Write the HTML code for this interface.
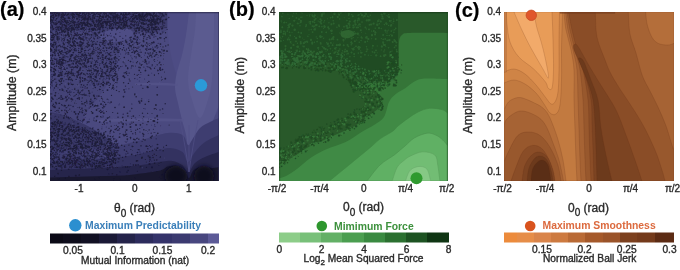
<!DOCTYPE html>
<html><head><meta charset="utf-8">
<style>
html,body{margin:0;padding:0;background:#fff;width:680px;height:270px;overflow:hidden}
body>svg{display:block;filter:blur(0.4px)}
text{font-family:"Liberation Sans",sans-serif;fill:#2a2a2a;stroke:#2a2a2a;stroke-width:0.35px}
.t{font-size:10px}
.pl{font-size:20px;font-weight:bold;fill:#000;stroke:#000;stroke-width:0.2px}
.yl{font-size:12.3px}
.xl{font-size:12px}
.lg{font-size:10.4px;font-weight:bold}
.cb{font-size:10.2px}
</style></head><body>
<svg width="680" height="270" viewBox="0 0 680 270">
<!-- panel labels -->
<text class="pl" x="0" y="15.5">(a)</text>
<text class="pl" x="229" y="15.5">(b)</text>
<text class="pl" x="455" y="17">(c)</text>

<!-- PLOT A -->
<g id="pa"><svg x="0" y="0" width="680" height="270" overflow="visible"><clipPath id="ca"><rect x="50" y="12" width="169" height="169"/></clipPath><g clip-path="url(#ca)"><filter id="bl" x="-20%" y="-20%" width="140%" height="140%"><feGaussianBlur stdDeviation="0.45"/></filter><filter id="bl2" x="-50%" y="-50%" width="200%" height="200%"><feGaussianBlur stdDeviation="2.5"/></filter><rect x="50" y="12" width="169" height="169" fill="#4a497f"/><path d="M50.0,12.0L168.0,12.0C167.7,15.2 170.7,27.5 166.0,31.0C161.3,34.5 147.3,31.5 140.0,33.0C132.7,34.5 125.7,35.5 122.0,40.0C118.3,44.5 120.0,53.3 118.0,60.0C116.0,66.7 113.0,74.2 110.0,80.0C107.0,85.8 104.2,89.2 100.0,95.0C95.8,100.8 89.2,108.3 85.0,115.0C80.8,121.7 78.3,129.2 75.0,135.0C71.7,140.8 69.2,145.8 65.0,150.0C60.8,154.2 52.5,158.3 50.0,160.0L50.0,12.0Z" fill="#444377" /><path d="M50.0,12.0L168.0,12.0L167.0,28.0C164.2,28.5 157.8,30.5 150.0,31.0C142.2,31.5 130.0,31.2 120.0,31.0C110.0,30.8 101.7,30.0 90.0,30.0C78.3,30.0 56.7,30.8 50.0,31.0L50.0,12.0Z" fill="#3d3c6d" /><path d="M98.0,36.0C98.3,34.0 105.0,31.2 110.0,30.0C115.0,28.8 124.2,28.3 128.0,29.0C131.8,29.7 133.5,32.2 133.0,34.0C132.5,35.8 129.2,38.7 125.0,40.0C120.8,41.3 112.5,42.7 108.0,42.0C103.5,41.3 97.7,38.0 98.0,36.0Z" fill="#4e4d85" /><path d="M167.5,12.0L219.0,12.0L219.0,110.0C216.7,112.5 209.8,125.0 205.0,125.0C200.2,125.0 194.2,116.7 190.0,110.0C185.8,103.3 183.0,93.3 180.0,85.0C177.0,76.7 174.0,68.3 172.0,60.0C170.0,51.7 168.8,43.0 168.0,35.0C167.2,27.0 167.6,15.8 167.5,12.0Z" fill="#4d4c84" /><path d="M189.0,12.0L219.0,12.0L219.0,105.0C218.2,107.2 216.2,112.5 214.0,118.0C211.8,123.5 209.0,131.7 206.0,138.0C203.0,144.3 198.7,151.0 196.0,156.0C193.3,161.0 191.3,169.0 190.0,168.0C188.7,167.0 188.7,155.5 188.0,150.0C187.3,144.5 187.0,140.0 186.0,135.0C185.0,130.0 183.3,125.3 182.0,120.0C180.7,114.7 179.2,108.3 178.0,103.0C176.8,97.7 175.2,93.2 175.0,88.0C174.8,82.8 175.8,77.5 177.0,72.0C178.2,66.5 180.5,61.2 182.0,55.0C183.5,48.8 184.8,42.2 186.0,35.0C187.2,27.8 188.5,15.8 189.0,12.0Z" fill="#56568b" /><path d="M196.0,12.0L214.0,12.0C214.0,15.0 214.2,22.8 214.0,30.0C213.8,37.2 213.3,46.7 213.0,55.0C212.7,63.3 212.8,72.5 212.0,80.0C211.2,87.5 210.0,93.7 208.0,100.0C206.0,106.3 202.7,118.0 200.0,118.0C197.3,118.0 194.0,106.3 192.0,100.0C190.0,93.7 188.2,87.5 188.0,80.0C187.8,72.5 189.8,63.3 191.0,55.0C192.2,46.7 194.2,37.2 195.0,30.0C195.8,22.8 195.8,15.0 196.0,12.0Z" fill="#5b5b90" /><path d="M50.0,112.0L60.0,114.0C62.5,115.0 69.2,117.3 75.0,120.0C80.8,122.7 88.8,126.3 95.0,130.0C101.2,133.7 107.5,137.8 112.0,142.0C116.5,146.2 121.0,151.2 122.0,155.0C123.0,158.8 130.0,162.5 118.0,165.0C106.0,167.5 61.3,169.2 50.0,170.0L50.0,112.0Z" fill="#383766" /><path d="M50.0,150.0L80.0,151.0C85.4,150.3 101.7,149.0 112.5,147.0C123.3,145.0 135.8,141.3 145.0,139.0C154.2,136.7 161.2,133.7 167.5,133.0C173.8,132.3 179.1,133.0 182.5,135.0C185.9,137.0 186.4,144.2 188.0,145.0C189.6,145.8 190.0,142.8 192.0,140.0C194.0,137.2 197.0,131.0 200.0,128.0C203.0,125.0 206.8,123.7 210.0,122.0C213.2,120.3 217.5,118.7 219.0,118.0L219.0,181.0L50.0,181.0L50.0,150.0Z" fill="#3e3d70" /><path d="M50.0,161.0L87.5,160.0C93.8,159.4 113.8,158.1 125.0,156.5C136.2,154.9 147.5,151.9 155.0,150.5C162.5,149.1 165.4,147.8 170.0,148.0C174.6,148.2 179.5,149.7 182.5,152.0C185.5,154.3 185.9,162.0 188.0,162.0C190.1,162.0 192.2,155.3 195.0,152.0C197.8,148.7 201.0,144.8 205.0,142.0C209.0,139.2 216.7,136.2 219.0,135.0L219.0,181.0L50.0,181.0L50.0,161.0Z" fill="#333260" /><path d="M50.0,170.0L100.0,168.0C106.2,167.6 127.1,166.6 137.5,165.5C147.9,164.4 156.7,162.2 162.5,161.5C168.3,160.8 169.2,160.4 172.5,161.0C175.8,161.6 179.3,163.2 182.0,165.0C184.7,166.8 186.3,172.3 188.5,172.0C190.7,171.7 192.2,165.5 195.0,163.0C197.8,160.5 201.0,158.8 205.0,157.0C209.0,155.2 216.7,152.8 219.0,152.0L219.0,181.0L50.0,181.0L50.0,170.0Z" fill="#26254b" /><path d="M50.0,177.5L125.0,175.5C130.5,174.8 150.8,172.5 158.0,171.0C165.2,169.5 164.8,167.3 168.0,166.5C171.2,165.7 174.2,165.2 177.0,166.0C179.8,166.8 183.0,169.0 185.0,171.0C187.0,173.0 187.5,178.2 189.0,178.0C190.5,177.8 191.5,171.9 193.8,170.0C196.0,168.1 199.4,166.8 202.5,166.5C205.6,166.2 209.8,167.9 212.5,168.0C215.2,168.1 217.9,167.2 219.0,167.0L219.0,181.0L50.0,181.0L50.0,177.5Z" fill="#19182f" /><g fill="#55548a" opacity="0.8"><path d="M135,83.5 Q160,82 178,84 L178,86 Q160,85 135,85Z"/><path d="M95,120 Q140,117 184,119 L184,121.5 Q140,121 95,122Z"/></g><g fill="#0e0d1b" filter="url(#bl2)"><ellipse cx="176" cy="176" rx="11" ry="10"/><ellipse cx="204" cy="176" rx="10" ry="10"/></g><g stroke="#504f85" stroke-width="1" fill="none" opacity="0.7"><path d="M180,120 Q186,150 189,172"/><path d="M198,120 Q192,150 189,172"/><path d="M189,125 L189,172"/></g><g fill="#17162e" opacity="0.8" filter="url(#bl)"><circle cx="59.8" cy="97.8" r="0.6"/><circle cx="61.8" cy="27.3" r="0.8"/><circle cx="98.9" cy="36.4" r="0.5"/><circle cx="60.6" cy="22.1" r="0.7"/><circle cx="132.6" cy="18.6" r="0.8"/><circle cx="130.1" cy="124.2" r="0.7"/><circle cx="53.8" cy="90.0" r="0.4"/><circle cx="60.0" cy="141.8" r="0.5"/><circle cx="116.1" cy="159.3" r="0.6"/><circle cx="75.5" cy="41.8" r="0.5"/><circle cx="60.5" cy="23.4" r="0.4"/><circle cx="107.5" cy="20.9" r="0.4"/><circle cx="67.1" cy="73.5" r="0.8"/><circle cx="153.8" cy="37.1" r="0.5"/><circle cx="64.5" cy="29.3" r="0.5"/><circle cx="141.8" cy="16.6" r="0.9"/><circle cx="110.1" cy="16.9" r="0.5"/><circle cx="88.3" cy="45.2" r="0.7"/><circle cx="142.7" cy="34.1" r="0.9"/><circle cx="85.7" cy="54.6" r="0.5"/><circle cx="72.2" cy="165.8" r="0.6"/><circle cx="138.5" cy="15.2" r="0.5"/><circle cx="50.7" cy="147.1" r="0.6"/><circle cx="96.8" cy="142.5" r="0.7"/><circle cx="73.2" cy="32.6" r="0.4"/><circle cx="90.7" cy="24.4" r="0.8"/><circle cx="103.8" cy="134.0" r="0.7"/><circle cx="124.4" cy="15.1" r="0.7"/><circle cx="136.6" cy="22.9" r="0.8"/><circle cx="56.7" cy="143.7" r="0.4"/><circle cx="146.4" cy="130.4" r="0.4"/><circle cx="64.2" cy="156.7" r="0.8"/><circle cx="139.0" cy="52.3" r="0.4"/><circle cx="58.5" cy="46.1" r="0.5"/><circle cx="80.1" cy="70.6" r="0.5"/><circle cx="52.6" cy="135.9" r="0.5"/><circle cx="118.4" cy="70.7" r="0.4"/><circle cx="62.0" cy="137.2" r="0.4"/><circle cx="99.5" cy="89.6" r="0.6"/><circle cx="102.3" cy="72.3" r="0.6"/><circle cx="135.3" cy="12.8" r="0.4"/><circle cx="117.5" cy="19.0" r="0.5"/><circle cx="55.3" cy="34.5" r="0.4"/><circle cx="61.2" cy="136.5" r="0.4"/><circle cx="94.9" cy="135.3" r="0.8"/><circle cx="154.3" cy="120.6" r="0.4"/><circle cx="92.9" cy="137.6" r="0.7"/><circle cx="52.1" cy="22.3" r="0.7"/><circle cx="70.0" cy="163.0" r="0.9"/><circle cx="85.6" cy="110.3" r="0.6"/><circle cx="89.1" cy="163.7" r="0.4"/><circle cx="103.4" cy="154.0" r="0.8"/><circle cx="96.5" cy="20.2" r="0.8"/><circle cx="94.9" cy="98.4" r="0.6"/><circle cx="142.8" cy="133.6" r="0.8"/><circle cx="98.4" cy="20.3" r="0.4"/><circle cx="116.6" cy="40.3" r="0.5"/><circle cx="73.6" cy="44.5" r="0.5"/><circle cx="65.4" cy="52.4" r="0.7"/><circle cx="107.2" cy="22.5" r="0.9"/><circle cx="53.7" cy="17.4" r="0.8"/><circle cx="130.0" cy="111.2" r="0.6"/><circle cx="56.7" cy="144.2" r="0.9"/><circle cx="159.1" cy="63.3" r="0.5"/><circle cx="51.8" cy="63.0" r="0.9"/><circle cx="88.3" cy="17.8" r="0.6"/><circle cx="81.7" cy="49.7" r="0.7"/><circle cx="58.8" cy="22.2" r="0.8"/><circle cx="106.1" cy="40.6" r="0.5"/><circle cx="55.9" cy="22.6" r="0.5"/><circle cx="94.3" cy="133.1" r="0.5"/><circle cx="157.1" cy="171.4" r="0.5"/><circle cx="115.3" cy="54.4" r="0.6"/><circle cx="111.2" cy="144.2" r="0.5"/><circle cx="94.8" cy="26.2" r="0.6"/><circle cx="70.5" cy="154.1" r="0.7"/><circle cx="91.8" cy="53.5" r="0.8"/><circle cx="99.6" cy="32.1" r="0.9"/><circle cx="84.4" cy="13.9" r="0.7"/><circle cx="81.3" cy="64.8" r="0.8"/><circle cx="142.6" cy="22.7" r="0.6"/><circle cx="143.0" cy="120.0" r="0.4"/><circle cx="83.3" cy="135.0" r="0.4"/><circle cx="77.5" cy="14.5" r="0.7"/><circle cx="77.1" cy="144.8" r="0.6"/><circle cx="145.0" cy="140.0" r="0.8"/><circle cx="125.5" cy="86.1" r="0.7"/><circle cx="122.8" cy="27.5" r="0.6"/><circle cx="56.9" cy="119.6" r="0.8"/><circle cx="96.5" cy="149.8" r="0.6"/><circle cx="135.5" cy="65.9" r="0.5"/><circle cx="110.8" cy="159.5" r="0.7"/><circle cx="110.9" cy="141.2" r="0.4"/><circle cx="50.3" cy="17.7" r="0.7"/><circle cx="53.8" cy="12.4" r="0.4"/><circle cx="91.2" cy="37.2" r="0.7"/><circle cx="94.7" cy="13.9" r="0.7"/><circle cx="118.6" cy="52.2" r="0.8"/><circle cx="79.5" cy="64.3" r="0.4"/><circle cx="88.2" cy="29.8" r="0.4"/><circle cx="52.6" cy="56.0" r="0.8"/><circle cx="63.1" cy="165.9" r="0.4"/><circle cx="74.0" cy="16.9" r="0.7"/><circle cx="68.9" cy="17.8" r="0.8"/><circle cx="98.6" cy="28.9" r="0.8"/><circle cx="84.6" cy="65.9" r="0.4"/><circle cx="65.4" cy="150.5" r="0.4"/><circle cx="108.7" cy="152.6" r="0.9"/><circle cx="64.6" cy="162.1" r="0.5"/><circle cx="94.5" cy="164.3" r="0.6"/><circle cx="77.2" cy="67.4" r="0.9"/><circle cx="83.2" cy="119.8" r="0.5"/><circle cx="115.6" cy="17.7" r="0.8"/><circle cx="56.4" cy="103.8" r="0.8"/><circle cx="110.1" cy="21.6" r="0.6"/><circle cx="116.2" cy="47.8" r="0.8"/><circle cx="110.0" cy="155.8" r="0.6"/><circle cx="92.8" cy="84.0" r="0.4"/><circle cx="73.7" cy="152.5" r="0.4"/><circle cx="92.3" cy="29.2" r="0.5"/><circle cx="89.6" cy="35.5" r="0.4"/><circle cx="51.1" cy="154.1" r="0.7"/><circle cx="157.7" cy="119.5" r="0.7"/><circle cx="99.5" cy="151.9" r="0.6"/><circle cx="157.3" cy="144.5" r="0.7"/><circle cx="100.8" cy="13.0" r="0.9"/><circle cx="127.4" cy="140.9" r="0.4"/><circle cx="59.2" cy="107.9" r="0.4"/><circle cx="125.5" cy="14.4" r="0.7"/><circle cx="85.9" cy="37.6" r="0.4"/><circle cx="64.9" cy="159.0" r="0.4"/><circle cx="81.7" cy="20.5" r="0.7"/><circle cx="160.0" cy="150.1" r="0.5"/><circle cx="132.2" cy="22.1" r="0.7"/><circle cx="145.8" cy="61.4" r="0.9"/><circle cx="97.9" cy="12.3" r="0.6"/><circle cx="82.0" cy="44.5" r="0.7"/><circle cx="137.4" cy="37.2" r="0.9"/><circle cx="108.3" cy="99.8" r="0.4"/><circle cx="56.4" cy="46.0" r="0.4"/><circle cx="87.5" cy="18.5" r="0.5"/><circle cx="93.4" cy="33.0" r="0.4"/><circle cx="52.1" cy="133.2" r="0.4"/><circle cx="107.4" cy="151.1" r="0.7"/><circle cx="74.1" cy="49.5" r="0.7"/><circle cx="95.0" cy="81.6" r="0.5"/><circle cx="98.9" cy="163.5" r="0.7"/><circle cx="99.6" cy="177.4" r="0.8"/><circle cx="107.6" cy="35.7" r="0.8"/><circle cx="84.2" cy="23.1" r="0.6"/><circle cx="133.3" cy="14.6" r="0.6"/><circle cx="112.7" cy="112.5" r="0.6"/><circle cx="139.7" cy="102.8" r="0.9"/><circle cx="87.8" cy="42.8" r="0.5"/><circle cx="168.1" cy="45.0" r="0.7"/><circle cx="57.6" cy="32.8" r="0.6"/><circle cx="97.3" cy="32.6" r="0.4"/><circle cx="107.2" cy="52.6" r="0.6"/><circle cx="123.2" cy="97.3" r="0.4"/><circle cx="70.9" cy="34.2" r="0.6"/><circle cx="98.7" cy="53.1" r="0.7"/><circle cx="149.0" cy="14.0" r="0.8"/><circle cx="50.7" cy="141.4" r="0.6"/><circle cx="64.9" cy="167.5" r="0.8"/><circle cx="122.1" cy="165.9" r="0.4"/><circle cx="138.8" cy="28.7" r="0.6"/><circle cx="157.6" cy="19.2" r="0.8"/><circle cx="101.8" cy="128.7" r="0.5"/><circle cx="68.0" cy="28.9" r="0.6"/><circle cx="60.5" cy="14.1" r="0.5"/><circle cx="115.2" cy="21.2" r="0.7"/><circle cx="92.1" cy="19.4" r="0.8"/><circle cx="102.2" cy="159.9" r="0.8"/><circle cx="91.1" cy="41.3" r="0.5"/><circle cx="118.1" cy="23.1" r="0.8"/><circle cx="109.4" cy="53.4" r="0.5"/><circle cx="90.1" cy="17.9" r="0.5"/><circle cx="76.3" cy="131.3" r="0.5"/><circle cx="72.1" cy="131.4" r="0.8"/><circle cx="95.7" cy="142.4" r="0.7"/><circle cx="104.3" cy="124.0" r="0.7"/><circle cx="61.1" cy="64.6" r="0.4"/><circle cx="77.4" cy="45.5" r="0.6"/><circle cx="80.4" cy="153.9" r="0.7"/><circle cx="109.0" cy="12.2" r="0.8"/><circle cx="98.4" cy="19.3" r="0.7"/><circle cx="58.0" cy="53.3" r="0.8"/><circle cx="64.6" cy="129.4" r="0.8"/><circle cx="60.0" cy="72.5" r="0.5"/><circle cx="69.3" cy="60.9" r="0.5"/><circle cx="60.2" cy="59.5" r="0.7"/><circle cx="62.1" cy="13.8" r="0.8"/><circle cx="145.3" cy="30.4" r="0.6"/><circle cx="82.1" cy="103.8" r="0.9"/><circle cx="73.4" cy="16.7" r="0.8"/><circle cx="112.4" cy="152.5" r="0.4"/><circle cx="100.6" cy="110.2" r="0.7"/><circle cx="65.2" cy="18.8" r="0.5"/><circle cx="77.8" cy="62.0" r="0.7"/><circle cx="108.8" cy="45.0" r="0.5"/><circle cx="154.8" cy="149.1" r="0.7"/><circle cx="125.6" cy="26.4" r="0.6"/><circle cx="80.5" cy="162.4" r="0.4"/><circle cx="63.6" cy="81.0" r="0.6"/><circle cx="112.9" cy="14.6" r="0.5"/><circle cx="78.4" cy="138.0" r="0.8"/><circle cx="93.0" cy="44.6" r="0.8"/><circle cx="148.3" cy="31.2" r="0.4"/><circle cx="74.4" cy="159.9" r="0.7"/><circle cx="153.2" cy="24.8" r="0.5"/><circle cx="78.7" cy="73.0" r="0.7"/><circle cx="115.6" cy="71.8" r="0.7"/><circle cx="106.4" cy="15.5" r="0.9"/><circle cx="89.7" cy="71.0" r="0.4"/><circle cx="146.1" cy="63.1" r="0.4"/><circle cx="110.3" cy="142.9" r="0.8"/><circle cx="96.6" cy="55.5" r="0.4"/><circle cx="120.0" cy="19.7" r="0.5"/><circle cx="128.3" cy="14.3" r="0.7"/><circle cx="65.2" cy="149.6" r="0.6"/><circle cx="88.6" cy="139.9" r="0.4"/><circle cx="72.7" cy="22.2" r="0.7"/><circle cx="94.3" cy="85.3" r="0.5"/><circle cx="97.8" cy="68.0" r="0.8"/><circle cx="77.3" cy="127.4" r="0.6"/><circle cx="68.9" cy="176.7" r="0.9"/><circle cx="75.5" cy="136.4" r="0.4"/><circle cx="67.7" cy="15.4" r="0.5"/><circle cx="73.0" cy="84.4" r="0.7"/><circle cx="75.0" cy="136.8" r="0.4"/><circle cx="80.0" cy="56.7" r="0.4"/><circle cx="111.3" cy="13.8" r="0.7"/><circle cx="117.5" cy="65.8" r="0.9"/><circle cx="115.4" cy="77.1" r="0.4"/><circle cx="113.7" cy="52.7" r="0.4"/><circle cx="58.4" cy="129.3" r="0.7"/><circle cx="70.8" cy="38.0" r="0.4"/><circle cx="110.3" cy="147.7" r="0.6"/><circle cx="90.2" cy="74.7" r="0.6"/><circle cx="96.4" cy="66.8" r="0.8"/><circle cx="154.4" cy="74.8" r="0.6"/><circle cx="105.7" cy="24.0" r="0.6"/><circle cx="117.9" cy="18.9" r="0.7"/><circle cx="87.3" cy="25.0" r="0.4"/><circle cx="64.9" cy="139.3" r="0.4"/><circle cx="59.3" cy="128.8" r="0.7"/><circle cx="94.3" cy="64.9" r="0.8"/><circle cx="84.1" cy="20.8" r="0.6"/><circle cx="111.8" cy="147.4" r="0.9"/><circle cx="144.0" cy="20.6" r="0.6"/><circle cx="96.2" cy="146.5" r="0.7"/><circle cx="58.3" cy="157.8" r="0.7"/><circle cx="80.4" cy="167.9" r="0.8"/><circle cx="74.6" cy="167.1" r="0.4"/><circle cx="59.6" cy="129.6" r="0.8"/><circle cx="103.9" cy="106.7" r="0.9"/><circle cx="104.8" cy="154.2" r="0.8"/><circle cx="142.2" cy="27.8" r="0.8"/><circle cx="122.6" cy="126.7" r="0.8"/><circle cx="108.8" cy="138.8" r="0.9"/><circle cx="58.5" cy="68.3" r="0.5"/><circle cx="100.4" cy="23.7" r="0.4"/><circle cx="128.0" cy="17.7" r="0.4"/><circle cx="131.2" cy="37.2" r="0.8"/><circle cx="69.9" cy="91.1" r="0.6"/><circle cx="118.2" cy="46.4" r="0.5"/><circle cx="88.7" cy="138.8" r="0.5"/><circle cx="99.3" cy="162.5" r="0.7"/><circle cx="107.8" cy="149.0" r="0.9"/><circle cx="118.8" cy="26.9" r="0.8"/><circle cx="73.7" cy="45.5" r="0.5"/><circle cx="92.6" cy="153.7" r="0.5"/><circle cx="118.7" cy="26.7" r="0.8"/><circle cx="106.7" cy="48.1" r="0.8"/><circle cx="154.7" cy="61.4" r="0.5"/><circle cx="57.0" cy="151.1" r="0.5"/><circle cx="147.5" cy="19.9" r="0.8"/><circle cx="59.0" cy="62.3" r="0.9"/><circle cx="111.3" cy="167.1" r="0.5"/><circle cx="57.0" cy="151.7" r="0.5"/><circle cx="107.2" cy="23.1" r="0.6"/><circle cx="96.1" cy="48.0" r="0.4"/><circle cx="110.8" cy="130.2" r="0.8"/><circle cx="104.9" cy="12.6" r="0.4"/><circle cx="96.5" cy="22.0" r="0.7"/><circle cx="86.8" cy="146.1" r="0.8"/><circle cx="121.6" cy="22.7" r="0.7"/><circle cx="107.7" cy="44.1" r="0.5"/><circle cx="82.8" cy="136.4" r="0.6"/><circle cx="83.4" cy="130.9" r="0.5"/><circle cx="84.8" cy="14.2" r="0.7"/><circle cx="101.7" cy="19.5" r="0.5"/><circle cx="67.3" cy="30.0" r="0.8"/><circle cx="71.7" cy="30.4" r="0.6"/><circle cx="85.4" cy="54.6" r="0.8"/><circle cx="114.0" cy="13.5" r="0.8"/><circle cx="128.4" cy="19.3" r="0.6"/><circle cx="71.3" cy="45.8" r="0.7"/><circle cx="61.4" cy="134.4" r="0.6"/><circle cx="151.2" cy="22.6" r="0.9"/><circle cx="53.1" cy="140.0" r="0.9"/><circle cx="77.5" cy="98.5" r="0.8"/><circle cx="51.3" cy="137.9" r="0.8"/><circle cx="109.6" cy="27.9" r="0.8"/><circle cx="101.2" cy="140.8" r="0.7"/><circle cx="62.7" cy="31.2" r="0.7"/><circle cx="100.8" cy="70.9" r="0.4"/><circle cx="92.2" cy="81.7" r="0.5"/><circle cx="65.1" cy="47.9" r="0.8"/><circle cx="54.7" cy="128.8" r="0.5"/><circle cx="101.4" cy="22.8" r="0.4"/><circle cx="111.1" cy="36.0" r="0.6"/><circle cx="125.2" cy="135.1" r="0.9"/><circle cx="107.9" cy="152.7" r="0.8"/><circle cx="163.4" cy="58.9" r="0.5"/><circle cx="87.7" cy="23.0" r="0.8"/><circle cx="87.9" cy="44.8" r="0.6"/><circle cx="131.0" cy="41.4" r="0.6"/><circle cx="70.0" cy="23.5" r="0.6"/><circle cx="87.6" cy="137.8" r="0.8"/><circle cx="78.8" cy="158.1" r="0.4"/><circle cx="131.4" cy="42.4" r="0.7"/><circle cx="137.0" cy="16.1" r="0.8"/><circle cx="56.1" cy="86.2" r="0.5"/><circle cx="117.9" cy="126.8" r="0.9"/><circle cx="53.9" cy="75.2" r="0.8"/><circle cx="73.3" cy="52.6" r="0.9"/><circle cx="75.2" cy="35.2" r="0.7"/><circle cx="136.7" cy="31.7" r="0.7"/><circle cx="62.4" cy="137.3" r="0.6"/><circle cx="163.6" cy="147.1" r="0.6"/><circle cx="71.6" cy="49.6" r="0.5"/><circle cx="56.0" cy="35.0" r="0.6"/><circle cx="53.0" cy="126.2" r="0.6"/><circle cx="149.5" cy="45.5" r="0.6"/><circle cx="50.7" cy="50.9" r="0.7"/><circle cx="59.3" cy="26.2" r="0.4"/><circle cx="144.7" cy="20.7" r="0.7"/><circle cx="65.8" cy="124.1" r="0.4"/><circle cx="82.6" cy="110.4" r="0.7"/><circle cx="90.7" cy="55.7" r="0.6"/><circle cx="94.1" cy="38.6" r="0.8"/><circle cx="65.1" cy="20.3" r="0.4"/><circle cx="83.4" cy="32.2" r="0.6"/><circle cx="100.7" cy="23.6" r="0.8"/><circle cx="123.9" cy="26.5" r="0.4"/><circle cx="68.1" cy="149.5" r="0.5"/><circle cx="75.1" cy="156.4" r="0.4"/><circle cx="147.2" cy="13.8" r="0.7"/><circle cx="111.8" cy="75.3" r="0.6"/><circle cx="86.2" cy="69.5" r="0.4"/><circle cx="105.3" cy="16.4" r="0.5"/><circle cx="61.9" cy="23.4" r="0.5"/><circle cx="146.9" cy="29.9" r="0.8"/><circle cx="81.0" cy="165.8" r="0.8"/><circle cx="85.0" cy="16.0" r="0.8"/><circle cx="65.6" cy="13.0" r="0.7"/><circle cx="124.8" cy="26.6" r="0.8"/><circle cx="64.4" cy="44.6" r="0.6"/><circle cx="74.4" cy="40.6" r="0.7"/><circle cx="146.8" cy="13.1" r="0.8"/><circle cx="54.5" cy="66.6" r="0.6"/><circle cx="111.4" cy="163.3" r="0.6"/><circle cx="53.7" cy="44.6" r="0.8"/><circle cx="74.8" cy="50.5" r="0.5"/><circle cx="56.4" cy="21.5" r="0.4"/><circle cx="80.4" cy="37.7" r="0.8"/><circle cx="144.8" cy="36.1" r="0.6"/><circle cx="69.2" cy="159.2" r="0.7"/><circle cx="93.4" cy="135.4" r="0.4"/><circle cx="70.0" cy="138.6" r="0.7"/><circle cx="55.6" cy="92.8" r="0.8"/><circle cx="73.1" cy="149.7" r="0.5"/><circle cx="92.3" cy="166.2" r="0.8"/><circle cx="78.3" cy="35.2" r="0.6"/><circle cx="103.0" cy="16.8" r="0.4"/><circle cx="50.3" cy="20.3" r="0.9"/><circle cx="102.9" cy="108.1" r="0.6"/><circle cx="52.2" cy="46.3" r="0.8"/><circle cx="68.7" cy="138.1" r="0.4"/><circle cx="93.1" cy="35.9" r="0.4"/><circle cx="119.7" cy="103.9" r="0.4"/><circle cx="90.9" cy="151.3" r="0.4"/><circle cx="61.7" cy="25.9" r="0.4"/><circle cx="76.1" cy="63.6" r="0.9"/><circle cx="123.2" cy="123.7" r="0.8"/><circle cx="50.6" cy="49.6" r="0.5"/><circle cx="122.8" cy="38.3" r="0.6"/><circle cx="104.4" cy="21.1" r="0.7"/><circle cx="124.0" cy="12.6" r="0.7"/><circle cx="114.3" cy="125.5" r="0.4"/><circle cx="60.3" cy="72.9" r="0.9"/><circle cx="81.0" cy="38.7" r="0.9"/><circle cx="150.6" cy="55.1" r="0.6"/><circle cx="114.1" cy="13.9" r="0.8"/><circle cx="81.8" cy="15.4" r="0.7"/><circle cx="147.1" cy="66.4" r="0.5"/><circle cx="70.7" cy="48.0" r="0.6"/><circle cx="111.4" cy="164.5" r="0.9"/><circle cx="90.6" cy="156.8" r="0.7"/><circle cx="113.7" cy="18.4" r="0.8"/><circle cx="95.5" cy="143.2" r="0.9"/><circle cx="59.2" cy="76.3" r="0.7"/><circle cx="115.4" cy="147.1" r="0.5"/><circle cx="50.4" cy="27.8" r="0.6"/><circle cx="112.8" cy="157.5" r="0.8"/><circle cx="145.2" cy="60.0" r="0.9"/><circle cx="113.4" cy="136.0" r="0.5"/><circle cx="103.1" cy="105.1" r="0.6"/><circle cx="154.2" cy="34.8" r="0.7"/><circle cx="153.4" cy="17.6" r="0.9"/><circle cx="79.9" cy="151.9" r="0.4"/><circle cx="84.3" cy="163.9" r="0.4"/><circle cx="106.9" cy="23.2" r="0.7"/><circle cx="70.4" cy="39.0" r="0.5"/><circle cx="136.2" cy="96.7" r="0.8"/><circle cx="76.0" cy="167.2" r="0.6"/><circle cx="109.7" cy="149.3" r="0.5"/><circle cx="50.3" cy="147.0" r="0.8"/><circle cx="71.2" cy="143.4" r="0.8"/><circle cx="82.0" cy="29.0" r="0.6"/><circle cx="83.7" cy="18.5" r="0.7"/><circle cx="101.8" cy="134.9" r="0.7"/><circle cx="58.5" cy="54.0" r="0.5"/><circle cx="87.8" cy="13.4" r="0.4"/><circle cx="85.3" cy="18.2" r="0.6"/><circle cx="150.9" cy="68.9" r="0.7"/><circle cx="98.5" cy="145.6" r="0.7"/><circle cx="61.5" cy="170.2" r="0.7"/><circle cx="112.3" cy="42.4" r="0.6"/><circle cx="116.4" cy="139.6" r="0.4"/><circle cx="101.0" cy="133.0" r="0.6"/><circle cx="71.4" cy="92.0" r="0.4"/><circle cx="87.6" cy="25.8" r="0.5"/><circle cx="151.0" cy="157.9" r="0.4"/><circle cx="97.0" cy="96.0" r="0.6"/><circle cx="96.4" cy="120.6" r="0.8"/><circle cx="133.8" cy="50.7" r="0.6"/><circle cx="63.4" cy="157.9" r="0.5"/><circle cx="166.2" cy="19.3" r="0.9"/><circle cx="87.8" cy="155.3" r="0.8"/><circle cx="101.1" cy="57.2" r="0.4"/><circle cx="123.6" cy="76.2" r="0.8"/><circle cx="113.4" cy="12.1" r="0.5"/><circle cx="92.8" cy="16.1" r="0.7"/><circle cx="94.9" cy="79.5" r="0.7"/><circle cx="79.5" cy="24.8" r="0.4"/><circle cx="52.0" cy="27.8" r="0.6"/><circle cx="52.1" cy="76.8" r="0.7"/><circle cx="100.0" cy="140.6" r="0.5"/><circle cx="104.1" cy="160.1" r="0.8"/><circle cx="90.2" cy="76.4" r="0.7"/><circle cx="76.3" cy="34.6" r="0.7"/><circle cx="97.6" cy="142.4" r="0.8"/><circle cx="77.0" cy="30.0" r="0.8"/><circle cx="77.4" cy="24.4" r="0.4"/><circle cx="162.9" cy="26.1" r="0.7"/><circle cx="55.3" cy="69.6" r="0.8"/><circle cx="86.2" cy="67.0" r="0.8"/><circle cx="93.7" cy="29.4" r="0.8"/><circle cx="119.9" cy="179.5" r="0.8"/><circle cx="86.1" cy="139.2" r="0.6"/><circle cx="111.8" cy="30.2" r="0.6"/><circle cx="59.1" cy="38.9" r="0.8"/><circle cx="57.2" cy="23.2" r="0.7"/><circle cx="101.0" cy="23.3" r="0.7"/><circle cx="87.9" cy="19.4" r="0.4"/><circle cx="125.3" cy="51.4" r="0.4"/><circle cx="108.7" cy="148.4" r="0.7"/><circle cx="157.9" cy="28.9" r="0.5"/><circle cx="100.5" cy="134.2" r="0.8"/><circle cx="114.0" cy="178.7" r="0.8"/><circle cx="132.7" cy="18.2" r="0.5"/><circle cx="129.7" cy="12.1" r="0.7"/><circle cx="83.4" cy="64.5" r="0.4"/><circle cx="79.2" cy="135.6" r="0.8"/><circle cx="75.0" cy="28.3" r="0.6"/><circle cx="104.3" cy="45.5" r="0.8"/><circle cx="54.0" cy="153.2" r="0.4"/><circle cx="69.7" cy="74.1" r="0.4"/><circle cx="57.0" cy="58.3" r="0.4"/><circle cx="115.0" cy="147.7" r="0.8"/><circle cx="100.9" cy="104.1" r="0.6"/><circle cx="119.9" cy="172.0" r="0.6"/><circle cx="57.1" cy="129.5" r="0.6"/><circle cx="72.2" cy="160.1" r="0.5"/><circle cx="52.8" cy="67.5" r="0.4"/><circle cx="120.7" cy="17.9" r="0.6"/><circle cx="70.0" cy="47.5" r="0.7"/><circle cx="74.5" cy="22.2" r="0.4"/><circle cx="70.6" cy="50.7" r="0.7"/><circle cx="80.7" cy="133.7" r="0.9"/><circle cx="157.8" cy="69.9" r="0.4"/><circle cx="82.5" cy="34.3" r="0.5"/><circle cx="116.8" cy="140.4" r="0.6"/><circle cx="114.4" cy="57.9" r="0.8"/><circle cx="139.0" cy="47.0" r="0.5"/><circle cx="165.2" cy="103.8" r="0.7"/><circle cx="123.2" cy="23.7" r="0.5"/><circle cx="92.0" cy="61.2" r="0.5"/><circle cx="57.5" cy="39.8" r="0.6"/><circle cx="107.7" cy="19.8" r="0.5"/><circle cx="110.2" cy="162.2" r="0.4"/><circle cx="129.1" cy="19.1" r="0.4"/><circle cx="72.6" cy="39.8" r="0.4"/><circle cx="118.2" cy="147.2" r="0.5"/><circle cx="146.8" cy="31.9" r="0.4"/><circle cx="76.0" cy="152.6" r="0.8"/><circle cx="101.6" cy="26.3" r="0.9"/><circle cx="56.6" cy="148.9" r="0.7"/><circle cx="65.2" cy="167.5" r="0.4"/><circle cx="159.6" cy="19.7" r="0.4"/><circle cx="125.6" cy="25.2" r="0.8"/><circle cx="62.7" cy="32.9" r="0.4"/><circle cx="54.0" cy="58.2" r="0.6"/><circle cx="128.4" cy="60.3" r="0.6"/><circle cx="132.5" cy="41.7" r="0.8"/><circle cx="69.0" cy="154.6" r="0.8"/><circle cx="105.6" cy="63.6" r="0.9"/><circle cx="149.6" cy="151.5" r="0.6"/><circle cx="93.4" cy="150.7" r="0.6"/><circle cx="62.1" cy="129.7" r="0.4"/><circle cx="149.9" cy="84.5" r="0.4"/><circle cx="79.5" cy="12.9" r="0.7"/><circle cx="111.6" cy="15.1" r="0.5"/><circle cx="62.7" cy="129.4" r="0.5"/><circle cx="103.4" cy="92.3" r="0.6"/><circle cx="81.2" cy="29.2" r="0.6"/><circle cx="62.1" cy="18.2" r="0.4"/><circle cx="94.4" cy="143.8" r="0.5"/><circle cx="104.2" cy="161.1" r="0.4"/><circle cx="68.4" cy="143.7" r="0.6"/><circle cx="139.9" cy="15.3" r="0.5"/><circle cx="52.3" cy="27.7" r="0.8"/><circle cx="70.3" cy="66.9" r="0.9"/><circle cx="63.0" cy="28.4" r="0.4"/><circle cx="75.1" cy="158.2" r="0.9"/><circle cx="111.9" cy="12.1" r="0.8"/><circle cx="71.4" cy="30.9" r="0.7"/><circle cx="72.1" cy="15.4" r="0.4"/><circle cx="93.8" cy="76.6" r="0.4"/><circle cx="93.9" cy="53.2" r="0.6"/><circle cx="110.8" cy="66.8" r="0.8"/><circle cx="89.4" cy="164.2" r="0.5"/><circle cx="61.6" cy="14.7" r="0.8"/><circle cx="79.0" cy="70.5" r="0.8"/><circle cx="66.9" cy="146.6" r="0.4"/><circle cx="85.4" cy="102.4" r="0.5"/><circle cx="74.8" cy="25.0" r="0.8"/><circle cx="160.9" cy="26.8" r="0.7"/><circle cx="139.5" cy="16.5" r="0.7"/><circle cx="151.6" cy="25.6" r="0.5"/><circle cx="87.4" cy="131.9" r="0.6"/><circle cx="125.6" cy="72.4" r="0.6"/><circle cx="140.0" cy="64.1" r="0.6"/><circle cx="61.9" cy="41.0" r="0.5"/><circle cx="72.6" cy="15.1" r="0.9"/><circle cx="97.5" cy="71.4" r="0.8"/><circle cx="133.4" cy="146.5" r="0.4"/><circle cx="84.8" cy="74.3" r="0.6"/><circle cx="61.3" cy="137.9" r="0.7"/><circle cx="97.9" cy="167.2" r="0.5"/><circle cx="85.6" cy="146.5" r="0.6"/><circle cx="69.8" cy="162.4" r="0.8"/><circle cx="93.6" cy="37.5" r="0.4"/><circle cx="77.7" cy="159.8" r="0.8"/><circle cx="58.5" cy="159.3" r="0.5"/><circle cx="66.1" cy="138.8" r="0.9"/><circle cx="87.7" cy="160.3" r="0.4"/><circle cx="64.6" cy="24.9" r="0.9"/><circle cx="110.0" cy="133.1" r="0.6"/><circle cx="141.2" cy="28.6" r="0.6"/><circle cx="70.3" cy="29.9" r="0.5"/><circle cx="151.2" cy="32.0" r="0.4"/><circle cx="51.7" cy="13.7" r="0.5"/><circle cx="94.7" cy="158.5" r="0.8"/><circle cx="87.6" cy="122.4" r="0.4"/><circle cx="92.4" cy="146.6" r="0.5"/><circle cx="156.7" cy="16.2" r="0.7"/><circle cx="86.7" cy="55.4" r="0.7"/><circle cx="132.4" cy="12.4" r="0.5"/><circle cx="55.2" cy="130.4" r="0.7"/><circle cx="134.6" cy="18.0" r="0.8"/><circle cx="151.7" cy="19.5" r="0.8"/><circle cx="154.4" cy="160.1" r="0.7"/><circle cx="80.7" cy="68.1" r="0.6"/><circle cx="57.8" cy="123.0" r="0.8"/><circle cx="63.7" cy="131.0" r="0.9"/><circle cx="131.8" cy="123.2" r="0.5"/><circle cx="101.7" cy="26.5" r="0.8"/><circle cx="53.8" cy="71.4" r="0.9"/><circle cx="95.2" cy="153.0" r="0.8"/><circle cx="111.1" cy="25.0" r="0.7"/><circle cx="96.7" cy="98.9" r="0.5"/><circle cx="62.6" cy="24.8" r="0.6"/><circle cx="157.3" cy="22.4" r="0.8"/><circle cx="80.1" cy="69.2" r="0.8"/><circle cx="60.0" cy="22.4" r="0.4"/><circle cx="57.6" cy="121.8" r="0.5"/><circle cx="122.5" cy="26.5" r="0.4"/><circle cx="107.6" cy="165.5" r="0.5"/><circle cx="136.7" cy="54.6" r="0.4"/><circle cx="70.6" cy="159.1" r="0.8"/><circle cx="143.8" cy="67.0" r="0.6"/><circle cx="89.2" cy="119.1" r="0.4"/><circle cx="57.3" cy="161.2" r="0.5"/><circle cx="143.4" cy="45.8" r="0.8"/><circle cx="77.5" cy="107.5" r="0.4"/><circle cx="64.9" cy="161.1" r="0.4"/><circle cx="119.6" cy="128.6" r="0.7"/><circle cx="109.7" cy="28.5" r="0.6"/><circle cx="101.1" cy="158.5" r="0.6"/><circle cx="60.8" cy="46.7" r="0.8"/><circle cx="137.4" cy="19.1" r="0.6"/><circle cx="152.6" cy="42.9" r="0.7"/><circle cx="78.5" cy="153.7" r="0.5"/><circle cx="84.0" cy="17.9" r="0.4"/><circle cx="110.4" cy="26.3" r="0.5"/><circle cx="78.7" cy="66.2" r="0.5"/><circle cx="146.9" cy="151.8" r="0.8"/><circle cx="148.7" cy="35.7" r="0.8"/><circle cx="130.6" cy="138.6" r="0.6"/><circle cx="95.4" cy="105.6" r="0.9"/><circle cx="156.6" cy="31.0" r="0.6"/><circle cx="155.2" cy="24.3" r="0.8"/><circle cx="146.9" cy="124.6" r="0.6"/><circle cx="142.0" cy="127.1" r="0.4"/><circle cx="82.4" cy="132.1" r="0.6"/><circle cx="145.2" cy="34.8" r="0.6"/><circle cx="52.4" cy="19.6" r="0.4"/><circle cx="135.6" cy="155.6" r="0.7"/><circle cx="97.7" cy="58.4" r="0.4"/><circle cx="52.6" cy="54.9" r="0.7"/><circle cx="76.1" cy="32.8" r="0.4"/><circle cx="85.8" cy="159.2" r="0.7"/><circle cx="155.0" cy="22.3" r="0.8"/><circle cx="137.3" cy="48.1" r="0.6"/><circle cx="103.0" cy="71.9" r="0.5"/><circle cx="74.4" cy="148.3" r="0.5"/><circle cx="112.4" cy="13.2" r="0.5"/><circle cx="80.0" cy="92.5" r="0.7"/><circle cx="105.4" cy="16.0" r="0.8"/><circle cx="74.5" cy="112.0" r="0.9"/><circle cx="80.4" cy="52.8" r="0.7"/><circle cx="63.7" cy="43.8" r="0.9"/><circle cx="76.9" cy="35.7" r="0.8"/><circle cx="66.7" cy="145.3" r="0.8"/><circle cx="106.9" cy="19.1" r="0.7"/><circle cx="83.3" cy="19.2" r="0.7"/><circle cx="116.6" cy="49.4" r="0.8"/><circle cx="151.0" cy="44.1" r="0.7"/><circle cx="74.6" cy="49.1" r="0.7"/><circle cx="122.1" cy="123.1" r="0.6"/><circle cx="138.8" cy="17.1" r="0.7"/><circle cx="118.4" cy="27.6" r="0.6"/><circle cx="52.7" cy="44.5" r="0.5"/><circle cx="125.7" cy="156.6" r="0.8"/><circle cx="62.6" cy="59.3" r="0.8"/><circle cx="111.2" cy="160.0" r="0.8"/><circle cx="72.1" cy="89.6" r="0.4"/><circle cx="123.5" cy="22.1" r="0.5"/><circle cx="52.3" cy="132.8" r="0.6"/><circle cx="121.2" cy="13.9" r="0.6"/><circle cx="69.9" cy="50.0" r="0.6"/><circle cx="95.0" cy="145.7" r="0.9"/><circle cx="53.2" cy="52.2" r="0.8"/><circle cx="131.6" cy="48.9" r="0.5"/><circle cx="98.3" cy="23.2" r="0.8"/><circle cx="84.9" cy="55.0" r="0.7"/><circle cx="73.6" cy="138.3" r="0.8"/><circle cx="63.3" cy="137.6" r="0.4"/><circle cx="86.4" cy="13.3" r="0.8"/><circle cx="73.7" cy="166.1" r="0.5"/><circle cx="99.7" cy="22.2" r="0.7"/><circle cx="52.9" cy="33.8" r="0.7"/><circle cx="50.6" cy="18.1" r="0.8"/><circle cx="61.7" cy="122.8" r="0.6"/><circle cx="54.9" cy="53.7" r="0.7"/><circle cx="88.9" cy="121.9" r="0.8"/><circle cx="156.0" cy="21.2" r="0.9"/><circle cx="71.8" cy="50.0" r="0.6"/><circle cx="62.1" cy="16.4" r="0.5"/><circle cx="154.5" cy="15.9" r="0.8"/><circle cx="104.4" cy="12.5" r="0.9"/><circle cx="139.8" cy="77.5" r="0.6"/><circle cx="110.0" cy="12.1" r="0.5"/><circle cx="106.6" cy="143.2" r="0.7"/><circle cx="123.2" cy="114.2" r="0.6"/><circle cx="97.4" cy="12.8" r="0.6"/><circle cx="119.6" cy="155.3" r="0.9"/><circle cx="92.4" cy="156.0" r="0.6"/><circle cx="158.2" cy="43.3" r="0.5"/><circle cx="113.5" cy="17.4" r="0.7"/><circle cx="102.5" cy="54.5" r="0.4"/><circle cx="79.1" cy="60.8" r="0.7"/><circle cx="72.6" cy="20.1" r="0.4"/><circle cx="119.2" cy="21.4" r="0.5"/><circle cx="110.0" cy="145.4" r="0.6"/><circle cx="69.5" cy="94.2" r="0.7"/><circle cx="83.0" cy="154.8" r="0.6"/><circle cx="58.8" cy="128.7" r="0.8"/><circle cx="92.4" cy="113.0" r="0.9"/><circle cx="69.9" cy="28.7" r="0.6"/><circle cx="52.7" cy="149.3" r="0.4"/><circle cx="59.4" cy="68.3" r="0.7"/><circle cx="87.1" cy="16.8" r="0.4"/><circle cx="65.5" cy="21.6" r="0.6"/><circle cx="78.2" cy="90.3" r="0.8"/><circle cx="93.1" cy="17.3" r="0.4"/><circle cx="67.8" cy="73.7" r="0.9"/><circle cx="58.0" cy="164.0" r="0.8"/><circle cx="82.7" cy="28.1" r="0.6"/><circle cx="67.9" cy="155.3" r="0.9"/><circle cx="162.6" cy="28.0" r="0.7"/><circle cx="87.3" cy="122.0" r="0.7"/><circle cx="152.7" cy="25.3" r="0.4"/><circle cx="111.8" cy="40.1" r="0.4"/><circle cx="136.7" cy="84.7" r="0.4"/><circle cx="126.3" cy="20.9" r="0.8"/><circle cx="72.7" cy="125.7" r="0.8"/><circle cx="59.2" cy="21.4" r="0.6"/><circle cx="54.3" cy="128.8" r="0.6"/><circle cx="86.6" cy="100.0" r="0.4"/><circle cx="99.1" cy="20.0" r="0.7"/><circle cx="116.9" cy="146.8" r="0.7"/><circle cx="64.4" cy="67.7" r="0.4"/><circle cx="64.7" cy="15.2" r="0.5"/><circle cx="59.2" cy="13.9" r="0.8"/><circle cx="61.1" cy="165.2" r="0.7"/><circle cx="83.8" cy="160.4" r="0.8"/><circle cx="128.9" cy="145.1" r="0.7"/><circle cx="61.1" cy="148.7" r="0.7"/><circle cx="132.6" cy="87.1" r="0.5"/><circle cx="59.1" cy="159.2" r="0.7"/><circle cx="95.8" cy="76.5" r="0.5"/><circle cx="87.7" cy="59.6" r="0.6"/><circle cx="131.1" cy="23.7" r="0.8"/><circle cx="101.4" cy="140.9" r="0.5"/><circle cx="123.5" cy="96.6" r="0.8"/><circle cx="69.4" cy="14.2" r="0.6"/><circle cx="124.6" cy="17.1" r="0.4"/><circle cx="65.8" cy="62.0" r="0.5"/><circle cx="86.0" cy="17.1" r="0.5"/><circle cx="140.3" cy="67.8" r="0.7"/><circle cx="75.6" cy="163.4" r="0.8"/><circle cx="74.5" cy="32.9" r="0.5"/><circle cx="58.0" cy="110.5" r="0.7"/><circle cx="99.1" cy="22.4" r="0.7"/><circle cx="89.5" cy="134.5" r="0.6"/><circle cx="75.0" cy="73.4" r="0.4"/><circle cx="55.5" cy="154.0" r="0.5"/><circle cx="80.1" cy="23.9" r="0.7"/><circle cx="86.3" cy="135.8" r="0.6"/><circle cx="108.2" cy="44.3" r="0.6"/><circle cx="86.0" cy="14.7" r="0.6"/><circle cx="76.0" cy="50.7" r="0.7"/><circle cx="123.8" cy="27.9" r="0.8"/><circle cx="99.9" cy="29.7" r="0.7"/><circle cx="57.3" cy="32.1" r="0.4"/><circle cx="84.0" cy="19.8" r="0.5"/><circle cx="98.0" cy="166.1" r="0.5"/><circle cx="50.2" cy="19.7" r="0.8"/><circle cx="64.8" cy="49.7" r="0.8"/><circle cx="125.7" cy="40.3" r="0.8"/><circle cx="146.4" cy="63.0" r="0.4"/><circle cx="80.9" cy="56.5" r="0.7"/><circle cx="112.3" cy="12.5" r="0.7"/><circle cx="55.0" cy="106.2" r="0.6"/><circle cx="78.4" cy="50.3" r="0.6"/><circle cx="115.6" cy="160.2" r="0.6"/><circle cx="89.3" cy="28.9" r="0.4"/><circle cx="97.7" cy="62.3" r="0.6"/><circle cx="81.3" cy="48.0" r="0.5"/><circle cx="69.4" cy="139.7" r="0.7"/><circle cx="64.3" cy="48.4" r="0.5"/><circle cx="154.8" cy="163.1" r="0.5"/><circle cx="62.2" cy="21.5" r="0.7"/><circle cx="50.4" cy="60.6" r="0.7"/><circle cx="147.0" cy="29.2" r="0.7"/><circle cx="83.0" cy="54.0" r="0.6"/><circle cx="152.3" cy="19.5" r="0.6"/><circle cx="117.7" cy="161.9" r="0.4"/><circle cx="64.6" cy="60.4" r="0.6"/><circle cx="54.3" cy="167.8" r="0.5"/><circle cx="162.4" cy="21.7" r="0.7"/><circle cx="120.3" cy="48.7" r="0.8"/><circle cx="77.7" cy="55.3" r="0.4"/><circle cx="90.9" cy="70.1" r="0.7"/><circle cx="149.6" cy="13.9" r="0.8"/><circle cx="139.2" cy="70.4" r="0.8"/><circle cx="66.6" cy="111.1" r="0.8"/><circle cx="107.3" cy="75.6" r="0.8"/><circle cx="81.3" cy="147.5" r="0.8"/><circle cx="114.9" cy="59.1" r="0.8"/><circle cx="109.9" cy="165.1" r="0.5"/><circle cx="159.8" cy="37.8" r="0.8"/><circle cx="67.9" cy="92.5" r="0.7"/><circle cx="114.6" cy="79.4" r="0.5"/><circle cx="68.5" cy="148.9" r="0.7"/><circle cx="79.7" cy="131.2" r="0.4"/><circle cx="102.9" cy="50.4" r="0.5"/><circle cx="81.9" cy="159.7" r="0.7"/><circle cx="105.7" cy="152.3" r="0.4"/><circle cx="50.4" cy="147.0" r="0.6"/><circle cx="124.5" cy="24.1" r="0.8"/><circle cx="139.3" cy="15.1" r="0.9"/><circle cx="96.6" cy="60.9" r="0.8"/><circle cx="54.7" cy="23.0" r="0.7"/><circle cx="73.8" cy="19.2" r="0.5"/><circle cx="59.2" cy="26.5" r="0.5"/><circle cx="68.4" cy="117.5" r="0.9"/><circle cx="85.4" cy="105.7" r="0.6"/><circle cx="94.9" cy="133.5" r="0.5"/><circle cx="125.7" cy="12.8" r="0.8"/><circle cx="152.0" cy="27.0" r="0.8"/><circle cx="56.9" cy="141.4" r="0.7"/><circle cx="145.4" cy="159.5" r="0.6"/><circle cx="73.4" cy="47.0" r="0.6"/><circle cx="72.3" cy="164.1" r="0.6"/><circle cx="112.8" cy="155.1" r="0.6"/><circle cx="52.6" cy="141.1" r="0.5"/><circle cx="50.2" cy="69.8" r="0.4"/><circle cx="96.5" cy="116.6" r="0.8"/><circle cx="122.7" cy="41.3" r="0.6"/><circle cx="71.8" cy="118.7" r="0.4"/><circle cx="51.6" cy="101.6" r="0.5"/><circle cx="70.4" cy="163.3" r="0.7"/><circle cx="63.2" cy="130.9" r="0.6"/><circle cx="157.1" cy="116.4" r="0.8"/><circle cx="157.2" cy="18.8" r="0.7"/><circle cx="72.1" cy="46.1" r="0.8"/><circle cx="92.4" cy="162.2" r="0.5"/><circle cx="57.1" cy="63.3" r="0.8"/><circle cx="80.8" cy="141.4" r="0.5"/><circle cx="96.4" cy="139.7" r="0.7"/><circle cx="60.2" cy="137.7" r="0.5"/><circle cx="62.2" cy="121.7" r="0.5"/><circle cx="102.0" cy="17.0" r="0.8"/><circle cx="150.9" cy="119.6" r="0.5"/><circle cx="61.8" cy="110.5" r="0.8"/><circle cx="89.5" cy="95.9" r="0.5"/><circle cx="58.2" cy="29.8" r="0.8"/><circle cx="139.8" cy="39.3" r="0.4"/><circle cx="68.8" cy="78.2" r="0.7"/><circle cx="83.4" cy="22.9" r="0.5"/><circle cx="51.3" cy="16.3" r="0.8"/><circle cx="134.8" cy="56.6" r="0.6"/><circle cx="72.2" cy="41.8" r="0.4"/><circle cx="59.3" cy="155.0" r="0.5"/><circle cx="92.1" cy="32.7" r="0.4"/><circle cx="59.7" cy="166.1" r="0.8"/><circle cx="84.6" cy="57.7" r="0.6"/><circle cx="88.2" cy="34.2" r="0.6"/><circle cx="70.7" cy="134.9" r="0.7"/><circle cx="84.2" cy="40.1" r="0.5"/><circle cx="133.5" cy="15.6" r="0.7"/><circle cx="108.1" cy="148.5" r="0.4"/><circle cx="130.1" cy="37.1" r="0.4"/><circle cx="114.3" cy="88.2" r="0.4"/><circle cx="115.5" cy="20.5" r="0.8"/><circle cx="84.4" cy="52.2" r="0.5"/><circle cx="88.1" cy="82.6" r="0.7"/><circle cx="90.5" cy="57.0" r="0.4"/><circle cx="58.6" cy="27.3" r="0.7"/><circle cx="122.2" cy="66.2" r="0.4"/><circle cx="74.2" cy="47.1" r="0.4"/><circle cx="57.2" cy="129.1" r="0.5"/><circle cx="87.9" cy="20.1" r="0.9"/><circle cx="95.8" cy="70.6" r="0.8"/><circle cx="93.8" cy="28.8" r="0.6"/><circle cx="74.6" cy="75.6" r="0.5"/><circle cx="96.7" cy="163.4" r="0.7"/><circle cx="157.4" cy="20.1" r="0.8"/><circle cx="60.7" cy="68.6" r="0.8"/><circle cx="112.9" cy="69.4" r="0.6"/><circle cx="76.0" cy="23.0" r="0.4"/><circle cx="75.3" cy="27.5" r="0.6"/><circle cx="62.2" cy="105.4" r="0.5"/><circle cx="70.5" cy="73.2" r="0.7"/><circle cx="119.5" cy="44.0" r="0.9"/><circle cx="52.4" cy="37.6" r="0.6"/><circle cx="101.3" cy="21.1" r="0.5"/><circle cx="139.9" cy="132.0" r="0.6"/><circle cx="78.3" cy="95.8" r="0.4"/><circle cx="159.6" cy="14.9" r="0.4"/><circle cx="76.0" cy="67.1" r="0.5"/><circle cx="71.1" cy="73.4" r="0.8"/><circle cx="85.0" cy="18.5" r="0.9"/><circle cx="103.4" cy="59.9" r="0.5"/><circle cx="136.8" cy="24.7" r="0.8"/><circle cx="147.5" cy="56.9" r="0.7"/><circle cx="109.4" cy="136.2" r="0.4"/><circle cx="120.8" cy="66.6" r="0.7"/><circle cx="87.4" cy="163.4" r="0.5"/><circle cx="154.4" cy="29.1" r="0.4"/><circle cx="55.0" cy="51.8" r="0.9"/><circle cx="65.5" cy="164.1" r="0.7"/><circle cx="76.9" cy="24.9" r="0.6"/><circle cx="81.7" cy="101.6" r="0.5"/><circle cx="72.6" cy="161.1" r="0.9"/><circle cx="167.0" cy="18.2" r="0.4"/><circle cx="105.1" cy="148.8" r="0.6"/><circle cx="115.8" cy="24.8" r="0.7"/><circle cx="110.5" cy="14.0" r="0.5"/><circle cx="65.4" cy="21.2" r="0.9"/><circle cx="54.9" cy="66.8" r="0.4"/><circle cx="146.3" cy="23.2" r="0.7"/><circle cx="162.1" cy="79.6" r="0.5"/><circle cx="99.5" cy="73.6" r="0.5"/><circle cx="123.6" cy="13.4" r="0.5"/><circle cx="94.4" cy="51.7" r="0.5"/><circle cx="103.6" cy="151.1" r="0.6"/><circle cx="85.0" cy="137.6" r="0.8"/><circle cx="102.7" cy="28.0" r="0.5"/><circle cx="62.5" cy="26.8" r="0.5"/><circle cx="136.7" cy="138.6" r="0.7"/><circle cx="70.9" cy="75.9" r="0.4"/><circle cx="100.5" cy="21.3" r="0.5"/><circle cx="60.9" cy="123.0" r="0.9"/><circle cx="84.1" cy="129.3" r="0.5"/><circle cx="117.0" cy="22.7" r="0.9"/><circle cx="67.6" cy="75.9" r="0.7"/><circle cx="52.5" cy="159.1" r="0.8"/><circle cx="128.1" cy="170.5" r="0.7"/><circle cx="92.1" cy="155.8" r="0.7"/><circle cx="99.6" cy="21.1" r="0.8"/><circle cx="76.5" cy="167.2" r="0.9"/><circle cx="58.9" cy="123.4" r="0.7"/><circle cx="86.7" cy="160.5" r="0.9"/><circle cx="66.5" cy="23.7" r="0.5"/><circle cx="83.4" cy="139.8" r="0.7"/><circle cx="160.8" cy="14.9" r="0.5"/><circle cx="86.1" cy="132.2" r="0.4"/><circle cx="132.5" cy="20.8" r="0.6"/><circle cx="117.2" cy="75.9" r="0.4"/><circle cx="142.8" cy="15.0" r="0.5"/><circle cx="62.5" cy="123.2" r="0.4"/><circle cx="52.8" cy="15.4" r="0.8"/><circle cx="52.2" cy="37.4" r="0.6"/><circle cx="160.5" cy="33.9" r="0.9"/><circle cx="115.1" cy="150.6" r="0.7"/><circle cx="114.2" cy="22.6" r="0.6"/><circle cx="73.7" cy="37.8" r="0.9"/><circle cx="59.1" cy="45.5" r="0.6"/><circle cx="101.4" cy="24.0" r="0.8"/><circle cx="118.3" cy="17.7" r="0.8"/><circle cx="115.3" cy="63.7" r="0.9"/><circle cx="69.2" cy="124.4" r="0.4"/><circle cx="160.3" cy="12.2" r="0.8"/><circle cx="100.8" cy="20.8" r="0.4"/><circle cx="83.5" cy="40.0" r="0.6"/><circle cx="74.0" cy="148.3" r="0.6"/><circle cx="96.0" cy="121.3" r="0.6"/><circle cx="90.9" cy="164.1" r="0.6"/><circle cx="154.3" cy="13.4" r="0.5"/><circle cx="103.2" cy="40.5" r="0.7"/><circle cx="68.6" cy="169.2" r="0.8"/><circle cx="54.3" cy="128.7" r="0.8"/><circle cx="77.4" cy="84.8" r="0.6"/><circle cx="89.3" cy="49.3" r="0.5"/><circle cx="51.2" cy="157.3" r="0.5"/><circle cx="129.8" cy="21.5" r="0.4"/><circle cx="69.6" cy="34.8" r="0.4"/><circle cx="99.9" cy="156.6" r="0.6"/><circle cx="141.8" cy="17.1" r="0.8"/><circle cx="157.3" cy="47.9" r="0.7"/><circle cx="59.4" cy="62.9" r="0.6"/><circle cx="84.3" cy="151.0" r="0.8"/><circle cx="100.3" cy="58.2" r="0.8"/><circle cx="137.2" cy="79.1" r="0.4"/><circle cx="88.6" cy="159.4" r="0.5"/><circle cx="102.2" cy="69.7" r="0.8"/><circle cx="113.7" cy="61.3" r="0.6"/><circle cx="75.3" cy="67.0" r="0.5"/><circle cx="139.1" cy="67.4" r="0.8"/><circle cx="60.1" cy="81.8" r="0.4"/><circle cx="54.3" cy="53.0" r="0.5"/><circle cx="82.9" cy="165.7" r="0.7"/><circle cx="103.7" cy="122.2" r="0.7"/><circle cx="70.3" cy="44.7" r="0.7"/><circle cx="64.5" cy="156.9" r="0.9"/><circle cx="76.4" cy="146.4" r="0.7"/><circle cx="64.7" cy="124.8" r="0.5"/><circle cx="151.4" cy="33.9" r="0.7"/><circle cx="112.2" cy="17.7" r="0.5"/><circle cx="145.4" cy="53.0" r="0.7"/><circle cx="79.3" cy="37.7" r="0.9"/><circle cx="119.5" cy="17.2" r="0.7"/><circle cx="120.1" cy="19.4" r="0.8"/><circle cx="123.1" cy="22.3" r="0.5"/><circle cx="80.0" cy="129.1" r="0.7"/><circle cx="127.4" cy="26.4" r="0.7"/><circle cx="76.3" cy="26.1" r="0.7"/><circle cx="62.2" cy="161.7" r="0.8"/><circle cx="89.4" cy="131.3" r="0.5"/><circle cx="70.3" cy="129.8" r="0.9"/><circle cx="56.2" cy="12.7" r="0.7"/><circle cx="126.0" cy="15.0" r="0.5"/><circle cx="77.5" cy="76.8" r="0.4"/><circle cx="109.9" cy="68.7" r="0.4"/><circle cx="136.7" cy="15.9" r="0.4"/><circle cx="94.3" cy="164.8" r="0.5"/><circle cx="88.2" cy="138.1" r="0.8"/><circle cx="147.1" cy="48.1" r="0.6"/><circle cx="73.8" cy="14.0" r="0.8"/><circle cx="102.0" cy="168.0" r="0.7"/><circle cx="64.5" cy="19.0" r="0.7"/><circle cx="65.6" cy="25.4" r="0.7"/><circle cx="79.0" cy="159.0" r="0.5"/><circle cx="95.7" cy="77.0" r="0.8"/><circle cx="68.6" cy="79.8" r="0.4"/><circle cx="152.6" cy="15.8" r="0.9"/><circle cx="55.3" cy="13.0" r="0.4"/><circle cx="88.3" cy="59.9" r="0.7"/><circle cx="63.6" cy="59.4" r="0.8"/><circle cx="81.4" cy="143.8" r="0.5"/><circle cx="101.3" cy="42.5" r="0.5"/><circle cx="94.3" cy="96.6" r="0.5"/><circle cx="120.7" cy="26.9" r="0.5"/><circle cx="78.9" cy="27.4" r="0.8"/><circle cx="64.4" cy="86.0" r="0.5"/><circle cx="104.1" cy="51.3" r="0.5"/><circle cx="55.9" cy="12.2" r="0.6"/><circle cx="97.7" cy="38.1" r="0.8"/><circle cx="149.3" cy="19.9" r="0.8"/><circle cx="68.1" cy="33.8" r="0.8"/><circle cx="121.1" cy="42.3" r="0.8"/><circle cx="58.5" cy="37.0" r="0.4"/><circle cx="80.1" cy="120.6" r="0.6"/><circle cx="59.4" cy="103.3" r="0.8"/><circle cx="53.1" cy="148.3" r="0.9"/><circle cx="91.2" cy="149.4" r="0.5"/><circle cx="149.9" cy="49.7" r="0.4"/><circle cx="90.2" cy="49.0" r="0.6"/><circle cx="129.1" cy="73.2" r="0.6"/><circle cx="68.1" cy="37.7" r="0.4"/><circle cx="69.5" cy="152.3" r="0.9"/><circle cx="81.3" cy="73.4" r="0.7"/><circle cx="151.1" cy="55.6" r="0.8"/><circle cx="54.7" cy="156.6" r="0.5"/><circle cx="101.2" cy="96.5" r="0.6"/><circle cx="73.6" cy="68.7" r="0.4"/><circle cx="78.1" cy="135.0" r="0.5"/><circle cx="109.5" cy="143.6" r="0.6"/><circle cx="97.7" cy="26.1" r="0.4"/><circle cx="71.9" cy="155.3" r="0.4"/><circle cx="81.4" cy="111.4" r="0.4"/><circle cx="158.2" cy="24.3" r="0.6"/><circle cx="73.1" cy="154.5" r="0.8"/><circle cx="88.9" cy="69.0" r="0.5"/><circle cx="73.5" cy="14.0" r="0.6"/><circle cx="143.5" cy="152.9" r="0.4"/><circle cx="80.6" cy="50.0" r="0.5"/><circle cx="100.0" cy="49.9" r="0.7"/><circle cx="151.2" cy="133.2" r="0.6"/><circle cx="58.6" cy="178.9" r="0.8"/><circle cx="69.9" cy="83.8" r="0.5"/><circle cx="58.9" cy="103.2" r="0.5"/><circle cx="87.7" cy="142.1" r="0.6"/><circle cx="52.5" cy="16.0" r="0.4"/><circle cx="53.4" cy="128.6" r="0.9"/><circle cx="56.2" cy="59.3" r="0.7"/><circle cx="95.3" cy="26.3" r="0.6"/><circle cx="83.8" cy="66.1" r="0.4"/><circle cx="150.2" cy="38.2" r="0.5"/><circle cx="51.3" cy="134.2" r="0.8"/><circle cx="146.9" cy="15.6" r="0.4"/><circle cx="100.3" cy="86.6" r="0.7"/><circle cx="91.7" cy="72.6" r="0.7"/><circle cx="69.3" cy="87.3" r="0.4"/><circle cx="141.3" cy="57.6" r="0.5"/><circle cx="79.5" cy="41.9" r="0.6"/><circle cx="124.4" cy="23.1" r="0.7"/><circle cx="151.9" cy="57.0" r="0.7"/><circle cx="76.2" cy="12.7" r="0.8"/><circle cx="96.4" cy="75.3" r="0.7"/><circle cx="81.4" cy="49.5" r="0.6"/><circle cx="69.9" cy="51.5" r="0.8"/><circle cx="74.7" cy="41.4" r="0.7"/><circle cx="60.0" cy="64.5" r="0.6"/><circle cx="84.0" cy="151.0" r="0.5"/><circle cx="60.1" cy="121.7" r="0.5"/><circle cx="75.1" cy="145.5" r="0.8"/><circle cx="154.4" cy="12.5" r="0.7"/><circle cx="68.7" cy="41.8" r="0.5"/><circle cx="71.8" cy="35.8" r="0.6"/><circle cx="72.7" cy="16.8" r="0.7"/><circle cx="59.0" cy="37.2" r="0.5"/><circle cx="80.8" cy="161.8" r="0.6"/><circle cx="81.0" cy="94.5" r="0.6"/><circle cx="71.7" cy="45.6" r="0.8"/><circle cx="136.2" cy="12.3" r="0.7"/><circle cx="139.1" cy="29.1" r="0.5"/><circle cx="89.1" cy="137.8" r="0.6"/><circle cx="154.1" cy="51.2" r="0.8"/><circle cx="128.0" cy="54.2" r="0.5"/><circle cx="62.7" cy="148.3" r="0.5"/><circle cx="54.5" cy="121.9" r="0.6"/><circle cx="97.2" cy="137.3" r="0.4"/><circle cx="144.1" cy="19.8" r="0.5"/><circle cx="108.9" cy="48.3" r="0.8"/><circle cx="99.4" cy="111.2" r="0.7"/><circle cx="163.6" cy="55.8" r="0.4"/><circle cx="65.0" cy="166.6" r="0.8"/><circle cx="89.3" cy="75.1" r="0.4"/><circle cx="70.4" cy="58.2" r="0.8"/><circle cx="125.0" cy="15.0" r="0.7"/><circle cx="96.2" cy="166.2" r="0.5"/><circle cx="120.5" cy="19.7" r="0.4"/><circle cx="96.0" cy="70.3" r="0.7"/><circle cx="160.1" cy="12.7" r="0.8"/><circle cx="84.3" cy="78.8" r="0.8"/><circle cx="91.5" cy="139.5" r="0.7"/><circle cx="66.1" cy="100.9" r="0.7"/><circle cx="59.3" cy="126.4" r="0.7"/><circle cx="160.3" cy="157.4" r="0.6"/><circle cx="107.5" cy="69.8" r="0.8"/><circle cx="97.5" cy="64.8" r="0.4"/><circle cx="106.2" cy="67.1" r="0.5"/><circle cx="88.8" cy="161.7" r="0.7"/><circle cx="78.7" cy="127.0" r="0.9"/><circle cx="147.8" cy="37.5" r="0.6"/><circle cx="122.9" cy="160.8" r="0.5"/><circle cx="80.6" cy="22.6" r="0.8"/><circle cx="155.4" cy="108.6" r="0.5"/><circle cx="122.5" cy="19.7" r="0.8"/><circle cx="59.2" cy="80.4" r="0.8"/><circle cx="94.1" cy="85.0" r="0.6"/><circle cx="103.3" cy="47.8" r="0.5"/><circle cx="77.5" cy="65.2" r="0.8"/><circle cx="72.1" cy="142.3" r="0.4"/><circle cx="70.3" cy="126.5" r="0.5"/><circle cx="58.8" cy="98.4" r="0.7"/><circle cx="54.5" cy="42.5" r="0.6"/><circle cx="115.5" cy="141.7" r="0.4"/><circle cx="110.9" cy="16.1" r="0.5"/><circle cx="64.1" cy="27.1" r="0.6"/><circle cx="95.4" cy="34.2" r="0.8"/><circle cx="88.0" cy="141.3" r="0.9"/><circle cx="133.6" cy="16.2" r="0.4"/><circle cx="69.7" cy="50.8" r="0.9"/><circle cx="103.3" cy="25.3" r="0.6"/><circle cx="69.8" cy="154.9" r="0.7"/><circle cx="108.0" cy="21.7" r="0.9"/><circle cx="82.7" cy="66.0" r="0.5"/><circle cx="51.1" cy="160.4" r="0.4"/><circle cx="94.7" cy="132.7" r="0.6"/><circle cx="52.0" cy="85.2" r="0.6"/><circle cx="96.7" cy="136.7" r="0.5"/><circle cx="143.1" cy="16.3" r="0.6"/><circle cx="71.1" cy="75.0" r="0.6"/><circle cx="99.5" cy="138.0" r="0.7"/><circle cx="101.5" cy="156.3" r="0.9"/><circle cx="163.0" cy="113.4" r="0.5"/><circle cx="98.2" cy="83.2" r="0.5"/><circle cx="110.9" cy="40.3" r="0.7"/><circle cx="68.3" cy="13.7" r="0.8"/><circle cx="136.6" cy="18.9" r="0.6"/><circle cx="112.4" cy="28.3" r="0.8"/><circle cx="134.8" cy="27.9" r="0.4"/><circle cx="95.1" cy="80.3" r="0.7"/><circle cx="155.4" cy="16.3" r="0.7"/><circle cx="139.4" cy="21.1" r="0.8"/><circle cx="83.1" cy="38.7" r="0.5"/><circle cx="106.4" cy="66.7" r="0.7"/><circle cx="114.8" cy="156.1" r="0.6"/><circle cx="145.9" cy="21.6" r="0.4"/><circle cx="119.2" cy="20.6" r="0.5"/><circle cx="54.5" cy="52.3" r="0.5"/><circle cx="156.7" cy="13.4" r="0.4"/><circle cx="73.6" cy="74.8" r="0.5"/><circle cx="62.8" cy="145.8" r="0.5"/><circle cx="140.6" cy="13.3" r="0.9"/><circle cx="60.4" cy="143.7" r="0.4"/><circle cx="133.3" cy="18.5" r="0.9"/><circle cx="134.1" cy="12.9" r="0.8"/><circle cx="54.5" cy="63.3" r="0.6"/><circle cx="106.2" cy="15.3" r="0.6"/><circle cx="147.2" cy="15.1" r="0.6"/><circle cx="85.8" cy="24.6" r="0.4"/><circle cx="105.3" cy="162.9" r="0.6"/><circle cx="75.4" cy="22.1" r="0.7"/><circle cx="138.2" cy="180.5" r="0.6"/><circle cx="95.2" cy="76.9" r="0.6"/><circle cx="83.0" cy="167.3" r="0.5"/><circle cx="79.8" cy="58.7" r="0.4"/><circle cx="163.2" cy="150.7" r="0.8"/><circle cx="84.0" cy="159.2" r="0.5"/><circle cx="115.4" cy="73.8" r="0.8"/><circle cx="68.3" cy="64.8" r="0.7"/><circle cx="91.9" cy="101.0" r="0.5"/><circle cx="61.1" cy="99.3" r="0.8"/><circle cx="97.0" cy="156.2" r="0.7"/><circle cx="103.2" cy="116.8" r="0.5"/><circle cx="106.5" cy="75.3" r="0.6"/><circle cx="148.3" cy="21.3" r="0.5"/><circle cx="119.2" cy="56.6" r="0.5"/><circle cx="59.7" cy="59.5" r="0.8"/><circle cx="84.4" cy="166.2" r="0.6"/><circle cx="71.4" cy="64.2" r="0.4"/><circle cx="134.4" cy="53.6" r="0.5"/><circle cx="114.7" cy="143.2" r="0.8"/><circle cx="70.0" cy="65.0" r="0.8"/><circle cx="152.6" cy="21.2" r="0.8"/><circle cx="71.4" cy="25.2" r="0.7"/><circle cx="99.2" cy="14.0" r="0.5"/><circle cx="107.9" cy="136.7" r="0.6"/><circle cx="88.3" cy="18.0" r="0.9"/><circle cx="109.5" cy="139.2" r="0.7"/><circle cx="65.8" cy="42.8" r="0.4"/><circle cx="69.2" cy="134.1" r="0.7"/><circle cx="149.5" cy="161.5" r="0.5"/><circle cx="54.0" cy="16.9" r="0.6"/><circle cx="80.9" cy="38.2" r="0.8"/><circle cx="87.8" cy="40.8" r="0.6"/><circle cx="65.1" cy="57.9" r="0.4"/><circle cx="89.1" cy="45.5" r="0.9"/><circle cx="55.7" cy="130.0" r="0.5"/><circle cx="51.8" cy="71.6" r="0.5"/><circle cx="140.6" cy="26.3" r="0.8"/><circle cx="64.8" cy="74.2" r="0.5"/><circle cx="138.3" cy="25.3" r="0.8"/><circle cx="58.8" cy="68.1" r="0.6"/><circle cx="109.7" cy="79.7" r="0.4"/><circle cx="116.4" cy="141.5" r="0.7"/><circle cx="52.8" cy="80.7" r="0.8"/><circle cx="78.5" cy="70.9" r="0.7"/><circle cx="139.3" cy="115.5" r="0.4"/><circle cx="89.3" cy="70.8" r="0.7"/><circle cx="77.8" cy="133.8" r="0.8"/><circle cx="112.3" cy="161.0" r="0.6"/><circle cx="55.1" cy="51.4" r="0.6"/><circle cx="77.4" cy="179.7" r="0.5"/><circle cx="103.0" cy="84.5" r="0.7"/><circle cx="125.5" cy="19.8" r="0.4"/><circle cx="86.6" cy="151.2" r="0.5"/><circle cx="133.8" cy="17.9" r="0.8"/><circle cx="89.1" cy="147.2" r="0.7"/><circle cx="86.0" cy="148.1" r="0.9"/><circle cx="131.8" cy="103.9" r="0.5"/><circle cx="92.7" cy="58.9" r="0.5"/><circle cx="98.0" cy="132.8" r="0.8"/><circle cx="138.5" cy="54.8" r="0.7"/><circle cx="69.0" cy="50.9" r="0.7"/><circle cx="71.5" cy="36.9" r="0.4"/><circle cx="59.8" cy="45.4" r="0.8"/><circle cx="101.6" cy="142.8" r="0.6"/><circle cx="146.9" cy="63.9" r="0.7"/><circle cx="61.9" cy="19.6" r="0.4"/><circle cx="93.2" cy="151.8" r="0.6"/><circle cx="111.7" cy="89.0" r="0.4"/><circle cx="82.7" cy="43.1" r="0.8"/><circle cx="137.2" cy="75.3" r="0.7"/><circle cx="57.2" cy="140.3" r="0.8"/><circle cx="114.9" cy="154.5" r="0.7"/><circle cx="80.2" cy="75.2" r="0.4"/><circle cx="123.6" cy="47.8" r="0.7"/><circle cx="89.6" cy="58.5" r="0.8"/><circle cx="93.1" cy="15.9" r="0.8"/><circle cx="101.4" cy="144.5" r="0.9"/><circle cx="157.4" cy="122.6" r="0.8"/><circle cx="158.8" cy="164.4" r="0.9"/><circle cx="79.2" cy="19.7" r="0.6"/><circle cx="85.9" cy="132.3" r="0.8"/><circle cx="109.0" cy="128.3" r="0.6"/><circle cx="126.0" cy="42.0" r="0.9"/><circle cx="118.9" cy="104.9" r="0.4"/><circle cx="100.4" cy="147.1" r="0.7"/><circle cx="56.7" cy="161.2" r="0.6"/><circle cx="56.6" cy="133.2" r="0.5"/><circle cx="98.5" cy="49.5" r="0.5"/><circle cx="85.9" cy="156.8" r="0.8"/><circle cx="62.4" cy="162.5" r="0.7"/><circle cx="155.7" cy="27.6" r="0.6"/><circle cx="73.6" cy="22.8" r="0.6"/><circle cx="148.1" cy="30.4" r="0.7"/><circle cx="74.6" cy="150.7" r="0.7"/><circle cx="109.3" cy="63.6" r="0.7"/><circle cx="110.9" cy="68.7" r="0.8"/><circle cx="72.9" cy="143.2" r="0.4"/><circle cx="151.8" cy="161.1" r="0.4"/><circle cx="82.5" cy="145.9" r="0.6"/><circle cx="94.2" cy="96.4" r="0.5"/><circle cx="119.1" cy="91.6" r="0.7"/><circle cx="111.4" cy="28.0" r="0.6"/><circle cx="98.1" cy="21.1" r="0.6"/><circle cx="93.9" cy="14.7" r="0.6"/><circle cx="106.1" cy="41.9" r="0.4"/><circle cx="149.2" cy="21.0" r="0.5"/><circle cx="111.8" cy="68.3" r="0.9"/><circle cx="61.5" cy="152.0" r="0.8"/><circle cx="126.8" cy="151.6" r="0.5"/><circle cx="109.6" cy="161.4" r="0.8"/><circle cx="153.3" cy="29.3" r="0.9"/><circle cx="98.1" cy="108.7" r="0.6"/><circle cx="81.9" cy="90.7" r="0.7"/><circle cx="116.5" cy="155.8" r="0.6"/><circle cx="97.1" cy="35.3" r="0.7"/><circle cx="75.3" cy="62.0" r="0.5"/><circle cx="150.9" cy="14.0" r="0.8"/><circle cx="74.3" cy="163.6" r="0.6"/><circle cx="51.9" cy="149.5" r="0.8"/><circle cx="76.9" cy="27.2" r="0.6"/><circle cx="96.8" cy="155.0" r="0.5"/><circle cx="147.6" cy="113.3" r="0.6"/><circle cx="80.0" cy="16.6" r="0.4"/><circle cx="72.4" cy="84.6" r="0.7"/><circle cx="69.5" cy="30.7" r="0.4"/><circle cx="82.5" cy="25.9" r="0.5"/><circle cx="143.4" cy="23.9" r="0.6"/><circle cx="101.5" cy="25.3" r="0.8"/><circle cx="78.9" cy="142.2" r="0.6"/><circle cx="110.8" cy="44.4" r="0.5"/><circle cx="101.3" cy="71.4" r="0.5"/><circle cx="69.3" cy="21.0" r="0.4"/><circle cx="51.0" cy="43.5" r="0.6"/><circle cx="58.0" cy="87.8" r="0.5"/><circle cx="75.8" cy="137.3" r="0.7"/><circle cx="116.4" cy="74.2" r="0.6"/><circle cx="149.9" cy="38.0" r="0.7"/><circle cx="101.6" cy="83.5" r="0.5"/><circle cx="58.6" cy="66.5" r="0.6"/><circle cx="72.8" cy="134.3" r="0.7"/><circle cx="102.5" cy="81.9" r="0.4"/><circle cx="74.3" cy="14.7" r="0.7"/><circle cx="108.5" cy="141.2" r="0.6"/><circle cx="76.3" cy="147.7" r="0.9"/><circle cx="142.9" cy="30.1" r="0.6"/><circle cx="108.7" cy="155.5" r="0.8"/><circle cx="70.3" cy="26.2" r="0.6"/><circle cx="71.4" cy="131.7" r="0.4"/><circle cx="55.4" cy="132.1" r="0.6"/><circle cx="80.0" cy="24.6" r="0.6"/><circle cx="101.8" cy="73.7" r="0.6"/><circle cx="52.2" cy="78.4" r="0.4"/><circle cx="50.4" cy="66.4" r="0.4"/><circle cx="55.3" cy="69.9" r="0.8"/><circle cx="53.9" cy="74.3" r="0.7"/><circle cx="105.9" cy="155.2" r="0.8"/><circle cx="94.8" cy="33.7" r="0.8"/><circle cx="89.8" cy="28.1" r="0.6"/><circle cx="86.3" cy="65.3" r="0.5"/><circle cx="153.3" cy="120.9" r="0.9"/><circle cx="96.1" cy="44.2" r="0.8"/><circle cx="55.1" cy="13.8" r="0.8"/><circle cx="68.4" cy="34.4" r="0.8"/><circle cx="94.8" cy="148.1" r="0.4"/><circle cx="102.7" cy="62.5" r="0.9"/><circle cx="115.2" cy="159.3" r="0.9"/><circle cx="72.0" cy="27.8" r="0.8"/><circle cx="118.8" cy="130.0" r="0.7"/><circle cx="56.5" cy="46.9" r="0.8"/><circle cx="82.5" cy="122.5" r="0.4"/><circle cx="101.8" cy="24.9" r="0.7"/><circle cx="116.1" cy="39.1" r="0.7"/><circle cx="55.1" cy="70.4" r="0.4"/><circle cx="127.2" cy="136.3" r="0.5"/><circle cx="83.4" cy="18.1" r="0.6"/><circle cx="53.9" cy="38.9" r="0.6"/><circle cx="114.4" cy="17.2" r="0.8"/><circle cx="87.6" cy="162.7" r="0.5"/><circle cx="75.0" cy="41.6" r="0.5"/><circle cx="79.4" cy="164.4" r="0.8"/><circle cx="68.7" cy="105.4" r="0.8"/><circle cx="93.6" cy="66.0" r="0.6"/><circle cx="113.0" cy="86.8" r="0.4"/><circle cx="70.5" cy="139.2" r="0.5"/><circle cx="78.6" cy="46.0" r="0.5"/><circle cx="149.4" cy="29.9" r="0.4"/><circle cx="125.9" cy="65.8" r="0.7"/><circle cx="107.2" cy="58.5" r="0.4"/><circle cx="99.8" cy="28.8" r="0.8"/><circle cx="68.9" cy="137.4" r="0.4"/><circle cx="99.9" cy="18.4" r="0.7"/><circle cx="101.5" cy="142.0" r="0.5"/><circle cx="147.9" cy="53.2" r="0.6"/><circle cx="87.6" cy="165.4" r="0.8"/><circle cx="70.6" cy="56.4" r="0.8"/><circle cx="50.1" cy="51.4" r="0.5"/><circle cx="142.7" cy="34.8" r="0.6"/><circle cx="158.6" cy="23.2" r="0.8"/><circle cx="120.7" cy="54.0" r="0.4"/><circle cx="104.8" cy="135.4" r="0.4"/><circle cx="116.0" cy="16.7" r="0.9"/><circle cx="143.9" cy="108.4" r="0.5"/><circle cx="153.0" cy="24.3" r="0.5"/><circle cx="90.2" cy="101.4" r="0.9"/><circle cx="158.5" cy="55.3" r="0.4"/><circle cx="56.5" cy="158.1" r="0.4"/><circle cx="97.4" cy="16.5" r="0.8"/><circle cx="113.1" cy="160.0" r="0.7"/><circle cx="70.6" cy="117.6" r="0.5"/><circle cx="165.5" cy="32.7" r="0.7"/><circle cx="64.8" cy="112.2" r="0.4"/><circle cx="58.5" cy="135.5" r="0.7"/><circle cx="66.4" cy="76.7" r="0.4"/><circle cx="80.3" cy="80.4" r="0.6"/><circle cx="144.4" cy="18.3" r="0.6"/><circle cx="169.2" cy="125.0" r="0.6"/><circle cx="142.6" cy="15.3" r="0.8"/><circle cx="150.3" cy="18.7" r="0.4"/><circle cx="71.8" cy="79.3" r="0.6"/><circle cx="126.8" cy="42.8" r="0.7"/><circle cx="126.1" cy="142.1" r="0.6"/><circle cx="123.8" cy="26.5" r="0.9"/><circle cx="130.6" cy="24.5" r="0.4"/><circle cx="130.5" cy="126.9" r="0.9"/><circle cx="155.9" cy="105.0" r="0.9"/><circle cx="131.2" cy="46.7" r="0.8"/><circle cx="123.1" cy="166.9" r="0.6"/><circle cx="55.3" cy="141.4" r="0.4"/><circle cx="106.3" cy="23.0" r="0.9"/><circle cx="110.7" cy="42.0" r="0.6"/><circle cx="89.1" cy="70.5" r="0.8"/><circle cx="132.0" cy="24.6" r="0.5"/><circle cx="55.0" cy="127.7" r="0.5"/><circle cx="74.8" cy="67.4" r="0.5"/><circle cx="55.2" cy="94.0" r="0.4"/><circle cx="131.8" cy="108.5" r="0.7"/><circle cx="111.7" cy="144.3" r="0.5"/><circle cx="84.3" cy="30.6" r="0.7"/><circle cx="141.0" cy="46.0" r="0.4"/><circle cx="84.8" cy="64.1" r="0.6"/><circle cx="75.9" cy="164.9" r="0.5"/><circle cx="70.1" cy="92.5" r="0.6"/><circle cx="73.9" cy="92.4" r="0.5"/><circle cx="50.4" cy="44.7" r="0.5"/><circle cx="91.8" cy="29.0" r="0.8"/><circle cx="64.4" cy="105.7" r="0.9"/><circle cx="80.7" cy="29.0" r="0.6"/><circle cx="138.8" cy="23.6" r="0.5"/><circle cx="145.7" cy="130.7" r="0.4"/><circle cx="55.6" cy="13.6" r="0.9"/><circle cx="115.8" cy="34.1" r="0.8"/><circle cx="51.7" cy="136.6" r="0.9"/><circle cx="61.2" cy="75.1" r="0.7"/><circle cx="58.0" cy="26.2" r="0.4"/><circle cx="137.6" cy="18.0" r="0.7"/><circle cx="78.6" cy="130.5" r="0.9"/><circle cx="99.4" cy="166.8" r="0.9"/><circle cx="68.7" cy="110.5" r="0.4"/><circle cx="103.5" cy="18.1" r="0.8"/><circle cx="70.3" cy="51.1" r="0.4"/><circle cx="92.6" cy="143.0" r="0.6"/><circle cx="139.0" cy="32.7" r="0.4"/><circle cx="67.0" cy="18.1" r="0.4"/><circle cx="152.4" cy="21.5" r="0.7"/><circle cx="59.7" cy="145.0" r="0.8"/><circle cx="66.1" cy="97.9" r="0.6"/><circle cx="115.2" cy="129.5" r="0.8"/><circle cx="162.1" cy="50.2" r="0.4"/><circle cx="76.1" cy="90.3" r="0.4"/><circle cx="113.1" cy="19.1" r="0.8"/><circle cx="148.9" cy="20.8" r="0.7"/><circle cx="151.8" cy="73.1" r="0.4"/><circle cx="93.1" cy="155.4" r="0.6"/><circle cx="161.0" cy="162.5" r="0.6"/><circle cx="87.8" cy="18.9" r="0.7"/><circle cx="57.2" cy="33.8" r="0.7"/><circle cx="57.9" cy="161.2" r="0.7"/><circle cx="58.9" cy="75.6" r="0.8"/><circle cx="120.5" cy="16.0" r="0.6"/><circle cx="92.5" cy="151.8" r="0.9"/><circle cx="73.8" cy="127.1" r="0.8"/><circle cx="92.9" cy="53.9" r="0.8"/><circle cx="77.3" cy="12.2" r="0.6"/><circle cx="132.6" cy="52.3" r="0.8"/><circle cx="64.4" cy="115.7" r="0.8"/><circle cx="155.5" cy="55.0" r="0.7"/><circle cx="155.1" cy="21.8" r="0.9"/><circle cx="56.0" cy="34.9" r="0.5"/><circle cx="53.9" cy="133.9" r="0.7"/><circle cx="111.1" cy="140.4" r="0.7"/><circle cx="95.3" cy="138.3" r="0.7"/><circle cx="144.9" cy="15.2" r="0.8"/><circle cx="126.4" cy="25.0" r="0.8"/><circle cx="87.0" cy="43.4" r="0.6"/><circle cx="68.0" cy="32.2" r="0.4"/><circle cx="70.0" cy="14.9" r="0.6"/><circle cx="139.4" cy="30.3" r="0.6"/><circle cx="62.6" cy="30.9" r="0.5"/><circle cx="156.3" cy="13.2" r="0.4"/><circle cx="59.9" cy="150.3" r="0.4"/><circle cx="99.1" cy="81.8" r="0.5"/><circle cx="66.9" cy="22.7" r="0.9"/><circle cx="67.8" cy="46.2" r="0.7"/><circle cx="108.4" cy="75.3" r="0.5"/><circle cx="53.6" cy="34.8" r="0.6"/><circle cx="50.5" cy="48.2" r="0.8"/><circle cx="53.8" cy="152.9" r="0.4"/><circle cx="99.9" cy="37.5" r="0.7"/><circle cx="57.8" cy="159.8" r="0.4"/><circle cx="63.8" cy="44.8" r="0.6"/><circle cx="102.6" cy="76.1" r="0.4"/><circle cx="140.4" cy="15.3" r="0.7"/><circle cx="138.7" cy="15.0" r="0.8"/><circle cx="86.7" cy="31.7" r="0.4"/><circle cx="126.2" cy="18.8" r="0.5"/><circle cx="54.8" cy="126.3" r="0.4"/><circle cx="97.7" cy="160.8" r="0.4"/><circle cx="91.7" cy="155.9" r="0.4"/><circle cx="116.5" cy="15.2" r="0.4"/><circle cx="101.1" cy="76.5" r="0.9"/><circle cx="163.0" cy="15.8" r="0.7"/><circle cx="93.9" cy="49.7" r="0.7"/><circle cx="61.9" cy="168.0" r="0.8"/><circle cx="101.8" cy="59.4" r="0.4"/><circle cx="78.9" cy="21.0" r="0.5"/><circle cx="67.4" cy="106.9" r="0.4"/><circle cx="67.5" cy="42.5" r="0.8"/><circle cx="75.4" cy="46.3" r="0.8"/><circle cx="160.6" cy="21.2" r="0.6"/><circle cx="61.1" cy="17.4" r="0.6"/><circle cx="144.3" cy="19.0" r="0.8"/><circle cx="67.6" cy="51.1" r="0.6"/><circle cx="54.3" cy="28.7" r="0.4"/><circle cx="99.1" cy="145.8" r="0.5"/><circle cx="59.9" cy="32.6" r="0.9"/><circle cx="51.8" cy="83.1" r="0.6"/><circle cx="56.4" cy="110.5" r="0.5"/><circle cx="96.1" cy="145.2" r="0.6"/><circle cx="82.7" cy="132.1" r="0.7"/><circle cx="157.4" cy="17.9" r="0.4"/><circle cx="81.6" cy="38.7" r="0.4"/><circle cx="106.5" cy="71.3" r="0.8"/><circle cx="85.8" cy="131.8" r="0.6"/><circle cx="85.4" cy="66.2" r="0.7"/><circle cx="75.6" cy="152.0" r="0.6"/><circle cx="92.8" cy="12.3" r="0.5"/><circle cx="117.4" cy="27.7" r="0.5"/><circle cx="50.4" cy="49.2" r="0.9"/><circle cx="87.2" cy="151.9" r="0.5"/><circle cx="62.7" cy="13.2" r="0.6"/><circle cx="91.6" cy="103.2" r="0.7"/><circle cx="56.6" cy="143.4" r="0.4"/><circle cx="83.9" cy="147.8" r="0.9"/><circle cx="112.3" cy="77.7" r="0.9"/><circle cx="108.1" cy="71.7" r="0.4"/><circle cx="104.5" cy="41.3" r="0.6"/><circle cx="107.3" cy="24.7" r="0.8"/><circle cx="98.7" cy="134.9" r="0.6"/><circle cx="155.0" cy="126.6" r="0.5"/><circle cx="57.5" cy="145.7" r="0.8"/><circle cx="113.2" cy="85.4" r="0.8"/><circle cx="61.2" cy="72.2" r="0.5"/><circle cx="108.7" cy="16.9" r="0.8"/><circle cx="65.4" cy="134.2" r="0.4"/><circle cx="56.8" cy="127.9" r="0.4"/><circle cx="154.9" cy="19.4" r="0.4"/><circle cx="92.2" cy="144.5" r="0.8"/><circle cx="54.5" cy="36.5" r="0.6"/><circle cx="87.2" cy="23.5" r="0.5"/><circle cx="107.9" cy="135.4" r="0.6"/><circle cx="129.3" cy="13.8" r="0.7"/><circle cx="57.2" cy="150.3" r="0.8"/><circle cx="61.1" cy="37.5" r="0.4"/><circle cx="51.5" cy="82.1" r="0.9"/><circle cx="86.6" cy="140.9" r="0.4"/><circle cx="67.9" cy="32.3" r="0.6"/><circle cx="95.7" cy="138.9" r="0.5"/><circle cx="124.9" cy="25.3" r="0.5"/><circle cx="121.5" cy="24.2" r="0.4"/><circle cx="83.5" cy="133.2" r="0.5"/><circle cx="89.2" cy="148.3" r="0.4"/><circle cx="118.9" cy="158.7" r="0.9"/><circle cx="92.6" cy="159.5" r="0.4"/><circle cx="94.4" cy="24.0" r="0.5"/><circle cx="133.3" cy="116.1" r="0.9"/><circle cx="65.8" cy="35.5" r="0.9"/><circle cx="50.5" cy="130.8" r="0.4"/><circle cx="135.4" cy="165.1" r="0.6"/><circle cx="155.9" cy="26.7" r="0.8"/><circle cx="74.6" cy="21.9" r="0.8"/><circle cx="139.7" cy="128.5" r="0.6"/><circle cx="86.2" cy="111.4" r="0.7"/><circle cx="150.3" cy="52.9" r="0.7"/><circle cx="147.7" cy="13.9" r="0.7"/><circle cx="97.5" cy="150.8" r="0.6"/><circle cx="116.7" cy="27.8" r="0.4"/><circle cx="129.9" cy="80.9" r="0.7"/><circle cx="110.3" cy="122.8" r="0.4"/><circle cx="96.5" cy="34.1" r="0.7"/><circle cx="116.4" cy="44.6" r="0.5"/><circle cx="141.8" cy="64.5" r="0.6"/><circle cx="72.4" cy="166.5" r="0.5"/><circle cx="156.0" cy="29.5" r="0.7"/><circle cx="75.0" cy="33.6" r="0.8"/><circle cx="52.6" cy="123.0" r="0.8"/><circle cx="92.5" cy="166.3" r="0.6"/><circle cx="156.8" cy="45.9" r="0.8"/><circle cx="113.9" cy="68.6" r="0.8"/><circle cx="152.6" cy="35.0" r="0.7"/><circle cx="150.6" cy="137.6" r="0.8"/><circle cx="59.9" cy="61.1" r="0.4"/><circle cx="102.6" cy="16.5" r="0.8"/><circle cx="78.0" cy="123.7" r="0.8"/><circle cx="149.7" cy="21.0" r="0.7"/><circle cx="103.0" cy="151.9" r="0.5"/><circle cx="77.2" cy="118.2" r="0.5"/><circle cx="94.6" cy="179.4" r="0.6"/><circle cx="127.0" cy="14.0" r="0.5"/><circle cx="82.1" cy="163.3" r="0.5"/><circle cx="77.4" cy="73.0" r="0.4"/><circle cx="53.5" cy="160.4" r="0.6"/><circle cx="83.7" cy="17.7" r="0.4"/><circle cx="88.0" cy="95.8" r="0.4"/><circle cx="62.3" cy="14.4" r="0.5"/><circle cx="77.5" cy="148.1" r="0.5"/><circle cx="119.1" cy="24.8" r="0.6"/><circle cx="76.3" cy="134.7" r="0.5"/><circle cx="120.6" cy="13.1" r="0.5"/><circle cx="60.6" cy="24.1" r="0.4"/><circle cx="100.0" cy="143.1" r="0.4"/><circle cx="79.2" cy="161.6" r="0.5"/><circle cx="51.6" cy="164.8" r="0.8"/><circle cx="52.2" cy="26.2" r="0.9"/><circle cx="102.4" cy="124.5" r="0.5"/><circle cx="145.0" cy="24.0" r="0.4"/><circle cx="72.0" cy="26.5" r="0.6"/><circle cx="113.4" cy="150.1" r="0.5"/><circle cx="125.7" cy="13.0" r="0.9"/><circle cx="59.2" cy="15.7" r="0.6"/><circle cx="67.3" cy="49.1" r="0.8"/><circle cx="147.3" cy="131.6" r="0.4"/><circle cx="162.7" cy="24.1" r="0.6"/><circle cx="114.2" cy="150.7" r="0.4"/><circle cx="142.5" cy="64.3" r="0.4"/><circle cx="154.5" cy="56.3" r="0.8"/><circle cx="110.4" cy="47.4" r="0.5"/><circle cx="128.5" cy="12.5" r="0.5"/><circle cx="76.0" cy="38.7" r="0.6"/><circle cx="66.3" cy="158.8" r="0.8"/><circle cx="142.3" cy="15.5" r="0.5"/><circle cx="102.4" cy="22.8" r="0.9"/><circle cx="122.5" cy="157.4" r="0.7"/><circle cx="116.1" cy="147.9" r="0.9"/><circle cx="59.9" cy="125.3" r="0.8"/><circle cx="92.6" cy="104.3" r="0.5"/><circle cx="85.9" cy="167.0" r="0.8"/><circle cx="72.7" cy="163.7" r="0.7"/><circle cx="84.7" cy="130.5" r="0.7"/><circle cx="150.0" cy="13.9" r="0.7"/><circle cx="78.9" cy="30.2" r="0.4"/><circle cx="74.4" cy="145.8" r="0.5"/><circle cx="66.8" cy="127.3" r="0.7"/><circle cx="68.2" cy="164.3" r="0.6"/><circle cx="100.3" cy="16.2" r="0.9"/><circle cx="87.7" cy="161.2" r="0.4"/><circle cx="105.8" cy="27.5" r="0.4"/><circle cx="106.2" cy="16.7" r="0.6"/><circle cx="95.3" cy="87.5" r="0.8"/><circle cx="124.1" cy="107.2" r="0.9"/><circle cx="73.0" cy="75.2" r="0.9"/><circle cx="142.9" cy="123.3" r="0.6"/><circle cx="64.3" cy="69.2" r="0.9"/><circle cx="81.2" cy="20.3" r="0.4"/><circle cx="68.6" cy="149.2" r="0.8"/><circle cx="86.4" cy="46.0" r="0.5"/><circle cx="114.7" cy="153.9" r="0.4"/><circle cx="87.2" cy="33.5" r="0.8"/><circle cx="135.7" cy="13.6" r="0.4"/><circle cx="109.3" cy="59.0" r="0.6"/><circle cx="65.2" cy="130.7" r="0.7"/><circle cx="89.7" cy="16.3" r="0.9"/><circle cx="55.5" cy="31.8" r="0.5"/><circle cx="117.2" cy="25.5" r="0.5"/><circle cx="84.2" cy="22.9" r="0.8"/><circle cx="81.7" cy="42.3" r="0.5"/><circle cx="105.5" cy="154.6" r="0.4"/><circle cx="63.0" cy="151.8" r="0.6"/><circle cx="118.2" cy="16.1" r="0.6"/><circle cx="126.4" cy="48.4" r="0.4"/><circle cx="54.0" cy="133.0" r="0.7"/><circle cx="59.2" cy="62.9" r="0.5"/><circle cx="56.4" cy="19.8" r="0.5"/><circle cx="50.2" cy="86.2" r="0.4"/><circle cx="91.8" cy="154.4" r="0.6"/><circle cx="82.1" cy="57.4" r="0.6"/><circle cx="78.6" cy="152.5" r="0.5"/><circle cx="81.0" cy="44.5" r="0.7"/><circle cx="121.0" cy="12.2" r="0.4"/><circle cx="54.0" cy="40.7" r="0.5"/><circle cx="117.6" cy="75.9" r="0.5"/><circle cx="72.5" cy="17.0" r="0.5"/><circle cx="109.7" cy="25.9" r="0.6"/><circle cx="113.7" cy="80.4" r="0.8"/><circle cx="94.6" cy="39.5" r="0.4"/><circle cx="90.4" cy="18.9" r="0.9"/><circle cx="112.4" cy="173.8" r="0.7"/><circle cx="80.5" cy="41.1" r="0.6"/><circle cx="58.3" cy="70.8" r="0.4"/><circle cx="96.9" cy="143.1" r="0.7"/><circle cx="136.9" cy="25.3" r="0.5"/><circle cx="135.1" cy="17.1" r="0.4"/><circle cx="85.3" cy="146.8" r="0.4"/><circle cx="61.0" cy="29.1" r="0.9"/><circle cx="145.4" cy="15.0" r="0.6"/><circle cx="95.2" cy="132.1" r="0.8"/><circle cx="130.1" cy="166.6" r="0.4"/><circle cx="60.9" cy="97.0" r="0.6"/><circle cx="73.2" cy="29.5" r="0.9"/><circle cx="96.3" cy="74.1" r="0.6"/><circle cx="56.4" cy="23.7" r="0.8"/><circle cx="161.9" cy="16.7" r="0.6"/><circle cx="119.7" cy="20.8" r="0.6"/><circle cx="84.6" cy="158.8" r="0.4"/><circle cx="63.4" cy="16.5" r="0.4"/><circle cx="61.8" cy="59.1" r="0.8"/><circle cx="96.4" cy="25.4" r="0.4"/><circle cx="108.5" cy="76.0" r="0.7"/><circle cx="65.2" cy="144.6" r="0.6"/><circle cx="142.9" cy="88.3" r="0.6"/><circle cx="127.7" cy="67.5" r="0.6"/><circle cx="130.1" cy="27.0" r="0.4"/><circle cx="156.4" cy="109.2" r="0.5"/><circle cx="97.3" cy="35.7" r="0.8"/><circle cx="51.5" cy="64.3" r="0.8"/><circle cx="94.0" cy="145.7" r="0.8"/><circle cx="69.1" cy="142.5" r="0.9"/><circle cx="155.9" cy="27.2" r="0.6"/><circle cx="147.4" cy="27.4" r="0.7"/><circle cx="101.4" cy="134.6" r="0.4"/><circle cx="92.4" cy="112.7" r="0.4"/><circle cx="143.7" cy="134.6" r="0.8"/><circle cx="149.7" cy="36.6" r="0.6"/><circle cx="148.9" cy="81.5" r="0.7"/><circle cx="58.4" cy="135.0" r="0.8"/><circle cx="76.2" cy="50.0" r="0.5"/><circle cx="144.5" cy="16.5" r="0.8"/><circle cx="77.6" cy="157.5" r="0.5"/><circle cx="116.9" cy="77.1" r="0.8"/><circle cx="83.6" cy="27.8" r="0.7"/><circle cx="55.9" cy="166.6" r="0.5"/><circle cx="116.4" cy="159.4" r="0.6"/><circle cx="92.8" cy="104.8" r="0.6"/><circle cx="63.1" cy="31.6" r="0.8"/><circle cx="143.4" cy="16.9" r="0.8"/><circle cx="53.7" cy="133.0" r="0.4"/><circle cx="50.4" cy="12.1" r="0.8"/><circle cx="130.3" cy="37.8" r="0.7"/><circle cx="135.4" cy="16.0" r="0.9"/><circle cx="57.5" cy="38.6" r="0.8"/><circle cx="153.4" cy="129.2" r="0.5"/><circle cx="148.2" cy="133.4" r="0.4"/><circle cx="82.2" cy="55.5" r="0.7"/><circle cx="160.1" cy="109.9" r="0.6"/><circle cx="145.4" cy="30.1" r="0.7"/><circle cx="105.4" cy="64.9" r="0.5"/><circle cx="55.8" cy="15.2" r="0.9"/><circle cx="104.2" cy="152.8" r="0.4"/><circle cx="63.9" cy="19.4" r="0.6"/><circle cx="113.9" cy="138.9" r="0.6"/><circle cx="57.0" cy="22.6" r="0.4"/><circle cx="140.9" cy="74.7" r="0.4"/><circle cx="91.3" cy="157.0" r="0.4"/><circle cx="92.0" cy="169.4" r="0.6"/><circle cx="54.5" cy="116.9" r="0.4"/><circle cx="75.3" cy="164.9" r="0.7"/><circle cx="109.9" cy="71.9" r="0.4"/><circle cx="50.1" cy="32.3" r="0.8"/><circle cx="74.0" cy="130.1" r="0.7"/><circle cx="149.1" cy="62.0" r="0.6"/><circle cx="73.0" cy="63.3" r="0.7"/><circle cx="82.6" cy="34.4" r="0.5"/><circle cx="51.5" cy="19.9" r="0.9"/><circle cx="73.8" cy="57.9" r="0.6"/><circle cx="105.6" cy="147.3" r="0.5"/><circle cx="76.3" cy="149.4" r="0.4"/><circle cx="73.3" cy="63.9" r="0.8"/><circle cx="119.1" cy="23.0" r="0.8"/><circle cx="62.6" cy="19.5" r="0.6"/><circle cx="71.3" cy="138.9" r="0.4"/><circle cx="126.1" cy="21.8" r="0.8"/><circle cx="78.8" cy="25.2" r="0.7"/><circle cx="111.8" cy="70.3" r="0.5"/><circle cx="72.4" cy="162.1" r="0.6"/><circle cx="66.5" cy="22.6" r="0.9"/><circle cx="149.4" cy="13.4" r="0.7"/><circle cx="142.2" cy="14.0" r="0.6"/><circle cx="110.4" cy="12.4" r="0.4"/><circle cx="148.4" cy="118.9" r="0.4"/><circle cx="145.9" cy="17.6" r="0.4"/><circle cx="110.4" cy="83.9" r="0.5"/><circle cx="92.9" cy="163.3" r="0.4"/><circle cx="132.8" cy="14.3" r="0.5"/><circle cx="122.7" cy="18.6" r="0.9"/><circle cx="62.5" cy="150.7" r="0.5"/><circle cx="133.3" cy="25.8" r="0.8"/><circle cx="117.4" cy="58.5" r="0.4"/><circle cx="139.2" cy="81.0" r="0.4"/><circle cx="100.6" cy="134.8" r="0.6"/><circle cx="85.1" cy="117.3" r="0.4"/><circle cx="147.6" cy="29.3" r="0.4"/><circle cx="70.0" cy="16.5" r="0.4"/><circle cx="85.5" cy="33.4" r="0.8"/><circle cx="152.0" cy="167.4" r="0.8"/><circle cx="77.4" cy="17.8" r="0.6"/><circle cx="84.9" cy="132.1" r="0.4"/><circle cx="97.3" cy="145.3" r="0.7"/><circle cx="62.4" cy="71.7" r="0.7"/><circle cx="144.0" cy="14.1" r="0.4"/><circle cx="75.2" cy="145.2" r="0.6"/><circle cx="120.7" cy="27.9" r="0.4"/><circle cx="72.6" cy="13.6" r="0.8"/><circle cx="111.8" cy="163.8" r="0.6"/><circle cx="105.0" cy="14.7" r="0.6"/><circle cx="137.2" cy="160.7" r="0.7"/><circle cx="93.3" cy="21.5" r="0.5"/><circle cx="112.5" cy="136.4" r="0.5"/><circle cx="76.5" cy="56.9" r="0.5"/><circle cx="165.6" cy="12.9" r="0.7"/><circle cx="103.1" cy="101.6" r="0.7"/><circle cx="77.5" cy="27.9" r="0.8"/><circle cx="105.4" cy="47.0" r="0.5"/><circle cx="80.0" cy="17.6" r="0.5"/><circle cx="119.0" cy="122.9" r="0.6"/><circle cx="154.0" cy="21.4" r="0.8"/><circle cx="134.2" cy="21.7" r="0.5"/><circle cx="107.7" cy="150.4" r="0.6"/><circle cx="105.4" cy="73.5" r="0.8"/><circle cx="74.7" cy="29.6" r="0.7"/><circle cx="153.8" cy="120.8" r="0.8"/><circle cx="69.3" cy="36.4" r="0.7"/><circle cx="123.2" cy="134.5" r="0.7"/><circle cx="151.3" cy="33.8" r="0.4"/><circle cx="107.1" cy="157.2" r="0.5"/><circle cx="71.3" cy="56.8" r="0.6"/><circle cx="127.6" cy="68.5" r="0.6"/><circle cx="77.2" cy="72.0" r="0.9"/><circle cx="76.1" cy="153.4" r="0.9"/><circle cx="84.0" cy="22.7" r="0.7"/><circle cx="147.9" cy="44.1" r="0.7"/><circle cx="134.2" cy="33.9" r="0.8"/><circle cx="137.5" cy="61.6" r="0.6"/><circle cx="74.8" cy="14.9" r="0.5"/><circle cx="59.0" cy="30.4" r="0.7"/><circle cx="54.0" cy="139.2" r="0.8"/><circle cx="149.9" cy="67.5" r="0.7"/><circle cx="96.6" cy="133.0" r="0.8"/><circle cx="84.4" cy="95.1" r="0.7"/><circle cx="56.4" cy="50.1" r="0.8"/><circle cx="109.4" cy="87.4" r="0.5"/><circle cx="81.7" cy="17.8" r="0.6"/><circle cx="135.8" cy="28.2" r="0.5"/><circle cx="80.9" cy="34.9" r="0.9"/><circle cx="90.4" cy="161.1" r="0.8"/><circle cx="61.5" cy="129.5" r="0.4"/><circle cx="106.3" cy="16.1" r="0.7"/><circle cx="61.0" cy="83.2" r="0.4"/><circle cx="55.7" cy="143.0" r="0.5"/><circle cx="160.4" cy="44.1" r="0.9"/><circle cx="79.5" cy="158.2" r="0.6"/><circle cx="98.4" cy="25.0" r="0.8"/><circle cx="124.7" cy="92.1" r="0.8"/><circle cx="55.7" cy="116.2" r="0.5"/><circle cx="107.4" cy="142.3" r="0.6"/><circle cx="112.1" cy="27.8" r="0.6"/><circle cx="77.5" cy="167.2" r="0.8"/><circle cx="85.4" cy="25.4" r="0.9"/><circle cx="79.7" cy="157.0" r="0.7"/><circle cx="117.6" cy="113.3" r="0.7"/><circle cx="95.3" cy="33.4" r="0.6"/><circle cx="102.6" cy="17.6" r="0.6"/><circle cx="64.2" cy="21.0" r="0.7"/><circle cx="99.4" cy="16.4" r="0.6"/><circle cx="88.1" cy="139.7" r="0.6"/><circle cx="62.2" cy="164.9" r="0.4"/><circle cx="98.7" cy="16.5" r="0.4"/><circle cx="116.4" cy="58.1" r="0.6"/><circle cx="125.3" cy="21.7" r="0.8"/><circle cx="86.5" cy="157.3" r="0.4"/><circle cx="74.2" cy="160.0" r="0.7"/><circle cx="139.9" cy="21.3" r="0.6"/><circle cx="110.7" cy="52.6" r="0.6"/><circle cx="122.5" cy="22.5" r="0.7"/><circle cx="119.1" cy="16.0" r="0.8"/><circle cx="91.3" cy="66.9" r="0.4"/><circle cx="116.2" cy="43.4" r="0.4"/><circle cx="95.0" cy="52.8" r="0.4"/><circle cx="67.9" cy="28.2" r="0.8"/><circle cx="90.1" cy="103.9" r="0.8"/><circle cx="92.6" cy="51.6" r="0.6"/><circle cx="68.9" cy="158.3" r="0.5"/><circle cx="126.5" cy="73.5" r="0.9"/><circle cx="64.0" cy="98.6" r="0.5"/><circle cx="119.4" cy="43.4" r="0.8"/><circle cx="74.6" cy="157.0" r="0.6"/><circle cx="159.4" cy="29.7" r="0.6"/><circle cx="67.4" cy="112.5" r="0.7"/><circle cx="96.9" cy="73.6" r="0.7"/><circle cx="149.5" cy="13.2" r="0.4"/><circle cx="114.7" cy="156.4" r="0.8"/><circle cx="94.9" cy="32.7" r="0.9"/><circle cx="75.6" cy="16.1" r="0.4"/><circle cx="82.2" cy="77.8" r="0.6"/><circle cx="63.3" cy="141.7" r="0.7"/><circle cx="154.8" cy="50.8" r="0.9"/><circle cx="50.8" cy="19.1" r="0.7"/><circle cx="143.6" cy="38.5" r="0.6"/><circle cx="116.7" cy="151.0" r="0.7"/><circle cx="119.0" cy="50.8" r="0.7"/><circle cx="73.9" cy="153.1" r="0.6"/><circle cx="79.1" cy="134.9" r="0.9"/><circle cx="136.6" cy="62.8" r="0.7"/><circle cx="85.6" cy="75.0" r="0.4"/><circle cx="116.0" cy="40.7" r="0.5"/><circle cx="69.5" cy="163.9" r="0.7"/><circle cx="83.4" cy="152.2" r="0.7"/><circle cx="159.0" cy="18.4" r="0.7"/><circle cx="83.7" cy="143.9" r="0.6"/><circle cx="130.3" cy="163.8" r="0.4"/><circle cx="107.6" cy="19.5" r="0.8"/><circle cx="155.1" cy="26.9" r="0.7"/><circle cx="61.6" cy="31.8" r="0.6"/><circle cx="63.4" cy="66.4" r="0.5"/><circle cx="90.2" cy="80.3" r="0.8"/><circle cx="129.3" cy="79.1" r="0.7"/><circle cx="126.0" cy="89.0" r="0.4"/><circle cx="87.7" cy="147.2" r="0.6"/><circle cx="68.9" cy="35.3" r="0.7"/><circle cx="52.1" cy="136.8" r="0.5"/><circle cx="78.7" cy="153.7" r="0.6"/><circle cx="152.3" cy="20.6" r="0.9"/><circle cx="126.5" cy="134.2" r="0.8"/><circle cx="101.0" cy="133.5" r="0.6"/><circle cx="82.7" cy="16.7" r="0.7"/><circle cx="138.4" cy="38.1" r="0.4"/><circle cx="114.2" cy="22.6" r="0.8"/><circle cx="98.9" cy="26.4" r="0.5"/><circle cx="53.9" cy="147.6" r="0.8"/><circle cx="50.6" cy="17.1" r="0.6"/><circle cx="133.9" cy="20.1" r="0.5"/><circle cx="135.0" cy="36.6" r="0.7"/><circle cx="156.8" cy="160.0" r="0.8"/><circle cx="141.6" cy="27.1" r="0.7"/><circle cx="89.5" cy="160.6" r="0.9"/><circle cx="145.1" cy="20.5" r="0.4"/><circle cx="54.4" cy="88.0" r="0.7"/><circle cx="66.1" cy="56.6" r="0.7"/><circle cx="110.3" cy="61.5" r="0.7"/><circle cx="139.1" cy="54.5" r="0.6"/><circle cx="138.0" cy="54.0" r="0.8"/><circle cx="115.4" cy="159.0" r="0.5"/><circle cx="68.1" cy="75.2" r="0.5"/><circle cx="127.9" cy="75.4" r="0.5"/><circle cx="69.7" cy="59.3" r="0.9"/><circle cx="130.5" cy="27.1" r="0.8"/><circle cx="114.4" cy="151.9" r="0.6"/><circle cx="109.8" cy="74.6" r="0.5"/><circle cx="93.7" cy="12.0" r="0.8"/><circle cx="149.5" cy="163.9" r="0.9"/><circle cx="68.2" cy="61.4" r="0.6"/><circle cx="153.5" cy="22.8" r="0.4"/><circle cx="55.4" cy="42.4" r="0.6"/><circle cx="76.8" cy="131.1" r="0.8"/><circle cx="137.7" cy="19.1" r="0.4"/><circle cx="92.6" cy="138.2" r="0.6"/><circle cx="59.2" cy="50.8" r="0.4"/><circle cx="57.3" cy="37.0" r="0.9"/><circle cx="97.2" cy="24.5" r="0.8"/><circle cx="50.0" cy="133.7" r="0.6"/><circle cx="129.6" cy="50.3" r="0.7"/><circle cx="91.0" cy="151.4" r="0.5"/><circle cx="98.6" cy="74.9" r="0.4"/><circle cx="153.6" cy="13.0" r="0.9"/><circle cx="62.8" cy="134.7" r="0.5"/><circle cx="162.9" cy="22.9" r="0.7"/><circle cx="135.1" cy="39.2" r="0.7"/><circle cx="84.9" cy="113.5" r="0.4"/><circle cx="143.4" cy="16.9" r="0.5"/><circle cx="65.4" cy="105.7" r="0.7"/><circle cx="155.1" cy="24.4" r="0.6"/><circle cx="89.3" cy="150.5" r="0.8"/><circle cx="70.7" cy="31.4" r="0.7"/><circle cx="88.7" cy="13.2" r="0.7"/><circle cx="124.7" cy="24.8" r="0.7"/><circle cx="78.7" cy="63.6" r="0.5"/><circle cx="51.7" cy="97.2" r="0.7"/><circle cx="133.2" cy="47.4" r="0.4"/><circle cx="84.1" cy="12.0" r="0.7"/><circle cx="110.3" cy="62.0" r="0.7"/><circle cx="111.6" cy="63.2" r="0.5"/><circle cx="51.8" cy="155.9" r="0.4"/><circle cx="105.3" cy="40.1" r="0.7"/><circle cx="136.6" cy="50.4" r="0.7"/><circle cx="131.5" cy="27.7" r="0.8"/><circle cx="105.2" cy="40.6" r="0.4"/><circle cx="82.7" cy="147.6" r="0.8"/><circle cx="146.7" cy="42.9" r="0.8"/><circle cx="106.0" cy="79.6" r="0.4"/><circle cx="103.0" cy="30.0" r="0.6"/><circle cx="150.4" cy="49.2" r="0.7"/><circle cx="61.6" cy="97.1" r="0.7"/><circle cx="58.9" cy="13.6" r="0.8"/><circle cx="85.6" cy="23.1" r="0.7"/><circle cx="50.1" cy="84.2" r="0.7"/><circle cx="103.8" cy="113.1" r="0.9"/><circle cx="123.6" cy="20.5" r="0.7"/><circle cx="83.7" cy="42.8" r="0.5"/><circle cx="151.7" cy="27.5" r="0.9"/><circle cx="140.3" cy="16.1" r="0.5"/><circle cx="73.5" cy="134.5" r="0.5"/><circle cx="76.2" cy="14.0" r="0.5"/><circle cx="55.2" cy="95.7" r="0.9"/><circle cx="156.4" cy="155.5" r="0.6"/><circle cx="92.0" cy="142.9" r="0.7"/><circle cx="68.6" cy="27.4" r="0.5"/><circle cx="113.3" cy="25.7" r="0.5"/><circle cx="125.5" cy="131.9" r="0.6"/><circle cx="106.6" cy="161.6" r="0.7"/><circle cx="86.7" cy="18.6" r="0.6"/><circle cx="81.4" cy="155.1" r="0.6"/><circle cx="116.2" cy="144.7" r="0.6"/><circle cx="110.8" cy="55.6" r="0.8"/><circle cx="64.8" cy="55.6" r="0.5"/><circle cx="105.4" cy="145.2" r="0.5"/><circle cx="105.5" cy="42.2" r="0.4"/><circle cx="104.6" cy="102.1" r="0.4"/><circle cx="101.8" cy="16.7" r="0.5"/><circle cx="88.7" cy="90.7" r="0.8"/><circle cx="99.6" cy="161.9" r="0.9"/><circle cx="122.7" cy="117.4" r="0.8"/><circle cx="85.4" cy="114.5" r="0.6"/><circle cx="102.7" cy="164.5" r="0.9"/><circle cx="88.1" cy="153.6" r="0.7"/><circle cx="146.3" cy="20.5" r="0.7"/><circle cx="130.9" cy="129.6" r="0.4"/><circle cx="127.3" cy="130.0" r="0.4"/><circle cx="95.0" cy="69.8" r="0.8"/><circle cx="119.9" cy="32.5" r="0.4"/><circle cx="127.0" cy="172.2" r="0.7"/><circle cx="68.8" cy="98.0" r="0.7"/><circle cx="92.3" cy="44.2" r="0.8"/><circle cx="135.2" cy="30.5" r="0.6"/><circle cx="52.9" cy="45.8" r="0.9"/><circle cx="106.7" cy="154.0" r="0.9"/><circle cx="147.8" cy="148.7" r="0.7"/><circle cx="133.6" cy="139.3" r="0.7"/><circle cx="65.7" cy="97.0" r="0.8"/><circle cx="82.2" cy="109.2" r="0.4"/><circle cx="105.4" cy="22.5" r="0.9"/><circle cx="87.2" cy="160.9" r="0.5"/><circle cx="69.7" cy="109.1" r="0.6"/><circle cx="95.0" cy="120.2" r="0.4"/><circle cx="93.5" cy="29.9" r="0.4"/><circle cx="87.1" cy="22.4" r="0.8"/><circle cx="82.2" cy="167.4" r="0.5"/><circle cx="104.7" cy="148.4" r="0.5"/><circle cx="159.6" cy="51.7" r="0.9"/><circle cx="87.9" cy="70.5" r="0.4"/><circle cx="153.6" cy="60.2" r="0.4"/><circle cx="106.2" cy="13.8" r="0.7"/><circle cx="59.8" cy="64.0" r="0.6"/><circle cx="150.7" cy="146.8" r="0.7"/><circle cx="62.8" cy="60.6" r="0.9"/><circle cx="97.7" cy="90.3" r="0.4"/><circle cx="97.6" cy="57.0" r="0.5"/><circle cx="100.0" cy="14.9" r="0.9"/><circle cx="71.8" cy="127.4" r="0.6"/><circle cx="140.7" cy="26.3" r="0.8"/><circle cx="63.8" cy="148.5" r="0.4"/><circle cx="137.0" cy="18.6" r="0.6"/><circle cx="64.7" cy="76.4" r="0.4"/><circle cx="83.7" cy="59.8" r="0.6"/><circle cx="127.9" cy="116.1" r="0.8"/><circle cx="87.1" cy="87.9" r="0.7"/><circle cx="81.8" cy="24.0" r="0.7"/><circle cx="53.5" cy="28.3" r="0.5"/><circle cx="87.3" cy="47.6" r="0.5"/><circle cx="66.4" cy="128.6" r="0.6"/><circle cx="68.5" cy="152.6" r="0.4"/><circle cx="113.8" cy="58.8" r="0.4"/><circle cx="105.2" cy="163.3" r="0.7"/><circle cx="87.4" cy="73.9" r="0.7"/><circle cx="84.1" cy="162.8" r="0.6"/><circle cx="88.6" cy="45.1" r="0.9"/><circle cx="60.8" cy="59.8" r="0.6"/><circle cx="74.5" cy="45.4" r="0.8"/><circle cx="65.8" cy="167.1" r="0.5"/><circle cx="61.0" cy="165.9" r="0.9"/><circle cx="82.3" cy="94.7" r="0.7"/><circle cx="140.4" cy="124.9" r="0.8"/><circle cx="82.7" cy="38.3" r="0.6"/><circle cx="106.8" cy="15.4" r="0.9"/><circle cx="51.9" cy="35.4" r="0.7"/><circle cx="151.5" cy="19.5" r="0.4"/><circle cx="66.6" cy="71.5" r="0.6"/><circle cx="54.5" cy="49.9" r="0.7"/><circle cx="112.9" cy="87.5" r="0.9"/><circle cx="134.3" cy="139.6" r="0.8"/><circle cx="112.8" cy="167.8" r="0.7"/><circle cx="152.1" cy="17.0" r="0.4"/><circle cx="95.2" cy="134.0" r="0.8"/><circle cx="61.5" cy="134.4" r="0.8"/><circle cx="109.7" cy="147.5" r="0.8"/><circle cx="70.0" cy="60.8" r="0.7"/><circle cx="58.7" cy="55.3" r="0.9"/><circle cx="58.1" cy="173.6" r="0.8"/><circle cx="104.6" cy="14.6" r="0.4"/><circle cx="135.5" cy="31.8" r="0.7"/><circle cx="90.3" cy="26.1" r="0.6"/><circle cx="65.5" cy="135.2" r="0.6"/><circle cx="68.9" cy="36.3" r="0.8"/><circle cx="108.2" cy="19.1" r="0.4"/><circle cx="53.9" cy="160.6" r="0.4"/><circle cx="118.0" cy="154.3" r="0.6"/><circle cx="141.4" cy="100.9" r="0.9"/><circle cx="75.1" cy="12.5" r="0.5"/><circle cx="130.7" cy="16.7" r="0.5"/><circle cx="110.7" cy="13.9" r="0.6"/><circle cx="89.6" cy="73.6" r="0.5"/><circle cx="160.7" cy="18.9" r="0.8"/><circle cx="159.7" cy="62.2" r="0.8"/><circle cx="89.4" cy="146.9" r="0.8"/><circle cx="52.1" cy="126.7" r="0.7"/><circle cx="86.2" cy="25.4" r="0.8"/><circle cx="102.3" cy="142.9" r="0.5"/><circle cx="151.2" cy="171.7" r="0.4"/><circle cx="109.5" cy="167.6" r="0.7"/><circle cx="114.9" cy="16.0" r="0.8"/><circle cx="64.0" cy="158.2" r="0.5"/><circle cx="122.8" cy="17.8" r="0.4"/><circle cx="81.5" cy="147.6" r="0.5"/><circle cx="160.6" cy="46.5" r="0.4"/><circle cx="65.5" cy="21.1" r="0.4"/><circle cx="75.5" cy="62.9" r="0.4"/><circle cx="99.7" cy="141.7" r="0.6"/><circle cx="105.1" cy="106.1" r="0.4"/><circle cx="147.1" cy="39.2" r="0.5"/><circle cx="82.3" cy="19.1" r="0.4"/><circle cx="107.0" cy="151.7" r="0.6"/><circle cx="99.9" cy="24.1" r="0.5"/><circle cx="58.4" cy="128.8" r="0.8"/><circle cx="71.4" cy="129.2" r="0.6"/><circle cx="154.9" cy="25.2" r="0.6"/><circle cx="78.8" cy="150.3" r="0.5"/><circle cx="90.4" cy="19.7" r="0.8"/><circle cx="110.5" cy="164.5" r="0.5"/><circle cx="152.4" cy="31.2" r="0.7"/><circle cx="141.3" cy="18.1" r="0.8"/><circle cx="95.6" cy="33.7" r="0.8"/><circle cx="94.5" cy="18.5" r="0.8"/><circle cx="117.5" cy="62.0" r="0.4"/><circle cx="100.8" cy="75.6" r="0.6"/><circle cx="61.2" cy="140.2" r="0.5"/><circle cx="134.1" cy="18.4" r="0.7"/><circle cx="108.1" cy="141.5" r="0.5"/><circle cx="100.3" cy="89.6" r="0.5"/><circle cx="70.7" cy="158.0" r="0.8"/><circle cx="66.2" cy="140.4" r="0.8"/><circle cx="167.0" cy="51.1" r="0.9"/><circle cx="148.1" cy="25.1" r="0.6"/><circle cx="87.9" cy="12.8" r="0.6"/><circle cx="148.4" cy="24.8" r="0.9"/><circle cx="73.7" cy="43.4" r="0.8"/><circle cx="69.7" cy="51.8" r="0.4"/><circle cx="98.3" cy="165.9" r="0.4"/><circle cx="70.1" cy="79.8" r="0.7"/><circle cx="55.8" cy="102.6" r="0.9"/><circle cx="111.7" cy="138.2" r="0.4"/><circle cx="64.6" cy="15.3" r="0.5"/><circle cx="54.8" cy="157.1" r="0.7"/><circle cx="129.8" cy="19.9" r="0.8"/><circle cx="107.5" cy="22.3" r="0.7"/><circle cx="83.9" cy="133.5" r="0.7"/><circle cx="140.6" cy="19.4" r="0.7"/><circle cx="83.0" cy="63.7" r="0.7"/><circle cx="138.9" cy="120.6" r="0.5"/><circle cx="99.5" cy="130.2" r="0.4"/><circle cx="157.5" cy="22.6" r="0.9"/><circle cx="71.3" cy="72.0" r="0.4"/><circle cx="124.3" cy="57.5" r="0.8"/><circle cx="58.9" cy="74.9" r="0.8"/><circle cx="57.6" cy="162.7" r="0.8"/><circle cx="102.0" cy="162.2" r="0.8"/><circle cx="109.1" cy="73.9" r="0.4"/><circle cx="73.3" cy="158.4" r="0.8"/><circle cx="55.6" cy="43.4" r="0.5"/><circle cx="114.7" cy="52.4" r="0.7"/><circle cx="71.6" cy="63.3" r="0.4"/><circle cx="101.5" cy="26.8" r="0.4"/><circle cx="104.8" cy="137.2" r="0.9"/><circle cx="103.2" cy="84.8" r="0.9"/><circle cx="53.2" cy="130.8" r="0.4"/><circle cx="108.1" cy="102.2" r="0.5"/><circle cx="50.5" cy="21.3" r="0.7"/><circle cx="133.0" cy="13.7" r="0.5"/><circle cx="67.7" cy="162.4" r="0.4"/><circle cx="67.5" cy="14.4" r="0.7"/><circle cx="111.5" cy="62.7" r="0.6"/><circle cx="131.6" cy="118.4" r="0.5"/><circle cx="81.3" cy="141.5" r="0.7"/><circle cx="99.5" cy="139.3" r="0.4"/><circle cx="84.8" cy="24.5" r="0.7"/><circle cx="153.7" cy="14.2" r="0.8"/><circle cx="98.0" cy="155.8" r="0.5"/><circle cx="97.4" cy="48.9" r="0.5"/><circle cx="82.4" cy="137.7" r="0.6"/><circle cx="56.2" cy="29.8" r="0.8"/><circle cx="91.0" cy="31.0" r="0.6"/><circle cx="133.5" cy="65.9" r="0.5"/><circle cx="137.7" cy="28.2" r="0.8"/><circle cx="59.9" cy="13.9" r="0.7"/><circle cx="69.3" cy="123.2" r="0.5"/><circle cx="68.6" cy="14.7" r="0.7"/><circle cx="103.8" cy="35.0" r="0.8"/><circle cx="73.4" cy="155.5" r="0.7"/><circle cx="147.5" cy="82.6" r="0.5"/><circle cx="75.5" cy="136.5" r="0.8"/><circle cx="123.8" cy="20.8" r="0.7"/><circle cx="148.3" cy="14.9" r="0.6"/><circle cx="113.7" cy="89.3" r="0.5"/><circle cx="71.8" cy="27.7" r="0.6"/><circle cx="149.5" cy="145.5" r="0.5"/><circle cx="52.0" cy="40.3" r="0.8"/><circle cx="109.2" cy="147.6" r="0.5"/><circle cx="62.9" cy="13.6" r="0.4"/><circle cx="62.0" cy="77.9" r="0.4"/><circle cx="115.7" cy="16.2" r="0.6"/><circle cx="53.8" cy="163.5" r="0.4"/><circle cx="110.5" cy="70.4" r="0.5"/><circle cx="57.8" cy="33.5" r="0.7"/><circle cx="88.5" cy="74.1" r="0.4"/><circle cx="54.9" cy="40.9" r="0.5"/><circle cx="112.9" cy="157.1" r="0.6"/><circle cx="95.1" cy="144.0" r="0.9"/><circle cx="158.3" cy="29.1" r="0.8"/><circle cx="70.0" cy="126.5" r="0.7"/><circle cx="142.4" cy="12.5" r="0.7"/><circle cx="62.6" cy="63.9" r="0.8"/><circle cx="93.6" cy="22.2" r="0.8"/><circle cx="83.2" cy="13.7" r="0.8"/><circle cx="70.6" cy="136.4" r="0.4"/><circle cx="87.7" cy="22.8" r="0.9"/><circle cx="70.3" cy="45.3" r="0.6"/><circle cx="107.8" cy="55.6" r="0.4"/><circle cx="98.3" cy="150.4" r="0.8"/><circle cx="74.2" cy="17.5" r="0.8"/><circle cx="165.3" cy="78.7" r="0.9"/><circle cx="70.5" cy="38.6" r="0.9"/><circle cx="142.7" cy="16.2" r="0.8"/><circle cx="115.0" cy="107.5" r="0.8"/><circle cx="144.9" cy="28.6" r="0.6"/><circle cx="97.6" cy="116.4" r="0.8"/><circle cx="71.1" cy="160.3" r="0.4"/><circle cx="87.4" cy="149.7" r="0.4"/><circle cx="60.8" cy="19.4" r="0.6"/><circle cx="123.2" cy="28.4" r="0.8"/><circle cx="77.6" cy="126.8" r="0.5"/><circle cx="71.2" cy="127.4" r="0.7"/><circle cx="69.1" cy="118.7" r="0.6"/><circle cx="65.5" cy="28.7" r="0.8"/><circle cx="53.8" cy="121.6" r="0.4"/><circle cx="60.0" cy="122.7" r="0.4"/><circle cx="84.0" cy="55.4" r="0.7"/><circle cx="77.8" cy="116.1" r="0.5"/><circle cx="162.5" cy="69.6" r="0.8"/><circle cx="78.4" cy="113.9" r="0.8"/><circle cx="109.3" cy="78.8" r="0.8"/><circle cx="68.1" cy="135.3" r="0.6"/><circle cx="80.8" cy="109.4" r="0.5"/><circle cx="139.2" cy="32.9" r="0.6"/><circle cx="60.3" cy="150.4" r="0.6"/><circle cx="152.0" cy="113.4" r="0.5"/><circle cx="93.5" cy="20.3" r="0.8"/><circle cx="50.7" cy="164.2" r="0.7"/><circle cx="126.5" cy="49.3" r="0.5"/><circle cx="121.1" cy="20.6" r="0.8"/><circle cx="150.0" cy="159.6" r="0.7"/><circle cx="71.8" cy="98.4" r="0.6"/><circle cx="137.5" cy="44.2" r="0.9"/><circle cx="96.4" cy="166.0" r="0.9"/><circle cx="80.8" cy="145.0" r="0.5"/><circle cx="85.4" cy="34.1" r="0.8"/><circle cx="56.1" cy="24.7" r="0.8"/><circle cx="164.0" cy="16.0" r="0.7"/><circle cx="93.2" cy="106.9" r="0.4"/><circle cx="118.0" cy="42.8" r="0.5"/><circle cx="129.4" cy="43.8" r="0.8"/><circle cx="145.5" cy="23.6" r="0.4"/><circle cx="139.9" cy="152.0" r="0.5"/><circle cx="156.6" cy="16.7" r="0.4"/><circle cx="97.6" cy="26.1" r="0.8"/><circle cx="51.9" cy="135.8" r="0.5"/><circle cx="56.7" cy="63.7" r="0.6"/><circle cx="58.2" cy="27.7" r="0.7"/><circle cx="92.2" cy="74.7" r="0.5"/><circle cx="154.5" cy="31.4" r="0.4"/><circle cx="59.8" cy="89.8" r="0.8"/><circle cx="108.8" cy="25.4" r="0.4"/><circle cx="133.5" cy="28.3" r="0.4"/><circle cx="100.5" cy="21.6" r="0.5"/><circle cx="106.8" cy="144.1" r="0.5"/><circle cx="106.4" cy="56.3" r="0.7"/><circle cx="82.6" cy="78.1" r="0.7"/><circle cx="85.7" cy="59.0" r="0.8"/><circle cx="156.7" cy="45.5" r="0.8"/><circle cx="96.5" cy="27.6" r="0.5"/><circle cx="52.3" cy="40.1" r="0.8"/><circle cx="126.4" cy="130.1" r="0.9"/><circle cx="111.4" cy="26.1" r="0.8"/><circle cx="56.8" cy="41.3" r="0.4"/><circle cx="82.2" cy="63.4" r="0.4"/><circle cx="124.0" cy="62.8" r="0.5"/><circle cx="58.2" cy="165.7" r="0.8"/><circle cx="110.3" cy="83.9" r="0.7"/><circle cx="73.6" cy="130.6" r="0.8"/><circle cx="123.5" cy="21.1" r="0.7"/><circle cx="88.8" cy="66.5" r="0.7"/><circle cx="57.0" cy="123.1" r="0.7"/><circle cx="66.2" cy="154.1" r="0.7"/><circle cx="97.0" cy="150.6" r="0.5"/><circle cx="76.7" cy="137.1" r="0.5"/><circle cx="65.6" cy="73.6" r="0.9"/><circle cx="138.9" cy="149.8" r="0.8"/><circle cx="145.5" cy="60.0" r="0.4"/><circle cx="94.1" cy="118.0" r="0.6"/><circle cx="59.8" cy="61.4" r="0.7"/><circle cx="54.7" cy="79.1" r="0.6"/><circle cx="118.6" cy="147.7" r="0.8"/><circle cx="84.6" cy="165.4" r="0.8"/><circle cx="72.6" cy="130.6" r="0.6"/><circle cx="55.1" cy="24.5" r="0.6"/><circle cx="96.8" cy="160.7" r="0.6"/><circle cx="55.4" cy="44.2" r="0.4"/><circle cx="61.7" cy="57.9" r="0.4"/><circle cx="79.2" cy="34.5" r="0.7"/><circle cx="75.6" cy="100.8" r="0.4"/><circle cx="68.9" cy="43.5" r="0.8"/><circle cx="125.3" cy="54.0" r="0.4"/><circle cx="151.2" cy="34.2" r="0.6"/><circle cx="53.0" cy="99.2" r="0.8"/><circle cx="77.1" cy="67.1" r="0.7"/><circle cx="121.7" cy="24.4" r="0.7"/><circle cx="85.5" cy="159.9" r="0.5"/><circle cx="76.5" cy="139.4" r="0.4"/><circle cx="110.2" cy="61.8" r="0.6"/><circle cx="78.8" cy="56.8" r="0.8"/><circle cx="101.0" cy="84.0" r="0.7"/><circle cx="124.9" cy="26.8" r="0.6"/><circle cx="56.7" cy="13.5" r="0.4"/><circle cx="127.5" cy="52.8" r="0.4"/><circle cx="82.1" cy="121.4" r="0.5"/><circle cx="164.7" cy="22.1" r="0.4"/><circle cx="78.4" cy="74.9" r="0.8"/><circle cx="112.7" cy="44.1" r="0.7"/><circle cx="62.1" cy="143.7" r="0.7"/><circle cx="89.9" cy="158.9" r="0.7"/><circle cx="140.5" cy="175.9" r="0.5"/><circle cx="104.4" cy="148.9" r="0.9"/><circle cx="54.5" cy="12.3" r="0.6"/><circle cx="108.1" cy="20.3" r="0.4"/><circle cx="82.2" cy="30.9" r="0.4"/><circle cx="74.7" cy="59.9" r="0.5"/><circle cx="101.1" cy="60.8" r="0.4"/><circle cx="112.5" cy="166.2" r="0.6"/><circle cx="81.1" cy="42.8" r="0.8"/><circle cx="64.1" cy="24.5" r="0.7"/><circle cx="61.7" cy="35.2" r="0.6"/><circle cx="150.3" cy="21.9" r="0.5"/><circle cx="92.6" cy="165.0" r="0.7"/><circle cx="73.5" cy="166.1" r="0.5"/><circle cx="70.4" cy="124.8" r="0.4"/><circle cx="55.4" cy="121.8" r="0.6"/><circle cx="60.9" cy="15.2" r="0.8"/><circle cx="80.4" cy="92.0" r="0.4"/><circle cx="147.6" cy="50.3" r="0.4"/><circle cx="103.2" cy="162.8" r="0.8"/><circle cx="52.3" cy="55.2" r="0.9"/><circle cx="95.7" cy="62.1" r="0.8"/><circle cx="58.2" cy="132.6" r="0.8"/><circle cx="101.2" cy="23.3" r="0.4"/><circle cx="91.9" cy="82.8" r="0.4"/><circle cx="90.5" cy="76.3" r="0.5"/><circle cx="116.0" cy="23.4" r="0.8"/><circle cx="63.9" cy="150.5" r="0.6"/><circle cx="150.5" cy="68.5" r="0.6"/><circle cx="60.9" cy="53.5" r="0.9"/><circle cx="65.3" cy="149.7" r="0.8"/><circle cx="104.9" cy="162.9" r="0.5"/><circle cx="61.0" cy="74.3" r="0.5"/><circle cx="104.6" cy="83.5" r="0.6"/><circle cx="61.4" cy="18.1" r="0.7"/><circle cx="103.1" cy="42.3" r="0.9"/><circle cx="115.3" cy="162.3" r="0.4"/><circle cx="76.7" cy="137.6" r="0.5"/><circle cx="138.9" cy="52.3" r="0.4"/><circle cx="97.9" cy="155.4" r="0.4"/><circle cx="109.8" cy="167.3" r="0.8"/><circle cx="91.5" cy="146.1" r="0.7"/><circle cx="109.8" cy="58.1" r="0.4"/><circle cx="136.2" cy="33.6" r="0.6"/><circle cx="164.5" cy="72.1" r="0.5"/><circle cx="130.5" cy="137.5" r="0.8"/><circle cx="82.2" cy="48.9" r="0.5"/><circle cx="96.3" cy="19.1" r="0.4"/><circle cx="115.1" cy="17.8" r="0.6"/><circle cx="97.1" cy="14.3" r="0.5"/><circle cx="65.5" cy="72.9" r="0.4"/><circle cx="99.7" cy="122.1" r="0.8"/><circle cx="67.4" cy="22.5" r="0.5"/><circle cx="119.7" cy="42.5" r="0.6"/><circle cx="136.1" cy="161.0" r="0.4"/><circle cx="61.5" cy="62.0" r="0.9"/><circle cx="115.5" cy="162.3" r="0.7"/><circle cx="152.6" cy="16.2" r="0.8"/><circle cx="54.6" cy="74.8" r="0.7"/><circle cx="142.0" cy="24.5" r="0.4"/><circle cx="74.5" cy="40.8" r="0.4"/><circle cx="110.4" cy="62.6" r="0.5"/><circle cx="90.6" cy="132.2" r="0.5"/><circle cx="53.2" cy="162.6" r="0.6"/><circle cx="157.7" cy="17.2" r="0.4"/><circle cx="122.6" cy="43.3" r="0.4"/><circle cx="92.5" cy="29.7" r="0.9"/><circle cx="58.5" cy="63.8" r="0.8"/><circle cx="134.2" cy="22.4" r="0.5"/><circle cx="84.7" cy="33.3" r="0.6"/><circle cx="52.2" cy="17.5" r="0.5"/><circle cx="68.4" cy="17.9" r="0.8"/><circle cx="128.9" cy="28.7" r="0.6"/><circle cx="70.6" cy="39.9" r="0.5"/><circle cx="57.2" cy="124.8" r="0.6"/><circle cx="103.2" cy="40.1" r="0.6"/><circle cx="76.2" cy="35.0" r="0.5"/><circle cx="50.1" cy="17.6" r="0.5"/><circle cx="58.0" cy="60.0" r="0.5"/><circle cx="124.7" cy="50.2" r="0.7"/><circle cx="88.6" cy="133.0" r="0.7"/><circle cx="64.9" cy="110.3" r="0.7"/><circle cx="94.3" cy="130.9" r="0.5"/><circle cx="145.2" cy="17.1" r="0.5"/><circle cx="102.3" cy="107.4" r="0.5"/><circle cx="132.2" cy="24.8" r="0.5"/><circle cx="100.3" cy="24.5" r="0.4"/><circle cx="153.1" cy="27.5" r="0.6"/><circle cx="119.6" cy="133.7" r="0.5"/><circle cx="131.6" cy="180.3" r="0.6"/><circle cx="59.4" cy="112.7" r="0.4"/><circle cx="125.9" cy="154.0" r="0.6"/><circle cx="76.9" cy="12.7" r="0.7"/><circle cx="79.1" cy="166.8" r="0.5"/><circle cx="85.9" cy="95.1" r="0.9"/><circle cx="72.9" cy="69.8" r="0.5"/><circle cx="97.7" cy="138.0" r="0.5"/><circle cx="113.1" cy="68.9" r="0.7"/><circle cx="64.6" cy="29.8" r="0.4"/><circle cx="113.2" cy="20.2" r="0.6"/><circle cx="137.7" cy="12.7" r="0.7"/><circle cx="150.9" cy="17.6" r="0.9"/><circle cx="85.3" cy="145.4" r="0.8"/><circle cx="83.0" cy="39.8" r="0.4"/><circle cx="82.0" cy="147.7" r="0.8"/><circle cx="116.8" cy="143.3" r="0.5"/><circle cx="130.8" cy="149.4" r="0.5"/><circle cx="141.4" cy="20.5" r="0.4"/><circle cx="150.0" cy="32.4" r="0.8"/><circle cx="52.5" cy="60.6" r="0.9"/><circle cx="103.9" cy="64.8" r="0.8"/><circle cx="109.1" cy="40.3" r="0.6"/><circle cx="89.8" cy="17.7" r="0.6"/><circle cx="97.4" cy="25.2" r="0.4"/><circle cx="89.4" cy="14.2" r="0.8"/><circle cx="70.0" cy="38.5" r="0.4"/><circle cx="114.1" cy="81.5" r="0.4"/><circle cx="80.7" cy="138.8" r="0.7"/><circle cx="103.8" cy="160.0" r="0.7"/><circle cx="58.3" cy="27.8" r="0.8"/><circle cx="84.0" cy="53.9" r="0.5"/><circle cx="101.1" cy="17.9" r="0.4"/><circle cx="97.2" cy="41.7" r="0.6"/><circle cx="98.0" cy="138.1" r="0.6"/><circle cx="124.7" cy="21.4" r="0.6"/><circle cx="56.0" cy="166.2" r="0.5"/><circle cx="63.9" cy="80.7" r="0.4"/><circle cx="134.9" cy="21.4" r="0.9"/><circle cx="106.2" cy="127.0" r="0.4"/><circle cx="113.1" cy="71.4" r="0.4"/><circle cx="58.0" cy="46.1" r="0.7"/><circle cx="56.9" cy="13.5" r="0.8"/><circle cx="79.7" cy="167.3" r="0.8"/><circle cx="104.5" cy="163.3" r="0.8"/><circle cx="147.8" cy="15.8" r="0.5"/><circle cx="70.4" cy="18.4" r="0.4"/><circle cx="98.4" cy="27.8" r="0.4"/><circle cx="103.2" cy="55.2" r="0.6"/><circle cx="77.4" cy="43.1" r="0.9"/><circle cx="136.4" cy="30.4" r="0.6"/><circle cx="81.3" cy="28.4" r="0.9"/><circle cx="91.4" cy="76.2" r="0.5"/><circle cx="113.6" cy="146.6" r="0.8"/><circle cx="69.2" cy="72.3" r="0.8"/><circle cx="145.8" cy="19.5" r="0.4"/><circle cx="109.6" cy="116.9" r="0.6"/><circle cx="132.1" cy="65.6" r="0.6"/><circle cx="131.3" cy="122.1" r="0.5"/><circle cx="163.2" cy="19.8" r="0.5"/><circle cx="91.1" cy="25.4" r="0.8"/><circle cx="147.5" cy="87.0" r="0.9"/><circle cx="60.2" cy="151.1" r="0.8"/><circle cx="74.5" cy="18.5" r="0.5"/><circle cx="100.1" cy="42.4" r="0.7"/><circle cx="154.4" cy="75.6" r="0.5"/><circle cx="68.6" cy="143.3" r="0.5"/><circle cx="76.4" cy="159.8" r="0.9"/><circle cx="138.3" cy="48.0" r="0.6"/><circle cx="116.7" cy="152.5" r="0.6"/><circle cx="56.4" cy="127.1" r="0.6"/><circle cx="99.2" cy="21.4" r="0.6"/><circle cx="134.4" cy="13.4" r="0.4"/><circle cx="76.2" cy="149.8" r="0.8"/><circle cx="55.0" cy="59.3" r="0.6"/><circle cx="65.8" cy="14.2" r="0.7"/><circle cx="50.7" cy="67.3" r="0.4"/><circle cx="148.9" cy="63.7" r="0.4"/><circle cx="72.8" cy="54.9" r="0.6"/><circle cx="151.6" cy="18.2" r="0.8"/><circle cx="146.1" cy="13.9" r="0.7"/><circle cx="160.7" cy="14.1" r="0.4"/><circle cx="146.3" cy="16.9" r="0.7"/><circle cx="71.1" cy="32.4" r="0.6"/><circle cx="154.2" cy="50.7" r="0.8"/><circle cx="151.6" cy="29.9" r="0.6"/><circle cx="72.0" cy="24.0" r="0.7"/><circle cx="140.6" cy="166.7" r="0.7"/><circle cx="54.3" cy="12.6" r="0.8"/><circle cx="50.8" cy="113.8" r="0.4"/><circle cx="53.6" cy="22.7" r="0.8"/><circle cx="113.9" cy="68.3" r="0.7"/><circle cx="84.6" cy="93.2" r="0.4"/><circle cx="93.3" cy="140.2" r="0.4"/><circle cx="117.4" cy="79.1" r="0.9"/><circle cx="51.1" cy="44.1" r="0.8"/><circle cx="74.0" cy="31.0" r="0.6"/><circle cx="51.4" cy="45.8" r="0.6"/><circle cx="81.2" cy="74.3" r="0.4"/><circle cx="68.8" cy="130.6" r="0.4"/><circle cx="84.3" cy="25.5" r="0.4"/><circle cx="114.9" cy="73.3" r="0.7"/><circle cx="86.1" cy="30.0" r="0.4"/><circle cx="71.3" cy="140.8" r="0.7"/><circle cx="126.4" cy="22.5" r="0.7"/><circle cx="121.1" cy="122.0" r="0.7"/><circle cx="71.0" cy="21.6" r="0.4"/><circle cx="153.7" cy="42.1" r="0.9"/><circle cx="57.3" cy="136.4" r="0.7"/><circle cx="116.9" cy="28.9" r="0.9"/><circle cx="114.6" cy="83.6" r="0.4"/><circle cx="140.5" cy="19.8" r="0.4"/><circle cx="134.5" cy="74.3" r="0.6"/><circle cx="154.6" cy="124.7" r="0.5"/><circle cx="134.7" cy="94.7" r="0.7"/><circle cx="97.3" cy="72.3" r="0.7"/><circle cx="52.8" cy="15.4" r="0.5"/><circle cx="84.6" cy="102.6" r="0.6"/><circle cx="104.0" cy="132.8" r="0.7"/><circle cx="87.2" cy="84.7" r="0.7"/><circle cx="113.8" cy="180.3" r="0.7"/><circle cx="119.2" cy="42.6" r="0.9"/><circle cx="117.1" cy="145.4" r="0.7"/><circle cx="126.2" cy="120.4" r="0.8"/><circle cx="153.7" cy="16.9" r="0.8"/><circle cx="65.4" cy="113.9" r="0.9"/><circle cx="125.7" cy="134.2" r="0.6"/><circle cx="120.0" cy="21.0" r="0.6"/><circle cx="56.2" cy="148.3" r="0.8"/><circle cx="57.4" cy="39.4" r="0.8"/><circle cx="65.6" cy="139.2" r="0.7"/><circle cx="78.3" cy="15.7" r="0.6"/><circle cx="57.2" cy="154.0" r="0.8"/><circle cx="95.3" cy="66.9" r="0.5"/><circle cx="83.4" cy="22.2" r="0.6"/><circle cx="66.2" cy="107.7" r="0.7"/><circle cx="74.4" cy="31.1" r="0.5"/><circle cx="114.5" cy="47.2" r="0.7"/><circle cx="113.9" cy="51.1" r="0.6"/><circle cx="65.8" cy="21.3" r="0.7"/><circle cx="104.8" cy="21.9" r="0.5"/><circle cx="92.5" cy="128.7" r="0.7"/><circle cx="152.2" cy="150.6" r="0.5"/><circle cx="61.9" cy="32.3" r="0.6"/><circle cx="110.5" cy="156.3" r="0.9"/><circle cx="111.5" cy="163.6" r="0.8"/><circle cx="64.2" cy="150.4" r="0.4"/><circle cx="147.8" cy="87.3" r="0.9"/><circle cx="101.7" cy="144.5" r="0.5"/><circle cx="72.1" cy="28.1" r="0.7"/><circle cx="107.6" cy="155.6" r="0.7"/><circle cx="56.2" cy="12.8" r="0.7"/><circle cx="103.9" cy="164.1" r="0.6"/><circle cx="78.1" cy="146.7" r="0.4"/><circle cx="66.8" cy="162.4" r="0.9"/><circle cx="71.1" cy="14.6" r="0.8"/><circle cx="128.4" cy="83.4" r="0.7"/><circle cx="77.0" cy="127.7" r="0.4"/><circle cx="65.7" cy="60.8" r="0.8"/><circle cx="91.3" cy="20.8" r="0.4"/><circle cx="100.9" cy="163.4" r="0.6"/><circle cx="85.9" cy="36.2" r="0.5"/><circle cx="138.1" cy="46.4" r="0.4"/><circle cx="80.9" cy="144.4" r="0.8"/><circle cx="68.8" cy="33.5" r="0.5"/><circle cx="154.2" cy="154.2" r="0.7"/><circle cx="105.2" cy="21.2" r="0.8"/><circle cx="95.3" cy="28.8" r="0.6"/><circle cx="64.6" cy="21.8" r="0.4"/><circle cx="111.8" cy="65.2" r="0.4"/><circle cx="135.7" cy="130.2" r="0.6"/><circle cx="78.8" cy="29.5" r="0.6"/><circle cx="64.0" cy="154.9" r="0.6"/><circle cx="51.6" cy="32.8" r="0.4"/><circle cx="62.8" cy="60.1" r="0.6"/><circle cx="148.7" cy="12.8" r="0.6"/><circle cx="50.1" cy="93.9" r="0.7"/><circle cx="80.0" cy="60.0" r="0.7"/><circle cx="144.8" cy="15.4" r="0.6"/><circle cx="70.9" cy="147.5" r="0.4"/><circle cx="103.0" cy="23.0" r="0.6"/><circle cx="51.3" cy="79.8" r="0.5"/><circle cx="62.0" cy="134.6" r="0.7"/><circle cx="86.8" cy="40.4" r="0.4"/><circle cx="101.5" cy="112.2" r="0.6"/><circle cx="157.0" cy="23.3" r="0.6"/><circle cx="64.7" cy="32.0" r="0.9"/><circle cx="75.5" cy="165.1" r="0.5"/><circle cx="108.9" cy="68.4" r="0.4"/><circle cx="109.3" cy="153.6" r="0.4"/><circle cx="96.6" cy="13.4" r="0.7"/><circle cx="61.7" cy="20.4" r="0.7"/><circle cx="155.8" cy="23.6" r="0.8"/><circle cx="110.6" cy="71.4" r="0.5"/><circle cx="85.3" cy="29.6" r="0.5"/><circle cx="94.8" cy="75.8" r="0.4"/><circle cx="110.1" cy="150.1" r="0.6"/><circle cx="157.5" cy="60.4" r="0.4"/><circle cx="149.6" cy="15.3" r="0.5"/><circle cx="82.3" cy="149.2" r="0.5"/><circle cx="59.5" cy="160.1" r="0.7"/><circle cx="67.0" cy="142.4" r="0.5"/><circle cx="95.5" cy="167.8" r="0.9"/><circle cx="93.0" cy="17.9" r="0.9"/><circle cx="81.1" cy="151.6" r="0.6"/><circle cx="116.7" cy="174.7" r="0.6"/><circle cx="83.0" cy="140.7" r="0.7"/><circle cx="99.4" cy="100.9" r="0.4"/><circle cx="71.2" cy="98.9" r="0.9"/><circle cx="51.3" cy="16.6" r="0.9"/><circle cx="152.5" cy="24.2" r="0.9"/><circle cx="157.9" cy="144.5" r="0.5"/><circle cx="72.8" cy="156.8" r="0.4"/><circle cx="85.1" cy="24.4" r="0.7"/><circle cx="140.1" cy="154.3" r="0.5"/><circle cx="59.6" cy="52.0" r="0.9"/><circle cx="62.2" cy="127.7" r="0.5"/><circle cx="86.2" cy="110.2" r="0.8"/><circle cx="147.5" cy="18.9" r="0.5"/><circle cx="81.7" cy="22.4" r="0.7"/><circle cx="93.6" cy="73.2" r="0.5"/><circle cx="106.6" cy="157.9" r="0.4"/><circle cx="54.2" cy="163.2" r="0.8"/><circle cx="71.3" cy="167.7" r="0.5"/><circle cx="154.1" cy="36.8" r="0.4"/><circle cx="154.8" cy="132.4" r="0.5"/><circle cx="102.8" cy="80.0" r="0.6"/><circle cx="110.6" cy="142.7" r="0.9"/><circle cx="162.1" cy="28.8" r="0.5"/><circle cx="115.6" cy="24.8" r="0.5"/><circle cx="94.2" cy="160.1" r="0.8"/><circle cx="80.1" cy="31.3" r="0.4"/><circle cx="78.0" cy="119.6" r="0.8"/><circle cx="164.0" cy="25.6" r="0.6"/><circle cx="68.6" cy="142.8" r="0.8"/><circle cx="126.3" cy="25.4" r="0.4"/><circle cx="143.7" cy="39.7" r="0.4"/><circle cx="73.2" cy="144.2" r="0.4"/><circle cx="114.1" cy="151.9" r="0.6"/><circle cx="69.5" cy="26.8" r="0.6"/><circle cx="85.0" cy="17.9" r="0.8"/><circle cx="66.8" cy="133.0" r="0.6"/><circle cx="85.0" cy="18.5" r="0.8"/><circle cx="85.2" cy="75.7" r="0.4"/><circle cx="134.6" cy="52.6" r="0.6"/><circle cx="106.3" cy="76.1" r="0.4"/><circle cx="116.4" cy="128.2" r="0.4"/><circle cx="117.3" cy="50.9" r="0.7"/><circle cx="103.8" cy="16.4" r="0.5"/><circle cx="101.5" cy="140.7" r="0.6"/><circle cx="115.6" cy="24.7" r="0.6"/><circle cx="142.3" cy="118.3" r="0.4"/><circle cx="76.4" cy="55.3" r="0.6"/><circle cx="104.8" cy="15.0" r="0.5"/><circle cx="98.3" cy="140.2" r="0.4"/><circle cx="108.7" cy="117.6" r="0.5"/><circle cx="105.5" cy="147.0" r="0.6"/><circle cx="53.7" cy="15.5" r="0.7"/><circle cx="145.9" cy="24.4" r="0.5"/><circle cx="63.8" cy="124.1" r="0.4"/><circle cx="77.3" cy="117.1" r="0.9"/><circle cx="113.7" cy="138.9" r="0.7"/><circle cx="112.4" cy="39.9" r="0.7"/><circle cx="158.6" cy="12.6" r="0.8"/><circle cx="67.4" cy="145.4" r="0.8"/><circle cx="55.3" cy="20.3" r="0.7"/><circle cx="131.7" cy="52.6" r="0.5"/><circle cx="152.2" cy="21.3" r="0.8"/><circle cx="110.7" cy="153.1" r="0.7"/><circle cx="115.7" cy="141.1" r="0.8"/><circle cx="114.8" cy="65.9" r="0.8"/><circle cx="143.4" cy="17.9" r="0.9"/><circle cx="92.5" cy="140.9" r="0.9"/><circle cx="74.2" cy="141.8" r="0.4"/><circle cx="54.0" cy="166.2" r="0.5"/><circle cx="82.7" cy="62.2" r="0.4"/><circle cx="87.8" cy="80.3" r="0.5"/><circle cx="51.0" cy="113.8" r="0.7"/><circle cx="52.8" cy="36.0" r="0.7"/><circle cx="62.2" cy="46.8" r="0.6"/><circle cx="152.8" cy="31.2" r="0.7"/><circle cx="123.9" cy="17.1" r="0.4"/><circle cx="84.6" cy="16.2" r="0.8"/><circle cx="75.3" cy="59.5" r="0.9"/><circle cx="73.1" cy="27.9" r="0.8"/><circle cx="61.6" cy="50.3" r="0.4"/><circle cx="111.9" cy="69.3" r="0.5"/><circle cx="50.7" cy="158.5" r="0.8"/><circle cx="96.4" cy="16.4" r="0.4"/><circle cx="55.7" cy="79.0" r="0.6"/><circle cx="93.6" cy="12.2" r="0.5"/><circle cx="64.7" cy="138.4" r="0.8"/><circle cx="107.5" cy="159.4" r="0.5"/><circle cx="72.0" cy="162.7" r="0.4"/><circle cx="71.0" cy="13.2" r="0.4"/><circle cx="106.9" cy="122.9" r="0.6"/><circle cx="50.2" cy="110.5" r="0.7"/><circle cx="98.3" cy="148.1" r="0.7"/><circle cx="101.5" cy="24.7" r="0.8"/><circle cx="71.1" cy="141.7" r="0.8"/><circle cx="80.3" cy="39.4" r="0.6"/><circle cx="100.9" cy="12.5" r="0.7"/><circle cx="105.7" cy="56.9" r="0.8"/><circle cx="127.0" cy="15.5" r="0.5"/><circle cx="115.8" cy="14.2" r="0.5"/><circle cx="121.3" cy="19.7" r="0.4"/><circle cx="76.8" cy="42.7" r="0.7"/><circle cx="152.9" cy="15.4" r="0.4"/><circle cx="122.3" cy="127.4" r="0.5"/><circle cx="124.1" cy="24.7" r="0.7"/><circle cx="101.5" cy="143.9" r="0.8"/><circle cx="87.4" cy="158.3" r="0.9"/><circle cx="127.3" cy="139.1" r="0.9"/><circle cx="68.9" cy="24.8" r="0.8"/><circle cx="109.5" cy="48.1" r="0.4"/><circle cx="100.6" cy="116.4" r="0.5"/><circle cx="95.7" cy="76.9" r="0.8"/><circle cx="64.3" cy="47.2" r="0.7"/><circle cx="74.2" cy="138.1" r="0.8"/><circle cx="164.4" cy="38.7" r="0.7"/><circle cx="68.1" cy="126.2" r="0.7"/><circle cx="99.7" cy="21.6" r="0.8"/><circle cx="74.7" cy="89.2" r="0.8"/><circle cx="82.3" cy="112.4" r="0.9"/><circle cx="72.4" cy="13.7" r="0.9"/><circle cx="110.6" cy="145.6" r="0.8"/><circle cx="108.9" cy="14.6" r="0.4"/><circle cx="94.6" cy="24.6" r="0.9"/><circle cx="50.0" cy="139.4" r="0.6"/><circle cx="72.5" cy="18.3" r="0.6"/><circle cx="125.1" cy="141.4" r="0.4"/><circle cx="58.5" cy="166.4" r="0.5"/><circle cx="66.8" cy="15.5" r="0.7"/><circle cx="104.7" cy="144.8" r="0.5"/><circle cx="67.8" cy="33.4" r="0.8"/><circle cx="95.2" cy="141.2" r="0.4"/><circle cx="59.5" cy="163.2" r="0.8"/><circle cx="93.5" cy="47.2" r="0.5"/><circle cx="67.7" cy="31.9" r="0.6"/><circle cx="102.7" cy="19.6" r="0.8"/><circle cx="91.0" cy="18.1" r="0.5"/><circle cx="91.1" cy="74.0" r="0.6"/><circle cx="113.2" cy="160.9" r="0.9"/><circle cx="97.4" cy="56.3" r="0.5"/><circle cx="103.6" cy="17.5" r="0.7"/><circle cx="93.0" cy="159.4" r="0.7"/><circle cx="103.2" cy="24.7" r="0.5"/><circle cx="62.9" cy="16.2" r="0.6"/><circle cx="145.4" cy="34.1" r="0.5"/><circle cx="110.7" cy="17.8" r="0.9"/><circle cx="101.7" cy="152.3" r="0.5"/><circle cx="80.3" cy="81.5" r="0.7"/><circle cx="108.7" cy="22.3" r="0.7"/><circle cx="60.5" cy="64.6" r="0.8"/><circle cx="71.8" cy="162.5" r="0.6"/><circle cx="79.3" cy="99.2" r="0.7"/><circle cx="102.7" cy="43.7" r="0.7"/><circle cx="56.5" cy="169.0" r="0.9"/><circle cx="107.6" cy="145.1" r="0.5"/><circle cx="102.6" cy="62.0" r="0.9"/><circle cx="51.4" cy="154.4" r="0.6"/><circle cx="92.9" cy="30.5" r="0.7"/><circle cx="160.0" cy="22.1" r="0.7"/><circle cx="73.4" cy="61.0" r="0.8"/><circle cx="149.2" cy="129.9" r="0.7"/><circle cx="71.6" cy="70.9" r="0.6"/><circle cx="97.8" cy="52.2" r="0.6"/><circle cx="139.3" cy="18.7" r="0.7"/><circle cx="104.7" cy="31.1" r="0.4"/><circle cx="61.5" cy="16.7" r="0.6"/><circle cx="127.9" cy="44.3" r="0.6"/><circle cx="105.9" cy="17.3" r="0.8"/><circle cx="82.3" cy="97.9" r="0.6"/><circle cx="69.5" cy="64.5" r="0.6"/><circle cx="74.0" cy="125.4" r="0.7"/><circle cx="88.3" cy="19.6" r="0.7"/><circle cx="61.6" cy="80.9" r="0.8"/><circle cx="70.8" cy="125.2" r="0.7"/><circle cx="62.1" cy="88.9" r="0.6"/><circle cx="103.9" cy="41.5" r="0.7"/><circle cx="66.7" cy="142.4" r="0.5"/><circle cx="152.0" cy="66.1" r="0.4"/><circle cx="133.4" cy="165.1" r="0.8"/><circle cx="114.8" cy="49.8" r="0.5"/><circle cx="107.3" cy="99.2" r="0.6"/><circle cx="77.6" cy="146.9" r="0.4"/><circle cx="138.6" cy="22.8" r="0.5"/><circle cx="108.2" cy="141.8" r="0.8"/><circle cx="69.2" cy="92.0" r="0.6"/><circle cx="57.0" cy="39.5" r="0.4"/><circle cx="108.8" cy="173.9" r="0.5"/><circle cx="152.7" cy="20.3" r="0.7"/><circle cx="110.7" cy="55.9" r="0.4"/><circle cx="106.8" cy="65.6" r="0.9"/><circle cx="88.2" cy="26.4" r="0.8"/><circle cx="150.9" cy="48.8" r="0.6"/><circle cx="63.9" cy="19.6" r="0.5"/><circle cx="95.9" cy="44.4" r="0.5"/><circle cx="101.0" cy="117.1" r="0.7"/><circle cx="110.2" cy="139.2" r="0.9"/><circle cx="115.9" cy="22.5" r="0.5"/><circle cx="155.0" cy="118.1" r="0.7"/><circle cx="104.6" cy="102.4" r="0.6"/><circle cx="99.4" cy="44.3" r="0.6"/><circle cx="153.1" cy="157.5" r="0.8"/><circle cx="157.7" cy="20.1" r="0.4"/><circle cx="63.6" cy="142.5" r="0.4"/><circle cx="62.5" cy="90.1" r="0.9"/><circle cx="79.0" cy="23.0" r="0.5"/><circle cx="54.3" cy="150.5" r="0.8"/><circle cx="52.1" cy="29.2" r="0.4"/><circle cx="50.6" cy="31.1" r="0.7"/><circle cx="104.3" cy="67.0" r="0.9"/><circle cx="83.0" cy="120.6" r="0.8"/><circle cx="64.7" cy="32.2" r="0.6"/><circle cx="107.8" cy="67.7" r="0.8"/><circle cx="148.9" cy="99.6" r="0.4"/><circle cx="54.2" cy="157.9" r="0.7"/><circle cx="100.3" cy="18.3" r="0.5"/><circle cx="98.2" cy="140.1" r="0.4"/><circle cx="72.9" cy="12.9" r="0.7"/><circle cx="56.7" cy="47.3" r="0.5"/><circle cx="109.5" cy="57.7" r="0.4"/><circle cx="58.5" cy="54.2" r="0.4"/><circle cx="99.8" cy="78.7" r="0.8"/><circle cx="84.4" cy="161.4" r="0.8"/><circle cx="157.3" cy="64.8" r="0.8"/><circle cx="143.6" cy="20.6" r="0.8"/><circle cx="54.1" cy="61.4" r="0.4"/><circle cx="119.7" cy="27.3" r="0.4"/><circle cx="76.9" cy="62.2" r="0.4"/><circle cx="112.3" cy="26.9" r="0.4"/><circle cx="96.5" cy="165.3" r="0.6"/><circle cx="79.3" cy="24.5" r="0.8"/><circle cx="71.7" cy="30.3" r="0.8"/><circle cx="126.6" cy="23.5" r="0.7"/><circle cx="102.9" cy="23.0" r="0.9"/><circle cx="145.4" cy="45.0" r="0.6"/><circle cx="143.8" cy="36.8" r="0.8"/><circle cx="53.3" cy="155.8" r="0.9"/><circle cx="84.9" cy="15.4" r="0.8"/><circle cx="136.7" cy="142.3" r="0.9"/><circle cx="148.7" cy="29.3" r="0.7"/><circle cx="137.9" cy="19.0" r="0.5"/><circle cx="78.5" cy="113.7" r="0.6"/><circle cx="58.6" cy="42.1" r="0.5"/><circle cx="64.7" cy="163.1" r="0.5"/><circle cx="88.1" cy="147.4" r="0.7"/><circle cx="81.8" cy="153.8" r="0.8"/><circle cx="82.2" cy="39.5" r="0.8"/><circle cx="158.3" cy="18.6" r="0.8"/><circle cx="97.9" cy="28.3" r="0.5"/><circle cx="89.4" cy="29.4" r="0.9"/><circle cx="128.9" cy="26.0" r="0.7"/><circle cx="81.4" cy="26.0" r="0.7"/><circle cx="113.2" cy="21.1" r="0.8"/><circle cx="68.2" cy="15.7" r="0.8"/><circle cx="98.8" cy="166.1" r="0.9"/><circle cx="117.7" cy="28.8" r="0.8"/><circle cx="100.5" cy="137.1" r="0.5"/><circle cx="61.1" cy="127.3" r="0.6"/><circle cx="71.6" cy="55.1" r="0.8"/><circle cx="78.9" cy="14.4" r="0.7"/><circle cx="89.6" cy="93.2" r="0.8"/><circle cx="150.9" cy="23.6" r="0.8"/><circle cx="108.1" cy="15.8" r="0.8"/><circle cx="103.5" cy="21.5" r="0.5"/><circle cx="149.1" cy="49.2" r="0.6"/><circle cx="98.3" cy="71.0" r="0.8"/><circle cx="156.6" cy="24.4" r="0.4"/><circle cx="82.4" cy="156.3" r="0.5"/><circle cx="86.6" cy="57.6" r="0.9"/><circle cx="102.9" cy="59.3" r="0.9"/><circle cx="68.1" cy="83.6" r="0.4"/><circle cx="73.6" cy="21.7" r="0.5"/><circle cx="96.5" cy="135.3" r="0.9"/><circle cx="82.3" cy="129.8" r="0.9"/><circle cx="133.1" cy="19.7" r="0.7"/><circle cx="58.6" cy="140.1" r="0.4"/><circle cx="67.0" cy="127.2" r="0.7"/><circle cx="86.5" cy="113.8" r="0.4"/><circle cx="86.0" cy="134.3" r="0.9"/><circle cx="62.0" cy="51.2" r="0.7"/><circle cx="137.1" cy="37.9" r="0.5"/><circle cx="75.0" cy="95.6" r="0.7"/><circle cx="58.2" cy="16.9" r="0.7"/><circle cx="128.9" cy="88.7" r="0.5"/><circle cx="144.3" cy="23.9" r="0.8"/><circle cx="103.6" cy="18.8" r="0.4"/><circle cx="68.4" cy="16.9" r="0.5"/><circle cx="95.1" cy="156.3" r="0.8"/><circle cx="129.3" cy="45.7" r="0.6"/><circle cx="75.5" cy="13.1" r="0.4"/><circle cx="69.5" cy="41.0" r="0.7"/><circle cx="106.8" cy="34.2" r="0.4"/><circle cx="98.2" cy="73.0" r="0.4"/><circle cx="64.9" cy="14.9" r="0.5"/><circle cx="106.9" cy="22.6" r="0.5"/><circle cx="54.4" cy="72.1" r="0.7"/><circle cx="82.7" cy="25.4" r="0.7"/><circle cx="142.8" cy="13.5" r="0.4"/><circle cx="66.4" cy="23.0" r="0.7"/><circle cx="114.7" cy="37.8" r="0.6"/><circle cx="84.0" cy="119.5" r="0.9"/><circle cx="70.2" cy="28.8" r="0.4"/><circle cx="120.0" cy="36.4" r="0.6"/><circle cx="134.9" cy="24.6" r="0.7"/><circle cx="143.4" cy="136.1" r="0.7"/><circle cx="58.0" cy="61.1" r="0.8"/><circle cx="73.6" cy="129.6" r="0.6"/><circle cx="115.5" cy="155.3" r="0.6"/><circle cx="84.7" cy="47.9" r="0.5"/><circle cx="94.6" cy="166.3" r="0.4"/><circle cx="126.3" cy="14.1" r="0.9"/><circle cx="60.3" cy="66.8" r="0.5"/><circle cx="87.6" cy="161.3" r="0.4"/><circle cx="59.4" cy="151.3" r="0.4"/><circle cx="51.8" cy="32.3" r="0.7"/><circle cx="127.7" cy="68.6" r="0.8"/><circle cx="57.4" cy="38.1" r="0.9"/><circle cx="96.4" cy="163.3" r="0.8"/><circle cx="98.0" cy="20.4" r="0.6"/><circle cx="101.3" cy="161.5" r="0.6"/><circle cx="74.8" cy="163.3" r="0.7"/><circle cx="90.1" cy="157.9" r="0.7"/><circle cx="119.8" cy="137.1" r="0.7"/><circle cx="66.5" cy="24.3" r="0.4"/><circle cx="71.0" cy="22.1" r="0.7"/><circle cx="56.0" cy="59.4" r="0.4"/><circle cx="97.5" cy="148.8" r="0.5"/><circle cx="63.7" cy="38.5" r="0.4"/><circle cx="103.9" cy="76.6" r="0.5"/><circle cx="55.5" cy="135.5" r="0.6"/><circle cx="77.6" cy="43.7" r="0.6"/><circle cx="147.1" cy="14.2" r="0.8"/><circle cx="93.9" cy="41.5" r="0.7"/><circle cx="75.1" cy="135.5" r="0.4"/><circle cx="160.2" cy="17.4" r="0.5"/><circle cx="94.8" cy="98.4" r="0.8"/><circle cx="61.2" cy="18.3" r="0.7"/><circle cx="108.2" cy="167.6" r="0.6"/><circle cx="155.8" cy="36.2" r="0.5"/><circle cx="80.6" cy="79.0" r="0.8"/><circle cx="78.3" cy="27.3" r="0.8"/><circle cx="68.6" cy="151.9" r="0.9"/><circle cx="91.9" cy="133.9" r="0.5"/><circle cx="72.7" cy="39.8" r="0.7"/><circle cx="66.8" cy="143.0" r="0.5"/><circle cx="87.6" cy="44.0" r="0.7"/><circle cx="56.7" cy="24.5" r="0.4"/><circle cx="68.3" cy="139.0" r="0.9"/><circle cx="80.9" cy="164.0" r="0.6"/><circle cx="103.0" cy="14.3" r="0.5"/><circle cx="65.2" cy="35.8" r="0.7"/><circle cx="51.1" cy="151.1" r="0.8"/><circle cx="112.7" cy="136.9" r="0.6"/><circle cx="55.7" cy="34.8" r="0.7"/><circle cx="78.1" cy="149.0" r="0.6"/><circle cx="81.9" cy="164.9" r="0.8"/><circle cx="110.4" cy="136.5" r="0.8"/><circle cx="59.5" cy="159.3" r="0.5"/><circle cx="86.3" cy="24.5" r="0.5"/><circle cx="67.0" cy="68.3" r="0.8"/><circle cx="92.5" cy="21.5" r="0.8"/><circle cx="80.1" cy="68.2" r="0.6"/><circle cx="72.0" cy="67.4" r="0.7"/><circle cx="112.6" cy="55.7" r="0.4"/><circle cx="155.6" cy="27.6" r="0.4"/><circle cx="157.4" cy="33.2" r="0.8"/><circle cx="115.3" cy="75.2" r="0.7"/><circle cx="115.2" cy="152.4" r="0.7"/><circle cx="100.9" cy="20.2" r="0.8"/><circle cx="120.2" cy="22.7" r="0.4"/><circle cx="99.6" cy="83.9" r="0.4"/><circle cx="157.8" cy="133.4" r="0.8"/><circle cx="105.6" cy="153.4" r="0.8"/><circle cx="159.2" cy="176.6" r="0.7"/><circle cx="89.4" cy="134.6" r="0.4"/><circle cx="83.3" cy="135.0" r="0.7"/><circle cx="109.3" cy="159.3" r="0.5"/><circle cx="109.4" cy="54.5" r="0.9"/><circle cx="53.0" cy="152.8" r="0.7"/><circle cx="167.1" cy="29.5" r="0.5"/><circle cx="109.6" cy="25.6" r="0.7"/><circle cx="67.5" cy="142.0" r="0.6"/><circle cx="89.2" cy="55.1" r="0.7"/><circle cx="55.0" cy="123.9" r="0.5"/><circle cx="125.1" cy="64.1" r="0.4"/><circle cx="93.5" cy="120.0" r="0.5"/><circle cx="79.4" cy="51.6" r="0.4"/><circle cx="53.3" cy="19.9" r="0.5"/><circle cx="111.4" cy="152.2" r="0.7"/><circle cx="64.0" cy="47.8" r="0.8"/><circle cx="117.3" cy="80.6" r="0.7"/><circle cx="143.2" cy="13.0" r="0.7"/><circle cx="58.5" cy="14.4" r="0.8"/><circle cx="111.8" cy="44.4" r="0.5"/><circle cx="100.7" cy="18.5" r="0.6"/><circle cx="66.2" cy="100.4" r="0.4"/><circle cx="107.6" cy="30.1" r="0.5"/><circle cx="86.4" cy="55.8" r="0.8"/><circle cx="104.1" cy="82.3" r="0.4"/><circle cx="105.1" cy="14.1" r="0.6"/><circle cx="103.4" cy="48.3" r="0.8"/><circle cx="124.6" cy="30.7" r="0.4"/><circle cx="111.1" cy="102.1" r="0.9"/><circle cx="112.9" cy="15.4" r="0.7"/><circle cx="125.8" cy="65.9" r="0.6"/><circle cx="84.4" cy="62.8" r="0.6"/><circle cx="67.5" cy="29.4" r="0.7"/><circle cx="62.8" cy="99.2" r="0.7"/><circle cx="117.8" cy="16.3" r="0.7"/><circle cx="141.1" cy="52.3" r="0.8"/><circle cx="142.5" cy="19.9" r="0.9"/><circle cx="71.8" cy="72.6" r="0.4"/><circle cx="152.3" cy="14.9" r="0.4"/><circle cx="100.1" cy="163.0" r="0.4"/><circle cx="116.6" cy="16.4" r="0.7"/><circle cx="115.9" cy="66.8" r="0.4"/><circle cx="70.7" cy="153.8" r="0.7"/><circle cx="99.5" cy="65.1" r="0.6"/><circle cx="139.2" cy="43.2" r="0.6"/><circle cx="124.9" cy="27.3" r="0.7"/><circle cx="58.8" cy="130.7" r="0.6"/><circle cx="54.3" cy="79.3" r="0.5"/><circle cx="89.9" cy="34.4" r="0.5"/><circle cx="99.5" cy="45.2" r="0.5"/><circle cx="123.6" cy="82.7" r="0.7"/><circle cx="99.3" cy="54.2" r="0.4"/><circle cx="58.1" cy="156.6" r="0.6"/><circle cx="93.3" cy="49.1" r="0.4"/><circle cx="61.7" cy="104.6" r="0.6"/><circle cx="123.5" cy="16.8" r="0.7"/><circle cx="85.5" cy="141.8" r="0.8"/><circle cx="56.7" cy="31.1" r="0.5"/><circle cx="100.2" cy="12.9" r="0.7"/><circle cx="166.0" cy="27.5" r="0.6"/><circle cx="62.4" cy="157.7" r="0.7"/><circle cx="76.9" cy="59.8" r="0.7"/><circle cx="137.6" cy="154.7" r="0.4"/><circle cx="76.3" cy="127.4" r="0.7"/><circle cx="109.8" cy="23.7" r="0.8"/><circle cx="83.5" cy="55.8" r="0.4"/><circle cx="76.7" cy="62.5" r="0.6"/><circle cx="58.3" cy="149.3" r="0.6"/><circle cx="110.2" cy="148.7" r="0.7"/><circle cx="53.3" cy="35.1" r="0.9"/><circle cx="76.0" cy="129.0" r="0.8"/><circle cx="104.3" cy="143.8" r="0.6"/><circle cx="89.5" cy="24.4" r="0.5"/><circle cx="130.5" cy="61.6" r="0.8"/><circle cx="85.8" cy="146.3" r="0.7"/><circle cx="60.0" cy="50.8" r="0.4"/><circle cx="154.7" cy="28.3" r="0.8"/><circle cx="92.6" cy="104.8" r="0.6"/><circle cx="100.1" cy="161.9" r="0.5"/><circle cx="53.7" cy="64.4" r="0.8"/><circle cx="146.3" cy="39.1" r="0.6"/><circle cx="115.9" cy="167.1" r="0.7"/><circle cx="95.4" cy="144.4" r="0.5"/><circle cx="137.0" cy="40.2" r="0.7"/><circle cx="151.0" cy="151.0" r="0.4"/><circle cx="63.4" cy="30.3" r="0.6"/><circle cx="132.2" cy="16.4" r="0.9"/><circle cx="55.1" cy="124.5" r="0.9"/><circle cx="154.5" cy="68.2" r="0.7"/><circle cx="82.2" cy="33.6" r="0.5"/><circle cx="121.3" cy="14.2" r="0.8"/><circle cx="85.2" cy="86.6" r="0.5"/><circle cx="168.8" cy="17.5" r="0.7"/><circle cx="72.6" cy="42.3" r="0.6"/><circle cx="87.2" cy="155.8" r="0.7"/><circle cx="103.5" cy="134.6" r="0.7"/><circle cx="110.9" cy="13.1" r="0.8"/><circle cx="66.8" cy="159.0" r="0.5"/><circle cx="64.8" cy="52.2" r="0.5"/><circle cx="111.7" cy="59.1" r="0.8"/><circle cx="68.8" cy="52.3" r="0.8"/><circle cx="161.8" cy="49.4" r="0.6"/><circle cx="93.6" cy="102.0" r="0.4"/><circle cx="84.8" cy="35.0" r="0.5"/><circle cx="89.1" cy="19.6" r="0.5"/><circle cx="53.7" cy="80.7" r="0.4"/><circle cx="82.7" cy="43.7" r="0.6"/><circle cx="111.5" cy="13.7" r="0.8"/><circle cx="95.4" cy="36.0" r="0.8"/><circle cx="103.2" cy="16.2" r="0.7"/><circle cx="147.4" cy="16.2" r="0.6"/><circle cx="73.6" cy="28.2" r="0.7"/><circle cx="78.4" cy="152.3" r="0.6"/><circle cx="72.3" cy="46.1" r="0.6"/><circle cx="117.4" cy="144.0" r="0.8"/><circle cx="153.9" cy="18.6" r="0.9"/><circle cx="52.0" cy="12.9" r="0.4"/><circle cx="138.0" cy="160.7" r="0.5"/><circle cx="152.3" cy="145.9" r="0.4"/><circle cx="98.3" cy="138.9" r="0.5"/><circle cx="82.5" cy="148.0" r="0.9"/><circle cx="67.0" cy="99.5" r="0.7"/><circle cx="158.3" cy="47.1" r="0.4"/><circle cx="58.7" cy="50.3" r="0.4"/><circle cx="53.7" cy="37.5" r="0.9"/><circle cx="66.7" cy="65.4" r="0.4"/><circle cx="69.0" cy="36.2" r="0.6"/><circle cx="89.9" cy="141.8" r="0.5"/><circle cx="100.4" cy="46.6" r="0.5"/><circle cx="132.2" cy="58.8" r="0.5"/><circle cx="113.0" cy="17.3" r="0.5"/><circle cx="112.5" cy="23.6" r="0.7"/><circle cx="141.8" cy="158.0" r="0.9"/><circle cx="91.2" cy="26.0" r="0.5"/><circle cx="111.2" cy="130.2" r="0.5"/><circle cx="100.8" cy="167.1" r="0.8"/><circle cx="68.5" cy="79.4" r="0.8"/><circle cx="103.0" cy="27.1" r="0.4"/><circle cx="94.6" cy="25.6" r="0.9"/><circle cx="89.2" cy="24.3" r="0.5"/><circle cx="62.1" cy="139.6" r="0.6"/><circle cx="78.1" cy="21.5" r="0.8"/><circle cx="133.8" cy="21.5" r="0.6"/><circle cx="87.9" cy="166.1" r="0.7"/><circle cx="160.8" cy="37.9" r="0.8"/><circle cx="118.2" cy="65.8" r="0.4"/><circle cx="136.0" cy="125.0" r="0.9"/><circle cx="133.1" cy="19.0" r="0.6"/><circle cx="107.7" cy="157.2" r="0.6"/><circle cx="61.0" cy="69.6" r="0.4"/><circle cx="79.4" cy="13.3" r="0.7"/><circle cx="64.9" cy="165.5" r="0.4"/><circle cx="110.8" cy="43.2" r="0.7"/><circle cx="102.5" cy="111.8" r="0.6"/><circle cx="113.7" cy="79.2" r="0.4"/><circle cx="108.6" cy="82.4" r="0.9"/><circle cx="87.5" cy="22.3" r="0.6"/><circle cx="145.2" cy="104.2" r="0.7"/><circle cx="147.0" cy="12.1" r="0.4"/><circle cx="123.8" cy="19.3" r="0.4"/><circle cx="77.7" cy="127.6" r="0.4"/><circle cx="146.3" cy="146.2" r="0.9"/><circle cx="102.9" cy="151.0" r="0.5"/><circle cx="90.0" cy="55.9" r="0.6"/><circle cx="109.3" cy="17.0" r="0.7"/><circle cx="125.3" cy="19.2" r="0.7"/><circle cx="86.1" cy="152.4" r="0.5"/><circle cx="54.9" cy="13.8" r="0.6"/><circle cx="56.9" cy="134.2" r="0.8"/><circle cx="77.3" cy="22.6" r="0.7"/><circle cx="152.1" cy="16.9" r="0.7"/><circle cx="64.5" cy="67.8" r="0.4"/><circle cx="55.0" cy="107.5" r="0.8"/><circle cx="71.6" cy="84.2" r="0.8"/><circle cx="82.8" cy="89.9" r="0.6"/><circle cx="136.0" cy="12.1" r="0.8"/><circle cx="137.2" cy="138.1" r="0.7"/><circle cx="88.8" cy="162.3" r="0.8"/><circle cx="136.8" cy="15.7" r="0.7"/><circle cx="140.3" cy="17.1" r="0.8"/><circle cx="69.2" cy="160.1" r="0.8"/><circle cx="105.0" cy="136.1" r="0.4"/><circle cx="84.9" cy="156.2" r="0.9"/><circle cx="72.0" cy="15.1" r="0.6"/><circle cx="145.4" cy="15.5" r="0.7"/><circle cx="145.5" cy="19.0" r="0.5"/><circle cx="91.4" cy="159.1" r="0.4"/><circle cx="120.6" cy="22.4" r="0.5"/><circle cx="88.8" cy="21.3" r="0.4"/><circle cx="80.5" cy="45.4" r="0.9"/><circle cx="126.7" cy="17.4" r="0.6"/><circle cx="87.5" cy="161.5" r="0.5"/><circle cx="80.7" cy="146.6" r="0.5"/><circle cx="96.1" cy="134.8" r="0.7"/><circle cx="77.1" cy="160.0" r="0.8"/><circle cx="81.8" cy="18.1" r="0.4"/><circle cx="121.8" cy="25.2" r="0.6"/><circle cx="71.5" cy="111.2" r="0.4"/><circle cx="69.8" cy="148.3" r="0.8"/><circle cx="162.9" cy="32.2" r="0.6"/><circle cx="146.4" cy="14.5" r="0.8"/><circle cx="87.9" cy="34.8" r="0.6"/><circle cx="116.3" cy="125.2" r="0.5"/><circle cx="81.5" cy="51.6" r="0.8"/><circle cx="61.9" cy="74.0" r="0.8"/><circle cx="148.4" cy="58.3" r="0.6"/><circle cx="79.4" cy="70.2" r="0.5"/><circle cx="98.3" cy="75.0" r="0.6"/><circle cx="98.7" cy="27.4" r="0.4"/><circle cx="63.7" cy="13.5" r="0.6"/><circle cx="81.3" cy="164.6" r="0.5"/><circle cx="65.2" cy="165.8" r="0.7"/><circle cx="75.7" cy="56.8" r="0.8"/><circle cx="137.5" cy="152.5" r="0.8"/><circle cx="61.0" cy="167.1" r="0.4"/><circle cx="130.5" cy="45.6" r="0.7"/><circle cx="91.5" cy="80.1" r="0.7"/><circle cx="89.7" cy="18.9" r="0.6"/><circle cx="75.9" cy="145.6" r="0.8"/><circle cx="91.2" cy="23.9" r="0.4"/><circle cx="122.9" cy="15.5" r="0.7"/><circle cx="67.2" cy="96.2" r="0.6"/><circle cx="56.1" cy="16.2" r="0.9"/><circle cx="80.8" cy="146.9" r="0.7"/><circle cx="80.7" cy="147.8" r="0.9"/><circle cx="54.6" cy="163.0" r="0.9"/><circle cx="86.6" cy="159.3" r="0.6"/><circle cx="90.9" cy="70.7" r="0.5"/><circle cx="166.0" cy="37.5" r="0.8"/><circle cx="130.6" cy="28.0" r="0.8"/><circle cx="53.9" cy="68.7" r="0.8"/><circle cx="77.4" cy="60.9" r="0.6"/><circle cx="117.4" cy="52.3" r="0.5"/><circle cx="58.4" cy="64.3" r="0.5"/><circle cx="91.7" cy="137.1" r="0.7"/><circle cx="146.0" cy="49.1" r="0.9"/><circle cx="129.1" cy="167.2" r="0.5"/><circle cx="51.4" cy="49.5" r="0.7"/><circle cx="52.1" cy="148.1" r="0.8"/><circle cx="149.4" cy="56.2" r="0.6"/><circle cx="99.4" cy="88.9" r="0.4"/><circle cx="68.9" cy="138.7" r="0.7"/><circle cx="101.9" cy="111.2" r="0.5"/><circle cx="50.9" cy="156.0" r="0.7"/><circle cx="98.3" cy="84.3" r="0.7"/><circle cx="84.6" cy="131.5" r="0.4"/><circle cx="85.8" cy="24.7" r="0.4"/><circle cx="141.8" cy="23.7" r="0.6"/><circle cx="124.0" cy="25.8" r="0.5"/><circle cx="79.1" cy="137.2" r="0.4"/><circle cx="107.6" cy="12.3" r="0.5"/><circle cx="74.0" cy="130.0" r="0.4"/><circle cx="72.6" cy="41.8" r="0.5"/><circle cx="96.3" cy="153.8" r="0.8"/><circle cx="83.7" cy="73.9" r="0.8"/><circle cx="56.9" cy="136.2" r="0.5"/><circle cx="92.9" cy="15.8" r="0.4"/><circle cx="78.3" cy="130.3" r="0.8"/><circle cx="99.2" cy="48.4" r="0.7"/><circle cx="114.2" cy="149.8" r="0.5"/><circle cx="136.4" cy="42.5" r="0.8"/><circle cx="89.4" cy="23.8" r="0.8"/><circle cx="84.8" cy="80.6" r="0.6"/><circle cx="125.0" cy="24.3" r="0.7"/><circle cx="153.4" cy="132.6" r="0.4"/><circle cx="73.0" cy="73.4" r="0.8"/><circle cx="73.3" cy="20.3" r="0.5"/><circle cx="127.1" cy="22.3" r="0.5"/><circle cx="87.8" cy="152.7" r="0.7"/><circle cx="116.4" cy="45.2" r="0.4"/><circle cx="121.9" cy="14.2" r="0.7"/><circle cx="116.4" cy="128.8" r="0.8"/><circle cx="134.0" cy="25.1" r="0.9"/><circle cx="56.0" cy="140.4" r="0.5"/><circle cx="100.5" cy="149.6" r="0.8"/><circle cx="120.8" cy="14.5" r="0.7"/><circle cx="69.1" cy="79.0" r="0.4"/><circle cx="103.6" cy="137.8" r="0.9"/><circle cx="77.9" cy="35.1" r="0.6"/><circle cx="71.4" cy="126.6" r="0.7"/><circle cx="80.4" cy="63.7" r="0.9"/><circle cx="53.1" cy="148.5" r="0.9"/><circle cx="78.8" cy="17.8" r="0.8"/><circle cx="124.1" cy="135.5" r="0.9"/><circle cx="93.1" cy="88.5" r="0.4"/><circle cx="117.7" cy="148.1" r="0.6"/><circle cx="68.6" cy="128.9" r="0.7"/><circle cx="109.0" cy="59.3" r="0.9"/><circle cx="93.4" cy="152.9" r="0.4"/><circle cx="60.6" cy="27.7" r="0.9"/><circle cx="124.0" cy="89.9" r="0.8"/><circle cx="50.7" cy="49.6" r="0.5"/><circle cx="92.7" cy="25.5" r="0.7"/><circle cx="102.2" cy="163.7" r="0.4"/><circle cx="83.9" cy="36.8" r="0.6"/><circle cx="106.3" cy="48.1" r="0.4"/><circle cx="70.0" cy="77.4" r="0.6"/><circle cx="117.2" cy="152.5" r="0.4"/><circle cx="104.0" cy="33.1" r="0.6"/><circle cx="63.8" cy="12.0" r="0.4"/><circle cx="84.3" cy="27.9" r="0.8"/><circle cx="65.0" cy="37.6" r="0.6"/><circle cx="135.0" cy="14.9" r="0.6"/><circle cx="143.4" cy="28.4" r="0.8"/><circle cx="87.0" cy="164.3" r="0.5"/><circle cx="116.9" cy="15.1" r="0.7"/><circle cx="117.0" cy="82.8" r="0.5"/><circle cx="88.0" cy="132.7" r="0.8"/><circle cx="160.0" cy="52.3" r="0.7"/><circle cx="92.3" cy="12.9" r="0.7"/><circle cx="115.4" cy="19.3" r="0.7"/><circle cx="62.9" cy="164.2" r="0.7"/><circle cx="54.5" cy="12.4" r="0.6"/><circle cx="162.9" cy="22.3" r="0.6"/><circle cx="74.1" cy="152.7" r="0.8"/><circle cx="98.1" cy="147.8" r="0.6"/><circle cx="134.3" cy="26.3" r="0.5"/><circle cx="117.5" cy="167.5" r="0.5"/><circle cx="75.0" cy="162.8" r="0.7"/><circle cx="75.2" cy="131.4" r="0.7"/><circle cx="79.0" cy="38.3" r="0.7"/><circle cx="141.7" cy="23.5" r="0.7"/><circle cx="101.1" cy="140.1" r="0.4"/><circle cx="84.3" cy="30.2" r="0.4"/><circle cx="85.3" cy="60.1" r="0.9"/><circle cx="71.9" cy="19.7" r="0.4"/><circle cx="52.1" cy="60.5" r="0.6"/><circle cx="100.2" cy="143.1" r="0.9"/><circle cx="156.7" cy="27.2" r="0.7"/><circle cx="95.5" cy="64.4" r="0.8"/><circle cx="157.5" cy="26.7" r="0.4"/><circle cx="95.8" cy="48.6" r="0.4"/><circle cx="78.7" cy="54.8" r="0.5"/><circle cx="145.4" cy="70.6" r="0.9"/><circle cx="96.1" cy="135.4" r="0.5"/><circle cx="83.3" cy="22.6" r="0.8"/><circle cx="84.6" cy="50.8" r="0.8"/><circle cx="57.7" cy="138.5" r="0.9"/><circle cx="73.2" cy="38.1" r="0.8"/><circle cx="102.6" cy="99.7" r="0.5"/><circle cx="63.5" cy="135.5" r="0.5"/><circle cx="90.7" cy="164.4" r="0.5"/><circle cx="88.7" cy="131.9" r="0.7"/><circle cx="66.3" cy="48.3" r="0.7"/><circle cx="91.5" cy="111.6" r="0.7"/><circle cx="77.0" cy="39.4" r="0.4"/><circle cx="52.4" cy="136.3" r="0.6"/><circle cx="106.2" cy="163.3" r="0.6"/><circle cx="52.8" cy="162.5" r="0.5"/><circle cx="118.0" cy="47.0" r="0.4"/><circle cx="51.6" cy="100.2" r="0.5"/><circle cx="93.7" cy="21.5" r="0.4"/><circle cx="145.2" cy="108.9" r="0.4"/><circle cx="90.4" cy="14.3" r="0.5"/><circle cx="63.1" cy="57.2" r="0.9"/><circle cx="87.3" cy="158.4" r="0.7"/><circle cx="97.6" cy="105.7" r="0.9"/><circle cx="55.9" cy="15.2" r="0.7"/><circle cx="92.4" cy="20.9" r="0.6"/><circle cx="75.4" cy="66.5" r="0.8"/><circle cx="107.6" cy="118.1" r="0.9"/><circle cx="79.2" cy="26.4" r="0.5"/><circle cx="115.5" cy="82.6" r="0.5"/><circle cx="81.3" cy="162.9" r="0.4"/><circle cx="132.7" cy="40.5" r="0.4"/><circle cx="80.3" cy="79.8" r="0.6"/><circle cx="84.9" cy="66.8" r="0.4"/><circle cx="82.7" cy="139.0" r="0.5"/><circle cx="66.0" cy="128.4" r="0.8"/><circle cx="105.3" cy="37.3" r="0.5"/><circle cx="84.8" cy="21.3" r="0.4"/><circle cx="140.6" cy="16.0" r="0.6"/><circle cx="91.4" cy="68.2" r="0.4"/><circle cx="111.9" cy="60.9" r="0.4"/><circle cx="80.4" cy="58.8" r="0.8"/><circle cx="103.4" cy="135.2" r="0.6"/><circle cx="71.5" cy="28.2" r="0.5"/><circle cx="77.6" cy="33.7" r="0.4"/><circle cx="111.9" cy="149.6" r="0.4"/><circle cx="50.2" cy="165.7" r="0.6"/><circle cx="153.9" cy="19.9" r="0.8"/><circle cx="127.1" cy="19.0" r="0.4"/><circle cx="85.4" cy="61.0" r="0.7"/><circle cx="136.6" cy="161.0" r="0.8"/><circle cx="103.2" cy="76.8" r="0.7"/><circle cx="69.7" cy="131.6" r="0.7"/><circle cx="152.4" cy="47.1" r="0.4"/><circle cx="94.4" cy="85.4" r="0.9"/><circle cx="87.6" cy="70.8" r="0.7"/><circle cx="139.4" cy="29.1" r="0.8"/><circle cx="159.8" cy="22.8" r="0.5"/><circle cx="118.6" cy="42.7" r="0.5"/><circle cx="93.7" cy="69.3" r="0.5"/><circle cx="84.8" cy="129.5" r="0.6"/><circle cx="80.2" cy="159.2" r="0.8"/><circle cx="65.3" cy="18.9" r="0.4"/><circle cx="72.2" cy="158.6" r="0.4"/><circle cx="146.9" cy="46.2" r="0.8"/><circle cx="110.8" cy="150.8" r="0.6"/><circle cx="92.3" cy="46.1" r="0.8"/><circle cx="50.2" cy="142.4" r="0.8"/><circle cx="62.6" cy="126.2" r="0.9"/><circle cx="129.4" cy="15.2" r="0.4"/><circle cx="110.2" cy="13.5" r="0.4"/><circle cx="58.3" cy="120.5" r="0.7"/><circle cx="117.9" cy="150.7" r="0.8"/><circle cx="145.4" cy="68.9" r="0.4"/><circle cx="71.8" cy="99.8" r="0.5"/><circle cx="68.1" cy="162.3" r="0.4"/><circle cx="65.2" cy="31.0" r="0.7"/><circle cx="82.1" cy="54.5" r="0.9"/><circle cx="151.5" cy="24.8" r="0.5"/><circle cx="119.3" cy="137.3" r="0.7"/><circle cx="123.9" cy="17.8" r="0.9"/><circle cx="130.0" cy="12.4" r="0.6"/><circle cx="86.2" cy="33.1" r="0.6"/><circle cx="125.8" cy="17.6" r="0.8"/><circle cx="109.0" cy="138.9" r="0.4"/><circle cx="51.5" cy="135.1" r="0.7"/><circle cx="103.1" cy="15.8" r="0.5"/><circle cx="61.1" cy="62.0" r="0.7"/><circle cx="103.9" cy="43.0" r="0.7"/><circle cx="102.0" cy="25.4" r="0.8"/><circle cx="105.7" cy="104.5" r="0.8"/><circle cx="114.3" cy="75.8" r="0.7"/><circle cx="63.9" cy="40.7" r="0.7"/><circle cx="58.2" cy="15.5" r="0.8"/><circle cx="84.2" cy="56.2" r="0.5"/><circle cx="78.4" cy="26.2" r="0.6"/><circle cx="88.2" cy="38.4" r="0.4"/><circle cx="53.7" cy="128.6" r="0.7"/><circle cx="55.9" cy="142.2" r="0.7"/><circle cx="82.0" cy="25.9" r="0.7"/><circle cx="86.7" cy="18.0" r="0.4"/><circle cx="136.1" cy="58.1" r="0.5"/><circle cx="142.1" cy="31.3" r="0.8"/><circle cx="114.4" cy="158.8" r="0.9"/><circle cx="113.6" cy="67.2" r="0.4"/><circle cx="85.6" cy="15.9" r="0.6"/><circle cx="112.1" cy="155.0" r="0.8"/><circle cx="61.0" cy="129.5" r="0.4"/><circle cx="81.5" cy="133.4" r="0.4"/><circle cx="99.5" cy="165.3" r="0.7"/><circle cx="70.3" cy="145.8" r="0.6"/><circle cx="58.8" cy="112.0" r="0.6"/><circle cx="140.1" cy="49.7" r="0.5"/><circle cx="63.0" cy="54.7" r="0.7"/><circle cx="135.8" cy="51.3" r="0.9"/><circle cx="62.6" cy="98.4" r="0.6"/><circle cx="144.7" cy="79.0" r="0.4"/><circle cx="69.6" cy="166.1" r="0.4"/><circle cx="69.9" cy="156.5" r="0.9"/><circle cx="62.2" cy="12.5" r="0.6"/><circle cx="66.7" cy="158.5" r="0.9"/><circle cx="51.7" cy="25.5" r="0.6"/><circle cx="126.7" cy="71.4" r="0.5"/><circle cx="98.5" cy="56.4" r="0.8"/><circle cx="71.2" cy="25.4" r="0.7"/><circle cx="82.0" cy="146.6" r="0.8"/><circle cx="103.2" cy="144.2" r="0.6"/><circle cx="88.8" cy="156.6" r="0.4"/><circle cx="123.1" cy="124.6" r="0.8"/><circle cx="51.5" cy="123.2" r="0.7"/><circle cx="57.6" cy="149.6" r="0.4"/><circle cx="90.7" cy="67.1" r="0.5"/><circle cx="70.6" cy="140.8" r="0.7"/><circle cx="139.4" cy="27.9" r="0.9"/><circle cx="73.1" cy="106.5" r="0.7"/><circle cx="132.8" cy="44.7" r="0.8"/><circle cx="109.6" cy="35.2" r="0.4"/><circle cx="58.2" cy="50.1" r="0.6"/><circle cx="62.1" cy="26.6" r="0.4"/><circle cx="105.6" cy="52.9" r="0.5"/><circle cx="138.9" cy="13.0" r="0.6"/><circle cx="103.1" cy="152.0" r="0.5"/><circle cx="87.8" cy="142.0" r="0.6"/><circle cx="160.8" cy="19.4" r="0.4"/><circle cx="163.2" cy="50.9" r="0.6"/><circle cx="78.9" cy="144.2" r="0.9"/><circle cx="114.5" cy="155.7" r="0.9"/><circle cx="51.1" cy="118.7" r="0.5"/><circle cx="103.9" cy="13.5" r="0.7"/><circle cx="128.8" cy="48.4" r="0.4"/><circle cx="110.5" cy="12.1" r="0.5"/><circle cx="145.0" cy="28.9" r="0.6"/><circle cx="66.7" cy="90.9" r="0.8"/><circle cx="87.7" cy="130.8" r="0.8"/><circle cx="86.9" cy="123.6" r="0.4"/><circle cx="91.3" cy="133.9" r="0.5"/><circle cx="96.0" cy="134.9" r="0.7"/><circle cx="96.6" cy="26.4" r="0.4"/><circle cx="134.0" cy="19.4" r="0.5"/><circle cx="155.2" cy="47.0" r="0.7"/><circle cx="135.2" cy="16.2" r="0.6"/><circle cx="64.0" cy="91.2" r="0.4"/><circle cx="93.0" cy="74.4" r="0.6"/><circle cx="68.2" cy="32.6" r="0.8"/><circle cx="95.8" cy="157.5" r="0.7"/><circle cx="135.5" cy="47.5" r="0.6"/><circle cx="109.5" cy="47.2" r="0.6"/><circle cx="110.3" cy="155.5" r="0.5"/><circle cx="107.6" cy="70.0" r="0.5"/><circle cx="153.6" cy="22.5" r="0.5"/><circle cx="131.7" cy="154.4" r="0.8"/><circle cx="87.0" cy="88.7" r="0.4"/><circle cx="101.2" cy="35.2" r="0.9"/><circle cx="113.2" cy="144.1" r="0.6"/><circle cx="82.3" cy="48.1" r="0.7"/><circle cx="130.7" cy="40.1" r="0.8"/><circle cx="96.8" cy="83.9" r="0.5"/><circle cx="125.8" cy="17.0" r="0.6"/><circle cx="73.5" cy="148.5" r="0.7"/><circle cx="57.9" cy="121.8" r="0.8"/><circle cx="155.9" cy="15.2" r="0.9"/><circle cx="65.7" cy="159.8" r="0.5"/><circle cx="61.1" cy="64.0" r="0.4"/><circle cx="127.5" cy="166.9" r="0.8"/><circle cx="93.1" cy="33.9" r="0.5"/><circle cx="134.8" cy="21.6" r="0.9"/><circle cx="131.4" cy="16.6" r="0.4"/><circle cx="92.1" cy="92.1" r="0.4"/><circle cx="78.0" cy="142.7" r="0.4"/><circle cx="59.9" cy="49.8" r="0.6"/><circle cx="97.5" cy="167.4" r="0.6"/><circle cx="87.0" cy="103.1" r="0.7"/><circle cx="158.2" cy="147.6" r="0.4"/><circle cx="90.9" cy="165.9" r="0.8"/><circle cx="52.0" cy="68.7" r="0.4"/><circle cx="144.4" cy="16.0" r="0.5"/><circle cx="82.4" cy="14.9" r="0.4"/><circle cx="141.3" cy="19.0" r="0.4"/><circle cx="76.5" cy="144.2" r="0.4"/><circle cx="81.1" cy="17.1" r="0.8"/><circle cx="94.2" cy="71.0" r="0.8"/><circle cx="76.5" cy="140.2" r="0.5"/><circle cx="132.8" cy="133.7" r="0.6"/><circle cx="79.5" cy="153.2" r="0.5"/><circle cx="65.3" cy="145.6" r="0.6"/><circle cx="122.9" cy="15.4" r="0.5"/><circle cx="70.5" cy="156.7" r="0.4"/><circle cx="107.6" cy="165.4" r="0.7"/><circle cx="54.2" cy="69.1" r="0.8"/><circle cx="50.1" cy="16.6" r="0.5"/><circle cx="81.4" cy="23.1" r="0.8"/><circle cx="163.9" cy="53.5" r="0.6"/><circle cx="138.7" cy="74.4" r="0.5"/><circle cx="67.6" cy="40.0" r="0.9"/><circle cx="88.6" cy="15.4" r="0.7"/><circle cx="57.7" cy="34.4" r="0.6"/><circle cx="78.2" cy="16.2" r="0.7"/><circle cx="66.8" cy="20.3" r="0.5"/><circle cx="68.6" cy="44.4" r="0.4"/><circle cx="104.3" cy="50.7" r="0.5"/><circle cx="162.4" cy="15.0" r="0.7"/><circle cx="114.6" cy="80.4" r="0.4"/><circle cx="83.2" cy="23.4" r="0.9"/><circle cx="79.9" cy="63.4" r="0.6"/><circle cx="74.5" cy="24.8" r="0.9"/><circle cx="85.7" cy="35.1" r="0.4"/><circle cx="62.3" cy="14.7" r="0.4"/><circle cx="115.5" cy="160.3" r="0.5"/><circle cx="85.4" cy="132.3" r="0.8"/><circle cx="106.9" cy="41.4" r="0.4"/><circle cx="90.8" cy="99.2" r="0.8"/><circle cx="85.6" cy="50.4" r="0.7"/><circle cx="77.0" cy="157.8" r="0.7"/><circle cx="98.9" cy="131.6" r="0.6"/><circle cx="96.8" cy="81.5" r="0.8"/><circle cx="71.0" cy="162.3" r="0.6"/><circle cx="94.3" cy="28.7" r="0.7"/><circle cx="60.1" cy="20.2" r="0.5"/><circle cx="152.6" cy="155.6" r="0.5"/><circle cx="68.4" cy="72.1" r="0.8"/><circle cx="91.2" cy="13.1" r="0.8"/><circle cx="131.0" cy="45.8" r="0.8"/><circle cx="78.5" cy="38.9" r="0.4"/><circle cx="148.9" cy="54.0" r="0.7"/><circle cx="153.1" cy="20.4" r="0.6"/><circle cx="92.5" cy="42.0" r="0.7"/><circle cx="75.3" cy="12.2" r="0.6"/><circle cx="156.2" cy="20.4" r="0.4"/><circle cx="157.9" cy="23.4" r="0.5"/><circle cx="66.3" cy="35.0" r="0.4"/><circle cx="86.8" cy="129.8" r="0.5"/><circle cx="51.2" cy="23.3" r="0.5"/><circle cx="145.7" cy="31.9" r="0.6"/><circle cx="105.2" cy="21.6" r="0.4"/><circle cx="59.4" cy="152.7" r="0.4"/><circle cx="131.9" cy="24.9" r="0.6"/><circle cx="116.5" cy="90.4" r="0.7"/><circle cx="103.7" cy="25.9" r="0.4"/><circle cx="88.1" cy="146.3" r="0.7"/><circle cx="93.7" cy="30.2" r="0.7"/><circle cx="131.7" cy="66.1" r="0.7"/><circle cx="60.9" cy="114.9" r="0.4"/><circle cx="86.0" cy="16.5" r="0.4"/><circle cx="122.4" cy="49.8" r="0.8"/><circle cx="90.7" cy="149.7" r="0.7"/><circle cx="72.3" cy="148.8" r="0.9"/><circle cx="94.0" cy="163.2" r="0.7"/><circle cx="52.6" cy="46.4" r="0.5"/><circle cx="82.0" cy="61.0" r="0.7"/><circle cx="133.9" cy="38.7" r="0.7"/><circle cx="110.0" cy="121.2" r="0.8"/><circle cx="149.2" cy="21.3" r="0.7"/><circle cx="115.8" cy="14.6" r="0.6"/><circle cx="66.6" cy="115.7" r="0.5"/><circle cx="134.1" cy="43.0" r="0.5"/><circle cx="71.6" cy="21.7" r="0.6"/><circle cx="92.8" cy="29.9" r="0.9"/><circle cx="84.4" cy="153.9" r="0.4"/><circle cx="56.8" cy="18.6" r="0.5"/><circle cx="67.9" cy="163.5" r="0.4"/><circle cx="85.8" cy="156.0" r="0.4"/><circle cx="156.8" cy="29.6" r="0.8"/><circle cx="71.4" cy="160.5" r="0.8"/><circle cx="85.1" cy="24.2" r="0.8"/><circle cx="102.0" cy="55.8" r="0.6"/><circle cx="102.0" cy="44.2" r="0.4"/><circle cx="89.2" cy="161.6" r="0.6"/><circle cx="51.6" cy="57.3" r="0.5"/><circle cx="107.5" cy="90.1" r="0.9"/><circle cx="151.4" cy="136.7" r="0.7"/><circle cx="142.9" cy="18.5" r="0.4"/><circle cx="142.6" cy="20.3" r="0.9"/><circle cx="77.2" cy="18.8" r="0.9"/><circle cx="77.6" cy="56.7" r="0.6"/><circle cx="105.9" cy="74.0" r="0.8"/><circle cx="99.4" cy="138.8" r="0.6"/><circle cx="164.1" cy="50.5" r="0.9"/><circle cx="109.8" cy="165.5" r="0.8"/><circle cx="79.6" cy="15.7" r="0.7"/><circle cx="89.4" cy="161.4" r="0.5"/><circle cx="51.5" cy="110.4" r="0.6"/><circle cx="124.0" cy="27.2" r="0.7"/><circle cx="96.8" cy="155.0" r="0.9"/><circle cx="71.6" cy="34.6" r="0.5"/><circle cx="151.1" cy="35.7" r="0.4"/><circle cx="97.1" cy="30.2" r="0.6"/><circle cx="84.0" cy="45.8" r="0.4"/><circle cx="68.2" cy="49.6" r="0.4"/><circle cx="115.2" cy="138.9" r="0.4"/><circle cx="82.9" cy="24.6" r="0.9"/><circle cx="62.0" cy="50.5" r="0.6"/><circle cx="52.7" cy="44.6" r="0.7"/><circle cx="151.7" cy="125.1" r="0.4"/><circle cx="99.0" cy="108.4" r="0.5"/><circle cx="104.7" cy="65.8" r="0.4"/><circle cx="82.4" cy="19.3" r="0.6"/><circle cx="78.7" cy="158.5" r="0.4"/><circle cx="60.7" cy="128.4" r="0.4"/><circle cx="112.4" cy="20.8" r="0.4"/><circle cx="115.4" cy="145.0" r="0.7"/><circle cx="100.6" cy="138.9" r="0.5"/><circle cx="147.6" cy="19.2" r="0.4"/><circle cx="86.3" cy="19.7" r="0.7"/><circle cx="62.3" cy="62.5" r="0.8"/><circle cx="100.1" cy="159.6" r="0.4"/><circle cx="112.5" cy="47.0" r="0.8"/><circle cx="76.6" cy="61.6" r="0.6"/><circle cx="57.6" cy="135.7" r="0.8"/><circle cx="117.8" cy="23.1" r="0.8"/><circle cx="51.0" cy="132.5" r="0.8"/><circle cx="56.6" cy="166.7" r="0.4"/><circle cx="94.3" cy="120.9" r="0.4"/><circle cx="117.0" cy="48.6" r="0.5"/><circle cx="143.5" cy="26.5" r="0.4"/><circle cx="99.9" cy="154.2" r="0.4"/><circle cx="157.4" cy="18.9" r="0.9"/><circle cx="112.5" cy="155.4" r="0.4"/><circle cx="149.9" cy="24.4" r="0.7"/><circle cx="63.8" cy="147.0" r="0.8"/><circle cx="101.3" cy="139.8" r="0.6"/><circle cx="114.2" cy="48.4" r="0.4"/><circle cx="160.6" cy="70.3" r="0.8"/><circle cx="106.6" cy="83.9" r="0.9"/><circle cx="146.5" cy="12.3" r="0.6"/><circle cx="53.3" cy="44.3" r="0.8"/><circle cx="59.4" cy="125.0" r="0.7"/><circle cx="70.7" cy="148.7" r="0.9"/><circle cx="67.4" cy="21.0" r="0.8"/><circle cx="104.2" cy="137.1" r="0.4"/><circle cx="51.9" cy="35.9" r="0.7"/><circle cx="139.1" cy="17.7" r="0.6"/><circle cx="79.7" cy="15.9" r="0.6"/><circle cx="109.4" cy="72.5" r="0.7"/><circle cx="146.9" cy="16.3" r="0.5"/><circle cx="80.0" cy="20.1" r="0.4"/><circle cx="95.7" cy="29.9" r="0.8"/><circle cx="89.2" cy="55.2" r="0.6"/><circle cx="60.0" cy="166.9" r="0.4"/><circle cx="106.3" cy="78.0" r="0.4"/><circle cx="84.0" cy="159.6" r="0.4"/><circle cx="82.9" cy="128.6" r="0.6"/><circle cx="132.0" cy="19.9" r="0.5"/><circle cx="85.8" cy="153.0" r="0.5"/><circle cx="94.7" cy="138.2" r="0.4"/><circle cx="82.8" cy="39.3" r="0.7"/><circle cx="117.9" cy="22.6" r="0.4"/><circle cx="148.2" cy="156.0" r="0.8"/><circle cx="148.3" cy="49.5" r="0.6"/><circle cx="67.6" cy="61.7" r="0.8"/><circle cx="84.8" cy="163.4" r="0.7"/><circle cx="62.1" cy="22.2" r="0.4"/><circle cx="69.7" cy="135.7" r="0.7"/><circle cx="139.9" cy="56.1" r="0.7"/><circle cx="74.4" cy="23.9" r="0.7"/><circle cx="80.8" cy="87.0" r="0.6"/><circle cx="108.4" cy="157.4" r="0.8"/><circle cx="68.4" cy="83.2" r="0.8"/><circle cx="85.4" cy="130.5" r="0.6"/><circle cx="93.4" cy="23.5" r="0.5"/><circle cx="78.7" cy="48.4" r="0.6"/><circle cx="137.5" cy="27.3" r="0.9"/><circle cx="66.3" cy="148.0" r="0.4"/><circle cx="87.7" cy="164.0" r="0.6"/><circle cx="147.8" cy="146.3" r="0.6"/><circle cx="126.1" cy="53.0" r="0.6"/><circle cx="108.5" cy="15.6" r="0.6"/><circle cx="111.6" cy="143.2" r="0.7"/><circle cx="87.4" cy="25.1" r="0.6"/><circle cx="142.5" cy="113.2" r="0.7"/><circle cx="99.4" cy="52.4" r="0.5"/><circle cx="79.5" cy="36.6" r="0.7"/><circle cx="100.8" cy="165.2" r="0.8"/><circle cx="101.9" cy="74.0" r="0.4"/><circle cx="53.5" cy="18.7" r="0.7"/><circle cx="113.7" cy="153.8" r="0.7"/><circle cx="84.6" cy="19.7" r="0.8"/><circle cx="92.0" cy="31.5" r="0.5"/><circle cx="85.9" cy="46.7" r="0.6"/><circle cx="102.7" cy="55.0" r="0.8"/><circle cx="81.5" cy="48.5" r="0.8"/><circle cx="127.8" cy="27.1" r="0.4"/><circle cx="67.8" cy="56.9" r="0.7"/><circle cx="50.7" cy="139.0" r="0.4"/><circle cx="88.7" cy="13.9" r="0.8"/><circle cx="50.8" cy="163.8" r="0.4"/><circle cx="61.7" cy="30.8" r="0.8"/><circle cx="77.8" cy="159.6" r="0.5"/><circle cx="61.7" cy="145.8" r="0.8"/><circle cx="69.6" cy="154.3" r="0.8"/><circle cx="101.6" cy="98.3" r="0.7"/><circle cx="76.0" cy="34.8" r="0.9"/><circle cx="126.4" cy="151.1" r="0.6"/><circle cx="107.6" cy="146.3" r="0.7"/><circle cx="75.3" cy="147.8" r="0.4"/><circle cx="159.8" cy="69.4" r="0.8"/><circle cx="56.3" cy="122.3" r="0.5"/><circle cx="51.6" cy="22.1" r="0.5"/><circle cx="64.3" cy="135.7" r="0.6"/><circle cx="135.7" cy="17.4" r="0.8"/><circle cx="77.8" cy="13.9" r="0.4"/><circle cx="61.8" cy="25.0" r="0.5"/><circle cx="111.5" cy="23.7" r="0.6"/><circle cx="51.7" cy="58.8" r="0.7"/><circle cx="113.3" cy="16.6" r="0.9"/><circle cx="81.8" cy="28.6" r="0.6"/><circle cx="108.6" cy="141.1" r="0.4"/><circle cx="69.2" cy="20.4" r="0.6"/><circle cx="120.2" cy="25.7" r="0.5"/><circle cx="61.3" cy="63.3" r="0.9"/><circle cx="156.1" cy="31.1" r="0.6"/><circle cx="159.8" cy="13.2" r="0.5"/><circle cx="61.7" cy="138.8" r="0.8"/><circle cx="56.2" cy="86.0" r="0.9"/><circle cx="58.4" cy="72.0" r="0.4"/><circle cx="61.1" cy="54.3" r="0.4"/><circle cx="95.1" cy="142.0" r="0.7"/><circle cx="61.2" cy="75.5" r="0.8"/><circle cx="50.2" cy="147.5" r="0.5"/><circle cx="126.3" cy="124.8" r="0.5"/><circle cx="64.9" cy="20.5" r="0.8"/><circle cx="142.1" cy="141.4" r="0.5"/><circle cx="118.2" cy="14.9" r="0.5"/><circle cx="146.5" cy="37.3" r="0.4"/><circle cx="78.3" cy="91.2" r="0.6"/><circle cx="73.1" cy="148.8" r="0.9"/><circle cx="57.3" cy="29.8" r="0.4"/><circle cx="76.1" cy="152.3" r="0.6"/><circle cx="112.9" cy="20.8" r="0.8"/><circle cx="60.0" cy="24.0" r="0.5"/><circle cx="140.3" cy="15.6" r="0.8"/><circle cx="59.2" cy="108.2" r="0.7"/><circle cx="74.5" cy="29.6" r="0.7"/><circle cx="101.2" cy="52.3" r="0.7"/><circle cx="109.2" cy="21.0" r="0.7"/><circle cx="156.9" cy="22.1" r="0.6"/><circle cx="91.4" cy="133.7" r="0.5"/><circle cx="53.6" cy="131.5" r="0.4"/><circle cx="72.4" cy="120.6" r="0.4"/><circle cx="77.3" cy="157.9" r="0.6"/><circle cx="150.6" cy="25.3" r="0.8"/><circle cx="161.5" cy="77.0" r="0.6"/><circle cx="166.4" cy="145.4" r="0.7"/><circle cx="87.2" cy="34.8" r="0.6"/><circle cx="88.7" cy="135.2" r="0.5"/><circle cx="56.7" cy="137.2" r="0.7"/><circle cx="82.0" cy="39.2" r="0.5"/><circle cx="144.7" cy="24.5" r="0.4"/><circle cx="125.7" cy="35.8" r="0.6"/><circle cx="154.4" cy="59.6" r="0.7"/><circle cx="64.3" cy="144.2" r="0.8"/><circle cx="148.3" cy="31.7" r="0.9"/><circle cx="98.1" cy="58.8" r="0.6"/><circle cx="55.2" cy="111.4" r="0.5"/><circle cx="93.7" cy="163.4" r="0.7"/><circle cx="113.6" cy="71.2" r="0.4"/><circle cx="155.7" cy="66.4" r="0.4"/><circle cx="141.0" cy="145.8" r="0.7"/><circle cx="97.3" cy="152.7" r="0.4"/><circle cx="104.8" cy="19.4" r="0.6"/><circle cx="65.3" cy="178.0" r="0.4"/><circle cx="76.1" cy="79.4" r="0.7"/><circle cx="76.1" cy="66.3" r="0.4"/><circle cx="89.2" cy="137.6" r="0.4"/><circle cx="146.5" cy="167.4" r="0.6"/><circle cx="143.3" cy="139.3" r="0.7"/><circle cx="113.3" cy="62.6" r="0.8"/><circle cx="111.5" cy="52.2" r="0.4"/><circle cx="113.9" cy="18.0" r="0.7"/><circle cx="107.8" cy="84.0" r="0.4"/><circle cx="83.9" cy="94.5" r="0.7"/><circle cx="80.2" cy="13.4" r="0.6"/><circle cx="130.8" cy="14.1" r="0.7"/><circle cx="54.2" cy="42.6" r="0.9"/><circle cx="77.0" cy="13.3" r="0.5"/><circle cx="161.6" cy="80.5" r="0.4"/><circle cx="128.4" cy="17.9" r="0.5"/><circle cx="130.8" cy="55.8" r="0.5"/><circle cx="61.6" cy="22.0" r="0.6"/><circle cx="98.9" cy="32.8" r="0.9"/><circle cx="109.0" cy="59.2" r="0.7"/><circle cx="56.6" cy="62.1" r="0.6"/><circle cx="138.4" cy="24.9" r="0.7"/><circle cx="61.9" cy="167.1" r="0.4"/><circle cx="68.7" cy="161.1" r="0.9"/><circle cx="110.5" cy="33.3" r="0.5"/><circle cx="123.5" cy="119.9" r="0.5"/><circle cx="55.8" cy="33.0" r="0.4"/><circle cx="114.4" cy="23.2" r="0.4"/><circle cx="105.8" cy="14.1" r="0.7"/><circle cx="63.8" cy="27.3" r="0.4"/><circle cx="98.6" cy="23.4" r="0.5"/><circle cx="65.4" cy="142.6" r="0.6"/><circle cx="154.6" cy="163.2" r="0.8"/><circle cx="64.8" cy="149.2" r="0.5"/><circle cx="80.3" cy="74.3" r="0.6"/><circle cx="110.8" cy="28.2" r="0.5"/><circle cx="78.3" cy="163.8" r="0.8"/><circle cx="95.4" cy="47.2" r="0.4"/><circle cx="79.6" cy="68.9" r="0.5"/><circle cx="160.3" cy="21.3" r="0.8"/><circle cx="50.3" cy="13.1" r="0.7"/><circle cx="126.1" cy="50.3" r="0.4"/><circle cx="61.7" cy="29.1" r="0.8"/><circle cx="89.3" cy="39.9" r="0.7"/><circle cx="70.4" cy="21.4" r="0.5"/><circle cx="125.0" cy="28.9" r="0.5"/><circle cx="112.3" cy="155.1" r="0.8"/><circle cx="117.1" cy="18.4" r="0.6"/><circle cx="143.5" cy="22.6" r="0.5"/><circle cx="105.5" cy="145.2" r="0.5"/><circle cx="77.4" cy="24.1" r="0.6"/><circle cx="88.4" cy="58.6" r="0.6"/><circle cx="77.3" cy="33.0" r="0.8"/><circle cx="68.9" cy="155.7" r="0.8"/><circle cx="57.1" cy="23.8" r="0.4"/><circle cx="63.4" cy="131.9" r="0.7"/><circle cx="110.0" cy="75.7" r="0.7"/><circle cx="116.0" cy="12.0" r="0.5"/><circle cx="130.0" cy="40.5" r="0.6"/><circle cx="82.6" cy="27.7" r="0.7"/><circle cx="110.9" cy="70.4" r="0.8"/><circle cx="108.8" cy="157.6" r="0.5"/><circle cx="111.0" cy="45.8" r="0.7"/><circle cx="110.2" cy="161.3" r="0.6"/><circle cx="107.4" cy="167.4" r="0.5"/><circle cx="58.2" cy="21.2" r="0.5"/><circle cx="53.4" cy="104.2" r="0.7"/><circle cx="69.6" cy="77.3" r="0.8"/><circle cx="99.6" cy="53.9" r="0.5"/><circle cx="82.0" cy="161.1" r="0.5"/><circle cx="94.0" cy="43.8" r="0.6"/><circle cx="88.3" cy="16.1" r="0.8"/><circle cx="144.1" cy="29.5" r="0.7"/><circle cx="87.4" cy="62.1" r="0.7"/><circle cx="133.9" cy="47.8" r="0.6"/><circle cx="84.3" cy="152.8" r="0.6"/><circle cx="146.6" cy="32.7" r="0.5"/><circle cx="62.2" cy="65.5" r="0.7"/><circle cx="79.1" cy="61.7" r="0.4"/><circle cx="97.1" cy="21.6" r="0.6"/><circle cx="66.6" cy="144.7" r="0.5"/><circle cx="139.0" cy="15.4" r="0.7"/><circle cx="96.6" cy="110.0" r="0.9"/><circle cx="146.4" cy="162.0" r="0.5"/><circle cx="154.4" cy="121.1" r="0.9"/><circle cx="100.7" cy="139.8" r="0.4"/><circle cx="98.1" cy="129.7" r="0.9"/><circle cx="90.5" cy="74.2" r="0.5"/><circle cx="119.1" cy="17.6" r="0.6"/><circle cx="109.8" cy="140.0" r="0.6"/><circle cx="90.1" cy="61.3" r="0.4"/><circle cx="113.9" cy="36.9" r="0.6"/><circle cx="125.4" cy="17.2" r="0.9"/><circle cx="55.9" cy="163.4" r="0.4"/><circle cx="50.6" cy="55.3" r="0.6"/><circle cx="70.1" cy="23.4" r="0.7"/><circle cx="53.4" cy="17.4" r="0.5"/><circle cx="120.1" cy="22.3" r="0.8"/><circle cx="115.2" cy="69.6" r="0.7"/><circle cx="54.0" cy="45.9" r="0.5"/><circle cx="55.1" cy="126.0" r="0.9"/><circle cx="105.5" cy="64.9" r="0.4"/><circle cx="84.8" cy="65.4" r="0.8"/><circle cx="51.2" cy="45.9" r="0.5"/><circle cx="75.4" cy="148.9" r="0.4"/><circle cx="54.6" cy="45.3" r="0.4"/><circle cx="74.1" cy="155.4" r="0.8"/><circle cx="151.3" cy="15.6" r="0.8"/><circle cx="134.2" cy="21.7" r="0.8"/><circle cx="53.3" cy="29.3" r="0.8"/><circle cx="104.3" cy="166.2" r="0.8"/><circle cx="142.3" cy="27.0" r="0.4"/><circle cx="101.2" cy="25.7" r="0.4"/><circle cx="131.2" cy="131.4" r="0.7"/><circle cx="76.7" cy="14.3" r="0.9"/><circle cx="50.9" cy="128.8" r="0.4"/><circle cx="108.7" cy="44.1" r="0.8"/><circle cx="103.0" cy="156.8" r="0.5"/><circle cx="88.9" cy="31.6" r="0.8"/><circle cx="96.0" cy="20.9" r="0.6"/><circle cx="116.4" cy="147.1" r="0.6"/><circle cx="86.1" cy="38.8" r="0.6"/><circle cx="121.7" cy="145.3" r="0.8"/><circle cx="105.3" cy="43.8" r="0.4"/><circle cx="80.6" cy="15.8" r="0.7"/><circle cx="87.4" cy="23.8" r="0.8"/><circle cx="55.8" cy="155.0" r="0.7"/><circle cx="52.4" cy="29.9" r="0.4"/><circle cx="66.4" cy="53.6" r="0.9"/><circle cx="143.4" cy="33.1" r="0.6"/><circle cx="61.9" cy="125.8" r="0.7"/><circle cx="106.5" cy="111.4" r="0.5"/><circle cx="67.0" cy="157.6" r="0.5"/><circle cx="110.4" cy="19.2" r="0.6"/><circle cx="149.4" cy="157.7" r="0.6"/><circle cx="106.4" cy="72.7" r="0.4"/><circle cx="52.1" cy="146.4" r="0.7"/><circle cx="128.6" cy="48.1" r="0.8"/><circle cx="108.8" cy="139.6" r="0.4"/><circle cx="149.4" cy="43.5" r="0.4"/><circle cx="78.2" cy="158.4" r="0.4"/><circle cx="106.0" cy="120.1" r="0.9"/><circle cx="126.9" cy="136.4" r="0.5"/><circle cx="103.4" cy="85.6" r="0.8"/><circle cx="96.5" cy="167.1" r="0.4"/><circle cx="62.6" cy="15.7" r="0.8"/><circle cx="73.9" cy="22.9" r="0.8"/><circle cx="112.9" cy="28.2" r="0.9"/><circle cx="76.0" cy="17.0" r="0.8"/><circle cx="155.6" cy="19.5" r="0.4"/><circle cx="86.8" cy="159.4" r="0.7"/><circle cx="63.9" cy="38.4" r="0.7"/><circle cx="106.9" cy="78.2" r="0.5"/><circle cx="103.6" cy="81.9" r="0.4"/><circle cx="80.8" cy="166.3" r="0.7"/><circle cx="88.0" cy="61.9" r="0.9"/><circle cx="66.2" cy="28.4" r="0.8"/><circle cx="50.5" cy="153.9" r="0.8"/><circle cx="118.8" cy="143.1" r="0.4"/><circle cx="149.8" cy="157.4" r="0.9"/><circle cx="108.8" cy="145.8" r="0.6"/><circle cx="71.7" cy="55.2" r="0.7"/><circle cx="59.1" cy="131.5" r="0.7"/><circle cx="147.5" cy="25.1" r="0.5"/><circle cx="109.6" cy="21.8" r="0.9"/><circle cx="64.7" cy="25.6" r="0.7"/><circle cx="51.2" cy="70.0" r="0.8"/><circle cx="153.9" cy="42.7" r="0.6"/><circle cx="59.0" cy="34.1" r="0.5"/><circle cx="103.2" cy="38.6" r="0.8"/><circle cx="124.3" cy="72.9" r="0.7"/><circle cx="54.0" cy="158.3" r="0.8"/><circle cx="106.6" cy="50.4" r="0.7"/><circle cx="88.5" cy="23.6" r="0.6"/><circle cx="68.4" cy="132.2" r="0.6"/><circle cx="52.0" cy="132.4" r="0.9"/><circle cx="113.9" cy="78.5" r="0.5"/><circle cx="76.7" cy="76.0" r="0.7"/><circle cx="51.3" cy="122.3" r="0.4"/><circle cx="93.1" cy="51.7" r="0.7"/><circle cx="151.0" cy="14.5" r="0.6"/><circle cx="140.1" cy="22.7" r="0.5"/><circle cx="118.6" cy="147.8" r="0.6"/><circle cx="104.2" cy="153.1" r="0.7"/><circle cx="101.0" cy="20.4" r="0.6"/><circle cx="84.1" cy="63.2" r="0.8"/><circle cx="59.0" cy="29.4" r="0.5"/><circle cx="99.6" cy="157.2" r="0.4"/><circle cx="86.2" cy="80.1" r="0.5"/><circle cx="78.1" cy="141.9" r="0.9"/><circle cx="108.8" cy="159.0" r="0.9"/><circle cx="51.3" cy="146.2" r="0.6"/><circle cx="114.3" cy="73.6" r="0.5"/><circle cx="137.5" cy="129.2" r="0.7"/><circle cx="56.8" cy="126.3" r="0.5"/><circle cx="78.9" cy="138.9" r="0.4"/><circle cx="101.4" cy="52.9" r="0.6"/><circle cx="91.2" cy="76.0" r="0.5"/><circle cx="145.3" cy="12.9" r="0.4"/><circle cx="61.0" cy="16.8" r="0.5"/><circle cx="52.2" cy="98.3" r="0.9"/><circle cx="84.2" cy="153.5" r="0.6"/><circle cx="113.0" cy="15.4" r="0.4"/><circle cx="68.0" cy="34.9" r="0.9"/><circle cx="74.2" cy="160.2" r="0.4"/><circle cx="135.0" cy="24.1" r="0.7"/><circle cx="150.6" cy="15.6" r="0.8"/><circle cx="103.2" cy="25.9" r="0.6"/><circle cx="108.3" cy="85.5" r="0.4"/><circle cx="96.2" cy="75.9" r="0.7"/><circle cx="72.6" cy="39.9" r="0.4"/><circle cx="115.8" cy="153.1" r="0.4"/><circle cx="70.6" cy="25.9" r="0.5"/><circle cx="109.4" cy="153.4" r="0.8"/><circle cx="141.6" cy="12.8" r="0.4"/><circle cx="81.9" cy="144.8" r="0.9"/><circle cx="136.5" cy="48.1" r="0.5"/><circle cx="118.3" cy="147.2" r="0.6"/><circle cx="69.0" cy="128.1" r="0.8"/><circle cx="91.1" cy="70.7" r="0.8"/><circle cx="94.5" cy="106.3" r="0.7"/><circle cx="154.5" cy="22.4" r="0.8"/><circle cx="146.9" cy="14.8" r="0.4"/><circle cx="102.0" cy="126.9" r="0.4"/><circle cx="135.6" cy="134.0" r="0.6"/><circle cx="93.2" cy="132.9" r="0.8"/><circle cx="78.4" cy="131.7" r="0.4"/><circle cx="82.5" cy="14.2" r="0.5"/><circle cx="109.2" cy="59.6" r="0.7"/><circle cx="113.4" cy="162.6" r="0.8"/><circle cx="91.3" cy="136.4" r="0.5"/><circle cx="98.3" cy="13.0" r="0.4"/><circle cx="71.5" cy="27.9" r="0.7"/><circle cx="111.9" cy="161.9" r="0.6"/><circle cx="74.9" cy="88.2" r="0.5"/><circle cx="139.6" cy="63.1" r="0.5"/><circle cx="87.8" cy="158.4" r="0.6"/><circle cx="105.2" cy="72.4" r="0.5"/><circle cx="109.3" cy="154.2" r="0.9"/><circle cx="53.8" cy="124.1" r="0.8"/><circle cx="78.2" cy="72.0" r="0.8"/><circle cx="100.0" cy="52.6" r="0.8"/><circle cx="136.0" cy="165.1" r="0.8"/><circle cx="63.4" cy="15.0" r="0.7"/><circle cx="76.5" cy="147.9" r="0.8"/><circle cx="58.0" cy="131.3" r="0.9"/><circle cx="134.8" cy="78.6" r="0.6"/><circle cx="111.9" cy="151.1" r="0.6"/><circle cx="86.0" cy="147.2" r="0.4"/><circle cx="79.7" cy="74.7" r="0.4"/><circle cx="65.2" cy="122.9" r="0.5"/><circle cx="96.5" cy="69.6" r="0.4"/><circle cx="54.8" cy="144.4" r="0.9"/><circle cx="111.6" cy="24.5" r="0.5"/><circle cx="142.7" cy="14.3" r="0.7"/><circle cx="111.2" cy="167.3" r="0.5"/><circle cx="162.6" cy="108.9" r="0.7"/><circle cx="77.5" cy="134.2" r="0.6"/><circle cx="90.5" cy="139.2" r="0.5"/><circle cx="104.9" cy="40.6" r="0.8"/><circle cx="69.5" cy="140.3" r="0.6"/><circle cx="116.9" cy="74.2" r="0.6"/><circle cx="67.9" cy="160.9" r="0.7"/><circle cx="75.1" cy="162.2" r="0.5"/><circle cx="110.3" cy="131.5" r="0.8"/><circle cx="143.0" cy="61.2" r="0.5"/><circle cx="68.8" cy="137.7" r="0.6"/><circle cx="57.0" cy="99.3" r="0.5"/><circle cx="72.0" cy="54.6" r="0.6"/><circle cx="67.0" cy="134.3" r="0.8"/><circle cx="128.8" cy="54.1" r="0.5"/><circle cx="79.1" cy="45.4" r="0.7"/><circle cx="100.9" cy="147.9" r="0.4"/><circle cx="154.5" cy="23.6" r="0.5"/><circle cx="101.8" cy="74.0" r="0.9"/><circle cx="50.3" cy="17.1" r="0.9"/><circle cx="133.0" cy="49.1" r="0.5"/><circle cx="92.4" cy="143.1" r="0.5"/><circle cx="86.9" cy="37.8" r="0.5"/><circle cx="58.7" cy="116.9" r="0.5"/><circle cx="71.2" cy="71.8" r="0.7"/><circle cx="72.1" cy="17.6" r="0.4"/><circle cx="85.3" cy="59.0" r="0.5"/><circle cx="105.5" cy="58.1" r="0.9"/><circle cx="57.9" cy="40.4" r="0.4"/><circle cx="92.9" cy="113.1" r="0.5"/><circle cx="152.7" cy="150.6" r="0.7"/><circle cx="56.3" cy="60.6" r="0.5"/><circle cx="151.7" cy="42.8" r="0.7"/><circle cx="68.1" cy="22.4" r="0.9"/><circle cx="66.8" cy="117.0" r="0.8"/><circle cx="88.4" cy="53.5" r="0.6"/><circle cx="115.9" cy="49.4" r="0.4"/><circle cx="67.6" cy="24.7" r="0.5"/><circle cx="85.8" cy="52.4" r="0.4"/><circle cx="116.8" cy="82.3" r="0.5"/><circle cx="78.8" cy="15.0" r="0.9"/><circle cx="78.5" cy="25.5" r="0.4"/><circle cx="87.8" cy="77.0" r="0.5"/><circle cx="102.3" cy="71.1" r="0.7"/><circle cx="59.4" cy="103.7" r="0.4"/><circle cx="83.9" cy="58.8" r="0.5"/><circle cx="75.7" cy="113.8" r="0.9"/><circle cx="92.0" cy="78.5" r="0.6"/><circle cx="143.4" cy="40.8" r="0.9"/><circle cx="91.6" cy="40.4" r="0.5"/><circle cx="84.0" cy="155.2" r="0.8"/><circle cx="84.8" cy="144.4" r="0.4"/><circle cx="77.7" cy="133.3" r="0.5"/><circle cx="63.4" cy="157.9" r="0.7"/><circle cx="50.7" cy="114.7" r="0.6"/><circle cx="79.7" cy="78.2" r="0.7"/><circle cx="51.0" cy="39.2" r="0.7"/><circle cx="157.5" cy="15.8" r="0.5"/><circle cx="106.4" cy="24.7" r="0.6"/><circle cx="54.9" cy="59.2" r="0.6"/><circle cx="50.2" cy="69.1" r="0.4"/><circle cx="56.6" cy="144.4" r="0.4"/><circle cx="161.4" cy="17.0" r="0.6"/><circle cx="106.2" cy="25.6" r="0.9"/><circle cx="78.6" cy="129.3" r="0.9"/><circle cx="99.7" cy="29.7" r="0.6"/><circle cx="67.4" cy="33.6" r="0.4"/><circle cx="75.3" cy="48.4" r="0.9"/><circle cx="90.2" cy="128.2" r="0.5"/><circle cx="124.5" cy="15.4" r="0.4"/><circle cx="100.3" cy="45.7" r="0.5"/><circle cx="95.3" cy="16.1" r="0.7"/><circle cx="72.9" cy="38.7" r="0.6"/><circle cx="83.8" cy="85.2" r="0.7"/><circle cx="72.2" cy="20.8" r="0.8"/><circle cx="75.2" cy="135.9" r="0.6"/><circle cx="98.8" cy="143.7" r="0.5"/><circle cx="90.7" cy="66.0" r="0.8"/><circle cx="62.6" cy="25.0" r="0.7"/><circle cx="105.6" cy="131.7" r="0.8"/><circle cx="114.0" cy="132.3" r="0.6"/><circle cx="61.4" cy="67.2" r="0.8"/><circle cx="50.3" cy="166.9" r="0.5"/><circle cx="135.4" cy="132.7" r="0.6"/><circle cx="50.9" cy="117.9" r="0.7"/><circle cx="71.7" cy="142.5" r="0.6"/><circle cx="161.1" cy="13.5" r="0.6"/><circle cx="78.9" cy="61.9" r="0.8"/><circle cx="89.0" cy="13.3" r="0.6"/><circle cx="83.7" cy="40.8" r="0.6"/><circle cx="124.5" cy="146.2" r="0.7"/><circle cx="104.9" cy="140.0" r="0.4"/><circle cx="87.6" cy="15.1" r="0.5"/><circle cx="112.4" cy="88.3" r="0.8"/><circle cx="74.4" cy="50.6" r="0.8"/><circle cx="54.5" cy="95.4" r="0.5"/><circle cx="130.3" cy="45.6" r="0.5"/><circle cx="124.0" cy="12.5" r="0.4"/><circle cx="90.2" cy="133.9" r="0.6"/><circle cx="99.3" cy="17.6" r="0.8"/><circle cx="106.8" cy="154.6" r="0.4"/><circle cx="153.8" cy="13.6" r="0.5"/><circle cx="102.9" cy="90.4" r="0.5"/><circle cx="60.7" cy="122.2" r="0.6"/><circle cx="98.9" cy="96.1" r="0.9"/><circle cx="58.0" cy="157.0" r="0.5"/><circle cx="51.3" cy="139.5" r="0.4"/><circle cx="120.3" cy="133.5" r="0.4"/><circle cx="117.8" cy="50.1" r="0.8"/><circle cx="90.2" cy="141.6" r="0.8"/><circle cx="81.7" cy="58.9" r="0.5"/><circle cx="103.0" cy="149.9" r="0.6"/><circle cx="104.3" cy="72.7" r="0.4"/><circle cx="143.6" cy="116.8" r="0.7"/><circle cx="158.3" cy="27.5" r="0.6"/><circle cx="107.0" cy="82.4" r="0.9"/><circle cx="55.8" cy="27.7" r="0.7"/><circle cx="102.3" cy="136.0" r="0.7"/><circle cx="91.5" cy="46.0" r="0.8"/><circle cx="77.3" cy="77.3" r="0.8"/><circle cx="127.5" cy="20.5" r="0.7"/><circle cx="89.2" cy="31.2" r="0.6"/><circle cx="58.5" cy="121.8" r="0.4"/><circle cx="107.0" cy="60.3" r="0.4"/><circle cx="66.9" cy="53.8" r="0.7"/><circle cx="115.2" cy="12.5" r="0.9"/><circle cx="133.5" cy="142.1" r="0.7"/><circle cx="110.1" cy="43.8" r="0.8"/><circle cx="152.3" cy="65.0" r="0.7"/><circle cx="94.4" cy="17.5" r="0.8"/><circle cx="69.3" cy="18.3" r="0.7"/><circle cx="127.8" cy="153.1" r="0.7"/><circle cx="71.4" cy="101.7" r="0.4"/><circle cx="149.7" cy="156.1" r="0.4"/><circle cx="135.2" cy="35.6" r="0.8"/><circle cx="56.7" cy="157.0" r="0.8"/><circle cx="153.2" cy="49.5" r="0.9"/><circle cx="62.3" cy="133.6" r="0.5"/><circle cx="107.9" cy="139.6" r="0.5"/><circle cx="85.9" cy="37.8" r="0.6"/><circle cx="94.1" cy="13.5" r="0.8"/><circle cx="66.0" cy="97.6" r="0.5"/><circle cx="144.0" cy="12.5" r="0.4"/><circle cx="55.2" cy="73.8" r="0.8"/><circle cx="68.3" cy="42.1" r="0.8"/><circle cx="95.6" cy="24.2" r="0.7"/><circle cx="156.2" cy="150.1" r="0.8"/><circle cx="56.1" cy="43.6" r="0.4"/><circle cx="63.2" cy="29.3" r="0.4"/><circle cx="87.3" cy="163.0" r="0.4"/><circle cx="103.5" cy="110.8" r="0.4"/><circle cx="116.8" cy="22.5" r="0.8"/><circle cx="86.5" cy="131.6" r="0.5"/><circle cx="156.3" cy="135.1" r="0.6"/><circle cx="106.6" cy="21.2" r="0.7"/><circle cx="72.4" cy="136.0" r="0.6"/><circle cx="139.4" cy="14.4" r="0.7"/><circle cx="94.6" cy="28.2" r="0.5"/><circle cx="79.0" cy="23.9" r="0.8"/><circle cx="61.3" cy="34.3" r="0.6"/><circle cx="74.1" cy="146.7" r="0.5"/><circle cx="51.7" cy="40.3" r="0.6"/><circle cx="65.1" cy="87.0" r="0.5"/><circle cx="65.0" cy="62.9" r="0.5"/><circle cx="51.2" cy="15.9" r="0.4"/><circle cx="95.9" cy="50.3" r="0.6"/><circle cx="76.6" cy="130.9" r="0.8"/><circle cx="115.5" cy="66.8" r="0.7"/><circle cx="58.0" cy="147.3" r="0.4"/><circle cx="72.4" cy="25.8" r="0.6"/><circle cx="118.0" cy="117.2" r="0.7"/><circle cx="52.0" cy="126.4" r="0.8"/><circle cx="52.2" cy="159.5" r="0.9"/><circle cx="61.3" cy="63.7" r="0.4"/><circle cx="79.3" cy="52.5" r="0.8"/><circle cx="85.0" cy="88.0" r="0.6"/><circle cx="61.0" cy="65.0" r="0.8"/><circle cx="62.2" cy="126.9" r="0.5"/><circle cx="148.5" cy="26.8" r="0.6"/><circle cx="109.8" cy="71.7" r="0.8"/><circle cx="75.1" cy="136.6" r="0.6"/><circle cx="145.6" cy="15.1" r="0.5"/><circle cx="113.5" cy="131.8" r="0.5"/><circle cx="138.7" cy="30.4" r="0.8"/><circle cx="60.4" cy="141.8" r="0.5"/><circle cx="78.7" cy="140.4" r="0.7"/><circle cx="80.3" cy="41.8" r="0.5"/><circle cx="136.5" cy="19.0" r="0.6"/><circle cx="61.2" cy="68.4" r="0.4"/><circle cx="115.3" cy="17.2" r="0.8"/><circle cx="69.0" cy="146.2" r="0.9"/><circle cx="139.0" cy="101.4" r="0.8"/><circle cx="75.7" cy="161.6" r="0.4"/><circle cx="68.0" cy="126.2" r="0.7"/><circle cx="83.2" cy="130.4" r="0.6"/><circle cx="50.0" cy="144.0" r="0.7"/><circle cx="91.5" cy="81.6" r="0.4"/><circle cx="84.0" cy="166.4" r="0.6"/><circle cx="93.1" cy="149.7" r="0.4"/><circle cx="136.1" cy="119.2" r="0.4"/><circle cx="117.6" cy="22.2" r="0.4"/><circle cx="86.6" cy="101.2" r="0.8"/><circle cx="87.5" cy="60.9" r="0.6"/><circle cx="64.2" cy="150.2" r="0.8"/><circle cx="58.8" cy="39.8" r="0.5"/><circle cx="61.9" cy="17.3" r="0.8"/><circle cx="79.6" cy="140.5" r="0.5"/><circle cx="73.7" cy="43.9" r="0.4"/><circle cx="63.5" cy="35.0" r="0.6"/><circle cx="109.9" cy="160.0" r="0.4"/><circle cx="139.7" cy="167.2" r="0.4"/><circle cx="162.6" cy="21.0" r="0.9"/><circle cx="65.3" cy="35.1" r="0.7"/><circle cx="72.3" cy="80.5" r="0.8"/><circle cx="88.9" cy="138.7" r="0.5"/><circle cx="68.8" cy="73.3" r="0.7"/><circle cx="146.0" cy="30.0" r="0.4"/><circle cx="53.7" cy="138.4" r="0.4"/><circle cx="104.8" cy="158.0" r="0.7"/><circle cx="120.5" cy="17.2" r="0.4"/><circle cx="137.9" cy="53.7" r="0.4"/><circle cx="51.5" cy="140.0" r="0.8"/><circle cx="141.7" cy="45.2" r="0.8"/><circle cx="59.5" cy="148.0" r="0.4"/><circle cx="81.8" cy="60.0" r="0.7"/><circle cx="92.7" cy="50.8" r="0.5"/><circle cx="69.7" cy="146.3" r="0.6"/><circle cx="67.4" cy="154.9" r="0.5"/><circle cx="136.4" cy="13.3" r="0.8"/><circle cx="90.4" cy="136.2" r="0.9"/><circle cx="86.4" cy="27.7" r="0.5"/><circle cx="123.5" cy="18.3" r="0.4"/><circle cx="78.7" cy="52.4" r="0.8"/><circle cx="105.8" cy="27.6" r="0.5"/><circle cx="104.0" cy="38.3" r="0.8"/><circle cx="148.5" cy="20.9" r="0.8"/><circle cx="60.3" cy="51.9" r="0.8"/><circle cx="51.6" cy="50.5" r="0.9"/><circle cx="71.1" cy="166.9" r="0.7"/><circle cx="52.7" cy="64.4" r="0.7"/><circle cx="105.8" cy="157.9" r="0.4"/><circle cx="102.0" cy="117.4" r="0.4"/><circle cx="58.2" cy="76.2" r="0.9"/><circle cx="160.1" cy="68.0" r="0.9"/><circle cx="66.6" cy="51.8" r="0.4"/><circle cx="59.5" cy="129.5" r="0.8"/><circle cx="130.7" cy="24.5" r="0.4"/><circle cx="72.3" cy="67.2" r="0.9"/><circle cx="76.1" cy="38.7" r="0.7"/><circle cx="138.0" cy="12.4" r="0.5"/><circle cx="56.5" cy="51.1" r="0.6"/><circle cx="79.0" cy="44.8" r="0.6"/><circle cx="71.5" cy="156.3" r="0.6"/><circle cx="110.6" cy="161.0" r="0.6"/><circle cx="65.8" cy="128.9" r="0.5"/><circle cx="165.2" cy="19.7" r="0.7"/><circle cx="76.0" cy="142.4" r="0.7"/><circle cx="79.6" cy="112.0" r="0.4"/><circle cx="50.4" cy="141.5" r="0.6"/><circle cx="142.2" cy="157.2" r="0.8"/><circle cx="105.2" cy="58.2" r="0.4"/><circle cx="91.5" cy="148.6" r="0.6"/><circle cx="154.1" cy="28.2" r="0.7"/><circle cx="65.5" cy="144.8" r="0.7"/><circle cx="86.4" cy="102.1" r="0.4"/><circle cx="106.5" cy="149.3" r="0.8"/><circle cx="92.2" cy="28.6" r="0.9"/><circle cx="115.6" cy="17.3" r="0.8"/><circle cx="55.7" cy="157.2" r="0.6"/><circle cx="99.6" cy="144.0" r="0.7"/><circle cx="75.8" cy="175.7" r="0.9"/><circle cx="116.7" cy="86.8" r="0.6"/><circle cx="80.0" cy="46.1" r="0.7"/><circle cx="125.8" cy="17.0" r="0.5"/><circle cx="70.0" cy="37.9" r="0.5"/><circle cx="111.5" cy="95.4" r="0.6"/><circle cx="108.2" cy="157.2" r="0.5"/><circle cx="125.5" cy="166.8" r="0.9"/><circle cx="60.8" cy="24.3" r="0.8"/><circle cx="151.3" cy="138.2" r="0.5"/><circle cx="105.9" cy="158.8" r="0.4"/><circle cx="102.2" cy="141.8" r="0.5"/><circle cx="69.7" cy="167.1" r="0.7"/><circle cx="98.8" cy="26.7" r="0.5"/><circle cx="110.1" cy="41.6" r="0.6"/><circle cx="66.2" cy="28.7" r="0.8"/><circle cx="135.1" cy="139.7" r="0.7"/><circle cx="163.5" cy="64.3" r="0.4"/><circle cx="91.5" cy="34.8" r="0.9"/><circle cx="80.0" cy="77.5" r="0.9"/><circle cx="97.6" cy="47.5" r="0.6"/><circle cx="60.5" cy="71.0" r="0.4"/><circle cx="52.5" cy="153.5" r="0.5"/><circle cx="63.0" cy="132.7" r="0.5"/><circle cx="96.8" cy="105.8" r="0.8"/><circle cx="122.3" cy="29.0" r="0.8"/><circle cx="117.1" cy="15.4" r="0.8"/><circle cx="119.9" cy="18.5" r="0.6"/><circle cx="106.5" cy="60.0" r="0.4"/><circle cx="71.3" cy="79.1" r="0.7"/><circle cx="75.7" cy="161.1" r="0.9"/><circle cx="51.2" cy="154.3" r="0.5"/><circle cx="92.1" cy="102.8" r="0.7"/><circle cx="151.7" cy="24.5" r="0.6"/><circle cx="107.6" cy="66.7" r="0.8"/><circle cx="107.7" cy="18.7" r="0.7"/><circle cx="85.2" cy="134.8" r="0.4"/><circle cx="91.4" cy="63.1" r="0.9"/><circle cx="51.7" cy="37.3" r="0.9"/><circle cx="76.8" cy="148.3" r="0.5"/><circle cx="83.6" cy="16.1" r="0.8"/><circle cx="123.3" cy="25.2" r="0.7"/><circle cx="162.0" cy="175.2" r="0.8"/><circle cx="76.5" cy="24.7" r="0.6"/><circle cx="163.0" cy="46.9" r="0.7"/><circle cx="90.1" cy="77.8" r="0.7"/><circle cx="88.4" cy="136.7" r="0.5"/><circle cx="100.6" cy="112.5" r="0.7"/><circle cx="85.0" cy="67.7" r="0.5"/><circle cx="104.4" cy="121.2" r="0.7"/><circle cx="62.1" cy="39.1" r="0.8"/><circle cx="58.1" cy="144.0" r="0.5"/><circle cx="103.2" cy="166.4" r="0.6"/><circle cx="119.6" cy="19.6" r="0.4"/><circle cx="98.1" cy="167.0" r="0.6"/><circle cx="114.8" cy="153.2" r="0.8"/><circle cx="107.0" cy="162.4" r="0.9"/><circle cx="119.0" cy="68.2" r="0.8"/><circle cx="92.1" cy="52.2" r="0.7"/><circle cx="110.0" cy="141.6" r="0.5"/><circle cx="121.9" cy="13.8" r="0.5"/><circle cx="87.4" cy="87.3" r="0.4"/><circle cx="63.5" cy="142.7" r="0.6"/><circle cx="77.8" cy="75.2" r="0.6"/><circle cx="75.2" cy="45.3" r="0.7"/><circle cx="102.2" cy="158.5" r="0.4"/><circle cx="114.7" cy="141.6" r="0.5"/><circle cx="53.5" cy="75.3" r="0.4"/><circle cx="152.8" cy="20.1" r="0.9"/><circle cx="148.5" cy="75.2" r="0.8"/><circle cx="157.4" cy="148.2" r="0.9"/><circle cx="139.4" cy="13.6" r="0.7"/><circle cx="160.6" cy="19.8" r="0.5"/><circle cx="134.9" cy="22.5" r="0.6"/><circle cx="65.6" cy="31.5" r="0.6"/><circle cx="114.1" cy="15.9" r="0.5"/><circle cx="156.8" cy="54.5" r="0.8"/><circle cx="155.5" cy="26.8" r="0.4"/><circle cx="151.8" cy="28.5" r="0.4"/><circle cx="56.9" cy="143.7" r="0.5"/><circle cx="162.1" cy="21.3" r="0.4"/><circle cx="121.6" cy="44.1" r="0.8"/><circle cx="149.6" cy="29.0" r="0.9"/><circle cx="155.7" cy="29.7" r="0.8"/><circle cx="112.7" cy="79.8" r="0.8"/><circle cx="111.6" cy="28.9" r="0.5"/><circle cx="56.9" cy="12.9" r="0.9"/><circle cx="82.6" cy="80.9" r="0.8"/><circle cx="85.3" cy="20.0" r="0.6"/><circle cx="95.4" cy="166.2" r="0.8"/><circle cx="106.5" cy="155.2" r="0.5"/><circle cx="113.1" cy="76.2" r="0.8"/><circle cx="104.1" cy="134.5" r="0.5"/><circle cx="56.1" cy="152.4" r="0.9"/><circle cx="61.2" cy="147.3" r="0.6"/><circle cx="57.6" cy="27.9" r="0.7"/><circle cx="143.6" cy="24.0" r="0.5"/><circle cx="95.1" cy="14.7" r="0.8"/><circle cx="78.2" cy="21.6" r="0.7"/><circle cx="140.6" cy="19.5" r="0.7"/><circle cx="109.9" cy="42.3" r="0.8"/><circle cx="97.6" cy="54.2" r="0.4"/><circle cx="103.0" cy="44.5" r="0.6"/><circle cx="117.6" cy="145.0" r="0.6"/><circle cx="119.6" cy="44.7" r="0.4"/><circle cx="111.6" cy="48.4" r="0.5"/><circle cx="79.8" cy="81.6" r="0.4"/><circle cx="60.0" cy="64.9" r="0.5"/><circle cx="86.6" cy="160.6" r="0.4"/><circle cx="94.4" cy="70.0" r="0.4"/><circle cx="60.0" cy="57.6" r="0.7"/><circle cx="97.0" cy="71.1" r="0.7"/><circle cx="65.9" cy="27.0" r="0.8"/><circle cx="133.7" cy="38.7" r="0.9"/><circle cx="79.1" cy="98.0" r="0.9"/><circle cx="152.6" cy="32.8" r="0.9"/><circle cx="158.0" cy="57.6" r="0.4"/><circle cx="74.8" cy="58.0" r="0.9"/><circle cx="54.8" cy="158.1" r="0.7"/><circle cx="52.7" cy="123.2" r="0.7"/><circle cx="91.3" cy="77.5" r="0.6"/><circle cx="78.7" cy="58.5" r="0.5"/><circle cx="75.6" cy="27.4" r="0.5"/><circle cx="134.7" cy="51.9" r="0.8"/><circle cx="124.2" cy="17.0" r="0.4"/><circle cx="71.5" cy="129.4" r="0.7"/><circle cx="80.7" cy="41.7" r="0.8"/><circle cx="68.1" cy="133.2" r="0.9"/><circle cx="63.0" cy="151.7" r="0.6"/><circle cx="54.0" cy="106.6" r="0.9"/><circle cx="56.2" cy="48.2" r="0.6"/><circle cx="53.4" cy="47.5" r="0.8"/><circle cx="94.7" cy="60.3" r="0.5"/><circle cx="97.1" cy="161.2" r="0.7"/><circle cx="129.5" cy="44.7" r="0.4"/><circle cx="81.7" cy="160.2" r="0.4"/><circle cx="92.3" cy="58.3" r="0.8"/><circle cx="105.3" cy="154.1" r="0.4"/><circle cx="122.7" cy="27.3" r="0.5"/><circle cx="137.5" cy="42.8" r="0.8"/><circle cx="80.5" cy="73.3" r="0.5"/><circle cx="89.0" cy="163.4" r="0.6"/><circle cx="67.0" cy="25.9" r="0.5"/><circle cx="118.7" cy="69.7" r="0.4"/><circle cx="83.3" cy="55.9" r="0.5"/><circle cx="62.9" cy="60.8" r="0.5"/><circle cx="51.6" cy="126.7" r="0.4"/><circle cx="50.4" cy="154.6" r="0.9"/><circle cx="162.0" cy="28.6" r="0.8"/><circle cx="156.2" cy="138.8" r="0.5"/><circle cx="67.5" cy="158.5" r="0.6"/><circle cx="152.3" cy="136.0" r="0.8"/><circle cx="85.0" cy="109.4" r="0.5"/><circle cx="72.0" cy="29.7" r="0.4"/><circle cx="79.0" cy="141.5" r="0.8"/><circle cx="98.2" cy="70.4" r="0.7"/><circle cx="84.5" cy="156.7" r="0.7"/><circle cx="95.7" cy="133.3" r="0.8"/><circle cx="52.6" cy="20.3" r="0.6"/><circle cx="100.2" cy="27.3" r="0.6"/><circle cx="89.5" cy="155.8" r="0.6"/><circle cx="96.1" cy="156.0" r="0.9"/><circle cx="143.8" cy="129.7" r="0.8"/><circle cx="99.3" cy="149.2" r="0.4"/><circle cx="53.1" cy="17.5" r="0.6"/><circle cx="106.3" cy="62.3" r="0.6"/><circle cx="92.8" cy="12.5" r="0.9"/><circle cx="104.0" cy="134.3" r="0.8"/><circle cx="87.5" cy="21.9" r="0.8"/><circle cx="73.7" cy="155.0" r="0.4"/><circle cx="136.2" cy="56.9" r="0.6"/><circle cx="83.4" cy="29.1" r="0.8"/><circle cx="164.7" cy="40.9" r="0.5"/><circle cx="67.3" cy="112.4" r="0.6"/><circle cx="52.9" cy="39.4" r="0.9"/><circle cx="143.3" cy="24.3" r="0.7"/><circle cx="95.1" cy="155.7" r="0.7"/><circle cx="156.4" cy="52.6" r="0.7"/><circle cx="116.7" cy="141.2" r="0.5"/><circle cx="74.1" cy="164.1" r="0.7"/><circle cx="50.3" cy="21.9" r="0.7"/><circle cx="101.1" cy="104.1" r="0.9"/><circle cx="130.3" cy="127.5" r="0.6"/><circle cx="66.4" cy="159.9" r="0.5"/><circle cx="90.5" cy="58.2" r="0.8"/><circle cx="83.3" cy="156.0" r="0.5"/><circle cx="62.3" cy="75.2" r="0.5"/><circle cx="129.4" cy="13.5" r="0.5"/><circle cx="88.2" cy="52.7" r="0.4"/><circle cx="66.4" cy="32.8" r="0.4"/><circle cx="50.1" cy="87.7" r="0.7"/><circle cx="115.3" cy="57.5" r="0.8"/><circle cx="66.3" cy="25.6" r="0.7"/><circle cx="98.6" cy="58.8" r="0.5"/><circle cx="160.7" cy="21.5" r="0.7"/><circle cx="115.3" cy="56.8" r="0.8"/><circle cx="102.8" cy="57.4" r="0.8"/><circle cx="157.8" cy="38.9" r="0.8"/><circle cx="80.8" cy="146.5" r="0.8"/><circle cx="63.2" cy="163.7" r="0.7"/><circle cx="83.1" cy="66.9" r="0.7"/><circle cx="68.4" cy="30.5" r="0.7"/><circle cx="51.3" cy="32.4" r="0.5"/><circle cx="115.3" cy="27.1" r="0.6"/><circle cx="109.9" cy="24.1" r="0.5"/><circle cx="78.0" cy="160.5" r="0.5"/><circle cx="58.5" cy="66.6" r="0.4"/><circle cx="67.5" cy="124.8" r="0.4"/><circle cx="110.7" cy="17.8" r="0.6"/><circle cx="79.9" cy="82.6" r="0.7"/><circle cx="72.5" cy="48.3" r="0.4"/><circle cx="90.0" cy="84.9" r="0.4"/><circle cx="73.7" cy="43.7" r="0.9"/><circle cx="91.1" cy="66.0" r="0.7"/><circle cx="73.0" cy="42.4" r="0.5"/><circle cx="124.5" cy="77.4" r="0.8"/><circle cx="68.0" cy="88.7" r="0.6"/><circle cx="111.6" cy="153.6" r="0.9"/><circle cx="88.3" cy="50.3" r="0.6"/><circle cx="85.6" cy="164.5" r="0.9"/><circle cx="86.6" cy="14.6" r="0.4"/><circle cx="97.9" cy="85.2" r="0.4"/><circle cx="102.6" cy="135.3" r="0.6"/><circle cx="108.1" cy="58.5" r="0.7"/><circle cx="102.2" cy="23.3" r="0.7"/><circle cx="99.4" cy="154.3" r="0.6"/><circle cx="63.6" cy="36.6" r="0.4"/><circle cx="109.2" cy="66.5" r="0.5"/><circle cx="103.2" cy="12.2" r="0.5"/><circle cx="113.1" cy="158.4" r="0.6"/><circle cx="52.5" cy="154.0" r="0.4"/><circle cx="113.9" cy="66.5" r="0.4"/><circle cx="72.6" cy="99.7" r="0.7"/><circle cx="158.8" cy="16.4" r="0.8"/><circle cx="81.8" cy="72.8" r="0.7"/><circle cx="141.1" cy="85.1" r="0.6"/><circle cx="123.4" cy="14.5" r="0.7"/><circle cx="54.8" cy="176.2" r="0.7"/><circle cx="112.7" cy="48.3" r="0.4"/><circle cx="109.2" cy="161.8" r="0.5"/><circle cx="92.0" cy="167.3" r="0.5"/><circle cx="94.4" cy="163.3" r="0.5"/><circle cx="123.6" cy="45.4" r="0.6"/><circle cx="69.0" cy="65.8" r="0.7"/><circle cx="52.7" cy="124.2" r="0.8"/><circle cx="95.0" cy="65.2" r="0.5"/><circle cx="76.7" cy="162.1" r="0.8"/><circle cx="133.2" cy="62.0" r="0.5"/><circle cx="71.6" cy="60.6" r="0.8"/><circle cx="73.7" cy="14.7" r="0.7"/><circle cx="64.0" cy="14.7" r="0.8"/><circle cx="57.6" cy="143.8" r="0.4"/><circle cx="74.2" cy="148.5" r="0.4"/><circle cx="101.3" cy="18.4" r="0.5"/><circle cx="161.0" cy="178.9" r="0.8"/><circle cx="94.6" cy="17.2" r="0.4"/><circle cx="63.1" cy="156.1" r="0.8"/><circle cx="152.3" cy="54.0" r="0.6"/><circle cx="56.7" cy="84.3" r="0.8"/><circle cx="110.1" cy="52.7" r="0.4"/><circle cx="88.4" cy="141.6" r="0.7"/><circle cx="61.9" cy="78.8" r="0.8"/><circle cx="159.6" cy="28.4" r="0.4"/><circle cx="90.3" cy="53.9" r="0.8"/><circle cx="80.2" cy="143.4" r="0.9"/><circle cx="102.2" cy="63.3" r="0.5"/><circle cx="142.3" cy="15.8" r="0.5"/><circle cx="153.3" cy="27.5" r="0.4"/><circle cx="56.5" cy="162.6" r="0.8"/><circle cx="71.8" cy="69.6" r="0.8"/><circle cx="61.6" cy="83.4" r="0.7"/><circle cx="60.9" cy="161.6" r="0.9"/><circle cx="52.3" cy="124.0" r="0.4"/><circle cx="126.4" cy="24.2" r="0.6"/><circle cx="55.1" cy="23.5" r="0.8"/><circle cx="81.4" cy="84.8" r="0.8"/><circle cx="115.2" cy="154.3" r="0.9"/><circle cx="69.4" cy="144.6" r="0.7"/><circle cx="117.1" cy="130.0" r="0.5"/><circle cx="74.3" cy="35.5" r="0.8"/><circle cx="131.4" cy="17.4" r="0.5"/><circle cx="81.3" cy="153.1" r="0.9"/><circle cx="121.1" cy="28.5" r="0.9"/><circle cx="80.5" cy="46.7" r="0.6"/><circle cx="117.2" cy="152.9" r="0.5"/><circle cx="85.1" cy="78.9" r="0.9"/><circle cx="71.1" cy="156.1" r="0.8"/><circle cx="74.8" cy="56.3" r="0.4"/><circle cx="137.3" cy="39.4" r="0.5"/><circle cx="65.2" cy="87.3" r="0.4"/><circle cx="140.7" cy="72.4" r="0.6"/><circle cx="119.4" cy="16.2" r="0.5"/><circle cx="102.7" cy="98.6" r="0.4"/><circle cx="108.1" cy="53.8" r="0.5"/><circle cx="69.2" cy="29.2" r="0.5"/><circle cx="71.7" cy="29.3" r="0.7"/><circle cx="83.3" cy="24.1" r="0.5"/><circle cx="80.0" cy="22.2" r="0.4"/><circle cx="63.3" cy="43.0" r="0.7"/><circle cx="52.5" cy="105.8" r="0.7"/><circle cx="141.5" cy="23.0" r="0.9"/><circle cx="69.6" cy="130.3" r="0.8"/><circle cx="58.9" cy="36.3" r="0.5"/><circle cx="74.6" cy="103.0" r="0.6"/><circle cx="79.6" cy="137.5" r="0.7"/><circle cx="156.4" cy="14.8" r="0.4"/><circle cx="130.9" cy="21.4" r="0.8"/><circle cx="99.3" cy="20.5" r="0.5"/><circle cx="104.1" cy="22.1" r="0.6"/><circle cx="72.7" cy="151.0" r="0.9"/><circle cx="80.9" cy="159.0" r="0.6"/><circle cx="81.9" cy="131.7" r="0.8"/><circle cx="55.0" cy="133.1" r="0.4"/><circle cx="120.6" cy="156.8" r="0.4"/><circle cx="87.6" cy="24.9" r="0.8"/><circle cx="107.4" cy="71.3" r="0.6"/><circle cx="84.4" cy="60.4" r="0.5"/><circle cx="93.0" cy="73.2" r="0.4"/><circle cx="73.4" cy="21.7" r="0.5"/><circle cx="59.9" cy="84.7" r="0.5"/><circle cx="157.9" cy="70.6" r="0.8"/><circle cx="82.3" cy="17.2" r="0.6"/><circle cx="59.4" cy="159.0" r="0.8"/><circle cx="150.5" cy="17.7" r="0.5"/><circle cx="133.2" cy="122.3" r="0.7"/><circle cx="68.8" cy="142.8" r="0.9"/><circle cx="154.3" cy="108.8" r="0.7"/><circle cx="54.9" cy="132.9" r="0.8"/><circle cx="149.7" cy="14.3" r="0.5"/><circle cx="66.1" cy="79.6" r="0.5"/><circle cx="138.1" cy="149.5" r="0.5"/><circle cx="115.6" cy="75.4" r="0.7"/><circle cx="150.9" cy="20.2" r="0.8"/><circle cx="52.4" cy="149.0" r="0.5"/><circle cx="87.0" cy="63.2" r="0.6"/><circle cx="55.2" cy="121.7" r="0.4"/><circle cx="54.6" cy="140.9" r="0.9"/><circle cx="165.7" cy="46.0" r="0.7"/><circle cx="109.4" cy="150.4" r="0.4"/><circle cx="67.3" cy="42.8" r="0.4"/><circle cx="159.5" cy="19.8" r="0.8"/><circle cx="117.6" cy="14.3" r="0.7"/><circle cx="85.4" cy="53.7" r="0.4"/><circle cx="64.0" cy="134.8" r="0.5"/><circle cx="93.1" cy="68.4" r="0.6"/><circle cx="103.9" cy="78.8" r="0.5"/><circle cx="54.6" cy="34.8" r="0.8"/><circle cx="77.5" cy="76.7" r="0.4"/><circle cx="124.4" cy="150.0" r="0.7"/><circle cx="55.8" cy="70.5" r="0.6"/><circle cx="69.4" cy="18.1" r="0.4"/><circle cx="140.9" cy="16.4" r="0.4"/><circle cx="100.2" cy="147.0" r="0.7"/><circle cx="61.6" cy="73.1" r="0.6"/><circle cx="89.3" cy="93.4" r="0.8"/><circle cx="141.7" cy="19.3" r="0.7"/><circle cx="74.8" cy="61.5" r="0.4"/><circle cx="130.1" cy="37.7" r="0.6"/><circle cx="68.9" cy="29.8" r="0.5"/><circle cx="80.6" cy="35.0" r="0.4"/><circle cx="82.4" cy="22.9" r="0.4"/><circle cx="143.5" cy="23.2" r="0.6"/><circle cx="70.7" cy="157.2" r="0.5"/><circle cx="53.3" cy="14.5" r="0.6"/><circle cx="63.2" cy="30.9" r="0.8"/><circle cx="82.1" cy="55.7" r="0.4"/><circle cx="157.3" cy="115.6" r="0.8"/><circle cx="133.8" cy="47.3" r="0.7"/><circle cx="74.3" cy="161.8" r="0.6"/><circle cx="68.5" cy="133.0" r="0.8"/><circle cx="102.6" cy="31.3" r="0.9"/><circle cx="82.9" cy="70.5" r="0.6"/><circle cx="51.7" cy="24.5" r="0.5"/><circle cx="119.0" cy="25.9" r="0.7"/><circle cx="54.7" cy="73.9" r="0.4"/><circle cx="78.2" cy="157.3" r="0.7"/><circle cx="64.2" cy="57.0" r="0.7"/><circle cx="111.9" cy="19.5" r="0.6"/><circle cx="115.6" cy="12.7" r="0.6"/><circle cx="139.9" cy="14.7" r="0.6"/><circle cx="140.2" cy="42.3" r="0.4"/><circle cx="64.2" cy="19.7" r="0.4"/><circle cx="110.9" cy="21.3" r="0.9"/><circle cx="95.6" cy="42.9" r="0.5"/><circle cx="83.2" cy="43.4" r="0.4"/><circle cx="55.6" cy="132.4" r="0.5"/><circle cx="52.5" cy="166.5" r="0.9"/><circle cx="56.0" cy="82.5" r="0.7"/><circle cx="61.8" cy="145.5" r="0.4"/><circle cx="70.1" cy="55.0" r="0.6"/><circle cx="111.4" cy="49.2" r="0.7"/><circle cx="81.9" cy="46.7" r="0.6"/><circle cx="139.6" cy="14.2" r="0.8"/><circle cx="77.8" cy="34.5" r="0.4"/><circle cx="52.1" cy="13.1" r="0.9"/><circle cx="117.7" cy="130.5" r="0.5"/><circle cx="89.1" cy="91.2" r="0.5"/><circle cx="78.0" cy="14.4" r="0.5"/><circle cx="142.2" cy="20.9" r="0.4"/><circle cx="62.8" cy="127.9" r="0.5"/><circle cx="56.9" cy="112.0" r="0.4"/><circle cx="163.9" cy="15.9" r="0.4"/><circle cx="120.3" cy="58.4" r="0.4"/><circle cx="132.3" cy="146.4" r="0.8"/><circle cx="152.7" cy="25.5" r="0.4"/><circle cx="86.8" cy="67.1" r="0.6"/><circle cx="90.6" cy="134.9" r="0.5"/><circle cx="89.3" cy="108.0" r="0.6"/><circle cx="91.7" cy="159.8" r="0.5"/><circle cx="113.1" cy="158.2" r="0.7"/><circle cx="93.5" cy="22.7" r="0.8"/><circle cx="118.7" cy="161.7" r="0.5"/><circle cx="150.0" cy="160.1" r="0.5"/><circle cx="97.0" cy="80.7" r="0.8"/><circle cx="86.8" cy="73.3" r="0.5"/><circle cx="160.7" cy="125.8" r="0.4"/><circle cx="92.6" cy="81.4" r="0.5"/><circle cx="51.6" cy="59.1" r="0.4"/><circle cx="79.8" cy="132.5" r="0.4"/><circle cx="84.8" cy="157.2" r="0.4"/><circle cx="148.0" cy="13.2" r="0.4"/><circle cx="79.2" cy="74.5" r="0.4"/><circle cx="92.0" cy="151.8" r="0.6"/><circle cx="116.5" cy="30.7" r="0.4"/><circle cx="116.1" cy="67.7" r="0.8"/><circle cx="143.6" cy="12.2" r="0.4"/><circle cx="121.3" cy="24.4" r="0.6"/><circle cx="110.0" cy="26.5" r="0.6"/><circle cx="50.4" cy="135.5" r="0.5"/><circle cx="139.9" cy="18.0" r="0.7"/><circle cx="52.5" cy="162.6" r="0.4"/><circle cx="88.6" cy="41.9" r="0.5"/><circle cx="55.2" cy="55.4" r="0.8"/><circle cx="138.8" cy="139.2" r="0.8"/><circle cx="81.9" cy="108.2" r="0.8"/><circle cx="154.0" cy="29.6" r="0.8"/><circle cx="50.7" cy="26.7" r="0.5"/><circle cx="162.3" cy="13.8" r="0.8"/><circle cx="73.9" cy="146.5" r="0.9"/><circle cx="99.9" cy="137.7" r="0.5"/><circle cx="106.0" cy="13.2" r="0.8"/><circle cx="51.9" cy="139.4" r="0.4"/><circle cx="104.8" cy="58.0" r="0.5"/><circle cx="99.1" cy="22.1" r="0.5"/><circle cx="65.9" cy="158.9" r="0.6"/><circle cx="78.1" cy="25.6" r="0.7"/><circle cx="116.1" cy="63.2" r="0.4"/><circle cx="152.9" cy="53.0" r="0.8"/><circle cx="75.0" cy="157.4" r="0.6"/><circle cx="112.7" cy="21.7" r="0.4"/><circle cx="74.2" cy="25.9" r="0.8"/><circle cx="134.9" cy="29.0" r="0.8"/><circle cx="94.0" cy="22.2" r="0.5"/><circle cx="115.3" cy="163.2" r="0.9"/><circle cx="93.8" cy="83.4" r="0.9"/><circle cx="84.2" cy="12.0" r="0.8"/><circle cx="67.1" cy="99.9" r="0.5"/><circle cx="103.0" cy="115.8" r="0.4"/><circle cx="117.3" cy="158.0" r="0.5"/><circle cx="99.0" cy="24.3" r="0.5"/><circle cx="78.1" cy="73.0" r="0.5"/><circle cx="59.7" cy="57.4" r="0.7"/><circle cx="63.2" cy="89.9" r="0.5"/><circle cx="163.8" cy="14.7" r="0.5"/><circle cx="141.7" cy="98.8" r="0.6"/><circle cx="105.3" cy="145.2" r="0.8"/><circle cx="75.3" cy="147.7" r="0.8"/><circle cx="128.4" cy="52.7" r="0.8"/><circle cx="106.7" cy="14.2" r="0.4"/><circle cx="58.5" cy="136.0" r="0.8"/><circle cx="73.8" cy="127.5" r="0.8"/><circle cx="124.5" cy="23.4" r="0.8"/><circle cx="63.3" cy="17.6" r="0.8"/><circle cx="140.7" cy="35.0" r="0.7"/><circle cx="72.0" cy="131.0" r="0.8"/><circle cx="92.6" cy="104.9" r="0.7"/><circle cx="123.3" cy="76.2" r="0.9"/><circle cx="64.7" cy="18.3" r="0.8"/><circle cx="58.5" cy="134.4" r="0.8"/><circle cx="56.5" cy="124.9" r="0.5"/><circle cx="137.6" cy="51.5" r="0.6"/><circle cx="139.1" cy="55.6" r="0.8"/><circle cx="54.1" cy="23.8" r="0.4"/><circle cx="140.8" cy="14.7" r="0.9"/><circle cx="115.3" cy="13.2" r="0.5"/><circle cx="78.6" cy="15.0" r="0.4"/><circle cx="50.3" cy="155.4" r="0.8"/><circle cx="100.7" cy="68.5" r="0.7"/><circle cx="68.3" cy="34.2" r="0.4"/><circle cx="102.2" cy="16.4" r="0.6"/><circle cx="75.9" cy="27.6" r="0.5"/><circle cx="66.8" cy="52.0" r="0.7"/><circle cx="82.3" cy="42.8" r="0.5"/><circle cx="90.1" cy="150.5" r="0.8"/><circle cx="100.3" cy="14.8" r="0.6"/><circle cx="101.8" cy="162.4" r="0.6"/><circle cx="94.3" cy="17.1" r="0.6"/><circle cx="142.9" cy="33.5" r="0.8"/><circle cx="92.9" cy="127.8" r="0.6"/><circle cx="62.7" cy="46.1" r="0.6"/><circle cx="90.9" cy="156.4" r="0.7"/><circle cx="117.6" cy="78.4" r="0.7"/><circle cx="137.4" cy="171.3" r="0.5"/><circle cx="107.5" cy="169.4" r="0.8"/><circle cx="60.0" cy="75.0" r="0.8"/><circle cx="74.3" cy="76.4" r="0.4"/><circle cx="100.6" cy="53.2" r="0.4"/><circle cx="108.8" cy="154.6" r="0.7"/><circle cx="51.1" cy="70.6" r="0.8"/><circle cx="141.3" cy="16.2" r="0.7"/><circle cx="110.4" cy="146.4" r="0.4"/><circle cx="83.3" cy="152.0" r="0.7"/><circle cx="51.8" cy="74.9" r="0.7"/><circle cx="109.1" cy="25.5" r="0.6"/><circle cx="108.4" cy="14.0" r="0.4"/><circle cx="121.2" cy="23.6" r="0.6"/><circle cx="134.9" cy="177.8" r="0.7"/><circle cx="57.0" cy="27.0" r="0.8"/><circle cx="146.9" cy="13.7" r="0.6"/><circle cx="116.4" cy="152.5" r="0.4"/><circle cx="157.2" cy="87.2" r="0.6"/><circle cx="93.5" cy="15.4" r="0.8"/><circle cx="161.7" cy="29.0" r="0.4"/><circle cx="147.6" cy="57.2" r="0.4"/><circle cx="62.9" cy="47.3" r="0.4"/><circle cx="78.0" cy="12.4" r="0.5"/><circle cx="73.0" cy="41.4" r="0.6"/><circle cx="63.2" cy="60.2" r="0.5"/><circle cx="136.2" cy="16.9" r="0.8"/><circle cx="155.5" cy="27.7" r="0.6"/><circle cx="54.5" cy="122.7" r="0.6"/><circle cx="57.1" cy="146.6" r="0.7"/><circle cx="93.4" cy="48.8" r="0.5"/><circle cx="54.8" cy="74.9" r="0.9"/><circle cx="86.0" cy="56.2" r="0.6"/><circle cx="100.0" cy="63.6" r="0.6"/><circle cx="55.6" cy="50.8" r="0.8"/><circle cx="157.0" cy="19.4" r="0.7"/><circle cx="62.2" cy="78.7" r="0.8"/><circle cx="98.4" cy="155.5" r="0.7"/><circle cx="131.2" cy="67.9" r="0.5"/><circle cx="76.1" cy="28.0" r="0.4"/><circle cx="166.1" cy="14.6" r="0.8"/><circle cx="116.3" cy="15.9" r="0.7"/><circle cx="75.6" cy="151.3" r="0.7"/><circle cx="77.2" cy="142.2" r="0.5"/><circle cx="61.5" cy="51.4" r="0.7"/><circle cx="92.4" cy="159.2" r="0.4"/><circle cx="66.0" cy="31.1" r="0.5"/><circle cx="64.0" cy="30.3" r="0.5"/><circle cx="102.6" cy="144.3" r="0.6"/><circle cx="70.8" cy="105.3" r="0.5"/><circle cx="97.7" cy="138.9" r="0.4"/><circle cx="157.1" cy="32.2" r="0.7"/><circle cx="88.6" cy="76.8" r="0.8"/><circle cx="162.2" cy="33.3" r="0.4"/><circle cx="150.0" cy="55.4" r="0.5"/><circle cx="115.9" cy="61.0" r="0.8"/><circle cx="56.7" cy="144.6" r="0.5"/><circle cx="75.1" cy="133.0" r="0.4"/><circle cx="102.9" cy="85.1" r="0.8"/><circle cx="98.1" cy="153.1" r="0.9"/><circle cx="96.5" cy="77.8" r="0.5"/><circle cx="64.4" cy="39.8" r="0.7"/><circle cx="60.9" cy="81.8" r="0.8"/><circle cx="65.0" cy="130.7" r="0.9"/><circle cx="68.0" cy="53.5" r="0.4"/><circle cx="110.9" cy="64.5" r="0.7"/><circle cx="108.2" cy="158.3" r="0.8"/><circle cx="98.5" cy="14.2" r="0.7"/><circle cx="66.7" cy="160.0" r="0.4"/><circle cx="143.8" cy="41.8" r="0.7"/><circle cx="94.4" cy="137.2" r="0.4"/><circle cx="94.7" cy="18.5" r="0.4"/><circle cx="73.1" cy="28.6" r="0.8"/><circle cx="100.5" cy="138.2" r="0.4"/><circle cx="85.4" cy="17.8" r="0.7"/><circle cx="63.9" cy="14.7" r="0.5"/><circle cx="123.2" cy="18.6" r="0.8"/><circle cx="126.7" cy="41.6" r="0.6"/><circle cx="57.0" cy="36.0" r="0.6"/><circle cx="79.7" cy="112.0" r="0.8"/><circle cx="123.2" cy="24.3" r="0.6"/><circle cx="89.8" cy="26.3" r="0.5"/><circle cx="82.6" cy="49.1" r="0.8"/><circle cx="98.2" cy="26.7" r="0.5"/><circle cx="79.3" cy="174.9" r="0.8"/><circle cx="63.6" cy="22.2" r="0.5"/><circle cx="155.1" cy="23.2" r="0.6"/><circle cx="73.9" cy="42.2" r="0.6"/><circle cx="148.7" cy="101.5" r="0.8"/><circle cx="92.3" cy="131.5" r="0.6"/><circle cx="110.1" cy="59.3" r="0.6"/><circle cx="134.8" cy="93.9" r="0.7"/><circle cx="144.9" cy="62.3" r="0.7"/><circle cx="82.8" cy="16.3" r="0.4"/><circle cx="69.9" cy="41.9" r="0.9"/><circle cx="53.1" cy="13.6" r="0.5"/><circle cx="164.7" cy="23.1" r="0.6"/><circle cx="73.8" cy="67.2" r="0.7"/><circle cx="105.9" cy="22.6" r="0.7"/><circle cx="84.4" cy="154.2" r="0.4"/><circle cx="132.5" cy="150.7" r="0.4"/><circle cx="85.6" cy="134.4" r="0.7"/><circle cx="82.7" cy="87.2" r="0.6"/><circle cx="65.3" cy="22.5" r="0.5"/><circle cx="103.5" cy="138.2" r="0.6"/><circle cx="93.8" cy="95.5" r="0.9"/><circle cx="100.4" cy="50.4" r="0.5"/><circle cx="68.5" cy="40.5" r="0.5"/><circle cx="137.7" cy="18.7" r="0.5"/><circle cx="54.7" cy="135.4" r="0.5"/><circle cx="103.7" cy="27.6" r="0.6"/><circle cx="127.1" cy="14.6" r="0.6"/><circle cx="56.5" cy="31.8" r="0.7"/><circle cx="59.8" cy="154.5" r="0.4"/><circle cx="156.0" cy="18.2" r="0.4"/><circle cx="78.1" cy="92.4" r="0.8"/><circle cx="72.2" cy="135.6" r="0.4"/><circle cx="114.1" cy="154.0" r="0.7"/><circle cx="68.7" cy="124.4" r="0.8"/><circle cx="105.4" cy="22.0" r="0.5"/><circle cx="153.6" cy="29.0" r="0.6"/><circle cx="118.8" cy="59.9" r="0.8"/><circle cx="148.1" cy="121.6" r="0.9"/><circle cx="58.5" cy="49.9" r="0.4"/><circle cx="137.2" cy="21.7" r="0.6"/><circle cx="66.2" cy="127.8" r="0.4"/><circle cx="95.0" cy="160.6" r="0.7"/><circle cx="90.0" cy="44.3" r="0.5"/><circle cx="130.2" cy="18.4" r="0.7"/><circle cx="94.6" cy="152.4" r="0.5"/><circle cx="103.3" cy="82.2" r="0.9"/><circle cx="54.2" cy="106.9" r="0.7"/><circle cx="88.5" cy="42.2" r="0.5"/><circle cx="120.3" cy="24.2" r="0.5"/><circle cx="75.8" cy="54.8" r="0.4"/><circle cx="108.8" cy="147.6" r="0.9"/><circle cx="116.9" cy="16.1" r="0.6"/><circle cx="71.5" cy="61.5" r="0.4"/><circle cx="79.5" cy="44.1" r="0.7"/><circle cx="104.1" cy="72.9" r="0.7"/><circle cx="55.6" cy="135.9" r="0.6"/><circle cx="60.0" cy="84.6" r="0.7"/><circle cx="149.0" cy="27.0" r="0.7"/><circle cx="59.6" cy="81.3" r="0.8"/><circle cx="98.4" cy="133.5" r="0.8"/><circle cx="102.2" cy="19.4" r="0.8"/><circle cx="144.6" cy="55.1" r="0.4"/><circle cx="115.2" cy="16.9" r="0.8"/><circle cx="148.1" cy="67.1" r="0.6"/><circle cx="80.1" cy="12.8" r="0.7"/><circle cx="108.8" cy="53.9" r="0.6"/><circle cx="102.5" cy="76.3" r="0.6"/><circle cx="140.0" cy="19.3" r="0.5"/><circle cx="151.6" cy="21.8" r="0.9"/><circle cx="84.0" cy="115.2" r="0.7"/><circle cx="56.4" cy="66.1" r="0.8"/><circle cx="109.9" cy="25.5" r="0.5"/><circle cx="104.0" cy="146.0" r="0.5"/><circle cx="102.1" cy="21.7" r="0.6"/><circle cx="61.9" cy="69.7" r="0.5"/><circle cx="77.0" cy="159.5" r="0.4"/><circle cx="99.8" cy="25.7" r="0.6"/><circle cx="59.6" cy="28.1" r="0.4"/><circle cx="152.8" cy="15.7" r="0.4"/><circle cx="115.3" cy="48.6" r="0.8"/><circle cx="114.7" cy="70.3" r="0.6"/><circle cx="85.6" cy="142.9" r="0.5"/><circle cx="86.6" cy="37.6" r="0.5"/><circle cx="139.2" cy="56.5" r="0.6"/><circle cx="109.6" cy="13.6" r="0.6"/><circle cx="52.4" cy="20.9" r="0.8"/><circle cx="74.2" cy="146.3" r="0.6"/><circle cx="116.7" cy="67.7" r="0.4"/><circle cx="53.7" cy="62.8" r="0.4"/><circle cx="85.0" cy="128.0" r="0.8"/><circle cx="95.8" cy="154.3" r="0.8"/><circle cx="90.6" cy="106.7" r="0.8"/><circle cx="51.7" cy="93.9" r="0.6"/><circle cx="152.8" cy="47.2" r="0.4"/><circle cx="136.6" cy="41.9" r="0.7"/><circle cx="80.4" cy="67.5" r="0.8"/><circle cx="155.0" cy="20.2" r="0.6"/><circle cx="108.3" cy="156.9" r="0.7"/><circle cx="74.0" cy="36.2" r="0.6"/><circle cx="69.7" cy="159.4" r="0.7"/><circle cx="58.7" cy="146.3" r="0.9"/><circle cx="106.7" cy="156.3" r="0.6"/><circle cx="126.0" cy="123.5" r="0.4"/><circle cx="54.0" cy="23.9" r="0.7"/><circle cx="65.2" cy="69.6" r="0.6"/><circle cx="134.4" cy="33.0" r="0.8"/><circle cx="71.2" cy="144.7" r="0.4"/><circle cx="86.5" cy="136.8" r="0.8"/><circle cx="90.1" cy="38.6" r="0.7"/><circle cx="61.1" cy="95.7" r="0.7"/><circle cx="108.9" cy="148.2" r="0.6"/><circle cx="88.1" cy="46.6" r="0.6"/><circle cx="120.5" cy="28.2" r="0.8"/><circle cx="127.0" cy="25.4" r="0.9"/><circle cx="100.7" cy="67.6" r="0.4"/><circle cx="149.2" cy="24.1" r="0.7"/><circle cx="70.2" cy="21.7" r="0.5"/><circle cx="76.3" cy="103.3" r="0.4"/><circle cx="123.2" cy="61.9" r="0.6"/><circle cx="160.9" cy="64.7" r="0.8"/><circle cx="73.7" cy="134.0" r="0.5"/><circle cx="141.3" cy="65.2" r="0.7"/><circle cx="95.6" cy="26.3" r="0.8"/><circle cx="136.6" cy="28.4" r="0.8"/><circle cx="160.8" cy="55.6" r="0.8"/><circle cx="55.5" cy="12.4" r="0.5"/><circle cx="107.4" cy="28.2" r="0.5"/><circle cx="71.8" cy="73.6" r="0.8"/><circle cx="111.2" cy="154.8" r="0.7"/><circle cx="77.0" cy="138.2" r="0.7"/><circle cx="67.2" cy="156.6" r="0.5"/><circle cx="87.1" cy="46.9" r="0.6"/><circle cx="97.3" cy="44.7" r="0.4"/><circle cx="88.6" cy="142.9" r="0.4"/><circle cx="88.4" cy="61.4" r="0.9"/><circle cx="56.8" cy="62.0" r="0.7"/><circle cx="59.5" cy="157.0" r="0.6"/><circle cx="59.8" cy="21.6" r="0.6"/><circle cx="103.9" cy="30.5" r="0.8"/><circle cx="87.9" cy="60.5" r="0.6"/><circle cx="109.9" cy="102.9" r="0.5"/><circle cx="70.8" cy="82.2" r="0.4"/><circle cx="157.2" cy="94.8" r="0.9"/><circle cx="113.8" cy="159.3" r="0.7"/><circle cx="161.6" cy="52.9" r="0.5"/><circle cx="73.9" cy="96.3" r="0.5"/><circle cx="73.9" cy="121.8" r="0.6"/><circle cx="52.0" cy="15.3" r="0.5"/><circle cx="150.2" cy="22.6" r="0.5"/><circle cx="101.6" cy="49.4" r="0.4"/><circle cx="94.3" cy="157.7" r="0.7"/><circle cx="98.9" cy="165.8" r="0.8"/><circle cx="93.9" cy="28.1" r="0.6"/><circle cx="74.5" cy="132.9" r="0.7"/><circle cx="107.6" cy="141.8" r="0.8"/><circle cx="62.7" cy="145.7" r="0.6"/><circle cx="97.2" cy="141.4" r="0.9"/><circle cx="111.7" cy="145.1" r="0.7"/><circle cx="61.2" cy="23.3" r="0.5"/><circle cx="56.7" cy="42.8" r="0.4"/><circle cx="76.8" cy="133.6" r="0.4"/><circle cx="63.1" cy="138.6" r="0.6"/><circle cx="61.6" cy="40.5" r="0.4"/><circle cx="50.7" cy="129.3" r="0.8"/><circle cx="60.2" cy="122.9" r="0.6"/><circle cx="70.0" cy="28.1" r="0.5"/><circle cx="113.4" cy="23.9" r="0.4"/><circle cx="54.1" cy="154.6" r="0.7"/><circle cx="143.5" cy="34.5" r="0.7"/><circle cx="152.6" cy="150.0" r="0.4"/><circle cx="66.0" cy="26.8" r="0.8"/><circle cx="75.0" cy="155.7" r="0.5"/><circle cx="78.2" cy="15.2" r="0.6"/><circle cx="102.5" cy="17.7" r="0.4"/><circle cx="140.4" cy="14.3" r="0.7"/><circle cx="156.9" cy="17.1" r="0.7"/><circle cx="153.5" cy="32.6" r="0.8"/><circle cx="143.0" cy="46.4" r="0.8"/><circle cx="79.3" cy="93.8" r="0.8"/><circle cx="52.1" cy="86.3" r="0.4"/><circle cx="128.9" cy="13.9" r="0.6"/><circle cx="102.0" cy="75.5" r="0.5"/><circle cx="129.3" cy="46.7" r="0.4"/><circle cx="105.0" cy="154.3" r="0.8"/><circle cx="114.3" cy="19.7" r="0.6"/><circle cx="114.8" cy="49.8" r="0.8"/><circle cx="81.5" cy="45.3" r="0.7"/><circle cx="146.5" cy="50.2" r="0.5"/><circle cx="64.0" cy="139.5" r="0.4"/><circle cx="133.4" cy="14.7" r="0.6"/><circle cx="59.1" cy="22.7" r="0.4"/><circle cx="111.2" cy="126.3" r="0.7"/><circle cx="70.6" cy="95.5" r="0.4"/><circle cx="131.8" cy="57.3" r="0.4"/><circle cx="138.1" cy="164.7" r="0.7"/><circle cx="117.4" cy="17.6" r="0.7"/><circle cx="93.5" cy="78.7" r="0.6"/><circle cx="131.8" cy="21.3" r="0.9"/><circle cx="158.5" cy="73.6" r="0.6"/><circle cx="63.0" cy="52.6" r="0.6"/><circle cx="127.5" cy="113.3" r="0.8"/><circle cx="59.6" cy="60.3" r="0.6"/><circle cx="122.5" cy="24.7" r="0.7"/><circle cx="63.8" cy="117.9" r="0.9"/><circle cx="97.7" cy="29.5" r="0.5"/><circle cx="84.0" cy="104.0" r="0.7"/><circle cx="139.1" cy="14.8" r="0.7"/><circle cx="56.7" cy="18.7" r="0.8"/><circle cx="105.5" cy="45.7" r="0.4"/><circle cx="62.2" cy="161.8" r="0.4"/><circle cx="129.7" cy="25.8" r="0.6"/><circle cx="86.7" cy="25.4" r="0.6"/><circle cx="58.7" cy="93.7" r="0.4"/><circle cx="109.2" cy="77.8" r="0.6"/><circle cx="60.9" cy="78.8" r="0.9"/><circle cx="135.2" cy="117.8" r="0.5"/><circle cx="86.2" cy="161.5" r="0.5"/><circle cx="53.9" cy="158.9" r="0.7"/><circle cx="72.4" cy="16.8" r="0.4"/><circle cx="76.3" cy="94.4" r="0.7"/><circle cx="89.1" cy="81.4" r="0.6"/><circle cx="50.6" cy="23.5" r="0.4"/><circle cx="67.2" cy="77.6" r="0.4"/><circle cx="82.7" cy="13.2" r="0.9"/><circle cx="102.8" cy="27.4" r="0.8"/><circle cx="109.6" cy="85.5" r="0.6"/><circle cx="55.7" cy="33.1" r="0.4"/><circle cx="79.8" cy="61.2" r="0.8"/><circle cx="114.4" cy="75.8" r="0.8"/><circle cx="100.3" cy="27.6" r="0.9"/><circle cx="164.3" cy="27.4" r="0.4"/><circle cx="51.3" cy="158.0" r="0.4"/><circle cx="51.3" cy="151.7" r="0.9"/><circle cx="74.4" cy="132.2" r="0.9"/><circle cx="54.0" cy="161.5" r="0.7"/><circle cx="144.6" cy="28.4" r="0.5"/><circle cx="160.4" cy="156.6" r="0.5"/><circle cx="100.4" cy="23.1" r="0.5"/><circle cx="82.2" cy="127.8" r="0.7"/><circle cx="110.9" cy="23.8" r="0.9"/><circle cx="113.8" cy="24.7" r="0.7"/><circle cx="145.3" cy="104.2" r="0.5"/><circle cx="68.5" cy="84.5" r="0.7"/><circle cx="116.1" cy="20.1" r="0.4"/><circle cx="66.0" cy="145.8" r="0.8"/><circle cx="54.9" cy="49.2" r="0.8"/><circle cx="79.9" cy="82.6" r="0.5"/><circle cx="55.5" cy="44.7" r="0.8"/><circle cx="76.7" cy="18.7" r="0.7"/><circle cx="92.6" cy="157.3" r="0.9"/><circle cx="93.9" cy="140.1" r="0.7"/><circle cx="83.1" cy="36.9" r="0.6"/><circle cx="71.8" cy="55.5" r="0.8"/><circle cx="107.2" cy="154.8" r="0.8"/><circle cx="110.5" cy="150.5" r="0.5"/><circle cx="79.5" cy="107.6" r="0.8"/><circle cx="51.5" cy="67.5" r="0.8"/><circle cx="63.3" cy="63.0" r="0.8"/><circle cx="138.8" cy="16.0" r="0.6"/><circle cx="131.3" cy="116.8" r="0.4"/></g><g fill="#5a5990" opacity="0.4" filter="url(#bl)"><circle cx="82.5" cy="152.4" r="0.5"/><circle cx="53.4" cy="57.1" r="0.8"/><circle cx="110.3" cy="160.4" r="0.7"/><circle cx="136.2" cy="24.1" r="0.6"/><circle cx="52.0" cy="70.0" r="0.6"/><circle cx="79.6" cy="79.0" r="0.7"/><circle cx="100.7" cy="14.2" r="0.5"/><circle cx="78.8" cy="85.6" r="0.6"/><circle cx="98.8" cy="28.1" r="0.4"/><circle cx="60.6" cy="14.9" r="0.6"/><circle cx="85.5" cy="159.9" r="0.8"/><circle cx="88.1" cy="45.4" r="0.4"/><circle cx="53.8" cy="73.5" r="0.4"/><circle cx="69.8" cy="152.2" r="0.5"/><circle cx="92.2" cy="149.4" r="0.7"/><circle cx="104.1" cy="18.5" r="0.7"/><circle cx="104.0" cy="62.1" r="0.5"/><circle cx="66.9" cy="49.6" r="0.5"/><circle cx="72.4" cy="67.2" r="0.5"/><circle cx="74.2" cy="128.3" r="0.5"/><circle cx="130.6" cy="40.7" r="0.5"/><circle cx="113.4" cy="118.2" r="0.5"/><circle cx="55.5" cy="51.3" r="0.5"/><circle cx="98.9" cy="157.4" r="0.7"/><circle cx="56.2" cy="133.4" r="0.5"/><circle cx="147.3" cy="120.3" r="0.7"/><circle cx="105.6" cy="156.4" r="0.8"/><circle cx="54.7" cy="22.9" r="0.7"/><circle cx="160.4" cy="25.9" r="0.6"/><circle cx="117.5" cy="141.9" r="0.6"/><circle cx="148.1" cy="115.3" r="0.8"/><circle cx="96.6" cy="104.5" r="0.7"/><circle cx="62.6" cy="68.7" r="0.5"/><circle cx="125.5" cy="42.9" r="0.7"/><circle cx="67.1" cy="32.9" r="0.6"/><circle cx="71.3" cy="24.5" r="0.6"/><circle cx="111.7" cy="147.0" r="0.6"/><circle cx="87.1" cy="166.9" r="0.8"/><circle cx="87.4" cy="155.5" r="0.5"/><circle cx="124.4" cy="60.8" r="0.6"/><circle cx="147.8" cy="29.2" r="0.6"/><circle cx="69.1" cy="80.9" r="0.5"/><circle cx="151.5" cy="16.6" r="0.7"/><circle cx="69.8" cy="14.6" r="0.7"/><circle cx="58.5" cy="68.6" r="0.8"/><circle cx="66.0" cy="77.4" r="0.8"/><circle cx="115.7" cy="65.6" r="0.5"/><circle cx="116.2" cy="56.2" r="0.4"/><circle cx="93.9" cy="17.8" r="0.4"/><circle cx="95.2" cy="158.9" r="0.6"/><circle cx="77.1" cy="80.3" r="0.6"/><circle cx="122.6" cy="24.7" r="0.7"/><circle cx="160.1" cy="50.5" r="0.8"/><circle cx="93.9" cy="20.5" r="0.4"/><circle cx="112.1" cy="156.8" r="0.5"/><circle cx="60.6" cy="50.3" r="0.7"/><circle cx="116.3" cy="76.2" r="0.5"/><circle cx="125.8" cy="137.2" r="0.4"/><circle cx="55.5" cy="13.6" r="0.5"/><circle cx="133.5" cy="61.7" r="0.6"/><circle cx="80.7" cy="80.0" r="0.7"/><circle cx="70.4" cy="134.2" r="0.6"/><circle cx="86.5" cy="36.4" r="0.8"/><circle cx="123.1" cy="28.0" r="0.7"/><circle cx="105.1" cy="82.6" r="0.4"/><circle cx="103.7" cy="66.1" r="0.4"/><circle cx="102.6" cy="18.9" r="0.6"/><circle cx="55.9" cy="82.9" r="0.7"/><circle cx="118.8" cy="16.5" r="0.6"/><circle cx="112.9" cy="56.3" r="0.8"/><circle cx="53.0" cy="66.2" r="0.6"/><circle cx="155.2" cy="17.9" r="0.5"/><circle cx="81.4" cy="33.3" r="0.5"/><circle cx="112.0" cy="150.9" r="0.4"/><circle cx="70.4" cy="66.5" r="0.7"/><circle cx="79.5" cy="82.1" r="0.6"/><circle cx="61.2" cy="152.0" r="0.5"/><circle cx="117.5" cy="21.1" r="0.4"/><circle cx="77.0" cy="85.4" r="0.8"/><circle cx="50.8" cy="64.3" r="0.6"/><circle cx="92.4" cy="86.8" r="0.6"/><circle cx="146.5" cy="131.4" r="0.5"/><circle cx="111.7" cy="167.9" r="0.7"/><circle cx="99.1" cy="102.3" r="0.7"/><circle cx="82.2" cy="58.3" r="0.7"/><circle cx="56.3" cy="136.7" r="0.7"/><circle cx="71.4" cy="156.3" r="0.4"/><circle cx="53.0" cy="114.3" r="0.6"/><circle cx="96.9" cy="29.2" r="0.5"/><circle cx="97.2" cy="83.8" r="0.5"/><circle cx="102.4" cy="134.6" r="0.6"/><circle cx="100.0" cy="134.2" r="0.4"/><circle cx="151.5" cy="17.8" r="0.8"/><circle cx="62.6" cy="80.9" r="0.6"/><circle cx="80.4" cy="139.0" r="0.6"/><circle cx="52.8" cy="138.8" r="0.7"/><circle cx="90.7" cy="170.1" r="0.4"/><circle cx="84.2" cy="16.1" r="0.7"/><circle cx="128.1" cy="74.0" r="0.5"/><circle cx="105.5" cy="25.6" r="0.7"/><circle cx="120.6" cy="49.8" r="0.8"/><circle cx="136.1" cy="44.1" r="0.6"/><circle cx="134.3" cy="154.6" r="0.5"/><circle cx="55.6" cy="126.2" r="0.5"/><circle cx="135.6" cy="22.8" r="0.5"/><circle cx="90.8" cy="32.8" r="0.6"/><circle cx="124.9" cy="26.5" r="0.6"/><circle cx="122.8" cy="60.1" r="0.7"/><circle cx="57.1" cy="19.2" r="0.5"/><circle cx="136.8" cy="94.2" r="0.8"/><circle cx="50.3" cy="121.7" r="0.5"/><circle cx="56.4" cy="152.1" r="0.5"/><circle cx="105.5" cy="14.9" r="0.8"/><circle cx="70.2" cy="75.5" r="0.7"/><circle cx="147.9" cy="16.3" r="0.5"/><circle cx="101.5" cy="153.2" r="0.5"/><circle cx="130.7" cy="12.5" r="0.6"/><circle cx="119.4" cy="139.4" r="0.8"/><circle cx="73.0" cy="150.1" r="0.4"/><circle cx="98.3" cy="143.9" r="0.6"/><circle cx="69.4" cy="39.8" r="0.5"/><circle cx="92.8" cy="31.5" r="0.6"/><circle cx="81.5" cy="78.6" r="0.5"/><circle cx="77.9" cy="17.6" r="0.5"/><circle cx="119.7" cy="41.8" r="0.5"/><circle cx="90.5" cy="160.1" r="0.6"/><circle cx="51.0" cy="26.2" r="0.6"/><circle cx="88.3" cy="72.7" r="0.5"/><circle cx="98.4" cy="108.9" r="0.7"/><circle cx="72.8" cy="123.7" r="0.7"/><circle cx="82.7" cy="153.6" r="0.6"/><circle cx="87.1" cy="60.8" r="0.6"/><circle cx="141.2" cy="38.2" r="0.7"/><circle cx="56.3" cy="12.6" r="0.5"/><circle cx="145.0" cy="47.0" r="0.8"/><circle cx="96.8" cy="135.7" r="0.7"/><circle cx="69.0" cy="33.7" r="0.5"/><circle cx="120.8" cy="127.9" r="0.5"/><circle cx="96.1" cy="60.4" r="0.4"/><circle cx="87.1" cy="27.6" r="0.7"/><circle cx="101.3" cy="22.1" r="0.7"/><circle cx="50.1" cy="29.7" r="0.5"/><circle cx="124.5" cy="60.9" r="0.7"/><circle cx="72.1" cy="144.9" r="0.6"/><circle cx="62.8" cy="141.5" r="0.7"/><circle cx="56.8" cy="148.4" r="0.6"/><circle cx="102.8" cy="81.2" r="0.6"/><circle cx="90.2" cy="13.3" r="0.6"/><circle cx="108.7" cy="167.0" r="0.5"/><circle cx="82.3" cy="154.5" r="0.6"/><circle cx="162.0" cy="40.9" r="0.5"/><circle cx="115.2" cy="155.9" r="0.4"/><circle cx="145.2" cy="46.5" r="0.5"/><circle cx="60.9" cy="18.9" r="0.6"/><circle cx="57.7" cy="56.7" r="0.4"/><circle cx="157.3" cy="64.1" r="0.6"/><circle cx="80.0" cy="107.3" r="0.5"/><circle cx="72.9" cy="59.3" r="0.7"/><circle cx="54.2" cy="165.9" r="0.7"/><circle cx="75.8" cy="17.4" r="0.6"/><circle cx="110.2" cy="46.0" r="0.5"/><circle cx="85.1" cy="69.0" r="0.6"/><circle cx="62.1" cy="66.8" r="0.5"/><circle cx="84.8" cy="166.1" r="0.5"/><circle cx="122.5" cy="40.8" r="0.6"/><circle cx="84.8" cy="42.0" r="0.5"/><circle cx="100.6" cy="140.3" r="0.4"/><circle cx="109.1" cy="71.8" r="0.7"/><circle cx="117.9" cy="40.8" r="0.7"/><circle cx="107.1" cy="147.1" r="0.4"/><circle cx="94.9" cy="31.8" r="0.6"/><circle cx="60.8" cy="13.2" r="0.6"/><circle cx="88.3" cy="40.7" r="0.4"/><circle cx="142.7" cy="55.4" r="0.6"/><circle cx="75.0" cy="19.0" r="0.8"/><circle cx="90.0" cy="132.8" r="0.6"/><circle cx="111.0" cy="23.6" r="0.6"/><circle cx="163.0" cy="149.6" r="0.5"/><circle cx="108.1" cy="144.6" r="0.8"/><circle cx="51.2" cy="70.8" r="0.6"/><circle cx="115.8" cy="166.6" r="0.5"/><circle cx="140.4" cy="13.8" r="0.7"/><circle cx="79.0" cy="40.8" r="0.8"/><circle cx="116.1" cy="159.3" r="0.6"/><circle cx="87.2" cy="106.3" r="0.5"/><circle cx="97.7" cy="143.6" r="0.6"/><circle cx="65.4" cy="83.9" r="0.8"/><circle cx="82.4" cy="152.3" r="0.6"/><circle cx="75.3" cy="107.6" r="0.5"/><circle cx="151.6" cy="71.9" r="0.4"/><circle cx="119.3" cy="79.5" r="0.4"/><circle cx="79.5" cy="51.6" r="0.6"/><circle cx="74.4" cy="63.4" r="0.4"/><circle cx="107.9" cy="12.0" r="0.7"/><circle cx="93.5" cy="25.2" r="0.6"/><circle cx="92.7" cy="99.0" r="0.5"/><circle cx="80.6" cy="17.1" r="0.5"/><circle cx="71.6" cy="126.3" r="0.5"/><circle cx="145.4" cy="100.0" r="0.7"/><circle cx="83.1" cy="26.3" r="0.5"/><circle cx="159.0" cy="164.6" r="0.7"/><circle cx="164.3" cy="157.9" r="0.5"/><circle cx="78.8" cy="41.1" r="0.6"/><circle cx="134.8" cy="21.7" r="0.5"/><circle cx="70.0" cy="126.7" r="0.6"/><circle cx="142.0" cy="35.9" r="0.7"/><circle cx="85.4" cy="133.0" r="0.6"/><circle cx="77.2" cy="21.9" r="0.6"/><circle cx="140.1" cy="24.5" r="0.4"/><circle cx="141.9" cy="53.2" r="0.4"/><circle cx="82.7" cy="110.2" r="0.5"/><circle cx="56.8" cy="16.6" r="0.5"/><circle cx="77.9" cy="86.1" r="0.6"/><circle cx="134.5" cy="117.3" r="0.5"/><circle cx="71.3" cy="155.0" r="0.5"/><circle cx="84.1" cy="167.9" r="0.5"/><circle cx="50.9" cy="142.7" r="0.5"/><circle cx="88.1" cy="31.0" r="0.7"/><circle cx="60.8" cy="32.0" r="0.4"/><circle cx="96.2" cy="75.5" r="0.6"/><circle cx="142.2" cy="167.7" r="0.7"/><circle cx="161.8" cy="130.0" r="0.6"/><circle cx="81.9" cy="159.4" r="0.5"/><circle cx="83.6" cy="25.0" r="0.8"/><circle cx="66.3" cy="153.0" r="0.8"/><circle cx="72.0" cy="127.7" r="0.5"/><circle cx="161.3" cy="49.0" r="0.5"/><circle cx="51.8" cy="75.3" r="0.6"/><circle cx="87.4" cy="131.4" r="0.5"/><circle cx="50.4" cy="73.7" r="0.7"/><circle cx="119.8" cy="47.3" r="0.6"/><circle cx="75.2" cy="47.7" r="0.8"/><circle cx="80.4" cy="149.4" r="0.8"/><circle cx="89.2" cy="15.1" r="0.6"/><circle cx="63.4" cy="146.6" r="0.6"/><circle cx="101.0" cy="18.1" r="0.5"/><circle cx="68.3" cy="15.5" r="0.7"/><circle cx="100.5" cy="17.7" r="0.4"/><circle cx="103.6" cy="142.1" r="0.5"/><circle cx="137.8" cy="30.9" r="0.7"/><circle cx="159.6" cy="82.8" r="0.7"/><circle cx="107.0" cy="79.5" r="0.7"/><circle cx="133.0" cy="17.6" r="0.6"/><circle cx="160.3" cy="31.2" r="0.6"/><circle cx="89.4" cy="18.9" r="0.6"/><circle cx="73.5" cy="166.5" r="0.6"/><circle cx="111.4" cy="26.4" r="0.5"/><circle cx="149.7" cy="32.4" r="0.6"/><circle cx="64.1" cy="70.8" r="0.7"/><circle cx="53.7" cy="83.2" r="0.6"/></g><rect x="218" y="12" width="1" height="169" fill="#2a2950" opacity="0.6"/></g></svg><rect x="50" y="12" width="169" height="1.3" fill="#23223f" opacity="0.6"/><circle cx="201" cy="85.3" r="6.2" fill="#2b9ad8"/></g>
<!-- PLOT B -->
<g id="pb"><svg x="0" y="0" width="680" height="270" overflow="visible"><clipPath id="cb"><rect x="279" y="12" width="169" height="169"/></clipPath><g clip-path="url(#cb)"><rect x="279" y="12" width="169" height="169" fill="#29592a"/><path d="M279.0,12.0L398.0,12.0C398.0,17.0 398.0,32.8 398.0,42.0C398.0,51.2 398.0,61.7 398.0,67.0C398.0,72.3 399.2,71.8 398.0,74.0C396.8,76.2 394.2,78.8 391.0,80.0C387.8,81.2 383.5,81.0 379.0,81.0C374.5,81.0 368.2,81.2 364.0,80.0C359.8,78.8 358.2,76.7 354.0,74.0C349.8,71.3 344.8,66.0 339.0,64.0C333.2,62.0 326.5,62.7 319.0,62.0C311.5,61.3 300.7,60.5 294.0,60.0C287.3,59.5 281.5,59.2 279.0,59.0L279.0,12.0Z" fill="#204b23" /><path d="M341.0,32.0C342.2,30.8 346.7,29.7 349.0,30.0C351.3,30.3 355.0,32.7 355.0,34.0C355.0,35.3 351.2,37.5 349.0,38.0C346.8,38.5 343.3,38.0 342.0,37.0C340.7,36.0 339.8,33.2 341.0,32.0Z" fill="#2f6531" /><path d="M279.0,165.0C281.6,163.5 289.5,159.2 294.7,156.0C299.9,152.8 305.1,148.8 310.4,146.0C315.6,143.2 320.9,141.3 326.2,139.0C331.4,136.7 337.8,133.8 341.9,132.0C346.0,130.2 347.8,129.7 351.0,128.0C354.2,126.3 357.7,124.3 361.0,122.0C364.3,119.7 368.0,116.3 371.0,114.0C374.0,111.7 377.0,110.3 379.0,108.0C381.0,105.7 382.8,102.2 383.0,100.0C383.2,97.8 381.5,96.7 380.0,95.0C378.5,93.3 376.7,91.8 374.0,90.0C371.3,88.2 363.5,85.8 364.0,84.5C364.5,83.2 372.8,83.1 377.0,82.5C381.2,81.9 385.5,82.2 389.0,81.0C392.5,79.8 396.3,78.2 398.0,75.0C399.7,71.8 398.8,67.5 399.0,62.0C399.2,56.5 398.5,46.5 399.0,42.0C399.5,37.5 400.2,36.5 402.0,35.0C403.8,33.5 402.3,33.3 410.0,33.0C417.7,32.7 441.7,33.0 448.0,33.0L448.0,181.0L279.0,181.0L279.0,165.0Z" fill="#357538" /><path d="M279.0,178.2C280.3,177.8 283.5,177.4 286.6,175.7C289.8,174.0 293.9,171.1 297.9,168.2C301.9,165.2 305.7,161.2 310.5,158.0C315.3,154.8 321.1,151.6 326.9,149.0C332.7,146.4 339.4,145.1 345.2,142.3C351.0,139.5 356.8,134.9 361.6,132.0C366.4,129.1 370.3,127.5 374.0,125.0C377.7,122.5 381.5,120.8 384.0,117.0C386.5,113.2 387.1,105.8 389.0,102.0C390.9,98.2 392.7,96.5 395.5,94.2C398.3,91.9 402.5,90.1 405.6,88.0C408.8,85.9 411.2,83.2 414.4,81.6C417.5,80.0 418.9,78.9 424.5,78.5C430.1,78.1 444.1,78.9 448.0,79.0L448.0,181.0L279.0,181.0L279.0,178.2Z" fill="#408a45" /><path d="M329.4,181.0C332.7,178.3 342.2,170.6 349.0,165.0C355.8,159.4 365.1,151.8 370.4,147.4C375.6,143.0 376.7,141.3 380.5,138.6C384.3,135.9 390.1,133.1 393.0,131.0C395.9,128.9 395.5,128.1 398.0,126.0C400.5,123.9 404.7,120.7 408.0,118.4C411.3,116.1 414.4,113.7 418.0,112.0C421.6,110.3 425.5,108.7 429.5,108.3C433.5,107.9 438.9,108.8 442.0,109.6C445.1,110.4 447.0,112.8 448.0,113.4L448.0,181.0L329.4,181.0Z" fill="#50a055" stroke="#3f8443" stroke-width="0.6"/><path d="M367.0,181.0C369.2,178.3 375.5,169.3 380.0,165.0C384.5,160.7 390.0,158.2 394.2,155.0C398.4,151.8 401.6,148.8 405.0,146.0C408.4,143.2 410.7,140.1 414.3,138.0C417.9,135.9 423.3,133.7 426.9,133.2C430.5,132.7 433.1,133.9 435.8,135.1C438.5,136.2 440.9,138.3 442.9,140.1C444.9,141.9 447.1,145.0 448.0,146.0L448.0,181.0L367.0,181.0Z" fill="#60b064" stroke="#4a8f4d" stroke-width="0.6"/><path d="M392.2,181.0C393.0,178.7 395.2,170.7 397.2,167.2C399.2,163.7 402.2,162.0 404.4,160.1C406.6,158.2 407.4,157.4 410.4,156.0C413.4,154.6 418.5,152.0 422.6,151.8C426.7,151.6 432.3,152.8 434.8,155.0C437.3,157.2 437.0,160.8 437.8,165.1C438.6,169.4 439.5,178.3 439.9,181.0L392.2,181.0Z" fill="#72bd74" stroke="#5a9f5c" stroke-width="0.6"/><path d="M405.4,181.0C406.1,179.4 407.7,173.5 409.4,171.2C411.1,168.9 413.3,167.9 415.5,167.2C417.7,166.4 420.6,166.2 422.6,166.7C424.6,167.2 426.4,167.8 427.7,170.2C429.0,172.6 430.2,179.2 430.7,181.0L405.4,181.0Z" fill="#86c985" stroke="#6aab6b" stroke-width="0.6"/><g fill="#2f6532" opacity="0.85" filter="url(#bl)"><circle cx="311.1" cy="52.9" r="0.8"/><circle cx="332.3" cy="50.8" r="0.5"/><circle cx="324.6" cy="26.7" r="1.2"/><circle cx="322.2" cy="13.9" r="1.0"/><circle cx="355.5" cy="24.6" r="1.1"/><circle cx="359.3" cy="42.2" r="0.8"/><circle cx="368.5" cy="39.0" r="0.9"/><circle cx="310.9" cy="23.9" r="0.5"/><circle cx="303.8" cy="43.2" r="1.1"/><circle cx="347.5" cy="45.0" r="0.9"/><circle cx="346.9" cy="20.5" r="0.8"/><circle cx="320.4" cy="19.2" r="1.0"/><circle cx="356.0" cy="46.4" r="0.9"/><circle cx="359.9" cy="47.6" r="1.0"/><circle cx="390.9" cy="25.8" r="1.0"/><circle cx="297.4" cy="43.2" r="0.7"/><circle cx="390.1" cy="52.2" r="0.8"/><circle cx="381.4" cy="38.6" r="0.7"/><circle cx="317.3" cy="38.5" r="0.8"/><circle cx="312.4" cy="26.1" r="0.9"/><circle cx="379.3" cy="23.8" r="0.8"/><circle cx="358.9" cy="46.9" r="1.1"/><circle cx="312.2" cy="42.6" r="1.0"/><circle cx="303.9" cy="46.6" r="1.0"/><circle cx="315.5" cy="18.9" r="0.9"/><circle cx="321.8" cy="16.0" r="1.1"/><circle cx="365.8" cy="33.3" r="0.5"/><circle cx="392.1" cy="51.0" r="0.5"/><circle cx="299.0" cy="19.2" r="1.0"/><circle cx="361.5" cy="32.3" r="0.5"/><circle cx="340.8" cy="55.9" r="0.5"/><circle cx="283.5" cy="40.5" r="0.6"/><circle cx="365.9" cy="13.8" r="1.2"/><circle cx="309.0" cy="29.9" r="0.7"/><circle cx="351.8" cy="14.6" r="0.7"/><circle cx="396.4" cy="42.5" r="1.0"/><circle cx="357.8" cy="33.8" r="1.2"/><circle cx="348.9" cy="13.8" r="1.1"/><circle cx="368.8" cy="16.8" r="0.7"/><circle cx="288.0" cy="27.7" r="0.7"/><circle cx="371.6" cy="31.1" r="0.7"/><circle cx="337.5" cy="39.7" r="0.9"/><circle cx="396.9" cy="51.5" r="1.0"/><circle cx="376.2" cy="55.4" r="1.1"/><circle cx="291.1" cy="43.2" r="0.5"/><circle cx="330.9" cy="42.9" r="0.9"/><circle cx="316.7" cy="25.0" r="1.0"/><circle cx="287.8" cy="39.5" r="1.0"/><circle cx="314.8" cy="15.3" r="1.1"/><circle cx="309.9" cy="14.6" r="0.5"/><circle cx="336.9" cy="45.2" r="1.1"/><circle cx="377.2" cy="52.8" r="0.5"/><circle cx="359.0" cy="14.8" r="0.8"/><circle cx="339.8" cy="54.1" r="0.7"/><circle cx="302.7" cy="46.1" r="0.6"/><circle cx="393.0" cy="23.1" r="0.7"/><circle cx="368.7" cy="20.2" r="1.2"/><circle cx="374.5" cy="52.4" r="1.0"/><circle cx="304.0" cy="39.4" r="0.5"/><circle cx="327.4" cy="44.3" r="0.6"/><circle cx="387.2" cy="40.4" r="0.9"/><circle cx="279.2" cy="12.2" r="0.7"/><circle cx="383.2" cy="39.4" r="0.8"/><circle cx="387.4" cy="16.3" r="0.5"/><circle cx="294.6" cy="36.5" r="0.6"/><circle cx="393.2" cy="30.0" r="0.6"/><circle cx="343.5" cy="41.8" r="0.5"/><circle cx="324.6" cy="20.7" r="0.7"/><circle cx="282.3" cy="27.3" r="1.0"/><circle cx="395.7" cy="28.4" r="0.8"/><circle cx="377.3" cy="24.8" r="1.2"/><circle cx="289.5" cy="39.6" r="0.9"/><circle cx="318.4" cy="49.4" r="0.5"/><circle cx="369.0" cy="29.4" r="0.9"/><circle cx="396.4" cy="49.8" r="0.8"/><circle cx="314.3" cy="12.7" r="0.6"/><circle cx="289.6" cy="32.3" r="0.8"/><circle cx="331.5" cy="31.2" r="0.9"/><circle cx="372.4" cy="51.9" r="0.8"/><circle cx="344.0" cy="26.7" r="0.9"/><circle cx="281.1" cy="21.0" r="0.8"/><circle cx="365.1" cy="42.0" r="1.0"/><circle cx="296.4" cy="17.9" r="0.9"/><circle cx="385.4" cy="32.0" r="0.6"/><circle cx="310.2" cy="23.5" r="0.9"/><circle cx="351.5" cy="52.5" r="1.0"/><circle cx="302.8" cy="55.4" r="0.9"/><circle cx="321.8" cy="32.0" r="0.9"/><circle cx="294.6" cy="20.5" r="0.7"/><circle cx="393.7" cy="19.1" r="0.6"/><circle cx="345.3" cy="12.3" r="0.5"/><circle cx="356.7" cy="40.0" r="0.6"/><circle cx="280.7" cy="41.1" r="1.2"/><circle cx="353.1" cy="48.5" r="0.8"/><circle cx="355.2" cy="20.5" r="0.9"/><circle cx="300.7" cy="41.9" r="1.0"/><circle cx="307.9" cy="36.2" r="0.8"/><circle cx="354.9" cy="41.2" r="0.9"/><circle cx="319.3" cy="26.3" r="0.9"/><circle cx="331.2" cy="23.4" r="0.5"/><circle cx="291.1" cy="47.9" r="1.1"/><circle cx="296.0" cy="41.3" r="0.9"/><circle cx="333.5" cy="37.1" r="1.0"/><circle cx="319.3" cy="56.6" r="1.1"/><circle cx="281.9" cy="16.6" r="0.8"/><circle cx="353.3" cy="49.3" r="1.2"/><circle cx="382.5" cy="18.4" r="1.2"/><circle cx="342.0" cy="53.1" r="0.9"/><circle cx="351.7" cy="38.6" r="1.0"/><circle cx="383.9" cy="51.2" r="0.6"/><circle cx="336.9" cy="27.3" r="0.7"/><circle cx="298.5" cy="32.4" r="0.8"/><circle cx="315.9" cy="25.1" r="1.2"/><circle cx="388.5" cy="40.2" r="0.7"/><circle cx="387.1" cy="31.1" r="0.8"/><circle cx="354.2" cy="56.5" r="0.8"/><circle cx="359.0" cy="48.9" r="1.1"/><circle cx="285.6" cy="48.3" r="0.8"/><circle cx="339.1" cy="14.7" r="1.0"/><circle cx="384.6" cy="50.0" r="0.8"/><circle cx="327.8" cy="43.8" r="1.2"/><circle cx="348.8" cy="23.6" r="1.2"/><circle cx="289.2" cy="18.4" r="0.6"/><circle cx="305.1" cy="41.9" r="1.0"/><circle cx="389.6" cy="54.1" r="0.6"/><circle cx="394.7" cy="29.8" r="0.8"/><circle cx="352.8" cy="16.2" r="1.0"/><circle cx="297.8" cy="46.7" r="1.2"/><circle cx="329.7" cy="39.4" r="1.0"/><circle cx="338.6" cy="50.8" r="1.1"/><circle cx="354.2" cy="47.3" r="0.6"/><circle cx="304.5" cy="52.4" r="0.7"/><circle cx="371.0" cy="55.6" r="0.6"/><circle cx="300.7" cy="22.3" r="1.0"/><circle cx="312.3" cy="43.7" r="0.9"/><circle cx="316.2" cy="36.9" r="0.7"/><circle cx="299.2" cy="55.3" r="0.6"/><circle cx="279.1" cy="32.4" r="0.9"/><circle cx="360.9" cy="56.8" r="0.9"/><circle cx="299.9" cy="37.0" r="1.0"/><circle cx="363.3" cy="17.0" r="0.7"/><circle cx="372.2" cy="48.1" r="0.7"/><circle cx="337.6" cy="52.6" r="0.9"/><circle cx="294.2" cy="20.8" r="1.0"/><circle cx="379.2" cy="28.1" r="1.0"/><circle cx="338.5" cy="13.0" r="0.7"/><circle cx="322.2" cy="14.6" r="1.1"/><circle cx="301.2" cy="12.7" r="0.8"/><circle cx="319.5" cy="51.8" r="0.7"/><circle cx="345.2" cy="49.4" r="0.8"/><circle cx="341.1" cy="12.2" r="1.2"/><circle cx="289.2" cy="24.5" r="0.9"/><circle cx="380.6" cy="56.2" r="0.9"/><circle cx="280.7" cy="32.0" r="1.2"/><circle cx="371.7" cy="38.7" r="0.6"/><circle cx="366.1" cy="37.6" r="1.1"/><circle cx="384.8" cy="45.0" r="1.1"/><circle cx="323.4" cy="38.5" r="0.6"/><circle cx="293.5" cy="45.0" r="1.1"/><circle cx="314.5" cy="22.4" r="0.9"/><circle cx="366.5" cy="46.8" r="0.8"/><circle cx="314.0" cy="51.5" r="1.0"/><circle cx="389.5" cy="40.1" r="1.1"/><circle cx="361.1" cy="52.8" r="1.0"/><circle cx="354.3" cy="31.7" r="0.7"/><circle cx="299.1" cy="48.7" r="0.5"/><circle cx="360.1" cy="26.6" r="0.7"/><circle cx="344.3" cy="54.9" r="0.8"/><circle cx="331.4" cy="30.6" r="1.2"/><circle cx="340.0" cy="44.7" r="1.1"/><circle cx="320.7" cy="37.2" r="0.9"/><circle cx="313.6" cy="26.5" r="1.1"/><circle cx="339.2" cy="26.4" r="0.8"/><circle cx="323.8" cy="47.7" r="1.0"/><circle cx="320.4" cy="21.9" r="1.1"/><circle cx="365.4" cy="27.5" r="0.9"/><circle cx="326.2" cy="32.3" r="0.9"/><circle cx="343.0" cy="53.0" r="0.6"/><circle cx="336.2" cy="51.1" r="0.7"/><circle cx="315.7" cy="18.5" r="0.8"/><circle cx="391.3" cy="24.9" r="1.0"/><circle cx="338.9" cy="25.2" r="0.9"/><circle cx="387.0" cy="35.5" r="0.7"/><circle cx="387.0" cy="33.0" r="0.7"/><circle cx="341.3" cy="31.2" r="0.8"/><circle cx="380.8" cy="21.6" r="1.0"/><circle cx="353.4" cy="27.5" r="1.1"/><circle cx="391.1" cy="22.1" r="0.6"/><circle cx="308.7" cy="54.8" r="0.9"/><circle cx="348.7" cy="15.2" r="0.7"/><circle cx="360.7" cy="12.9" r="0.5"/><circle cx="337.2" cy="54.4" r="0.5"/><circle cx="310.2" cy="21.8" r="1.1"/><circle cx="308.1" cy="49.8" r="1.1"/><circle cx="388.6" cy="25.4" r="0.7"/><circle cx="359.5" cy="24.4" r="1.2"/><circle cx="297.0" cy="46.8" r="0.7"/><circle cx="302.1" cy="17.1" r="0.6"/><circle cx="315.8" cy="28.1" r="0.6"/><circle cx="296.3" cy="50.4" r="0.8"/><circle cx="357.9" cy="37.6" r="0.6"/><circle cx="302.3" cy="53.4" r="1.0"/><circle cx="343.7" cy="45.3" r="1.0"/><circle cx="309.0" cy="34.3" r="0.5"/><circle cx="354.5" cy="21.4" r="1.1"/><circle cx="381.3" cy="49.9" r="0.6"/><circle cx="300.3" cy="56.2" r="0.6"/><circle cx="355.6" cy="33.5" r="1.1"/><circle cx="289.3" cy="24.9" r="0.6"/><circle cx="349.4" cy="36.6" r="0.9"/><circle cx="282.8" cy="13.2" r="0.9"/><circle cx="279.4" cy="12.8" r="1.2"/><circle cx="349.9" cy="56.8" r="0.8"/><circle cx="323.9" cy="22.2" r="0.6"/><circle cx="282.1" cy="53.4" r="0.9"/><circle cx="287.9" cy="29.2" r="0.6"/><circle cx="280.9" cy="30.4" r="0.8"/><circle cx="369.6" cy="24.7" r="1.0"/><circle cx="301.0" cy="17.4" r="0.8"/><circle cx="359.0" cy="35.1" r="0.5"/><circle cx="366.8" cy="20.4" r="1.1"/><circle cx="389.3" cy="35.5" r="0.8"/><circle cx="308.8" cy="22.0" r="0.5"/><circle cx="299.2" cy="56.2" r="1.0"/><circle cx="344.1" cy="17.7" r="0.5"/><circle cx="327.4" cy="49.8" r="0.9"/><circle cx="312.8" cy="16.0" r="0.9"/><circle cx="366.6" cy="28.9" r="0.6"/><circle cx="351.9" cy="48.6" r="0.6"/><circle cx="395.1" cy="41.2" r="1.1"/><circle cx="290.2" cy="35.5" r="0.9"/><circle cx="366.5" cy="51.4" r="0.8"/><circle cx="368.4" cy="55.2" r="0.6"/><circle cx="330.6" cy="17.8" r="0.8"/><circle cx="381.3" cy="28.5" r="0.7"/><circle cx="378.9" cy="19.3" r="0.6"/><circle cx="297.4" cy="50.2" r="0.7"/><circle cx="375.3" cy="28.3" r="0.8"/><circle cx="297.4" cy="55.7" r="0.8"/><circle cx="320.4" cy="12.6" r="0.7"/><circle cx="349.8" cy="21.5" r="1.0"/><circle cx="390.9" cy="34.5" r="0.6"/><circle cx="361.4" cy="37.2" r="0.9"/><circle cx="321.9" cy="36.6" r="0.8"/><circle cx="381.9" cy="46.4" r="1.0"/><circle cx="284.5" cy="22.3" r="0.9"/><circle cx="383.1" cy="42.3" r="1.1"/><circle cx="384.4" cy="24.6" r="0.8"/><circle cx="334.9" cy="51.2" r="0.5"/><circle cx="387.0" cy="15.3" r="0.6"/><circle cx="342.5" cy="29.5" r="0.6"/><circle cx="332.9" cy="38.2" r="1.1"/><circle cx="320.8" cy="43.9" r="0.8"/><circle cx="381.8" cy="46.6" r="1.0"/><circle cx="318.2" cy="47.9" r="1.1"/><circle cx="285.4" cy="32.2" r="0.6"/><circle cx="366.5" cy="36.9" r="0.6"/><circle cx="282.6" cy="36.6" r="0.8"/><circle cx="361.9" cy="52.6" r="0.8"/><circle cx="355.1" cy="23.0" r="0.8"/><circle cx="334.9" cy="48.3" r="0.9"/><circle cx="340.4" cy="12.7" r="1.0"/><circle cx="367.0" cy="49.1" r="0.8"/><circle cx="349.0" cy="18.6" r="0.7"/><circle cx="328.9" cy="22.7" r="0.7"/><circle cx="383.8" cy="44.8" r="1.1"/><circle cx="307.5" cy="42.1" r="0.8"/><circle cx="384.4" cy="13.4" r="1.2"/><circle cx="323.9" cy="38.1" r="0.5"/><circle cx="339.2" cy="45.0" r="1.2"/><circle cx="288.4" cy="25.6" r="0.8"/><circle cx="296.1" cy="38.2" r="1.1"/><circle cx="284.0" cy="53.4" r="0.7"/><circle cx="366.6" cy="37.5" r="0.9"/><circle cx="317.1" cy="41.6" r="0.9"/><circle cx="323.9" cy="12.0" r="1.2"/><circle cx="337.2" cy="12.0" r="0.5"/><circle cx="348.5" cy="35.5" r="0.6"/><circle cx="327.4" cy="18.7" r="0.5"/><circle cx="352.1" cy="32.5" r="1.0"/><circle cx="289.1" cy="27.0" r="1.1"/><circle cx="375.1" cy="34.4" r="1.0"/><circle cx="308.4" cy="48.4" r="0.5"/><circle cx="353.3" cy="25.4" r="1.0"/><circle cx="321.2" cy="23.6" r="1.0"/><circle cx="385.3" cy="30.6" r="1.0"/><circle cx="357.7" cy="20.4" r="1.0"/><circle cx="381.6" cy="14.6" r="1.0"/><circle cx="296.3" cy="13.4" r="0.8"/><circle cx="286.3" cy="22.6" r="0.7"/><circle cx="302.7" cy="13.1" r="0.6"/><circle cx="332.6" cy="45.2" r="0.9"/><circle cx="392.7" cy="42.0" r="1.1"/><circle cx="353.3" cy="37.6" r="0.7"/><circle cx="360.8" cy="30.3" r="1.0"/><circle cx="318.3" cy="21.1" r="0.7"/><circle cx="391.3" cy="31.1" r="0.9"/><circle cx="368.0" cy="38.8" r="0.9"/><circle cx="383.4" cy="12.7" r="0.5"/><circle cx="320.6" cy="43.0" r="0.9"/><circle cx="346.7" cy="26.0" r="1.2"/><circle cx="339.8" cy="49.0" r="0.8"/><circle cx="314.7" cy="29.4" r="1.2"/><circle cx="396.9" cy="20.0" r="1.0"/><circle cx="326.0" cy="51.3" r="0.5"/><circle cx="351.3" cy="44.7" r="0.8"/><circle cx="337.0" cy="54.4" r="0.6"/><circle cx="283.6" cy="33.8" r="1.0"/><circle cx="307.0" cy="41.6" r="1.1"/><circle cx="321.9" cy="26.7" r="0.8"/><circle cx="314.1" cy="16.7" r="1.0"/><circle cx="386.2" cy="23.3" r="1.1"/><circle cx="360.9" cy="13.4" r="0.8"/><circle cx="284.0" cy="22.8" r="0.8"/><circle cx="352.0" cy="43.3" r="0.9"/><circle cx="285.3" cy="35.1" r="0.5"/><circle cx="321.8" cy="51.8" r="1.2"/><circle cx="313.1" cy="12.2" r="0.9"/><circle cx="279.3" cy="35.8" r="1.0"/><circle cx="388.8" cy="14.8" r="0.8"/><circle cx="330.4" cy="48.8" r="0.8"/><circle cx="333.7" cy="39.6" r="0.7"/><circle cx="367.6" cy="16.2" r="0.6"/><circle cx="300.9" cy="20.9" r="1.1"/><circle cx="309.4" cy="55.2" r="0.6"/><circle cx="377.2" cy="45.9" r="0.6"/><circle cx="332.5" cy="17.4" r="0.9"/><circle cx="342.5" cy="50.8" r="0.8"/><circle cx="371.5" cy="12.2" r="0.8"/><circle cx="367.7" cy="16.6" r="0.5"/><circle cx="314.5" cy="19.9" r="1.0"/><circle cx="301.2" cy="32.9" r="1.0"/><circle cx="357.0" cy="27.5" r="1.1"/><circle cx="334.4" cy="53.1" r="1.0"/><circle cx="367.2" cy="36.8" r="0.6"/><circle cx="378.0" cy="21.1" r="1.1"/><circle cx="358.2" cy="47.6" r="1.1"/><circle cx="358.2" cy="27.4" r="0.8"/><circle cx="344.8" cy="51.6" r="1.1"/><circle cx="330.1" cy="56.9" r="0.9"/><circle cx="394.4" cy="39.9" r="1.0"/><circle cx="288.6" cy="37.9" r="0.7"/><circle cx="354.8" cy="27.0" r="0.7"/><circle cx="378.6" cy="28.0" r="0.8"/><circle cx="332.6" cy="16.4" r="0.6"/><circle cx="383.4" cy="43.1" r="0.8"/><circle cx="376.0" cy="50.4" r="0.9"/><circle cx="312.6" cy="52.8" r="1.1"/><circle cx="328.2" cy="27.3" r="1.1"/><circle cx="313.4" cy="55.3" r="0.8"/><circle cx="384.0" cy="52.0" r="0.5"/><circle cx="371.1" cy="24.5" r="1.1"/><circle cx="311.2" cy="29.5" r="0.7"/><circle cx="380.0" cy="20.9" r="0.7"/><circle cx="392.0" cy="35.6" r="1.1"/><circle cx="321.7" cy="15.1" r="1.0"/><circle cx="306.5" cy="55.6" r="1.0"/><circle cx="328.9" cy="28.7" r="0.9"/><circle cx="305.9" cy="26.4" r="0.8"/><circle cx="373.8" cy="31.0" r="1.0"/><circle cx="385.6" cy="46.1" r="0.7"/><circle cx="394.5" cy="47.3" r="0.9"/><circle cx="382.5" cy="42.8" r="0.5"/><circle cx="302.3" cy="38.0" r="0.5"/><circle cx="312.1" cy="15.1" r="0.8"/><circle cx="382.4" cy="16.4" r="0.9"/><circle cx="375.2" cy="31.9" r="0.7"/><circle cx="324.4" cy="48.5" r="1.1"/><circle cx="311.0" cy="39.9" r="1.1"/><circle cx="347.5" cy="28.0" r="1.2"/><circle cx="359.6" cy="19.9" r="0.6"/><circle cx="383.1" cy="35.0" r="1.0"/><circle cx="311.9" cy="55.2" r="0.9"/><circle cx="314.4" cy="42.3" r="0.8"/><circle cx="310.2" cy="12.0" r="0.6"/><circle cx="285.3" cy="34.0" r="0.9"/><circle cx="343.5" cy="40.0" r="1.1"/><circle cx="290.2" cy="23.9" r="0.9"/><circle cx="292.5" cy="25.6" r="1.1"/><circle cx="287.9" cy="14.0" r="0.6"/><circle cx="307.0" cy="15.5" r="0.6"/><circle cx="372.9" cy="45.7" r="1.0"/><circle cx="346.8" cy="54.1" r="0.6"/><circle cx="377.1" cy="21.9" r="0.5"/><circle cx="287.4" cy="31.1" r="0.9"/><circle cx="288.9" cy="51.6" r="1.2"/><circle cx="311.0" cy="51.1" r="0.8"/><circle cx="294.7" cy="29.8" r="1.2"/><circle cx="384.6" cy="45.1" r="1.0"/><circle cx="292.7" cy="16.2" r="0.8"/><circle cx="367.7" cy="49.8" r="0.7"/><circle cx="309.3" cy="52.6" r="0.7"/><circle cx="358.3" cy="53.1" r="0.8"/><circle cx="369.7" cy="20.1" r="1.0"/><circle cx="321.5" cy="20.4" r="0.9"/><circle cx="384.2" cy="55.3" r="1.1"/><circle cx="351.6" cy="41.5" r="0.5"/><circle cx="306.6" cy="49.1" r="1.0"/><circle cx="385.3" cy="38.9" r="0.9"/><circle cx="335.4" cy="52.4" r="0.8"/><circle cx="358.6" cy="18.6" r="1.1"/><circle cx="349.5" cy="27.2" r="1.0"/><circle cx="349.6" cy="25.0" r="0.9"/><circle cx="312.1" cy="43.8" r="0.7"/><circle cx="365.0" cy="12.1" r="0.7"/><circle cx="360.7" cy="50.8" r="0.6"/><circle cx="314.6" cy="26.2" r="0.7"/><circle cx="292.0" cy="32.5" r="0.6"/><circle cx="337.7" cy="17.0" r="1.1"/><circle cx="372.0" cy="35.1" r="1.2"/><circle cx="280.5" cy="56.6" r="1.0"/><circle cx="339.8" cy="32.9" r="0.6"/><circle cx="336.0" cy="47.5" r="0.8"/><circle cx="324.0" cy="13.7" r="0.8"/><circle cx="320.3" cy="36.5" r="1.2"/><circle cx="365.0" cy="15.9" r="0.9"/><circle cx="393.6" cy="21.3" r="0.9"/><circle cx="282.1" cy="51.2" r="0.8"/><circle cx="298.8" cy="23.6" r="0.7"/><circle cx="343.4" cy="39.5" r="0.6"/><circle cx="328.3" cy="46.1" r="0.8"/><circle cx="317.8" cy="17.0" r="0.6"/><circle cx="354.1" cy="54.0" r="1.0"/><circle cx="331.9" cy="39.3" r="1.0"/><circle cx="375.6" cy="39.0" r="1.0"/><circle cx="341.2" cy="54.7" r="0.7"/><circle cx="332.3" cy="38.3" r="0.9"/><circle cx="304.7" cy="52.8" r="0.8"/><circle cx="390.7" cy="52.1" r="1.1"/><circle cx="388.7" cy="30.1" r="0.6"/><circle cx="385.4" cy="55.0" r="1.1"/><circle cx="300.0" cy="25.7" r="0.8"/><circle cx="285.5" cy="45.9" r="1.0"/><circle cx="362.0" cy="22.1" r="0.8"/><circle cx="323.6" cy="28.5" r="0.6"/><circle cx="335.4" cy="48.8" r="1.0"/><circle cx="362.0" cy="15.2" r="1.1"/><circle cx="389.1" cy="17.2" r="1.1"/><circle cx="373.6" cy="23.7" r="1.1"/><circle cx="331.4" cy="24.4" r="0.9"/><circle cx="303.1" cy="52.6" r="1.1"/><circle cx="326.5" cy="42.7" r="0.6"/><circle cx="306.3" cy="25.0" r="0.9"/><circle cx="299.5" cy="36.4" r="0.8"/><circle cx="309.4" cy="15.9" r="0.6"/><circle cx="345.3" cy="38.8" r="0.7"/><circle cx="305.8" cy="54.6" r="0.5"/><circle cx="281.4" cy="22.0" r="0.5"/><circle cx="343.9" cy="34.1" r="0.8"/><circle cx="364.2" cy="16.1" r="1.0"/><circle cx="333.2" cy="42.9" r="0.5"/><circle cx="358.1" cy="15.3" r="0.7"/><circle cx="331.3" cy="12.1" r="0.9"/><circle cx="288.3" cy="25.3" r="0.7"/><circle cx="362.0" cy="38.1" r="0.8"/><circle cx="389.9" cy="20.9" r="1.1"/><circle cx="312.6" cy="32.1" r="0.9"/><circle cx="279.9" cy="37.2" r="1.0"/><circle cx="323.5" cy="12.5" r="1.1"/><circle cx="335.3" cy="52.2" r="0.6"/><circle cx="370.3" cy="15.2" r="0.8"/><circle cx="329.5" cy="45.9" r="0.7"/><circle cx="284.0" cy="31.5" r="0.9"/><circle cx="375.4" cy="32.6" r="1.1"/><circle cx="384.2" cy="55.9" r="1.1"/><circle cx="331.8" cy="33.5" r="0.8"/><circle cx="325.6" cy="49.1" r="1.1"/><circle cx="279.7" cy="39.0" r="0.6"/><circle cx="334.7" cy="12.5" r="0.6"/><circle cx="334.5" cy="13.8" r="1.2"/><circle cx="348.0" cy="53.5" r="0.9"/><circle cx="308.8" cy="50.6" r="1.1"/><circle cx="283.4" cy="51.7" r="0.6"/><circle cx="346.9" cy="51.1" r="1.2"/><circle cx="386.7" cy="24.0" r="0.9"/><circle cx="357.7" cy="22.1" r="0.6"/><circle cx="322.7" cy="46.9" r="0.7"/><circle cx="393.9" cy="32.4" r="0.8"/><circle cx="353.9" cy="31.4" r="0.5"/><circle cx="361.1" cy="40.5" r="0.8"/><circle cx="324.3" cy="25.9" r="0.8"/><circle cx="391.6" cy="20.5" r="0.5"/><circle cx="367.5" cy="41.3" r="0.8"/><circle cx="281.0" cy="38.5" r="0.6"/><circle cx="300.8" cy="43.6" r="1.0"/><circle cx="339.8" cy="19.0" r="0.7"/><circle cx="396.0" cy="45.7" r="0.9"/><circle cx="290.6" cy="42.0" r="0.9"/><circle cx="388.6" cy="47.8" r="0.8"/><circle cx="348.2" cy="46.6" r="0.7"/><circle cx="297.6" cy="23.4" r="0.9"/><circle cx="322.3" cy="46.6" r="0.7"/><circle cx="333.2" cy="20.7" r="0.8"/><circle cx="312.8" cy="21.7" r="1.0"/><circle cx="351.2" cy="42.6" r="1.0"/><circle cx="348.5" cy="46.3" r="0.7"/><circle cx="364.9" cy="54.7" r="0.9"/><circle cx="293.6" cy="13.2" r="0.8"/><circle cx="333.6" cy="23.6" r="1.0"/><circle cx="358.0" cy="25.3" r="0.6"/></g><g fill="#1d4620" opacity="0.85" filter="url(#bl)"><circle cx="347.8" cy="76.2" r="0.8"/><circle cx="283.2" cy="64.1" r="0.6"/><circle cx="387.8" cy="85.7" r="0.8"/><circle cx="339.1" cy="64.4" r="0.6"/><circle cx="350.3" cy="82.1" r="1.1"/><circle cx="347.5" cy="69.8" r="1.1"/><circle cx="325.6" cy="70.6" r="0.9"/><circle cx="321.7" cy="66.7" r="1.0"/><circle cx="291.3" cy="63.7" r="0.8"/><circle cx="387.6" cy="82.8" r="0.7"/><circle cx="294.1" cy="63.8" r="0.6"/><circle cx="291.0" cy="62.8" r="1.0"/><circle cx="370.0" cy="87.4" r="1.2"/><circle cx="381.0" cy="85.5" r="0.9"/><circle cx="338.0" cy="68.6" r="1.1"/><circle cx="352.4" cy="80.4" r="1.0"/><circle cx="362.3" cy="87.0" r="1.0"/><circle cx="387.9" cy="81.9" r="0.6"/><circle cx="334.0" cy="63.9" r="0.8"/><circle cx="388.7" cy="85.6" r="0.7"/><circle cx="350.3" cy="80.3" r="1.0"/><circle cx="284.2" cy="61.5" r="1.1"/><circle cx="365.8" cy="86.2" r="1.1"/><circle cx="281.5" cy="60.2" r="0.8"/><circle cx="374.1" cy="82.8" r="0.6"/><circle cx="308.9" cy="62.8" r="1.1"/><circle cx="287.2" cy="61.2" r="1.0"/><circle cx="332.1" cy="70.5" r="0.8"/><circle cx="374.8" cy="87.8" r="1.0"/><circle cx="354.5" cy="83.7" r="1.2"/><circle cx="319.4" cy="65.8" r="1.2"/><circle cx="293.6" cy="66.5" r="0.6"/><circle cx="301.1" cy="62.6" r="0.8"/><circle cx="303.9" cy="66.7" r="0.9"/><circle cx="336.4" cy="65.6" r="0.7"/><circle cx="343.3" cy="74.7" r="0.7"/><circle cx="329.9" cy="68.3" r="1.0"/><circle cx="318.6" cy="66.3" r="0.8"/><circle cx="349.4" cy="81.7" r="0.9"/><circle cx="310.2" cy="65.9" r="0.8"/><circle cx="384.4" cy="85.6" r="0.8"/><circle cx="309.9" cy="65.8" r="0.6"/><circle cx="343.9" cy="77.6" r="0.8"/><circle cx="355.3" cy="75.5" r="0.9"/><circle cx="394.5" cy="79.9" r="0.7"/><circle cx="358.9" cy="85.7" r="0.5"/><circle cx="383.2" cy="89.1" r="0.8"/><circle cx="333.8" cy="69.8" r="1.2"/><circle cx="294.9" cy="65.2" r="0.7"/><circle cx="395.9" cy="85.6" r="1.0"/><circle cx="333.7" cy="65.6" r="0.6"/><circle cx="348.2" cy="75.0" r="0.6"/><circle cx="309.4" cy="63.4" r="0.8"/><circle cx="394.8" cy="85.6" r="1.0"/><circle cx="291.7" cy="61.7" r="0.9"/><circle cx="296.4" cy="66.8" r="0.9"/><circle cx="356.0" cy="83.6" r="0.7"/><circle cx="384.8" cy="83.9" r="0.8"/><circle cx="358.2" cy="85.4" r="1.0"/><circle cx="352.5" cy="82.0" r="1.0"/><circle cx="346.2" cy="71.9" r="0.8"/><circle cx="315.4" cy="70.4" r="0.8"/><circle cx="346.5" cy="72.7" r="1.1"/><circle cx="348.2" cy="77.8" r="1.0"/><circle cx="279.1" cy="63.2" r="0.7"/><circle cx="343.4" cy="77.0" r="0.7"/><circle cx="329.1" cy="71.3" r="1.0"/><circle cx="321.0" cy="69.6" r="0.6"/><circle cx="342.7" cy="72.2" r="0.8"/><circle cx="305.4" cy="68.2" r="0.8"/><circle cx="393.8" cy="85.6" r="1.1"/><circle cx="363.2" cy="88.4" r="0.9"/><circle cx="285.2" cy="61.3" r="0.8"/><circle cx="292.3" cy="61.3" r="1.0"/><circle cx="348.5" cy="72.1" r="1.1"/><circle cx="342.7" cy="67.3" r="1.0"/><circle cx="308.9" cy="68.4" r="0.8"/><circle cx="294.4" cy="61.2" r="0.6"/><circle cx="304.2" cy="68.1" r="1.1"/><circle cx="336.2" cy="65.8" r="0.8"/><circle cx="331.6" cy="67.3" r="0.6"/><circle cx="361.2" cy="83.4" r="0.6"/><circle cx="286.9" cy="68.0" r="1.2"/><circle cx="357.1" cy="83.0" r="1.1"/><circle cx="377.9" cy="88.7" r="0.5"/><circle cx="311.7" cy="66.9" r="0.8"/><circle cx="300.5" cy="65.7" r="1.0"/><circle cx="330.8" cy="65.5" r="0.6"/><circle cx="387.4" cy="82.2" r="0.6"/><circle cx="322.5" cy="70.4" r="0.8"/><circle cx="357.0" cy="85.9" r="1.2"/><circle cx="322.9" cy="68.6" r="0.9"/><circle cx="357.5" cy="85.9" r="1.2"/><circle cx="363.6" cy="87.2" r="0.8"/><circle cx="358.9" cy="77.8" r="1.0"/><circle cx="287.0" cy="65.3" r="0.6"/><circle cx="338.2" cy="66.1" r="0.8"/><circle cx="385.0" cy="83.0" r="0.9"/><circle cx="287.4" cy="62.5" r="0.7"/><circle cx="342.8" cy="75.1" r="0.9"/><circle cx="332.6" cy="66.3" r="0.8"/><circle cx="336.3" cy="68.7" r="0.8"/><circle cx="315.0" cy="65.0" r="1.1"/><circle cx="330.9" cy="70.6" r="1.1"/><circle cx="363.7" cy="85.4" r="0.8"/><circle cx="285.9" cy="68.3" r="0.6"/><circle cx="300.9" cy="61.5" r="0.9"/><circle cx="317.2" cy="69.5" r="1.2"/><circle cx="316.8" cy="64.8" r="0.7"/><circle cx="304.7" cy="63.9" r="0.7"/><circle cx="380.6" cy="83.4" r="0.9"/><circle cx="339.5" cy="69.1" r="0.7"/><circle cx="307.2" cy="62.5" r="1.1"/><circle cx="357.2" cy="78.8" r="0.7"/><circle cx="372.7" cy="82.6" r="1.1"/><circle cx="370.2" cy="81.0" r="0.7"/><circle cx="380.5" cy="85.6" r="0.8"/><circle cx="358.2" cy="80.1" r="0.6"/><circle cx="343.5" cy="67.4" r="0.6"/><circle cx="304.4" cy="67.6" r="0.7"/><circle cx="288.6" cy="63.5" r="0.9"/><circle cx="352.9" cy="79.5" r="0.9"/><circle cx="350.4" cy="73.9" r="0.8"/><circle cx="290.7" cy="63.6" r="0.5"/><circle cx="382.5" cy="85.0" r="0.8"/><circle cx="373.1" cy="83.2" r="0.6"/><circle cx="382.4" cy="88.0" r="1.1"/><circle cx="341.8" cy="72.0" r="1.1"/><circle cx="353.7" cy="75.6" r="0.6"/><circle cx="365.9" cy="81.9" r="0.5"/><circle cx="340.6" cy="66.5" r="0.7"/><circle cx="369.4" cy="87.4" r="0.8"/><circle cx="316.6" cy="62.4" r="0.9"/><circle cx="346.6" cy="79.3" r="0.7"/><circle cx="396.5" cy="82.5" r="0.9"/><circle cx="316.5" cy="65.6" r="1.0"/><circle cx="290.3" cy="60.9" r="0.8"/><circle cx="362.6" cy="87.3" r="0.8"/><circle cx="371.1" cy="81.2" r="1.1"/><circle cx="347.9" cy="74.4" r="0.8"/><circle cx="349.2" cy="79.8" r="1.1"/><circle cx="282.4" cy="63.3" r="0.8"/><circle cx="360.3" cy="81.4" r="1.0"/><circle cx="393.0" cy="78.5" r="1.1"/><circle cx="374.3" cy="84.3" r="0.9"/><circle cx="316.0" cy="63.4" r="0.6"/><circle cx="377.4" cy="85.3" r="1.0"/><circle cx="336.4" cy="66.6" r="0.8"/><circle cx="388.2" cy="84.9" r="0.8"/><circle cx="367.6" cy="88.9" r="0.5"/><circle cx="388.4" cy="80.3" r="0.9"/><circle cx="311.0" cy="65.3" r="0.7"/><circle cx="381.1" cy="87.5" r="0.7"/><circle cx="329.6" cy="64.0" r="0.6"/><circle cx="328.2" cy="70.7" r="0.8"/><circle cx="379.5" cy="88.4" r="1.2"/><circle cx="316.7" cy="63.2" r="0.7"/><circle cx="356.6" cy="78.4" r="0.8"/><circle cx="366.9" cy="82.5" r="0.9"/><circle cx="357.0" cy="83.3" r="0.6"/><circle cx="348.3" cy="80.4" r="0.7"/><circle cx="346.6" cy="70.8" r="0.6"/><circle cx="356.1" cy="85.0" r="1.1"/><circle cx="336.6" cy="68.0" r="0.9"/><circle cx="365.3" cy="83.7" r="0.8"/><circle cx="345.9" cy="74.9" r="0.5"/><circle cx="356.0" cy="83.3" r="1.2"/><circle cx="353.2" cy="78.4" r="1.0"/><circle cx="285.7" cy="64.3" r="0.6"/><circle cx="381.9" cy="81.4" r="0.6"/><circle cx="345.1" cy="68.2" r="0.9"/><circle cx="389.7" cy="81.1" r="1.1"/><circle cx="363.7" cy="83.7" r="0.8"/><circle cx="320.3" cy="69.2" r="0.7"/><circle cx="339.2" cy="73.8" r="0.6"/><circle cx="388.3" cy="84.9" r="0.8"/><circle cx="316.0" cy="70.4" r="0.5"/><circle cx="382.9" cy="82.1" r="1.2"/><circle cx="372.9" cy="88.2" r="0.9"/><circle cx="292.5" cy="67.7" r="0.8"/><circle cx="293.4" cy="60.7" r="0.6"/><circle cx="367.2" cy="88.3" r="0.8"/><circle cx="388.9" cy="80.2" r="0.7"/><circle cx="364.5" cy="84.1" r="0.9"/><circle cx="314.8" cy="68.3" r="0.8"/><circle cx="394.2" cy="84.4" r="1.2"/><circle cx="323.5" cy="65.6" r="1.1"/><circle cx="365.5" cy="88.4" r="0.9"/><circle cx="307.5" cy="64.5" r="1.2"/><circle cx="395.3" cy="78.8" r="0.6"/><circle cx="321.1" cy="69.0" r="0.7"/><circle cx="288.8" cy="65.9" r="0.6"/><circle cx="377.3" cy="86.8" r="1.0"/><circle cx="283.3" cy="67.4" r="0.6"/><circle cx="281.9" cy="67.6" r="0.9"/><circle cx="372.0" cy="82.2" r="0.5"/><circle cx="348.6" cy="70.6" r="0.8"/><circle cx="335.0" cy="69.4" r="0.9"/><circle cx="355.4" cy="81.8" r="0.8"/><circle cx="311.6" cy="63.0" r="1.1"/><circle cx="339.6" cy="69.5" r="0.7"/><circle cx="314.2" cy="61.8" r="0.5"/><circle cx="283.2" cy="67.4" r="0.8"/><circle cx="311.4" cy="69.5" r="0.9"/><circle cx="355.0" cy="76.8" r="1.2"/><circle cx="380.9" cy="87.2" r="0.5"/><circle cx="375.7" cy="86.2" r="0.7"/><circle cx="297.1" cy="61.0" r="0.7"/><circle cx="323.6" cy="63.4" r="0.9"/><circle cx="325.7" cy="70.1" r="0.9"/><circle cx="329.1" cy="70.6" r="1.2"/><circle cx="321.9" cy="65.0" r="1.1"/><circle cx="379.9" cy="89.2" r="1.2"/><circle cx="286.2" cy="68.3" r="0.8"/><circle cx="282.6" cy="61.0" r="1.2"/><circle cx="315.8" cy="64.2" r="0.8"/><circle cx="332.1" cy="67.7" r="1.0"/><circle cx="318.5" cy="70.5" r="1.0"/><circle cx="338.5" cy="71.3" r="0.5"/><circle cx="299.0" cy="67.6" r="1.1"/><circle cx="341.2" cy="67.7" r="1.0"/><circle cx="292.6" cy="61.7" r="0.9"/><circle cx="294.2" cy="61.2" r="0.9"/><circle cx="300.9" cy="62.6" r="1.0"/><circle cx="339.4" cy="72.2" r="0.7"/><circle cx="296.5" cy="64.3" r="0.7"/><circle cx="340.4" cy="69.6" r="0.7"/><circle cx="317.5" cy="70.5" r="0.7"/><circle cx="291.9" cy="65.3" r="0.7"/><circle cx="354.0" cy="75.5" r="1.1"/><circle cx="373.2" cy="88.8" r="1.0"/><circle cx="325.7" cy="64.7" r="0.9"/><circle cx="288.5" cy="62.2" r="1.0"/><circle cx="349.0" cy="72.2" r="1.1"/><circle cx="292.7" cy="60.3" r="0.8"/><circle cx="343.7" cy="70.8" r="0.6"/><circle cx="349.5" cy="80.7" r="0.8"/><circle cx="325.4" cy="63.5" r="0.9"/><circle cx="338.7" cy="65.7" r="1.0"/><circle cx="385.1" cy="88.1" r="0.9"/><circle cx="346.5" cy="75.2" r="0.6"/><circle cx="330.6" cy="71.7" r="1.2"/><circle cx="387.5" cy="85.2" r="1.0"/><circle cx="374.0" cy="88.9" r="1.0"/><circle cx="295.0" cy="62.1" r="1.0"/><circle cx="311.4" cy="67.2" r="0.9"/><circle cx="328.3" cy="68.1" r="1.0"/><circle cx="365.3" cy="88.7" r="1.0"/><circle cx="286.0" cy="64.0" r="1.1"/><circle cx="341.8" cy="71.8" r="0.8"/></g><g fill="#33703a" opacity="0.8" filter="url(#bl)"><circle cx="388.6" cy="76.2" r="0.9"/><circle cx="390.9" cy="80.9" r="0.6"/><circle cx="379.8" cy="85.1" r="1.1"/><circle cx="364.7" cy="77.9" r="1.0"/><circle cx="297.3" cy="57.9" r="1.2"/><circle cx="302.8" cy="55.0" r="0.7"/><circle cx="298.2" cy="55.9" r="0.8"/><circle cx="338.7" cy="66.7" r="0.6"/><circle cx="287.9" cy="62.0" r="0.6"/><circle cx="344.9" cy="75.0" r="0.8"/><circle cx="338.3" cy="54.0" r="0.8"/><circle cx="295.8" cy="58.2" r="0.7"/><circle cx="306.8" cy="59.3" r="0.8"/><circle cx="279.7" cy="57.2" r="1.2"/><circle cx="295.8" cy="65.5" r="0.7"/><circle cx="305.6" cy="54.4" r="0.7"/><circle cx="342.5" cy="72.5" r="0.6"/><circle cx="357.7" cy="77.9" r="1.1"/><circle cx="301.8" cy="56.0" r="0.9"/><circle cx="376.9" cy="76.6" r="0.8"/><circle cx="287.5" cy="64.1" r="0.8"/><circle cx="349.2" cy="71.9" r="0.8"/><circle cx="342.3" cy="56.2" r="1.0"/><circle cx="292.7" cy="56.4" r="0.6"/><circle cx="385.9" cy="75.9" r="0.7"/><circle cx="364.5" cy="71.6" r="1.1"/><circle cx="382.9" cy="77.9" r="0.9"/><circle cx="360.4" cy="72.2" r="0.6"/><circle cx="337.9" cy="68.0" r="1.0"/><circle cx="307.6" cy="52.5" r="0.9"/><circle cx="319.3" cy="58.7" r="1.1"/><circle cx="288.6" cy="63.8" r="1.0"/><circle cx="302.3" cy="56.6" r="1.0"/><circle cx="310.6" cy="51.5" r="0.8"/><circle cx="347.9" cy="66.3" r="1.1"/><circle cx="341.3" cy="61.4" r="1.0"/><circle cx="367.4" cy="78.3" r="0.5"/><circle cx="374.7" cy="71.6" r="1.0"/><circle cx="390.7" cy="75.1" r="0.6"/><circle cx="287.3" cy="51.3" r="0.6"/><circle cx="370.4" cy="81.2" r="0.8"/><circle cx="325.3" cy="61.0" r="1.0"/><circle cx="331.9" cy="69.2" r="1.1"/><circle cx="313.8" cy="60.0" r="0.6"/><circle cx="375.1" cy="84.0" r="0.6"/><circle cx="368.6" cy="70.3" r="0.6"/><circle cx="306.6" cy="62.8" r="1.1"/><circle cx="392.3" cy="75.3" r="0.5"/><circle cx="311.8" cy="65.3" r="0.7"/><circle cx="373.7" cy="82.9" r="1.1"/><circle cx="331.0" cy="58.9" r="1.0"/><circle cx="343.9" cy="73.9" r="0.7"/><circle cx="390.0" cy="71.3" r="0.6"/><circle cx="376.0" cy="81.1" r="1.2"/><circle cx="319.9" cy="64.1" r="0.9"/><circle cx="319.1" cy="52.8" r="0.6"/><circle cx="333.3" cy="62.7" r="0.6"/><circle cx="350.6" cy="70.2" r="0.6"/><circle cx="358.8" cy="69.1" r="1.1"/><circle cx="286.3" cy="63.0" r="1.0"/><circle cx="373.6" cy="71.6" r="1.2"/><circle cx="305.4" cy="66.5" r="0.6"/><circle cx="357.5" cy="81.9" r="0.5"/><circle cx="346.4" cy="72.0" r="0.6"/><circle cx="396.2" cy="76.5" r="1.0"/><circle cx="344.1" cy="58.2" r="0.6"/><circle cx="361.5" cy="82.2" r="1.0"/><circle cx="285.2" cy="57.3" r="1.0"/><circle cx="345.8" cy="60.5" r="0.9"/><circle cx="393.2" cy="70.7" r="0.6"/><circle cx="308.1" cy="59.9" r="0.7"/><circle cx="395.3" cy="67.4" r="0.7"/><circle cx="376.6" cy="80.0" r="1.2"/><circle cx="325.2" cy="56.0" r="0.6"/><circle cx="315.9" cy="57.1" r="1.1"/><circle cx="391.4" cy="75.1" r="0.7"/><circle cx="281.1" cy="50.9" r="1.0"/><circle cx="381.5" cy="84.1" r="1.0"/><circle cx="382.8" cy="79.2" r="0.6"/><circle cx="292.1" cy="54.1" r="1.1"/><circle cx="280.3" cy="56.7" r="0.7"/><circle cx="336.9" cy="56.6" r="0.7"/><circle cx="336.0" cy="64.3" r="0.6"/><circle cx="329.4" cy="56.4" r="1.0"/><circle cx="318.3" cy="54.0" r="0.9"/><circle cx="305.6" cy="56.3" r="0.7"/><circle cx="365.6" cy="81.9" r="1.0"/><circle cx="392.0" cy="79.7" r="1.0"/><circle cx="378.7" cy="73.3" r="1.0"/><circle cx="282.0" cy="53.1" r="1.1"/><circle cx="341.6" cy="66.0" r="1.1"/><circle cx="389.2" cy="84.6" r="1.1"/><circle cx="356.1" cy="72.1" r="0.5"/><circle cx="356.0" cy="64.3" r="0.6"/><circle cx="350.3" cy="74.3" r="0.8"/><circle cx="325.3" cy="58.1" r="0.6"/><circle cx="297.1" cy="61.9" r="1.0"/><circle cx="313.4" cy="60.0" r="1.0"/><circle cx="292.1" cy="64.2" r="1.0"/><circle cx="361.6" cy="84.4" r="0.9"/><circle cx="340.8" cy="63.4" r="0.8"/><circle cx="387.7" cy="85.1" r="0.7"/><circle cx="290.1" cy="52.4" r="0.7"/><circle cx="321.1" cy="67.5" r="0.7"/><circle cx="355.2" cy="68.6" r="1.0"/><circle cx="380.9" cy="78.1" r="0.8"/><circle cx="307.8" cy="52.4" r="0.9"/><circle cx="302.4" cy="59.2" r="0.9"/><circle cx="351.6" cy="77.8" r="1.0"/><circle cx="366.2" cy="83.2" r="0.9"/><circle cx="311.7" cy="63.7" r="0.6"/><circle cx="384.7" cy="71.0" r="0.9"/><circle cx="389.8" cy="74.1" r="0.7"/><circle cx="379.8" cy="75.3" r="0.5"/><circle cx="296.9" cy="58.6" r="1.0"/><circle cx="366.3" cy="72.6" r="0.6"/><circle cx="316.3" cy="61.5" r="0.6"/><circle cx="307.5" cy="57.5" r="0.7"/><circle cx="372.0" cy="71.0" r="0.7"/><circle cx="351.6" cy="64.0" r="0.8"/><circle cx="369.9" cy="79.0" r="1.0"/><circle cx="324.1" cy="62.8" r="0.6"/><circle cx="289.5" cy="62.3" r="0.5"/><circle cx="364.9" cy="69.4" r="1.0"/><circle cx="316.3" cy="61.7" r="0.5"/><circle cx="313.6" cy="67.5" r="1.0"/><circle cx="390.7" cy="71.1" r="0.9"/><circle cx="305.0" cy="53.8" r="1.1"/><circle cx="365.0" cy="80.0" r="0.6"/><circle cx="388.9" cy="84.1" r="0.6"/><circle cx="304.8" cy="57.6" r="0.6"/><circle cx="282.2" cy="60.5" r="1.0"/><circle cx="315.0" cy="60.1" r="0.7"/><circle cx="360.5" cy="78.2" r="0.8"/><circle cx="331.8" cy="64.6" r="0.5"/><circle cx="360.1" cy="68.7" r="0.5"/><circle cx="284.5" cy="60.4" r="0.9"/><circle cx="379.0" cy="86.6" r="0.6"/><circle cx="294.6" cy="54.4" r="1.0"/><circle cx="314.9" cy="63.7" r="1.2"/><circle cx="338.1" cy="63.2" r="0.5"/><circle cx="319.8" cy="52.1" r="0.5"/><circle cx="360.3" cy="83.6" r="0.6"/><circle cx="342.6" cy="60.5" r="0.6"/><circle cx="310.1" cy="64.9" r="1.1"/><circle cx="309.6" cy="57.9" r="0.5"/><circle cx="320.9" cy="52.2" r="0.6"/><circle cx="369.8" cy="73.6" r="0.8"/><circle cx="369.1" cy="75.0" r="1.0"/><circle cx="340.9" cy="64.2" r="0.7"/><circle cx="357.8" cy="75.0" r="0.6"/><circle cx="338.0" cy="66.6" r="1.1"/><circle cx="279.4" cy="59.2" r="0.8"/><circle cx="364.1" cy="76.9" r="0.6"/><circle cx="347.0" cy="70.8" r="1.1"/><circle cx="337.6" cy="60.8" r="1.0"/><circle cx="341.4" cy="58.9" r="0.6"/><circle cx="311.8" cy="51.8" r="0.6"/><circle cx="279.9" cy="58.9" r="0.8"/><circle cx="285.4" cy="63.0" r="0.9"/><circle cx="365.4" cy="78.0" r="0.9"/><circle cx="284.8" cy="54.6" r="1.1"/><circle cx="291.7" cy="56.5" r="0.8"/><circle cx="340.7" cy="60.7" r="1.2"/><circle cx="387.4" cy="78.6" r="0.8"/><circle cx="363.1" cy="72.9" r="1.1"/><circle cx="334.3" cy="65.7" r="0.9"/><circle cx="316.7" cy="53.9" r="1.1"/><circle cx="375.2" cy="73.9" r="0.5"/><circle cx="336.8" cy="69.8" r="1.0"/><circle cx="295.3" cy="60.1" r="1.1"/><circle cx="389.3" cy="76.1" r="0.7"/><circle cx="335.3" cy="64.1" r="0.9"/><circle cx="330.4" cy="53.5" r="0.8"/><circle cx="352.9" cy="66.8" r="0.5"/><circle cx="323.9" cy="61.1" r="0.5"/><circle cx="393.9" cy="75.0" r="1.0"/><circle cx="351.6" cy="77.5" r="0.5"/><circle cx="394.2" cy="81.4" r="0.8"/><circle cx="294.6" cy="54.5" r="0.6"/><circle cx="317.3" cy="52.8" r="0.8"/><circle cx="388.3" cy="72.9" r="0.8"/><circle cx="304.5" cy="62.7" r="0.9"/><circle cx="328.4" cy="60.4" r="0.6"/><circle cx="284.7" cy="59.5" r="0.7"/><circle cx="287.7" cy="62.7" r="1.2"/><circle cx="279.9" cy="56.3" r="0.6"/><circle cx="310.0" cy="63.6" r="0.5"/><circle cx="352.9" cy="69.4" r="0.7"/><circle cx="342.6" cy="69.3" r="0.7"/><circle cx="350.0" cy="71.6" r="0.9"/><circle cx="388.2" cy="80.7" r="0.6"/><circle cx="294.2" cy="58.3" r="1.0"/><circle cx="282.0" cy="55.4" r="1.2"/><circle cx="362.2" cy="78.1" r="0.7"/><circle cx="307.6" cy="59.8" r="0.6"/><circle cx="299.6" cy="51.3" r="0.9"/><circle cx="286.4" cy="62.3" r="1.1"/><circle cx="289.0" cy="64.0" r="0.7"/><circle cx="320.8" cy="57.0" r="0.8"/><circle cx="368.8" cy="73.8" r="0.6"/><circle cx="369.0" cy="84.8" r="0.6"/><circle cx="388.6" cy="73.1" r="1.0"/><circle cx="355.3" cy="63.5" r="0.7"/><circle cx="386.0" cy="72.1" r="1.0"/><circle cx="280.8" cy="60.2" r="1.1"/><circle cx="346.9" cy="70.3" r="1.1"/><circle cx="334.5" cy="66.3" r="0.8"/><circle cx="285.2" cy="49.9" r="0.8"/><circle cx="294.3" cy="61.9" r="0.6"/><circle cx="323.0" cy="56.0" r="1.1"/><circle cx="305.4" cy="61.9" r="1.0"/><circle cx="301.2" cy="63.9" r="0.8"/><circle cx="351.4" cy="67.7" r="0.8"/><circle cx="323.8" cy="54.5" r="0.7"/><circle cx="366.1" cy="84.4" r="1.1"/><circle cx="394.4" cy="83.5" r="0.5"/><circle cx="393.9" cy="70.9" r="0.5"/><circle cx="340.2" cy="68.2" r="1.2"/><circle cx="355.1" cy="72.1" r="1.1"/><circle cx="362.8" cy="73.8" r="0.9"/><circle cx="341.3" cy="55.1" r="0.9"/><circle cx="320.4" cy="52.5" r="1.0"/><circle cx="326.6" cy="57.0" r="0.5"/><circle cx="358.4" cy="78.8" r="0.8"/><circle cx="394.8" cy="73.4" r="0.5"/><circle cx="341.1" cy="64.3" r="1.0"/><circle cx="341.5" cy="57.5" r="1.0"/><circle cx="368.2" cy="86.2" r="1.0"/><circle cx="307.1" cy="61.7" r="0.9"/><circle cx="371.2" cy="84.2" r="0.8"/><circle cx="291.4" cy="51.5" r="0.6"/><circle cx="383.6" cy="75.5" r="1.0"/><circle cx="309.6" cy="66.1" r="1.0"/><circle cx="390.1" cy="74.6" r="0.7"/><circle cx="315.6" cy="56.6" r="1.2"/><circle cx="355.4" cy="66.5" r="0.9"/><circle cx="316.6" cy="53.9" r="0.9"/><circle cx="393.0" cy="78.3" r="0.6"/><circle cx="309.8" cy="54.8" r="0.8"/><circle cx="338.6" cy="61.4" r="0.6"/><circle cx="292.5" cy="62.8" r="0.9"/><circle cx="392.5" cy="77.8" r="0.6"/><circle cx="347.0" cy="58.7" r="0.8"/><circle cx="323.2" cy="62.4" r="1.2"/><circle cx="279.6" cy="60.6" r="1.1"/><circle cx="376.0" cy="73.8" r="0.9"/><circle cx="345.3" cy="66.5" r="0.7"/><circle cx="316.5" cy="64.8" r="0.6"/><circle cx="283.0" cy="50.7" r="0.5"/><circle cx="353.1" cy="72.7" r="0.9"/><circle cx="289.8" cy="51.0" r="0.6"/><circle cx="303.2" cy="51.1" r="0.9"/><circle cx="295.7" cy="61.0" r="0.9"/><circle cx="294.1" cy="60.0" r="1.0"/><circle cx="307.1" cy="56.1" r="1.0"/><circle cx="356.7" cy="71.2" r="0.7"/><circle cx="338.4" cy="54.5" r="0.6"/><circle cx="296.9" cy="51.4" r="0.7"/><circle cx="312.9" cy="56.6" r="1.1"/><circle cx="391.0" cy="74.3" r="1.0"/><circle cx="310.9" cy="54.5" r="1.1"/><circle cx="336.3" cy="61.3" r="0.9"/><circle cx="366.1" cy="79.4" r="1.1"/><circle cx="337.2" cy="61.2" r="1.2"/><circle cx="376.9" cy="71.9" r="0.8"/><circle cx="312.4" cy="62.9" r="0.9"/><circle cx="288.3" cy="60.0" r="1.0"/><circle cx="287.7" cy="61.2" r="0.9"/><circle cx="352.8" cy="66.9" r="0.6"/><circle cx="369.2" cy="71.2" r="0.9"/><circle cx="375.1" cy="75.6" r="1.1"/><circle cx="300.7" cy="65.0" r="0.5"/><circle cx="376.7" cy="75.7" r="1.1"/><circle cx="391.3" cy="68.2" r="0.6"/><circle cx="311.6" cy="63.3" r="1.2"/><circle cx="330.4" cy="63.5" r="0.6"/><circle cx="320.1" cy="60.6" r="1.0"/><circle cx="358.0" cy="68.3" r="0.6"/><circle cx="300.1" cy="56.6" r="1.0"/><circle cx="296.1" cy="60.6" r="1.1"/><circle cx="332.1" cy="64.7" r="0.8"/><circle cx="345.2" cy="69.3" r="0.7"/><circle cx="350.6" cy="65.4" r="0.7"/><circle cx="307.4" cy="58.0" r="0.7"/><circle cx="375.7" cy="86.3" r="1.0"/><circle cx="346.1" cy="67.4" r="0.7"/><circle cx="362.4" cy="68.6" r="0.8"/><circle cx="353.8" cy="74.2" r="0.8"/><circle cx="371.3" cy="78.2" r="0.7"/><circle cx="364.7" cy="80.3" r="0.6"/><circle cx="337.7" cy="66.0" r="0.5"/><circle cx="353.9" cy="73.7" r="0.7"/><circle cx="282.8" cy="54.1" r="0.8"/><circle cx="380.9" cy="75.6" r="1.0"/><circle cx="345.5" cy="62.8" r="0.7"/><circle cx="294.6" cy="59.6" r="0.9"/><circle cx="345.6" cy="59.5" r="0.8"/><circle cx="328.6" cy="54.1" r="0.7"/><circle cx="317.3" cy="64.9" r="0.8"/><circle cx="307.2" cy="61.2" r="0.9"/><circle cx="356.4" cy="69.9" r="0.7"/><circle cx="280.1" cy="62.9" r="1.2"/><circle cx="389.7" cy="70.4" r="0.8"/><circle cx="285.5" cy="56.3" r="1.1"/><circle cx="358.6" cy="66.4" r="0.8"/><circle cx="286.6" cy="63.6" r="1.0"/><circle cx="282.4" cy="57.5" r="1.2"/><circle cx="320.0" cy="57.8" r="0.8"/><circle cx="291.7" cy="65.6" r="0.7"/><circle cx="394.0" cy="70.7" r="0.9"/><circle cx="360.6" cy="77.1" r="1.1"/><circle cx="294.8" cy="63.8" r="1.2"/><circle cx="297.4" cy="59.9" r="1.2"/><circle cx="346.6" cy="61.3" r="1.1"/><circle cx="298.1" cy="61.4" r="1.0"/><circle cx="295.5" cy="52.7" r="1.0"/><circle cx="368.1" cy="84.5" r="1.1"/><circle cx="322.3" cy="60.5" r="0.7"/><circle cx="349.6" cy="61.0" r="1.1"/><circle cx="343.3" cy="69.1" r="0.6"/><circle cx="293.2" cy="58.7" r="1.0"/><circle cx="372.7" cy="85.9" r="0.6"/><circle cx="338.4" cy="69.5" r="0.7"/><circle cx="373.6" cy="77.3" r="1.0"/><circle cx="308.6" cy="56.4" r="0.9"/><circle cx="347.4" cy="73.0" r="1.0"/><circle cx="340.0" cy="67.7" r="0.9"/><circle cx="387.9" cy="85.1" r="0.6"/><circle cx="282.4" cy="64.6" r="0.7"/><circle cx="321.5" cy="61.5" r="1.1"/><circle cx="364.8" cy="82.6" r="0.7"/><circle cx="362.9" cy="73.2" r="0.8"/><circle cx="383.8" cy="83.6" r="0.9"/><circle cx="385.4" cy="83.1" r="0.6"/><circle cx="325.4" cy="66.1" r="1.0"/><circle cx="350.5" cy="76.5" r="1.1"/><circle cx="396.4" cy="73.4" r="0.6"/><circle cx="328.9" cy="53.9" r="0.9"/><circle cx="300.6" cy="60.8" r="1.1"/><circle cx="342.1" cy="63.1" r="0.8"/><circle cx="395.8" cy="77.4" r="0.9"/><circle cx="331.3" cy="57.5" r="0.9"/><circle cx="377.0" cy="71.3" r="1.0"/><circle cx="365.6" cy="75.1" r="0.9"/><circle cx="356.4" cy="75.6" r="0.9"/><circle cx="343.3" cy="73.2" r="0.6"/><circle cx="324.1" cy="63.6" r="1.1"/><circle cx="286.5" cy="56.7" r="1.0"/><circle cx="362.5" cy="72.2" r="0.7"/></g><g fill="#1f4a22" opacity="0.9" filter="url(#bl)"><circle cx="373.0" cy="103.8" r="0.9"/><circle cx="392.1" cy="62.1" r="0.9"/><circle cx="378.4" cy="72.1" r="0.7"/><circle cx="300.9" cy="147.8" r="1.2"/><circle cx="328.1" cy="140.8" r="0.7"/><circle cx="326.4" cy="132.9" r="1.0"/><circle cx="370.5" cy="85.0" r="0.8"/><circle cx="344.5" cy="121.8" r="0.9"/><circle cx="354.5" cy="128.8" r="0.8"/><circle cx="384.2" cy="72.2" r="0.9"/><circle cx="356.4" cy="84.1" r="0.5"/><circle cx="326.4" cy="135.8" r="0.6"/><circle cx="280.0" cy="149.6" r="1.0"/><circle cx="380.4" cy="101.4" r="0.7"/><circle cx="377.1" cy="76.6" r="1.1"/><circle cx="391.7" cy="72.6" r="1.1"/><circle cx="346.9" cy="124.5" r="0.9"/><circle cx="308.2" cy="133.9" r="0.7"/><circle cx="378.1" cy="95.0" r="1.2"/><circle cx="314.9" cy="138.0" r="1.1"/><circle cx="365.5" cy="111.1" r="1.1"/><circle cx="374.0" cy="113.6" r="0.8"/><circle cx="286.9" cy="146.8" r="0.5"/><circle cx="307.3" cy="140.2" r="0.6"/><circle cx="335.6" cy="125.5" r="0.5"/><circle cx="330.8" cy="123.0" r="0.7"/><circle cx="334.9" cy="126.7" r="0.6"/><circle cx="367.1" cy="88.6" r="1.2"/><circle cx="390.0" cy="73.4" r="0.5"/><circle cx="284.0" cy="152.2" r="0.9"/><circle cx="371.9" cy="103.1" r="0.8"/><circle cx="372.5" cy="103.1" r="0.7"/><circle cx="291.9" cy="145.3" r="1.1"/><circle cx="282.8" cy="153.1" r="1.1"/><circle cx="390.5" cy="74.8" r="1.1"/><circle cx="372.2" cy="96.0" r="0.9"/><circle cx="364.4" cy="122.4" r="0.9"/><circle cx="325.0" cy="132.3" r="0.7"/><circle cx="285.5" cy="154.9" r="1.1"/><circle cx="361.3" cy="121.9" r="0.8"/><circle cx="353.2" cy="89.6" r="1.2"/><circle cx="297.7" cy="140.8" r="1.0"/><circle cx="318.5" cy="143.3" r="0.8"/><circle cx="384.0" cy="76.0" r="0.8"/><circle cx="367.9" cy="75.4" r="1.2"/><circle cx="380.9" cy="70.1" r="0.8"/><circle cx="367.8" cy="102.1" r="1.0"/><circle cx="401.6" cy="64.9" r="0.6"/><circle cx="325.8" cy="133.1" r="0.7"/><circle cx="288.5" cy="149.9" r="0.7"/><circle cx="330.1" cy="129.4" r="0.8"/><circle cx="374.0" cy="97.8" r="0.5"/><circle cx="350.3" cy="116.0" r="0.5"/><circle cx="311.4" cy="137.6" r="1.3"/><circle cx="378.5" cy="79.7" r="0.8"/><circle cx="392.6" cy="64.5" r="1.0"/><circle cx="327.4" cy="138.2" r="0.9"/><circle cx="394.8" cy="63.6" r="1.1"/><circle cx="294.0" cy="148.8" r="1.2"/><circle cx="289.1" cy="155.2" r="0.8"/><circle cx="305.7" cy="151.6" r="1.0"/><circle cx="357.8" cy="88.5" r="1.1"/><circle cx="366.9" cy="109.2" r="1.2"/><circle cx="368.3" cy="94.5" r="0.9"/><circle cx="392.8" cy="63.0" r="1.1"/><circle cx="379.4" cy="96.8" r="1.0"/><circle cx="281.2" cy="162.6" r="0.6"/><circle cx="370.1" cy="77.4" r="1.1"/><circle cx="318.1" cy="135.7" r="1.0"/><circle cx="398.8" cy="66.9" r="0.7"/><circle cx="382.0" cy="99.7" r="1.1"/><circle cx="310.5" cy="135.2" r="0.8"/><circle cx="320.8" cy="140.7" r="1.1"/><circle cx="368.6" cy="79.4" r="1.2"/><circle cx="372.0" cy="76.6" r="1.1"/><circle cx="334.5" cy="121.7" r="1.0"/><circle cx="352.9" cy="117.8" r="0.6"/><circle cx="393.9" cy="63.0" r="1.3"/><circle cx="369.4" cy="102.0" r="1.2"/><circle cx="351.0" cy="118.4" r="0.6"/><circle cx="315.9" cy="132.8" r="0.7"/><circle cx="391.3" cy="68.2" r="1.0"/><circle cx="279.6" cy="152.6" r="1.1"/><circle cx="399.3" cy="69.3" r="1.1"/><circle cx="369.8" cy="87.5" r="0.9"/><circle cx="362.6" cy="85.6" r="0.9"/><circle cx="379.9" cy="72.5" r="1.3"/><circle cx="366.1" cy="108.5" r="0.6"/><circle cx="377.9" cy="78.2" r="0.6"/><circle cx="342.2" cy="120.4" r="0.9"/><circle cx="354.3" cy="117.9" r="1.2"/><circle cx="394.2" cy="62.7" r="0.6"/><circle cx="371.4" cy="88.7" r="1.0"/><circle cx="302.9" cy="141.9" r="1.3"/><circle cx="368.9" cy="94.3" r="1.3"/><circle cx="354.8" cy="110.3" r="0.6"/><circle cx="369.4" cy="90.7" r="1.2"/><circle cx="292.4" cy="152.3" r="0.9"/><circle cx="354.9" cy="121.2" r="0.9"/><circle cx="362.6" cy="108.1" r="0.5"/><circle cx="364.0" cy="106.8" r="0.7"/><circle cx="360.5" cy="122.4" r="1.1"/><circle cx="298.4" cy="151.6" r="0.9"/><circle cx="361.3" cy="82.2" r="1.0"/><circle cx="331.0" cy="124.9" r="1.2"/><circle cx="307.9" cy="135.4" r="0.8"/><circle cx="329.6" cy="132.7" r="0.6"/><circle cx="388.2" cy="70.1" r="0.8"/><circle cx="282.6" cy="160.8" r="0.8"/><circle cx="393.8" cy="56.7" r="1.2"/><circle cx="301.7" cy="139.4" r="1.2"/><circle cx="363.0" cy="119.9" r="0.9"/><circle cx="379.9" cy="84.9" r="0.6"/><circle cx="374.7" cy="106.4" r="1.2"/><circle cx="302.3" cy="141.1" r="1.1"/><circle cx="354.3" cy="81.8" r="0.5"/><circle cx="367.7" cy="89.4" r="1.3"/><circle cx="368.5" cy="110.6" r="0.8"/><circle cx="308.7" cy="136.9" r="1.0"/><circle cx="379.4" cy="89.9" r="1.3"/><circle cx="349.5" cy="128.1" r="1.0"/><circle cx="382.2" cy="107.7" r="1.0"/><circle cx="382.6" cy="74.1" r="0.9"/><circle cx="397.0" cy="63.5" r="0.7"/><circle cx="340.7" cy="128.6" r="1.2"/><circle cx="387.4" cy="77.6" r="1.3"/><circle cx="365.0" cy="116.7" r="1.2"/><circle cx="359.7" cy="96.2" r="0.7"/><circle cx="364.9" cy="120.5" r="0.9"/><circle cx="327.4" cy="132.2" r="1.3"/><circle cx="320.3" cy="138.2" r="0.9"/><circle cx="282.7" cy="151.0" r="0.8"/><circle cx="366.7" cy="99.7" r="1.1"/><circle cx="346.6" cy="127.2" r="0.8"/><circle cx="296.5" cy="140.7" r="1.3"/><circle cx="390.0" cy="62.8" r="1.0"/><circle cx="312.3" cy="136.3" r="0.8"/><circle cx="360.5" cy="114.3" r="1.1"/><circle cx="356.9" cy="109.1" r="0.8"/><circle cx="314.0" cy="145.6" r="0.9"/><circle cx="390.4" cy="68.4" r="0.9"/><circle cx="373.0" cy="112.4" r="0.9"/><circle cx="361.6" cy="88.2" r="0.6"/><circle cx="374.2" cy="113.5" r="0.9"/><circle cx="315.1" cy="132.2" r="0.6"/><circle cx="370.8" cy="71.1" r="1.0"/><circle cx="360.1" cy="90.3" r="1.0"/><circle cx="375.9" cy="96.7" r="1.0"/><circle cx="368.5" cy="87.5" r="0.7"/><circle cx="391.3" cy="52.9" r="0.9"/><circle cx="338.6" cy="128.8" r="0.8"/><circle cx="350.5" cy="128.4" r="0.7"/><circle cx="370.5" cy="110.1" r="0.6"/><circle cx="368.6" cy="89.4" r="0.6"/><circle cx="369.6" cy="90.6" r="0.6"/><circle cx="364.3" cy="84.3" r="0.9"/><circle cx="288.3" cy="154.1" r="0.5"/><circle cx="388.0" cy="80.4" r="0.9"/><circle cx="384.0" cy="77.7" r="1.1"/><circle cx="287.5" cy="162.7" r="0.7"/><circle cx="364.7" cy="93.9" r="1.2"/><circle cx="354.3" cy="82.5" r="1.2"/><circle cx="381.0" cy="90.8" r="0.6"/><circle cx="368.6" cy="118.3" r="1.0"/><circle cx="323.5" cy="142.4" r="0.5"/><circle cx="289.7" cy="149.0" r="0.5"/><circle cx="317.3" cy="129.5" r="0.7"/><circle cx="384.0" cy="76.3" r="0.9"/><circle cx="340.6" cy="122.9" r="0.6"/><circle cx="323.3" cy="128.6" r="0.6"/><circle cx="380.8" cy="69.8" r="1.2"/><circle cx="353.5" cy="91.4" r="0.9"/><circle cx="307.7" cy="138.0" r="0.8"/><circle cx="396.4" cy="54.6" r="0.8"/><circle cx="381.2" cy="103.3" r="1.0"/><circle cx="365.3" cy="112.8" r="0.9"/><circle cx="390.6" cy="63.0" r="0.7"/><circle cx="373.5" cy="103.4" r="0.6"/><circle cx="298.3" cy="156.1" r="0.7"/><circle cx="345.6" cy="117.7" r="0.9"/><circle cx="354.7" cy="114.9" r="0.7"/><circle cx="355.0" cy="90.3" r="1.2"/><circle cx="365.9" cy="116.0" r="1.1"/><circle cx="320.5" cy="136.1" r="0.9"/><circle cx="284.1" cy="148.0" r="0.7"/><circle cx="344.0" cy="133.1" r="0.8"/><circle cx="361.9" cy="89.6" r="0.8"/><circle cx="363.3" cy="109.3" r="0.7"/><circle cx="337.2" cy="119.9" r="1.0"/><circle cx="368.0" cy="92.8" r="1.0"/><circle cx="363.0" cy="91.1" r="0.9"/><circle cx="281.5" cy="160.1" r="0.7"/><circle cx="344.7" cy="122.3" r="0.8"/><circle cx="397.9" cy="54.0" r="0.6"/><circle cx="370.8" cy="91.8" r="0.6"/><circle cx="355.2" cy="85.9" r="0.7"/><circle cx="377.9" cy="106.6" r="0.9"/><circle cx="359.3" cy="124.1" r="0.7"/><circle cx="397.9" cy="66.2" r="0.6"/><circle cx="348.8" cy="124.7" r="1.1"/><circle cx="361.9" cy="108.8" r="0.7"/><circle cx="369.0" cy="115.0" r="1.1"/><circle cx="336.0" cy="124.4" r="0.7"/><circle cx="365.4" cy="115.1" r="1.1"/><circle cx="349.0" cy="122.0" r="0.6"/><circle cx="393.3" cy="72.4" r="0.6"/><circle cx="371.9" cy="70.5" r="0.5"/><circle cx="390.6" cy="62.5" r="0.8"/><circle cx="354.2" cy="112.3" r="1.1"/><circle cx="379.6" cy="100.1" r="0.7"/><circle cx="377.0" cy="70.8" r="1.0"/><circle cx="281.6" cy="166.3" r="0.9"/><circle cx="291.4" cy="143.1" r="1.1"/><circle cx="332.7" cy="133.5" r="0.8"/><circle cx="299.4" cy="142.4" r="0.6"/><circle cx="319.2" cy="127.2" r="0.6"/><circle cx="284.4" cy="163.3" r="1.2"/><circle cx="369.3" cy="97.1" r="0.6"/><circle cx="355.1" cy="113.3" r="0.6"/><circle cx="338.4" cy="122.7" r="1.2"/><circle cx="288.1" cy="146.9" r="0.6"/><circle cx="354.3" cy="114.2" r="0.9"/><circle cx="284.6" cy="158.8" r="0.8"/><circle cx="341.9" cy="118.4" r="0.8"/><circle cx="325.5" cy="142.1" r="1.0"/><circle cx="378.9" cy="109.2" r="0.6"/><circle cx="389.3" cy="84.3" r="1.1"/><circle cx="372.5" cy="104.5" r="1.3"/><circle cx="386.6" cy="79.0" r="0.8"/><circle cx="326.8" cy="124.1" r="0.8"/><circle cx="296.1" cy="142.9" r="0.6"/><circle cx="359.7" cy="109.3" r="0.9"/><circle cx="279.3" cy="160.7" r="1.3"/><circle cx="283.8" cy="160.3" r="0.9"/><circle cx="394.7" cy="55.1" r="0.9"/><circle cx="339.6" cy="125.7" r="0.8"/><circle cx="359.5" cy="85.1" r="1.1"/><circle cx="361.5" cy="85.9" r="1.2"/><circle cx="283.9" cy="158.4" r="0.6"/><circle cx="369.8" cy="116.1" r="1.0"/><circle cx="351.5" cy="83.5" r="1.3"/><circle cx="356.9" cy="89.5" r="1.2"/><circle cx="346.9" cy="127.3" r="1.2"/><circle cx="377.0" cy="83.1" r="0.8"/><circle cx="294.6" cy="145.5" r="1.0"/><circle cx="382.3" cy="104.4" r="0.8"/><circle cx="351.4" cy="118.0" r="0.5"/><circle cx="357.8" cy="118.5" r="0.5"/><circle cx="371.0" cy="98.1" r="0.9"/><circle cx="370.0" cy="80.8" r="0.8"/><circle cx="332.4" cy="134.8" r="1.2"/><circle cx="401.4" cy="70.3" r="0.8"/><circle cx="285.0" cy="151.7" r="1.1"/><circle cx="295.1" cy="142.2" r="0.8"/><circle cx="367.9" cy="108.1" r="1.3"/><circle cx="338.1" cy="119.3" r="1.0"/><circle cx="361.5" cy="113.3" r="0.9"/><circle cx="362.9" cy="120.9" r="1.0"/><circle cx="314.2" cy="141.5" r="1.3"/><circle cx="323.7" cy="134.5" r="0.6"/><circle cx="312.7" cy="132.5" r="0.8"/><circle cx="377.3" cy="76.3" r="0.9"/><circle cx="347.6" cy="125.2" r="1.2"/><circle cx="383.7" cy="85.1" r="1.1"/><circle cx="392.1" cy="67.5" r="0.8"/><circle cx="398.1" cy="57.2" r="0.8"/><circle cx="354.6" cy="84.2" r="0.9"/><circle cx="369.1" cy="85.9" r="0.9"/><circle cx="279.5" cy="167.3" r="0.8"/><circle cx="370.3" cy="109.8" r="1.2"/><circle cx="323.5" cy="133.5" r="0.6"/><circle cx="350.6" cy="114.4" r="1.1"/><circle cx="320.1" cy="127.6" r="0.9"/><circle cx="300.9" cy="149.6" r="0.9"/><circle cx="361.8" cy="122.5" r="1.0"/><circle cx="339.5" cy="126.3" r="1.0"/><circle cx="340.2" cy="128.8" r="0.6"/><circle cx="295.7" cy="153.7" r="0.9"/><circle cx="304.1" cy="147.5" r="0.8"/><circle cx="315.9" cy="139.6" r="1.1"/><circle cx="299.6" cy="137.1" r="1.0"/><circle cx="380.3" cy="105.6" r="1.1"/><circle cx="384.1" cy="78.0" r="0.9"/><circle cx="316.5" cy="141.0" r="0.8"/><circle cx="288.8" cy="159.9" r="0.6"/><circle cx="365.2" cy="106.1" r="0.5"/><circle cx="365.5" cy="98.3" r="0.7"/><circle cx="295.9" cy="139.3" r="0.6"/><circle cx="389.0" cy="70.3" r="0.8"/><circle cx="382.5" cy="99.5" r="0.5"/><circle cx="351.2" cy="85.2" r="1.3"/><circle cx="306.1" cy="145.5" r="0.8"/><circle cx="299.0" cy="138.7" r="0.6"/><circle cx="284.4" cy="158.4" r="0.7"/><circle cx="353.9" cy="92.3" r="0.6"/><circle cx="301.8" cy="136.8" r="1.1"/><circle cx="301.4" cy="151.2" r="1.1"/><circle cx="280.3" cy="148.4" r="1.2"/><circle cx="380.8" cy="105.5" r="0.6"/><circle cx="361.7" cy="122.8" r="0.5"/><circle cx="285.1" cy="157.2" r="0.9"/><circle cx="382.7" cy="106.4" r="1.1"/><circle cx="361.8" cy="111.7" r="1.2"/><circle cx="376.3" cy="78.8" r="0.5"/><circle cx="316.7" cy="129.7" r="0.7"/><circle cx="331.6" cy="137.6" r="0.8"/><circle cx="306.9" cy="144.1" r="0.9"/><circle cx="386.3" cy="71.5" r="1.2"/><circle cx="283.6" cy="149.9" r="0.7"/><circle cx="364.7" cy="92.8" r="1.1"/><circle cx="378.3" cy="75.2" r="1.2"/><circle cx="371.7" cy="117.0" r="0.7"/><circle cx="306.4" cy="134.1" r="0.6"/><circle cx="382.4" cy="98.9" r="1.2"/><circle cx="365.1" cy="101.4" r="1.0"/><circle cx="298.5" cy="139.5" r="1.3"/><circle cx="350.3" cy="83.5" r="0.7"/><circle cx="367.4" cy="77.5" r="1.1"/><circle cx="298.5" cy="144.8" r="0.7"/><circle cx="299.5" cy="147.3" r="0.8"/><circle cx="291.1" cy="142.0" r="0.8"/><circle cx="348.1" cy="114.1" r="0.9"/><circle cx="292.6" cy="152.1" r="1.0"/><circle cx="311.5" cy="138.9" r="0.6"/><circle cx="393.4" cy="63.2" r="0.6"/><circle cx="342.7" cy="122.4" r="0.7"/><circle cx="321.5" cy="129.1" r="0.9"/><circle cx="350.4" cy="124.4" r="0.8"/><circle cx="377.7" cy="82.2" r="0.7"/><circle cx="380.6" cy="70.2" r="0.7"/><circle cx="307.1" cy="150.6" r="0.5"/><circle cx="365.8" cy="80.9" r="0.8"/><circle cx="365.6" cy="112.4" r="1.2"/><circle cx="381.6" cy="101.8" r="0.8"/><circle cx="298.1" cy="139.7" r="0.5"/><circle cx="285.4" cy="160.4" r="1.2"/><circle cx="358.1" cy="120.4" r="1.1"/><circle cx="311.8" cy="136.6" r="0.6"/><circle cx="377.0" cy="102.4" r="1.1"/><circle cx="368.5" cy="86.6" r="1.0"/><circle cx="365.2" cy="83.3" r="1.3"/><circle cx="299.2" cy="151.4" r="0.5"/><circle cx="366.3" cy="101.7" r="0.8"/><circle cx="381.2" cy="110.0" r="1.1"/><circle cx="326.7" cy="136.3" r="0.9"/><circle cx="280.7" cy="157.8" r="0.9"/><circle cx="360.0" cy="94.7" r="0.6"/><circle cx="337.6" cy="125.6" r="0.5"/><circle cx="316.5" cy="135.2" r="0.8"/><circle cx="303.2" cy="135.2" r="0.8"/><circle cx="352.6" cy="84.7" r="1.2"/><circle cx="323.8" cy="130.1" r="0.8"/><circle cx="397.3" cy="72.7" r="1.0"/><circle cx="376.6" cy="70.7" r="1.1"/><circle cx="321.7" cy="131.3" r="1.1"/><circle cx="324.6" cy="128.2" r="0.7"/><circle cx="356.3" cy="114.6" r="1.2"/><circle cx="295.5" cy="158.5" r="0.8"/><circle cx="354.6" cy="109.6" r="0.7"/><circle cx="394.0" cy="54.7" r="0.8"/><circle cx="369.5" cy="75.5" r="1.1"/><circle cx="368.2" cy="76.8" r="1.2"/><circle cx="379.3" cy="78.8" r="0.8"/><circle cx="364.2" cy="71.8" r="1.0"/><circle cx="362.7" cy="72.5" r="0.5"/><circle cx="305.5" cy="146.3" r="1.3"/><circle cx="304.3" cy="136.3" r="1.0"/><circle cx="305.5" cy="139.5" r="0.6"/><circle cx="367.4" cy="75.9" r="0.6"/><circle cx="301.3" cy="139.8" r="1.2"/><circle cx="339.0" cy="135.7" r="1.1"/><circle cx="366.6" cy="85.7" r="0.7"/><circle cx="328.5" cy="140.0" r="1.2"/><circle cx="325.0" cy="137.4" r="1.0"/><circle cx="338.7" cy="126.9" r="1.2"/><circle cx="352.6" cy="127.8" r="0.7"/><circle cx="335.5" cy="128.5" r="0.6"/><circle cx="352.2" cy="116.8" r="1.1"/><circle cx="374.2" cy="99.6" r="0.9"/><circle cx="349.2" cy="125.0" r="0.9"/><circle cx="301.6" cy="153.0" r="0.6"/><circle cx="349.9" cy="130.1" r="0.9"/><circle cx="356.1" cy="126.3" r="1.2"/><circle cx="311.5" cy="144.6" r="0.8"/><circle cx="395.0" cy="74.6" r="0.8"/><circle cx="291.4" cy="147.5" r="0.7"/><circle cx="312.3" cy="144.0" r="1.2"/><circle cx="396.1" cy="80.3" r="1.1"/><circle cx="348.6" cy="117.6" r="1.2"/><circle cx="380.0" cy="99.3" r="0.6"/><circle cx="294.2" cy="150.7" r="1.0"/><circle cx="321.9" cy="134.5" r="0.9"/><circle cx="302.6" cy="149.2" r="1.0"/><circle cx="376.6" cy="80.8" r="1.2"/><circle cx="360.4" cy="89.2" r="1.0"/><circle cx="377.2" cy="86.4" r="0.6"/><circle cx="379.4" cy="97.1" r="1.3"/><circle cx="373.2" cy="104.9" r="0.6"/><circle cx="357.9" cy="86.6" r="1.1"/><circle cx="366.2" cy="87.1" r="1.0"/><circle cx="295.4" cy="140.3" r="0.8"/><circle cx="367.7" cy="73.7" r="1.1"/><circle cx="396.0" cy="62.9" r="1.0"/><circle cx="387.5" cy="74.1" r="0.6"/><circle cx="363.4" cy="93.7" r="0.6"/><circle cx="341.0" cy="135.1" r="0.6"/><circle cx="394.1" cy="51.9" r="1.0"/><circle cx="347.6" cy="117.3" r="1.1"/><circle cx="293.1" cy="152.6" r="0.8"/><circle cx="342.2" cy="128.9" r="0.7"/><circle cx="345.4" cy="130.1" r="0.6"/><circle cx="378.1" cy="76.4" r="0.8"/><circle cx="356.8" cy="118.8" r="0.8"/><circle cx="335.1" cy="124.3" r="1.1"/><circle cx="379.5" cy="106.9" r="0.6"/><circle cx="362.4" cy="97.9" r="1.0"/><circle cx="290.2" cy="155.2" r="1.2"/><circle cx="320.3" cy="139.9" r="0.5"/><circle cx="363.9" cy="111.9" r="1.1"/><circle cx="282.1" cy="153.4" r="0.9"/><circle cx="322.2" cy="126.9" r="0.6"/><circle cx="371.0" cy="94.0" r="0.7"/><circle cx="395.4" cy="65.8" r="0.5"/><circle cx="360.6" cy="94.2" r="0.7"/><circle cx="388.6" cy="81.5" r="1.0"/><circle cx="299.5" cy="137.0" r="0.9"/><circle cx="333.1" cy="126.8" r="1.1"/><circle cx="382.4" cy="108.8" r="1.0"/><circle cx="356.9" cy="122.3" r="1.2"/><circle cx="385.0" cy="79.1" r="0.8"/><circle cx="388.9" cy="61.0" r="0.6"/><circle cx="367.5" cy="91.7" r="0.8"/><circle cx="333.7" cy="129.0" r="1.0"/><circle cx="394.2" cy="50.2" r="1.1"/><circle cx="396.5" cy="73.3" r="0.8"/><circle cx="375.6" cy="91.2" r="0.7"/><circle cx="302.8" cy="141.6" r="0.8"/><circle cx="354.2" cy="83.0" r="1.2"/><circle cx="314.0" cy="130.1" r="0.6"/><circle cx="363.3" cy="116.2" r="1.1"/><circle cx="357.7" cy="85.4" r="0.6"/><circle cx="400.7" cy="72.8" r="0.9"/><circle cx="374.3" cy="77.2" r="0.8"/><circle cx="366.3" cy="115.2" r="0.7"/><circle cx="341.3" cy="124.9" r="0.6"/><circle cx="331.0" cy="126.2" r="1.3"/><circle cx="351.9" cy="86.9" r="1.0"/><circle cx="301.3" cy="146.2" r="1.1"/><circle cx="348.7" cy="128.9" r="0.8"/><circle cx="362.6" cy="97.3" r="0.6"/></g><g fill="#3a7d3e" opacity="0.8" filter="url(#bl)"><circle cx="298.3" cy="155.6" r="0.7"/><circle cx="351.5" cy="116.9" r="0.9"/><circle cx="392.8" cy="68.6" r="1.0"/><circle cx="371.4" cy="92.9" r="0.7"/><circle cx="317.1" cy="136.5" r="0.8"/><circle cx="390.9" cy="62.8" r="0.6"/><circle cx="305.8" cy="137.0" r="0.7"/><circle cx="362.2" cy="87.2" r="0.9"/><circle cx="387.2" cy="74.9" r="0.7"/><circle cx="292.2" cy="156.0" r="0.7"/><circle cx="297.5" cy="143.5" r="0.6"/><circle cx="308.5" cy="136.7" r="0.8"/><circle cx="378.8" cy="84.0" r="0.8"/><circle cx="358.8" cy="87.6" r="0.6"/><circle cx="302.5" cy="137.2" r="0.6"/><circle cx="326.6" cy="137.0" r="1.1"/><circle cx="372.9" cy="107.8" r="0.8"/><circle cx="371.2" cy="85.4" r="0.9"/><circle cx="306.2" cy="137.2" r="1.0"/><circle cx="297.3" cy="142.7" r="0.5"/><circle cx="346.1" cy="132.2" r="0.7"/><circle cx="377.6" cy="99.2" r="1.1"/><circle cx="388.7" cy="62.1" r="0.9"/><circle cx="345.3" cy="118.5" r="0.9"/><circle cx="354.9" cy="117.4" r="0.9"/><circle cx="290.5" cy="155.7" r="0.7"/><circle cx="294.1" cy="157.1" r="1.0"/><circle cx="399.7" cy="67.0" r="0.6"/><circle cx="358.2" cy="84.4" r="0.9"/><circle cx="281.0" cy="151.5" r="1.1"/><circle cx="288.8" cy="158.6" r="0.6"/><circle cx="365.6" cy="103.9" r="0.9"/><circle cx="314.6" cy="143.2" r="0.6"/><circle cx="396.0" cy="60.3" r="0.6"/><circle cx="392.6" cy="57.3" r="1.1"/><circle cx="303.2" cy="151.3" r="1.1"/><circle cx="387.3" cy="67.8" r="0.9"/><circle cx="281.0" cy="152.6" r="0.6"/><circle cx="358.4" cy="82.7" r="1.0"/><circle cx="377.4" cy="76.1" r="0.6"/><circle cx="326.8" cy="132.0" r="0.5"/><circle cx="388.8" cy="62.2" r="0.7"/><circle cx="303.8" cy="143.2" r="1.1"/><circle cx="371.7" cy="78.7" r="0.8"/><circle cx="372.3" cy="88.5" r="0.7"/><circle cx="342.3" cy="133.5" r="0.8"/><circle cx="283.8" cy="150.9" r="0.8"/><circle cx="361.1" cy="90.2" r="0.5"/><circle cx="374.5" cy="71.4" r="0.9"/><circle cx="345.9" cy="120.5" r="1.0"/><circle cx="279.3" cy="161.8" r="0.6"/><circle cx="381.8" cy="101.5" r="0.8"/><circle cx="285.0" cy="163.5" r="0.5"/><circle cx="340.5" cy="120.8" r="0.6"/><circle cx="359.0" cy="83.0" r="0.8"/><circle cx="291.9" cy="147.6" r="0.7"/><circle cx="364.5" cy="92.7" r="1.1"/><circle cx="313.8" cy="136.7" r="1.0"/><circle cx="387.9" cy="63.7" r="0.8"/><circle cx="356.7" cy="89.1" r="0.6"/><circle cx="358.3" cy="116.5" r="1.0"/><circle cx="297.9" cy="149.3" r="0.8"/><circle cx="382.2" cy="75.7" r="0.6"/><circle cx="368.2" cy="100.1" r="0.8"/><circle cx="357.6" cy="114.3" r="0.6"/><circle cx="397.7" cy="68.8" r="0.5"/><circle cx="368.2" cy="87.4" r="0.5"/><circle cx="297.4" cy="143.7" r="1.0"/><circle cx="378.9" cy="72.7" r="0.6"/><circle cx="282.8" cy="161.7" r="1.0"/><circle cx="360.0" cy="95.3" r="1.0"/><circle cx="371.9" cy="95.1" r="0.5"/><circle cx="373.8" cy="93.3" r="0.8"/><circle cx="382.3" cy="100.7" r="0.8"/><circle cx="378.6" cy="103.5" r="0.9"/><circle cx="288.1" cy="152.9" r="0.8"/><circle cx="283.2" cy="151.2" r="1.0"/><circle cx="382.1" cy="78.0" r="0.5"/><circle cx="332.6" cy="137.4" r="0.8"/><circle cx="367.4" cy="80.5" r="1.0"/><circle cx="354.0" cy="120.3" r="0.6"/><circle cx="387.4" cy="62.4" r="0.8"/><circle cx="323.3" cy="131.9" r="1.0"/><circle cx="361.2" cy="122.4" r="0.6"/><circle cx="342.1" cy="133.9" r="1.1"/><circle cx="344.2" cy="124.4" r="1.1"/><circle cx="288.3" cy="147.1" r="0.5"/><circle cx="396.3" cy="62.5" r="0.9"/><circle cx="345.0" cy="118.2" r="0.7"/><circle cx="295.2" cy="144.5" r="0.5"/><circle cx="396.3" cy="78.4" r="1.0"/><circle cx="362.6" cy="108.9" r="0.7"/><circle cx="353.1" cy="116.3" r="1.0"/><circle cx="291.2" cy="154.2" r="0.9"/><circle cx="361.0" cy="114.6" r="1.0"/><circle cx="310.6" cy="135.2" r="0.5"/><circle cx="393.3" cy="75.4" r="0.7"/><circle cx="375.3" cy="90.1" r="0.8"/><circle cx="331.5" cy="136.0" r="1.0"/><circle cx="392.1" cy="57.3" r="0.6"/><circle cx="342.4" cy="123.6" r="0.8"/><circle cx="360.5" cy="119.7" r="0.5"/><circle cx="379.5" cy="92.7" r="0.9"/><circle cx="366.9" cy="115.8" r="0.8"/><circle cx="281.9" cy="150.3" r="0.7"/><circle cx="286.2" cy="158.7" r="0.6"/><circle cx="371.5" cy="115.7" r="0.8"/><circle cx="369.4" cy="116.6" r="1.1"/><circle cx="279.7" cy="162.6" r="0.5"/><circle cx="279.9" cy="161.5" r="1.1"/><circle cx="317.6" cy="137.2" r="0.7"/><circle cx="326.2" cy="139.1" r="0.8"/><circle cx="334.5" cy="126.4" r="1.1"/><circle cx="378.6" cy="93.5" r="0.7"/><circle cx="298.5" cy="143.3" r="1.0"/><circle cx="391.0" cy="55.1" r="1.1"/><circle cx="380.0" cy="72.8" r="0.5"/><circle cx="398.4" cy="73.4" r="0.8"/><circle cx="316.0" cy="142.6" r="0.8"/><circle cx="283.5" cy="157.7" r="0.6"/><circle cx="310.2" cy="144.8" r="0.9"/><circle cx="350.2" cy="127.7" r="0.7"/><circle cx="360.8" cy="116.8" r="0.9"/><circle cx="312.5" cy="136.4" r="0.6"/><circle cx="285.5" cy="157.9" r="1.0"/><circle cx="363.2" cy="96.5" r="0.5"/><circle cx="378.7" cy="71.1" r="0.8"/><circle cx="388.8" cy="79.3" r="0.7"/><circle cx="356.7" cy="87.9" r="0.7"/><circle cx="313.4" cy="143.3" r="0.8"/><circle cx="332.6" cy="126.3" r="0.8"/><circle cx="399.1" cy="73.7" r="0.9"/><circle cx="363.2" cy="97.4" r="0.9"/><circle cx="290.9" cy="151.9" r="0.7"/><circle cx="374.9" cy="81.5" r="0.6"/><circle cx="400.1" cy="65.1" r="0.8"/><circle cx="281.9" cy="157.0" r="1.0"/><circle cx="297.8" cy="143.0" r="1.0"/><circle cx="382.8" cy="80.9" r="1.0"/><circle cx="291.5" cy="144.2" r="0.5"/><circle cx="387.1" cy="64.5" r="0.6"/><circle cx="286.3" cy="156.5" r="0.8"/><circle cx="322.7" cy="134.0" r="0.7"/><circle cx="287.2" cy="151.2" r="0.5"/><circle cx="365.9" cy="87.6" r="0.8"/><circle cx="373.4" cy="107.5" r="1.1"/><circle cx="371.2" cy="90.5" r="1.0"/><circle cx="363.5" cy="73.0" r="1.0"/><circle cx="367.9" cy="92.7" r="1.0"/><circle cx="329.0" cy="127.7" r="0.8"/><circle cx="329.9" cy="132.6" r="0.6"/><circle cx="367.6" cy="109.3" r="0.9"/><circle cx="317.8" cy="133.5" r="0.9"/><circle cx="398.2" cy="66.4" r="0.6"/><circle cx="315.1" cy="146.1" r="0.6"/><circle cx="367.0" cy="88.8" r="0.5"/><circle cx="367.7" cy="90.4" r="1.0"/><circle cx="376.5" cy="70.6" r="0.7"/><circle cx="282.1" cy="154.1" r="0.7"/><circle cx="389.1" cy="78.4" r="0.8"/><circle cx="364.5" cy="86.8" r="0.8"/><circle cx="286.7" cy="154.2" r="0.7"/><circle cx="365.6" cy="117.4" r="1.1"/><circle cx="294.7" cy="145.7" r="1.0"/><circle cx="390.0" cy="56.0" r="0.7"/><circle cx="355.8" cy="121.8" r="1.0"/><circle cx="313.4" cy="140.7" r="0.9"/><circle cx="388.4" cy="67.2" r="1.1"/><circle cx="298.7" cy="146.6" r="0.7"/><circle cx="352.9" cy="85.4" r="1.0"/><circle cx="303.4" cy="151.0" r="0.8"/><circle cx="371.8" cy="100.2" r="1.1"/><circle cx="369.9" cy="104.7" r="0.9"/><circle cx="363.5" cy="74.0" r="0.8"/><circle cx="364.1" cy="85.3" r="0.6"/><circle cx="347.7" cy="130.4" r="0.9"/><circle cx="292.7" cy="146.7" r="0.9"/><circle cx="311.8" cy="143.5" r="0.7"/><circle cx="359.0" cy="122.1" r="0.6"/><circle cx="359.8" cy="85.8" r="1.1"/><circle cx="380.4" cy="97.9" r="0.6"/><circle cx="337.6" cy="130.6" r="0.6"/><circle cx="361.2" cy="118.1" r="0.9"/><circle cx="329.2" cy="131.4" r="0.6"/><circle cx="366.2" cy="112.4" r="0.9"/><circle cx="280.8" cy="155.2" r="1.0"/><circle cx="284.2" cy="154.3" r="0.6"/><circle cx="322.6" cy="137.8" r="1.0"/><circle cx="372.1" cy="86.9" r="0.8"/><circle cx="356.4" cy="87.4" r="0.7"/><circle cx="330.9" cy="124.1" r="0.5"/><circle cx="337.2" cy="131.3" r="0.6"/><circle cx="365.6" cy="75.0" r="0.6"/><circle cx="338.6" cy="124.0" r="0.8"/><circle cx="364.9" cy="106.3" r="0.8"/><circle cx="307.8" cy="137.6" r="1.0"/><circle cx="369.8" cy="87.0" r="0.9"/><circle cx="288.4" cy="146.3" r="0.7"/><circle cx="399.9" cy="73.1" r="1.0"/><circle cx="307.6" cy="140.5" r="1.1"/></g></g></svg><rect x="279" y="12" width="169" height="1.3" fill="#153517" opacity="0.6"/><rect x="446.8" y="12" width="1.2" height="169" fill="#1d4a20" opacity="0.5"/><rect x="279" y="12" width="1.2" height="169" fill="#1d4a20" opacity="0.5"/><circle cx="416.5" cy="178.3" r="6" fill="#2f9a2f"/></g>
<!-- PLOT C -->
<g id="pc"><svg x="0" y="0" width="680" height="270" overflow="visible"><clipPath id="cc"><rect x="504" y="12" width="170" height="169"/></clipPath><g clip-path="url(#cc)"><g stroke="#5a2a10" stroke-width="0.5" stroke-opacity="0.35"><rect x="504" y="12" width="170" height="169" fill="#dc8f4e"/><path d="M506.4,12.0L552.0,12.0C552.2,16.7 552.8,30.3 553.0,40.0C553.2,49.7 553.7,62.0 553.5,70.0C553.3,78.0 552.9,85.0 552.0,88.0C551.1,91.0 549.1,89.0 548.0,88.0C546.9,87.0 547.9,85.2 545.5,82.0C543.1,78.8 538.2,73.2 533.7,69.0C529.2,64.8 522.8,61.5 518.8,57.0C514.8,52.5 512.0,47.5 510.0,42.0C508.0,36.5 507.6,29.0 507.0,24.0C506.4,19.0 506.5,14.0 506.4,12.0Z" fill="#e89c58" /><path d="M514.0,12.0L534.0,12.0C534.4,14.5 535.4,21.9 536.6,26.8C537.8,31.8 539.6,36.2 541.1,41.7C542.6,47.2 544.3,53.5 545.5,59.5C546.7,65.5 549.0,76.5 548.5,78.0C548.0,79.5 545.6,73.5 542.6,68.4C539.6,63.3 534.2,54.0 530.7,47.6C527.2,41.2 524.6,35.7 521.8,29.8C519.0,23.9 515.3,15.0 514.0,12.0Z" fill="#f2aa6a" /><path d="M504.0,72.0C505.7,71.5 510.5,68.7 514.0,69.0C517.5,69.3 521.3,71.3 525.0,74.0C528.7,76.7 532.5,81.0 536.0,85.0C539.5,89.0 543.5,94.8 546.0,98.0C548.5,101.2 549.5,103.3 551.0,104.0C552.5,104.7 553.8,104.0 555.0,102.0C556.2,100.0 557.3,97.3 558.0,92.0C558.7,86.7 558.8,78.7 559.0,70.0C559.2,61.3 558.9,49.7 559.0,40.0C559.1,30.3 559.4,16.7 559.5,12.0L674.0,12.0L674.0,181.0L504.0,181.0L504.0,72.0Z" fill="#cf8446" /><path d="M504.0,83.0C505.7,82.5 510.5,79.8 514.0,80.0C517.5,80.2 521.3,81.8 525.0,84.0C528.7,86.2 532.8,89.7 536.0,93.0C539.2,96.3 541.7,100.7 544.0,104.0C546.3,107.3 548.0,111.3 550.0,113.0C552.0,114.7 554.3,115.3 556.0,114.0C557.7,112.7 559.1,110.7 560.0,105.0C560.9,99.3 561.2,89.2 561.5,80.0C561.8,70.8 561.4,58.3 561.5,50.0C561.6,41.7 561.8,36.3 562.0,30.0C562.2,23.7 562.4,15.0 562.5,12.0L674.0,12.0L674.0,181.0L504.0,181.0L504.0,83.0Z" fill="#c27a40" /><path d="M504.0,110.0C504.5,109.0 505.8,105.7 507.0,104.0C508.2,102.3 509.1,100.9 511.4,99.8C513.7,98.7 516.7,97.0 520.7,97.6C524.7,98.2 531.6,101.6 535.5,103.5C539.4,105.4 541.6,106.6 544.0,109.0C546.4,111.4 547.8,113.2 550.0,118.0C552.2,122.8 555.3,131.0 557.5,138.0C559.7,145.0 561.6,152.8 563.0,160.0C564.4,167.2 565.5,177.5 566.0,181.0L504.0,181.0L504.0,110.0Z" fill="#b46e3a" /><path d="M504.0,128.0C504.3,126.7 504.2,122.5 506.0,120.0C507.8,117.5 512.2,114.3 515.0,112.8C517.8,111.3 519.7,110.8 522.5,111.0C525.3,111.2 528.7,112.3 531.8,113.7C534.9,115.1 538.5,116.9 541.0,119.3C543.5,121.7 545.0,124.0 547.0,128.0C549.0,131.9 551.0,137.7 553.0,143.0C555.0,148.3 557.2,153.7 559.0,160.0C560.8,166.3 562.8,177.5 563.5,181.0L504.0,181.0L504.0,128.0Z" fill="#a66334" /><path d="M504.0,162.0C504.6,160.5 505.6,157.4 507.8,153.0C510.1,148.6 514.0,139.3 517.5,135.8C521.0,132.3 525.2,132.0 529.0,132.0C532.8,132.0 537.0,133.2 540.5,135.8C544.0,138.4 547.1,142.5 550.0,147.3C552.9,152.1 556.0,159.0 557.8,164.6C559.6,170.2 560.5,178.3 561.0,181.0L504.0,181.0L504.0,162.0Z" fill="#98582d" /><path d="M511.0,181.0C511.8,178.9 513.5,173.5 515.5,168.5C517.5,163.5 520.3,155.0 523.2,151.2C526.1,147.3 529.6,145.7 532.8,145.4C536.0,145.1 539.6,146.3 542.5,149.2C545.4,152.1 548.0,157.4 550.0,162.7C552.0,168.0 553.8,177.9 554.5,181.0L511.0,181.0Z" fill="#8a4d27" /><path d="M564.0,12.0C564.3,15.0 564.8,23.7 566.0,30.0C567.2,36.3 569.7,43.3 571.0,50.0C572.3,56.7 573.5,61.7 574.0,70.0C574.5,78.3 573.8,90.0 574.0,100.0C574.2,110.0 574.7,120.0 575.0,130.0C575.3,140.0 575.7,151.5 576.0,160.0C576.3,168.5 576.8,177.5 577.0,181.0L674.0,181.0L674.0,12.0L564.0,12.0Z" fill="#b46e3a" /><path d="M565.5,12.0C565.9,15.0 566.8,23.7 568.0,30.0C569.2,36.3 571.5,43.3 573.0,50.0C574.5,56.7 576.2,61.7 577.0,70.0C577.8,78.3 577.7,90.0 578.0,100.0C578.3,110.0 578.7,120.0 579.0,130.0C579.3,140.0 579.7,151.5 580.0,160.0C580.3,168.5 580.8,177.5 581.0,181.0L674.0,181.0L674.0,43.4C672.9,43.7 670.2,45.0 667.6,45.0C665.0,45.0 660.8,44.7 658.2,43.4C655.6,42.1 653.7,40.3 651.9,37.2C650.1,34.1 648.2,28.8 647.2,24.6C646.2,20.4 645.9,14.1 645.6,12.0L565.5,12.0Z" fill="#a66334" /><path d="M567.0,12.0C567.5,15.0 568.7,23.7 570.0,30.0C571.3,36.3 573.3,43.3 575.0,50.0C576.7,56.7 578.7,61.7 580.0,70.0C581.3,78.3 582.3,90.0 583.0,100.0C583.7,110.0 583.7,120.0 584.0,130.0C584.3,140.0 584.7,151.5 585.0,160.0C585.3,168.5 585.8,177.5 586.0,181.0L674.0,181.0L674.0,150.0C673.7,149.2 673.4,149.2 672.0,145.0C670.6,140.8 668.0,131.2 665.6,124.8C663.2,118.4 660.4,112.2 657.8,106.6C655.2,101.0 652.6,96.2 650.0,91.0C647.4,85.8 644.6,81.8 642.3,75.5C640.0,69.2 638.0,59.9 636.0,53.0C634.0,46.1 631.3,40.8 630.0,34.0C628.7,27.2 628.6,15.7 628.3,12.0L567.0,12.0Z" fill="#98582d" /><path d="M568.5,12.0C569.1,15.0 570.6,23.7 572.0,30.0C573.4,36.3 575.2,43.3 577.0,50.0C578.8,56.7 581.2,61.7 583.0,70.0C584.8,78.3 587.0,90.0 588.0,100.0C589.0,110.0 588.7,120.0 589.0,130.0C589.3,140.0 589.7,151.5 590.0,160.0C590.3,168.5 590.8,177.5 591.0,181.0L665.0,181.0C664.5,179.2 663.7,175.2 662.0,170.0C660.3,164.8 658.2,157.5 655.0,150.0C651.8,142.5 647.2,132.7 643.0,125.0C638.8,117.3 634.2,110.5 630.0,104.0C625.8,97.5 621.3,91.2 618.0,85.9C614.7,80.6 612.2,76.5 610.0,72.0C607.8,67.5 606.9,64.8 604.7,59.0C602.5,53.2 598.6,44.8 597.0,37.0C595.4,29.2 595.6,16.2 595.3,12.0L568.5,12.0Z" fill="#8a4d27" /><path d="M522.0,181.0C522.5,178.3 523.2,169.5 525.0,165.0C526.8,160.5 530.3,156.1 533.0,154.0C535.7,151.9 538.5,151.8 541.0,152.5C543.5,153.2 546.0,155.1 548.0,158.0C550.0,160.9 551.8,166.2 553.0,170.0C554.2,173.8 554.7,179.2 555.0,181.0L522.0,181.0Z" fill="#7c4422" /><path d="M527.0,181.0C527.3,178.8 527.7,171.8 529.0,168.0C530.3,164.2 533.0,160.0 535.0,158.0C537.0,156.0 539.0,155.7 541.0,156.0C543.0,156.3 545.3,157.7 547.0,160.0C548.7,162.3 550.0,166.5 551.0,170.0C552.0,173.5 552.7,179.2 553.0,181.0L527.0,181.0Z" fill="#6c3a1c" /><path d="M531.0,181.0C531.3,178.8 531.3,171.5 533.0,168.0C534.7,164.5 538.5,160.5 541.0,160.0C543.5,159.5 546.3,161.5 548.0,165.0C549.7,168.5 550.5,178.3 551.0,181.0L531.0,181.0Z" fill="#5a2e16" /><path d="M575.0,44.0C574.2,44.3 572.5,45.3 574.0,50.0C575.5,54.7 581.2,63.7 584.0,72.0C586.8,80.3 589.7,91.2 591.0,100.0C592.3,108.8 591.7,116.7 592.0,125.0C592.3,133.3 592.7,140.7 593.0,150.0C593.3,159.3 593.8,175.8 594.0,181.0L642.0,181.0C640.8,177.5 637.7,167.7 635.0,160.0C632.3,152.3 629.0,143.0 626.0,135.0C623.0,127.0 620.0,118.5 617.0,112.0C614.0,105.5 611.1,101.4 608.0,96.3C604.9,91.2 601.6,86.3 598.4,81.2C595.2,76.1 592.2,71.0 589.0,65.5C585.8,60.0 581.3,51.6 579.0,48.0C576.7,44.4 575.8,43.7 575.0,44.0Z" fill="#7c4422" /><path d="M580.0,58.0C579.2,57.8 577.8,57.3 579.0,61.0C580.2,64.7 584.7,73.5 587.0,80.0C589.3,86.5 591.7,92.5 593.0,100.0C594.3,107.5 594.5,116.7 595.0,125.0C595.5,133.3 595.7,140.7 596.0,150.0C596.3,159.3 596.8,175.8 597.0,181.0L612.0,181.0C611.0,176.7 607.8,163.8 606.0,155.0C604.2,146.2 602.3,137.2 601.0,128.0C599.7,118.8 599.7,108.0 598.0,100.0C596.3,92.0 593.3,86.3 591.0,80.0C588.7,73.7 585.8,65.7 584.0,62.0C582.2,58.3 580.8,58.2 580.0,58.0Z" fill="#6c3a1c" /><rect x="504" y="12" width="2.2" height="60" fill="#c8804a"/><rect x="560" y="12" width="55" height="1.5" fill="#7a4020" opacity="0.7"/></g></g></svg><circle cx="531.3" cy="15.3" r="5.2" fill="#e0552a" stroke="#c84a22" stroke-width="0.8"/></g>

<!-- y tick labels -->
<g class="t" text-anchor="end">
<text x="46.6" y="15.1">0.4</text><text x="46.6" y="41.7">0.35</text><text x="46.6" y="68.3">0.3</text><text x="46.6" y="94.8">0.25</text><text x="46.6" y="121.4">0.2</text><text x="46.6" y="148.0">0.15</text><text x="46.6" y="174.6">0.1</text>
<text x="275.6" y="15.1">0.4</text><text x="275.6" y="41.7">0.35</text><text x="275.6" y="68.3">0.3</text><text x="275.6" y="94.8">0.25</text><text x="275.6" y="121.4">0.2</text><text x="275.6" y="148.0">0.15</text><text x="275.6" y="174.6">0.1</text>
<text x="501.1" y="15.1">0.4</text><text x="501.1" y="41.7">0.35</text><text x="501.1" y="68.3">0.3</text><text x="501.1" y="94.8">0.25</text><text x="501.1" y="121.4">0.2</text><text x="501.1" y="148.0">0.15</text><text x="501.1" y="174.6">0.1</text>
</g>
<!-- y axis labels -->
<text class="yl" transform="translate(15.8,131) rotate(-90)">Amplitude (m)</text>
<text class="yl" transform="translate(244.2,133.5) rotate(-90)">Amplitude (m)</text>
<text class="yl" transform="translate(472.2,133.5) rotate(-90)">Amplitude (m)</text>

<!-- x tick labels -->
<g class="t" text-anchor="middle">
<text x="79" y="191.5">-1</text><text x="134.7" y="191.5">0</text><text x="188.7" y="191.5">1</text>
<text x="277" y="191.5">-π/2</text><text x="319.5" y="191.5">-π/4</text><text x="363.7" y="191.5">0</text><text x="405.5" y="191.5">π/4</text><text x="446.7" y="191.5">π/2</text>
<text x="502.5" y="191.5">-π/2</text><text x="545" y="191.5">-π/4</text><text x="589" y="191.5">0</text><text x="630.5" y="191.5">π/4</text><text x="672.5" y="191.5">π/2</text>
</g>
<!-- x axis labels -->
<text class="xl" x="114" y="212">θ<tspan font-size="10" dy="4.5">0</tspan><tspan dy="-4.5"> (rad)</tspan></text>
<text class="xl" x="343" y="211">0<tspan font-size="10" dy="4.5">0</tspan><tspan dy="-4.5"> (rad)</tspan></text>
<text class="xl" x="568" y="211.5">0<tspan font-size="10" dy="4.5">0</tspan><tspan dy="-4.5"> (rad)</tspan></text>

<!-- legends -->
<circle cx="75.3" cy="225.3" r="6.2" fill="#2b8fd0"/>
<text class="lg" x="85" y="229" fill="#3a7fb9" style="fill:#3a7fb9;stroke:none">Maximum Predictability</text>
<circle cx="321.8" cy="226" r="5.3" fill="#2e962e"/>
<text class="lg" x="334" y="229.5" style="fill:#3d913d;stroke:none">Mimimum Force</text>
<circle cx="530.2" cy="226" r="5.3" fill="#d9531e"/>
<text class="lg" x="542.5" y="229.3" style="fill:#dc6a3e;stroke:none">Maximum Smoothness</text>

<!-- colorbars -->
<g id="cba"><rect x="50" y="233.5" width="13" height="10.0" fill="#0b0a16"/><rect x="63" y="233.5" width="18" height="10.0" fill="#0e0d1c"/><rect x="81" y="233.5" width="18" height="10.0" fill="#111023"/><rect x="99" y="233.5" width="18" height="10.0" fill="#1a1936"/><rect x="117" y="233.5" width="18" height="10.0" fill="#24234a"/><rect x="135" y="233.5" width="18" height="10.0" fill="#2c2b5c"/><rect x="153" y="233.5" width="19" height="10.0" fill="#34336a"/><rect x="172" y="233.5" width="18" height="10.0" fill="#3b3a70"/><rect x="190" y="233.5" width="18" height="10.0" fill="#48477f"/><rect x="208" y="233.5" width="11" height="10.0" fill="#5c5a97"/></g>
<g id="cbb"><rect x="279" y="232.5" width="21" height="10.0" fill="#8dcd89"/><rect x="300" y="232.5" width="21" height="10.0" fill="#78c079"/><rect x="321" y="232.5" width="21" height="10.0" fill="#63b066"/><rect x="342" y="232.5" width="22" height="10.0" fill="#4b9e50"/><rect x="364" y="232.5" width="21" height="10.0" fill="#3a8a41"/><rect x="385" y="232.5" width="21" height="10.0" fill="#2b7030"/><rect x="406" y="232.5" width="21" height="10.0" fill="#1d5322"/><rect x="427" y="232.5" width="22" height="10.0" fill="#0f3513"/></g>
<g id="cbc"><rect x="504" y="232.5" width="13" height="10.0" fill="#ec8b3c"/><rect x="517" y="232.5" width="17" height="10.0" fill="#e68d48"/><rect x="534" y="232.5" width="17" height="10.0" fill="#d9844a"/><rect x="551" y="232.5" width="17" height="10.0" fill="#cd7a40"/><rect x="568" y="232.5" width="17" height="10.0" fill="#b96a35"/><rect x="585" y="232.5" width="18" height="10.0" fill="#a5592a"/><rect x="603" y="232.5" width="17" height="10.0" fill="#9a5329"/><rect x="620" y="232.5" width="17" height="10.0" fill="#7c401e"/><rect x="637" y="232.5" width="18" height="10.0" fill="#743a1b"/><rect x="655" y="232.5" width="19" height="10.0" fill="#5c2b14"/></g>

<!-- colorbar labels -->
<g class="cb" text-anchor="middle">
<text x="73" y="253.5">0.05</text><text x="117.5" y="253.5">0.1</text><text x="162.5" y="253.5">0.15</text><text x="208" y="253.5">0.2</text>
<text x="279.3" y="253">0</text><text x="321.7" y="253">2</text><text x="364" y="253">4</text><text x="406.5" y="253">6</text><text x="448.7" y="253">8</text>
<text x="542" y="252.5">0.15</text><text x="584.5" y="252.5">0.2</text><text x="626.7" y="252.5">0.25</text><text x="669.5" y="252.5">0.3</text>
</g>
<text class="cb" x="81" y="263.7">Mutual Information (nat)</text>
<text class="cb" x="303.5" y="262">Log<tspan font-size="8" dy="3">2</tspan><tspan dy="-3"> Mean Squared Force</tspan></text>
<text class="cb" x="543" y="262">Normalized Ball Jerk</text>
</svg>
</body></html>
